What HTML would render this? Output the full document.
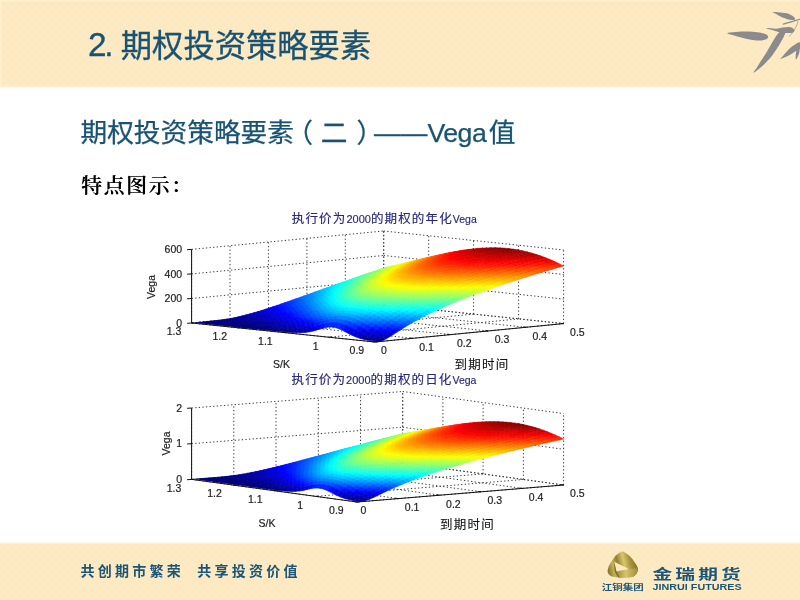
<!DOCTYPE html>
<html lang="zh-CN">
<head>
<meta charset="utf-8">
<title>期权投资策略要素 - Vega值</title>
<style>
html,body{margin:0;padding:0;}
body{width:800px;height:600px;overflow:hidden;background:#fff;position:relative;font-family:"Liberation Sans","Noto Sans CJK SC",sans-serif;}
.abs{position:absolute;white-space:nowrap;line-height:1;}
.hdr{left:0;top:0;width:800px;height:86px;background:#fce9c1;}
.hdr-fade{left:0;top:86px;width:800px;height:2px;background:linear-gradient(#fce9c1,#fff);}
.ftr{left:0;top:543px;width:800px;height:57px;background:#fce9c1;}
.ftr-fade{left:0;top:541.5px;width:800px;height:2px;background:linear-gradient(#fff,#fce9c1);}
.title{left:88px;top:31px;font-size:31.3px;color:#195373;word-spacing:-2px;-webkit-text-stroke:0.3px #195373;}
.sub{left:80.5px;top:119.5px;font-size:26.7px;color:#195373;-webkit-text-stroke:0.25px #195373;}
.sub span{position:relative;}
.feat{left:81px;top:176.3px;font-size:20.8px;letter-spacing:1.7px;color:#000;font-family:"Liberation Serif","Noto Serif CJK SC",serif;font-weight:500;text-shadow:0.55px 0 0 #000;}
.slogan{top:564.4px;font-size:14px;font-weight:700;color:#1b5577;letter-spacing:3.25px;}
.charts{position:absolute;left:0;top:0;}
.pat{position:absolute;left:0;top:0;}
</style>
</head>
<body>
<div class="abs hdr"></div>
<div class="abs hdr-fade"></div>
<div class="abs ftr"></div>
<div class="abs ftr-fade"></div>
<svg class="pat" width="800" height="600" viewBox="0 0 800 600">
<defs>
<pattern id="lat" width="8" height="8" patternUnits="userSpaceOnUse">
<path d="M0 4L4 0L8 4L4 8Z" fill="none" stroke="#fff4d8" stroke-width="0.8" opacity="0.22"/>
</pattern>
</defs>
<rect x="0" y="0" width="800" height="86" fill="url(#lat)"/>
<rect x="0" y="544" width="800" height="56" fill="url(#lat)"/>
<rect x="0" y="0" width="800" height="1.5" fill="#fef1cc" opacity="0.9"/>
<rect x="0" y="0" width="2" height="86" fill="#fef1cc" opacity="0.9"/>
</svg>
<!-- bamboo leaves -->
<svg class="abs" style="left:720px;top:0" width="80" height="80" viewBox="0 0 600 600">
<g fill="#8b8b8e" stroke="none">
<path d="M55 248C58 244 96 242 120 240C144 238 173 237 200 237C227 237 257 239 280 242C303 245 326 250 340 255C354 260 359 267 361 273C363 279 360 287 350 292C340 297 320 303 300 304C280 305 253 302 230 298C207 294 182 288 160 282C138 276 118 270 100 264C82 258 52 252 55 248Z"/>
<path d="M492 238C489 232 470 236 460 238C450 240 448 237 435 252C422 267 400 305 385 330C370 355 358 378 345 400C332 422 316 442 305 460C294 478 287 491 278 505C269 519 248 544 252 545C256 546 284 523 300 510C316 497 330 483 345 468C360 453 377 435 390 418C403 401 414 385 425 368C436 351 446 334 455 318C464 302 474 285 480 272C486 259 495 244 492 238Z"/>
<path d="M395 90C399 88 422 90 440 92C458 94 482 95 500 100C518 105 534 113 545 120C556 127 563 135 563 140C563 145 556 150 545 150C534 150 516 147 500 142C484 137 464 129 450 122C436 115 424 107 415 102C406 97 391 92 395 90Z"/>
<path d="M348 211C353 209 400 216 420 215C440 214 453 208 470 206C487 204 507 202 520 203C533 204 544 210 550 215C556 220 560 227 558 232C556 237 551 242 540 245C529 248 507 249 490 248C473 247 457 244 440 240C423 236 405 230 390 225C375 220 343 213 348 211Z"/>
<path d="M455 442C449 441 469 423 480 410C491 397 507 378 520 365C533 352 547 343 560 335C573 327 593 313 600 318C607 323 607 353 600 365C593 377 574 379 560 388C546 397 532 408 515 417C498 426 461 443 455 442Z"/>
<path d="M592 335C596 337 598 366 597 380C596 394 590 409 585 420C580 431 573 449 570 447C567 445 567 423 568 410C569 397 572 382 576 370C580 358 588 333 592 335Z"/>
</g>
<g fill="none" stroke="#8b8b8e" stroke-width="9" stroke-linecap="round">
<path d="M600 144C560 156 515 170 475 181"/>
<path d="M585 160C578 190 562 225 522 272" stroke-width="5"/>
</g>
</svg>
<div class="abs title" style="left:88px;top:28.2px;font-size:33.4px;letter-spacing:-2.4px">2.</div>
<div class="abs title" style="left:120.8px">期权投资策略要素</div>
<div class="abs sub">期权投资策略要素<span style="left:-7.8px">（</span>二<span style="left:9px">）</span>——<span style="letter-spacing:-0.5px;margin-right:2.4px">Vega</span>值</div>
<div class="abs feat">特点图示：</div>
<svg class="charts" width="800" height="600" viewBox="0 0 800 600">
<defs><filter id="sb" x="-5%" y="-5%" width="110%" height="110%"><feGaussianBlur stdDeviation="0.6"/></filter></defs><style>.c0{fill:#000080;stroke:#000080}.c1{fill:#008;stroke:#008}.c2{fill:#000090;stroke:#000090}.c3{fill:#000098;stroke:#000098}.c4{fill:#0000a0;stroke:#0000a0}.c5{fill:#0000a8;stroke:#0000a8}.c6{fill:#0000b0;stroke:#0000b0}.c7{fill:#0000b8;stroke:#0000b8}.c8{fill:#0000c0;stroke:#0000c0}.c9{fill:#0000c8;stroke:#0000c8}.c10{fill:#0000d0;stroke:#0000d0}.c11{fill:#0000d8;stroke:#0000d8}.c12{fill:#0000e0;stroke:#0000e0}.c13{fill:#0000e8;stroke:#0000e8}.c14{fill:#0000f0;stroke:#0000f0}.c15{fill:#0000f8;stroke:#0000f8}.c16{fill:#0001ff;stroke:#0001ff}.c17{fill:#0009ff;stroke:#0009ff}.c18{fill:#01f;stroke:#01f}.c19{fill:#0019ff;stroke:#0019ff}.c20{fill:#0021ff;stroke:#0021ff}.c21{fill:#0029ff;stroke:#0029ff}.c22{fill:#0031ff;stroke:#0031ff}.c23{fill:#0039ff;stroke:#0039ff}.c24{fill:#0041ff;stroke:#0041ff}.c25{fill:#0049ff;stroke:#0049ff}.c26{fill:#0051ff;stroke:#0051ff}.c27{fill:#0059ff;stroke:#0059ff}.c28{fill:#0061ff;stroke:#0061ff}.c29{fill:#0069ff;stroke:#0069ff}.c30{fill:#0071ff;stroke:#0071ff}.c31{fill:#0079ff;stroke:#0079ff}.c32{fill:#0082ff;stroke:#0082ff}.c33{fill:#008aff;stroke:#008aff}.c34{fill:#0092ff;stroke:#0092ff}.c35{fill:#009aff;stroke:#009aff}.c36{fill:#00a2ff;stroke:#00a2ff}.c37{fill:#0af;stroke:#0af}.c38{fill:#00b2ff;stroke:#00b2ff}.c39{fill:#00baff;stroke:#00baff}.c40{fill:#00c2ff;stroke:#00c2ff}.c41{fill:#00caff;stroke:#00caff}.c42{fill:#00d2ff;stroke:#00d2ff}.c43{fill:#00daff;stroke:#00daff}.c44{fill:#00e2ff;stroke:#00e2ff}.c45{fill:#00eaff;stroke:#00eaff}.c46{fill:#00f2ff;stroke:#00f2ff}.c47{fill:#00faff;stroke:#00faff}.c48{fill:#03fffc;stroke:#03fffc}.c49{fill:#0bfff4;stroke:#0bfff4}.c50{fill:#13ffec;stroke:#13ffec}.c51{fill:#1bffe4;stroke:#1bffe4}.c52{fill:#23ffdc;stroke:#23ffdc}.c53{fill:#2bffd4;stroke:#2bffd4}.c54{fill:#3fc;stroke:#3fc}.c55{fill:#3bffc4;stroke:#3bffc4}.c56{fill:#43ffbc;stroke:#43ffbc}.c57{fill:#4bffb4;stroke:#4bffb4}.c58{fill:#53ffac;stroke:#53ffac}.c59{fill:#5bffa4;stroke:#5bffa4}.c60{fill:#63ff9c;stroke:#63ff9c}.c61{fill:#6bff94;stroke:#6bff94}.c62{fill:#73ff8c;stroke:#73ff8c}.c63{fill:#7bff84;stroke:#7bff84}.c64{fill:#84ff7b;stroke:#84ff7b}.c65{fill:#8cff73;stroke:#8cff73}.c66{fill:#94ff6b;stroke:#94ff6b}.c67{fill:#9cff63;stroke:#9cff63}.c68{fill:#a4ff5b;stroke:#a4ff5b}.c69{fill:#acff53;stroke:#acff53}.c70{fill:#b4ff4b;stroke:#b4ff4b}.c71{fill:#bcff43;stroke:#bcff43}.c72{fill:#c4ff3b;stroke:#c4ff3b}.c73{fill:#cf3;stroke:#cf3}.c74{fill:#d4ff2b;stroke:#d4ff2b}.c75{fill:#dcff23;stroke:#dcff23}.c76{fill:#e4ff1b;stroke:#e4ff1b}.c77{fill:#ecff13;stroke:#ecff13}.c78{fill:#f4ff0b;stroke:#f4ff0b}.c79{fill:#fcff03;stroke:#fcff03}.c80{fill:#fffa00;stroke:#fffa00}.c81{fill:#fff200;stroke:#fff200}.c82{fill:#ffea00;stroke:#ffea00}.c83{fill:#ffe200;stroke:#ffe200}.c84{fill:#ffda00;stroke:#ffda00}.c85{fill:#ffd200;stroke:#ffd200}.c86{fill:#ffca00;stroke:#ffca00}.c87{fill:#ffc200;stroke:#ffc200}.c88{fill:#ffba00;stroke:#ffba00}.c89{fill:#ffb200;stroke:#ffb200}.c90{fill:#fa0;stroke:#fa0}.c91{fill:#ffa200;stroke:#ffa200}.c92{fill:#ff9a00;stroke:#ff9a00}.c93{fill:#ff9200;stroke:#ff9200}.c94{fill:#ff8a00;stroke:#ff8a00}.c95{fill:#ff8200;stroke:#ff8200}.c96{fill:#ff7900;stroke:#ff7900}.c97{fill:#ff7100;stroke:#ff7100}.c98{fill:#ff6900;stroke:#ff6900}.c99{fill:#ff6100;stroke:#ff6100}.c100{fill:#ff5900;stroke:#ff5900}.c101{fill:#ff5100;stroke:#ff5100}.c102{fill:#ff4900;stroke:#ff4900}.c103{fill:#ff4100;stroke:#ff4100}.c104{fill:#ff3900;stroke:#ff3900}.c105{fill:#ff3100;stroke:#ff3100}.c106{fill:#ff2900;stroke:#ff2900}.c107{fill:#ff2100;stroke:#ff2100}.c108{fill:#ff1900;stroke:#ff1900}.c109{fill:#f10;stroke:#f10}.c110{fill:#ff0900;stroke:#ff0900}.c111{fill:#ff0100;stroke:#ff0100}.c112{fill:#f80000;stroke:#f80000}.c113{fill:#f00000;stroke:#f00000}.c114{fill:#e80000;stroke:#e80000}.c115{fill:#e00000;stroke:#e00000}.c116{fill:#d80000;stroke:#d80000}.c117{fill:#d00000;stroke:#d00000}.c118{fill:#c80000;stroke:#c80000}.c119{fill:#c00000;stroke:#c00000}.c120{fill:#b80000;stroke:#b80000}.c121{fill:#b00000;stroke:#b00000}.c122{fill:#a80000;stroke:#a80000}.c123{fill:#a00000;stroke:#a00000}.c124{fill:#980000;stroke:#980000}.c125{fill:#900000;stroke:#900000}.c126{fill:#800;stroke:#800}</style>
<path d="M191.6 323.0L383.7 304.6M383.7 304.6L563.6 323.6M191.6 298.5L383.7 280.1M383.7 280.1L563.6 299.1M191.6 273.9L383.7 255.5M383.7 255.5L563.6 274.5M191.6 249.4L383.7 231.0M383.7 231.0L563.6 250.0M191.6 323.0L191.6 249.4M191.6 323.0L375.0 342.0M230.0 319.3L230.0 245.7M230.0 319.3L412.7 338.3M268.4 315.6L268.4 242.0M268.4 315.6L450.4 334.6M306.9 312.0L306.9 238.4M306.9 312.0L488.2 331.0M345.3 308.3L345.3 234.7M345.3 308.3L525.9 327.3M383.7 304.6L383.7 231.0M383.7 304.6L563.6 323.6M563.6 323.6L563.6 250.0M563.6 323.6L375.0 342.0M518.6 318.9L518.6 245.3M518.6 318.9L329.1 337.2M473.6 314.1L473.6 240.5M473.6 314.1L283.3 332.5M428.7 309.4L428.7 235.8M428.7 309.4L237.5 327.8M383.7 304.6L383.7 231.0M383.7 304.6L191.6 323.0" fill="none" stroke="#383838" stroke-width="1" stroke-dasharray="1.3 2.3"/>
<g stroke-width="0.6" stroke-linejoin="round" filter="url(#sb)"><path class="c68" d="M384.4 268.3l-4.5 1.1 3.8-1.3 4.5-1.1z"/><path class="c70" d="M388.9 267.3l-4.5 1 3.8-1.3 4.5-1z"/><path class="c73" d="M393.4 266.2l-4.5 1.1 3.8-1.3 4.5-1.1z"/><path class="c76" d="M397.9 265.1l-4.5 1.1 3.8-1.3 4.5-1.1z"/><path class="c79" d="M402.4 264l-4.5 1.1 3.8-1.3 4.5-1.1z"/><path class="c82" d="M406.9 262.9l-4.5 1.1 3.8-1.3 4.5-1.1z"/><path class="c85" d="M411.4 261.8l-4.5 1.1 3.8-1.3 4.5-1.1z"/><path class="c88" d="M415.9 260.7l-4.5 1.1 3.8-1.3 4.5-1.1z"/><path class="c90" d="M420.4 259.6l-4.5 1.1 3.8-1.3 4.5-1.1z"/><path class="c93" d="M424.9 258.5l-4.5 1.1 3.8-1.3 4.5-1.1z"/><path class="c96" d="M429.3 257.5l-4.4 1 3.8-1.3 4.5-1z"/><path class="c99" d="M433.8 256.4l-4.5 1.1 3.9-1.3 4.5-1z"/><path class="c102" d="M438.3 255.4l-4.5 1 3.9-1.2 4.5-1z"/><path class="c104" d="M442.8 254.5l-4.5 .9 3.9-1.2 4.5-1z"/><path class="c107" d="M447.3 253.5l-4.5 1 3.9-1.3 4.5-.9z"/><path class="c109" d="M451.8 252.7l-4.5 .8 3.9-1.2 4.5-.8z"/><path class="c112" d="M456.3 251.9l-4.5 .8 3.9-1.2 4.5-.8z"/><path class="c114" d="M460.8 251.2l-4.5 .7 3.9-1.2 4.5-.7z"/><path class="c116" d="M465.3 250.5l-4.5 .7 3.9-1.2 4.5-.6z"/><path class="c118" d="M469.8 250l-4.5 .5 3.9-1.1 4.4-.5z"/><path class="c120" d="M474.3 249.6l-4.5 .4 3.8-1.1 4.5-.5z"/><path class="c121" d="M478.8 249.2l-4.5 .4 3.8-1.2 4.5-.3z"/><path class="c123" d="M483.3 249l-4.5 .2 3.8-1.1 4.5-.2z"/><path class="c124" d="M487.8 248.9l-4.5 .1 3.8-1.1 4.5-.1z"/><path class="c125" d="M492.3 248.9l-4.5 0 3.8-1.1 4.5 0z"/><path class="c126" d="M496.8 249l-4.5-.1 3.8-1.1 4.5 .2zM501.3 249.3l-4.5-.3 3.8-1 4.5 .3zM505.8 249.8l-4.5-.5 3.8-1 4.5 .4zM510.3 250.3l-4.5-.5 3.8-1.1 4.5 .6zM514.8 251.1l-4.5-.8 3.8-1 4.5 .7z"/><path class="c125" d="M519.3 252l-4.5-.9 3.8-1.1 4.5 .9z"/><path class="c124" d="M523.8 253l-4.5-1 3.8-1.1 4.5 1.1z"/><path class="c123" d="M528.3 254.2l-4.5-1.2 3.8-1 4.5 1.2z"/><path class="c122" d="M532.8 255.6l-4.5-1.4 3.8-1 4.5 1.4z"/><path class="c120" d="M537.3 257.1l-4.5-1.5 3.8-1 4.5 1.5z"/><path class="c118" d="M541.8 258.8l-4.5-1.7 3.8-1 4.5 1.7z"/><path class="c115" d="M546.3 260.6l-4.5-1.8 3.8-1 4.5 1.8z"/><path class="c113" d="M550.8 262.6l-4.5-2 3.8-1 4.5 1.9z"/><path class="c110" d="M555.3 264.7l-4.5-2.1 3.8-1.1 4.5 2.2z"/><path class="c107" d="M559.8 267l-4.5-2.3 3.8-1 4.5 2.2z"/><path class="c66" d="M380.5 269.6l-4.5 1.1 3.9-1.3 4.5-1.1z"/><path class="c69" d="M385 268.6l-4.5 1 3.9-1.3 4.5-1z"/><path class="c71" d="M389.5 267.5l-4.5 1.1 3.9-1.3 4.5-1.1z"/><path class="c74" d="M394 266.4l-4.5 1.1 3.9-1.3 4.5-1.1z"/><path class="c77" d="M398.5 265.3l-4.5 1.1 3.9-1.3 4.5-1.1z"/><path class="c80" d="M403 264.2l-4.5 1.1 3.9-1.3 4.5-1.1z"/><path class="c83" d="M407.5 263.1l-4.5 1.1 3.9-1.3 4.5-1.1z"/><path class="c86" d="M412 262l-4.5 1.1 3.9-1.3 4.5-1.1z"/><path class="c89" d="M416.5 260.9l-4.5 1.1 3.9-1.3 4.5-1.1z"/><path class="c92" d="M421 259.8l-4.5 1.1 3.9-1.3 4.5-1.1z"/><path class="c95" d="M425.5 258.7l-4.5 1.1 3.9-1.3 4.4-1z"/><path class="c97" d="M430 257.7l-4.5 1 3.8-1.2 4.5-1.1z"/><path class="c100" d="M434.5 256.7l-4.5 1 3.8-1.3 4.5-1z"/><path class="c103" d="M439 255.7l-4.5 1 3.8-1.3 4.5-.9z"/><path class="c105" d="M443.5 254.8l-4.5 .9 3.8-1.2 4.5-1z"/><path class="c108" d="M448 253.9l-4.5 .9 3.8-1.3 4.5-.8z"/><path class="c110" d="M452.5 253.1l-4.5 .8 3.8-1.2 4.5-.8z"/><path class="c113" d="M457 252.4l-4.5 .7 3.8-1.2 4.5-.7z"/><path class="c115" d="M461.5 251.7l-4.5 .7 3.8-1.2 4.5-.7z"/><path class="c117" d="M466 251.2l-4.5 .5 3.8-1.2 4.5-.5z"/><path class="c118" d="M470.5 250.7l-4.5 .5 3.8-1.2 4.5-.4z"/><path class="c120" d="M475 250.3l-4.5 .4 3.8-1.1 4.5-.4z"/><path class="c121" d="M479.5 250.1l-4.5 .2 3.8-1.1 4.5-.2z"/><path class="c123" d="M484 250l-4.5 .1 3.8-1.1 4.5-.1z"/><path class="c124" d="M488.5 250l-4.5 0 3.8-1.1 4.5 0zM493 250.1l-4.5-.1 3.8-1.1 4.5 .1z"/><path class="c125" d="M497.5 250.4l-4.5-.3 3.8-1.1 4.5 .3zM502 250.8l-4.5-.4 3.8-1.1 4.5 .5zM506.5 251.4l-4.5-.6 3.8-1 4.5 .5zM511 252.1l-4.5-.7 3.8-1.1 4.5 .8z"/><path class="c124" d="M515.5 253l-4.5-.9 3.8-1 4.5 .9z"/><path class="c123" d="M520 254.1l-4.5-1.1 3.8-1 4.5 1z"/><path class="c122" d="M524.5 255.3l-4.5-1.2 3.8-1.1 4.5 1.2z"/><path class="c120" d="M529.1 256.7l-4.6-1.4 3.8-1.1 4.5 1.4z"/><path class="c119" d="M533.6 258.2l-4.5-1.5 3.7-1.1 4.5 1.5z"/><path class="c117" d="M538.1 259.9l-4.5-1.7 3.7-1.1 4.5 1.7z"/><path class="c114" d="M542.6 261.7l-4.5-1.8 3.7-1.1 4.5 1.8z"/><path class="c112" d="M547.1 263.7l-4.5-2 3.7-1.1 4.5 2z"/><path class="c109" d="M551.6 265.8l-4.5-2.1 3.7-1.1 4.5 2.1z"/><path class="c106" d="M556.1 268.1l-4.5-2.3 3.7-1.1 4.5 2.3z"/><path class="c64" d="M376.7 271l-4.5 1 3.8-1.3 4.5-1.1z"/><path class="c67" d="M381.2 269.9l-4.5 1.1 3.8-1.4 4.5-1z"/><path class="c70" d="M385.7 268.8l-4.5 1.1 3.8-1.3 4.5-1.1z"/><path class="c73" d="M390.2 267.8l-4.5 1 3.8-1.3 4.5-1.1z"/><path class="c75" d="M394.7 266.7l-4.5 1.1 3.8-1.4 4.5-1.1z"/><path class="c78" d="M399.2 265.5l-4.5 1.2 3.8-1.4 4.5-1.1z"/><path class="c81" d="M403.7 264.4l-4.5 1.1 3.8-1.3 4.5-1.1z"/><path class="c84" d="M408.2 263.3l-4.5 1.1 3.8-1.3 4.5-1.1z"/><path class="c87" d="M412.7 262.2l-4.5 1.1 3.8-1.3 4.5-1.1z"/><path class="c90" d="M417.2 261.1l-4.5 1.1 3.8-1.3 4.5-1.1z"/><path class="c93" d="M421.7 260l-4.5 1.1 3.8-1.3 4.5-1.1z"/><path class="c96" d="M426.2 259l-4.5 1 3.8-1.3 4.5-1z"/><path class="c98" d="M430.7 257.9l-4.5 1.1 3.8-1.3 4.5-1z"/><path class="c101" d="M435.2 256.9l-4.5 1 3.8-1.2 4.5-1z"/><path class="c104" d="M439.7 256l-4.5 .9 3.8-1.2 4.5-.9z"/><path class="c106" d="M444.2 255.1l-4.5 .9 3.8-1.2 4.5-.9z"/><path class="c109" d="M448.7 254.3l-4.5 .8 3.8-1.2 4.5-.8z"/><path class="c111" d="M453.2 253.6l-4.5 .7 3.8-1.2 4.5-.7z"/><path class="c113" d="M457.7 252.9l-4.5 .7 3.8-1.2 4.5-.7z"/><path class="c115" d="M462.2 252.3l-4.5 .6 3.8-1.2 4.5-.5z"/><path class="c117" d="M466.7 251.9l-4.5 .4 3.8-1.1 4.5-.5z"/><path class="c119" d="M471.2 251.5l-4.5 .4 3.8-1.2 4.5-.4z"/><path class="c120" d="M475.7 251.2l-4.5 .3 3.8-1.2 4.5-.2z"/><path class="c121" d="M480.2 251.1l-4.5 .1 3.8-1.1 4.5-.1z"/><path class="c122" d="M484.7 251.1l-4.5 0 3.8-1.1 4.5 0z"/><path class="c123" d="M489.2 251.2l-4.5-.1 3.8-1.1 4.5 .1z"/><path class="c124" d="M493.7 251.5l-4.5-.3 3.8-1.1 4.5 .3zM498.3 251.9l-4.6-.4 3.8-1.1 4.5 .4zM502.8 252.5l-4.5-.6 3.7-1.1 4.5 .6z"/><path class="c123" d="M507.3 253.2l-4.5-.7 3.7-1.1 4.5 .7zM511.8 254.1l-4.5-.9 3.7-1.1 4.5 .9z"/><path class="c122" d="M516.3 255.1l-4.5-1 3.7-1.1 4.5 1.1z"/><path class="c121" d="M520.8 256.4l-4.5-1.3 3.7-1 4.5 1.2z"/><path class="c119" d="M525.3 257.7l-4.5-1.3 3.7-1.1 4.6 1.4z"/><path class="c117" d="M529.8 259.3l-4.5-1.6 3.8-1 4.5 1.5z"/><path class="c115" d="M534.3 261l-4.5-1.7 3.8-1.1 4.5 1.7z"/><path class="c113" d="M538.8 262.8l-4.5-1.8 3.8-1.1 4.5 1.8z"/><path class="c110" d="M543.3 264.8l-4.5-2 3.8-1.1 4.5 2z"/><path class="c107" d="M547.8 266.9l-4.5-2.1 3.8-1.1 4.5 2.1z"/><path class="c104" d="M552.3 269.2l-4.5-2.3 3.8-1.1 4.5 2.3z"/><path class="c62" d="M372.8 272.3l-4.5 1 3.9-1.3 4.5-1z"/><path class="c65" d="M377.3 271.2l-4.5 1.1 3.9-1.3 4.5-1.1z"/><path class="c68" d="M381.8 270.2l-4.5 1 3.9-1.3 4.5-1.1z"/><path class="c71" d="M386.4 269.1l-4.6 1.1 3.9-1.4 4.5-1z"/><path class="c74" d="M390.9 268l-4.5 1.1 3.8-1.3 4.5-1.1z"/><path class="c77" d="M395.4 266.9l-4.5 1.1 3.8-1.3 4.5-1.2z"/><path class="c80" d="M399.9 265.7l-4.5 1.2 3.8-1.4 4.5-1.1z"/><path class="c82" d="M404.4 264.6l-4.5 1.1 3.8-1.3 4.5-1.1z"/><path class="c85" d="M408.9 263.5l-4.5 1.1 3.8-1.3 4.5-1.1z"/><path class="c88" d="M413.4 262.4l-4.5 1.1 3.8-1.3 4.5-1.1z"/><path class="c91" d="M417.9 261.3l-4.5 1.1 3.8-1.3 4.5-1.1z"/><path class="c94" d="M422.4 260.2l-4.5 1.1 3.8-1.3 4.5-1z"/><path class="c97" d="M426.9 259.2l-4.5 1 3.8-1.2 4.5-1.1z"/><path class="c100" d="M431.4 258.2l-4.5 1 3.8-1.3 4.5-1z"/><path class="c102" d="M435.9 257.3l-4.5 .9 3.8-1.3 4.5-.9z"/><path class="c105" d="M440.4 256.4l-4.5 .9 3.8-1.3 4.5-.9z"/><path class="c107" d="M444.9 255.5l-4.5 .9 3.8-1.3 4.5-.8z"/><path class="c109" d="M449.4 254.8l-4.5 .7 3.8-1.2 4.5-.7z"/><path class="c112" d="M453.9 254.1l-4.5 .7 3.8-1.2 4.5-.7z"/><path class="c114" d="M458.4 253.5l-4.5 .6 3.8-1.2 4.5-.6z"/><path class="c116" d="M462.9 253l-4.5 .5 3.8-1.2 4.5-.4z"/><path class="c117" d="M467.4 252.6l-4.5 .4 3.8-1.1 4.5-.4z"/><path class="c119" d="M471.9 252.4l-4.5 .2 3.8-1.1 4.5-.3z"/><path class="c120" d="M476.4 252.2l-4.5 .2 3.8-1.2 4.5-.1z"/><path class="c121" d="M480.9 252.2l-4.5 0 3.8-1.1 4.5 0z"/><path class="c122" d="M485.4 252.3l-4.5-.1 3.8-1.1 4.5 .1zM490 252.6l-4.6-.3 3.8-1.1 4.5 .3zM494.5 253l-4.5-.4 3.7-1.1 4.6 .4zM499 253.6l-4.5-.6 3.8-1.1 4.5 .6zM503.5 254.3l-4.5-.7 3.8-1.1 4.5 .7z"/><path class="c121" d="M508 255.2l-4.5-.9 3.8-1.1 4.5 .9zM512.5 256.2l-4.5-1 3.8-1.1 4.5 1z"/><path class="c119" d="M517 257.4l-4.5-1.2 3.8-1.1 4.5 1.3z"/><path class="c118" d="M521.5 258.8l-4.5-1.4 3.8-1 4.5 1.3z"/><path class="c116" d="M526 260.3l-4.5-1.5 3.8-1.1 4.5 1.6z"/><path class="c114" d="M530.5 262l-4.5-1.7 3.8-1 4.5 1.7z"/><path class="c112" d="M535 263.9l-4.5-1.9 3.8-1 4.5 1.8z"/><path class="c109" d="M539.5 265.9l-4.5-2 3.8-1.1 4.5 2z"/><path class="c106" d="M544 268l-4.5-2.1 3.8-1.1 4.5 2.1z"/><path class="c103" d="M548.5 270.3l-4.5-2.3 3.8-1.1 4.5 2.3z"/><path class="c61" d="M369 273.6l-4.5 1 3.8-1.3 4.5-1z"/><path class="c63" d="M373.5 272.6l-4.5 1 3.8-1.3 4.5-1.1z"/><path class="c66" d="M378 271.5l-4.5 1.1 3.8-1.4 4.5-1z"/><path class="c69" d="M382.5 270.4l-4.5 1.1 3.8-1.3 4.6-1.1z"/><path class="c72" d="M387 269.3l-4.5 1.1 3.9-1.3 4.5-1.1z"/><path class="c75" d="M391.5 268.2l-4.5 1.1 3.9-1.3 4.5-1.1z"/><path class="c78" d="M396 267.1l-4.5 1.1 3.9-1.3 4.5-1.2z"/><path class="c81" d="M400.5 266l-4.5 1.1 3.9-1.4 4.5-1.1z"/><path class="c84" d="M405 264.8l-4.5 1.2 3.9-1.4 4.5-1.1z"/><path class="c87" d="M409.6 263.7l-4.6 1.1 3.9-1.3 4.5-1.1z"/><path class="c89" d="M414.1 262.6l-4.5 1.1 3.8-1.3 4.5-1.1z"/><path class="c92" d="M418.6 261.5l-4.5 1.1 3.8-1.3 4.5-1.1z"/><path class="c95" d="M423.1 260.5l-4.5 1 3.8-1.3 4.5-1z"/><path class="c98" d="M427.6 259.5l-4.5 1 3.8-1.3 4.5-1z"/><path class="c101" d="M432.1 258.5l-4.5 1 3.8-1.3 4.5-.9z"/><path class="c103" d="M436.6 257.6l-4.5 .9 3.8-1.2 4.5-.9z"/><path class="c106" d="M441.1 256.8l-4.5 .8 3.8-1.2 4.5-.9z"/><path class="c108" d="M445.6 256l-4.5 .8 3.8-1.3 4.5-.7z"/><path class="c110" d="M450.1 255.3l-4.5 .7 3.8-1.2 4.5-.7z"/><path class="c112" d="M454.6 254.7l-4.5 .6 3.8-1.2 4.5-.6z"/><path class="c114" d="M459.1 254.2l-4.5 .5 3.8-1.2 4.5-.5z"/><path class="c116" d="M463.6 253.8l-4.5 .4 3.8-1.2 4.5-.4z"/><path class="c117" d="M468.1 253.5l-4.5 .3 3.8-1.2 4.5-.2z"/><path class="c118" d="M472.6 253.3l-4.5 .2 3.8-1.1 4.5-.2z"/><path class="c120" d="M477.1 253.3l-4.5 0 3.8-1.1 4.5 0zM481.7 253.4l-4.6-.1 3.8-1.1 4.5 .1z"/><path class="c121" d="M486.2 253.7l-4.5-.3 3.7-1.1 4.6 .3zM490.7 254.1l-4.5-.4 3.8-1.1 4.5 .4zM495.2 254.6l-4.5-.5 3.8-1.1 4.5 .6zM499.7 255.4l-4.5-.8 3.8-1 4.5 .7z"/><path class="c120" d="M504.2 256.2l-4.5-.8 3.8-1.1 4.5 .9z"/><path class="c119" d="M508.7 257.3l-4.5-1.1 3.8-1 4.5 1z"/><path class="c118" d="M513.2 258.5l-4.5-1.2 3.8-1.1 4.5 1.2z"/><path class="c117" d="M517.7 259.9l-4.5-1.4 3.8-1.1 4.5 1.4z"/><path class="c115" d="M522.2 261.4l-4.5-1.5 3.8-1.1 4.5 1.5z"/><path class="c113" d="M526.7 263.1l-4.5-1.7 3.8-1.1 4.5 1.7z"/><path class="c110" d="M531.2 265l-4.5-1.9 3.8-1.1 4.5 1.9z"/><path class="c108" d="M535.7 267l-4.5-2 3.8-1.1 4.5 2z"/><path class="c105" d="M540.2 269.1l-4.5-2.1 3.8-1.1 4.5 2.1z"/><path class="c102" d="M544.7 271.4l-4.5-2.3 3.8-1.1 4.5 2.3z"/><path class="c59" d="M365.2 274.9l-4.6 1 3.9-1.3 4.5-1z"/><path class="c62" d="M369.7 273.9l-4.5 1 3.8-1.3 4.5-1z"/><path class="c64" d="M374.2 272.8l-4.5 1.1 3.8-1.3 4.5-1.1z"/><path class="c67" d="M378.7 271.8l-4.5 1 3.8-1.3 4.5-1.1z"/><path class="c70" d="M383.2 270.7l-4.5 1.1 3.8-1.4 4.5-1.1z"/><path class="c73" d="M387.7 269.6l-4.5 1.1 3.8-1.4 4.5-1.1z"/><path class="c76" d="M392.2 268.4l-4.5 1.2 3.8-1.4 4.5-1.1z"/><path class="c79" d="M396.7 267.3l-4.5 1.1 3.8-1.3 4.5-1.1z"/><path class="c82" d="M401.2 266.2l-4.5 1.1 3.8-1.3 4.5-1.2z"/><path class="c85" d="M405.7 265l-4.5 1.2 3.8-1.4 4.6-1.1z"/><path class="c88" d="M410.2 263.9l-4.5 1.1 3.9-1.3 4.5-1.1z"/><path class="c91" d="M414.7 262.9l-4.5 1 3.9-1.3 4.5-1.1z"/><path class="c93" d="M419.3 261.8l-4.6 1.1 3.9-1.4 4.5-1z"/><path class="c96" d="M423.8 260.8l-4.5 1 3.8-1.3 4.5-1z"/><path class="c99" d="M428.3 259.8l-4.5 1 3.8-1.3 4.5-1z"/><path class="c101" d="M432.8 258.9l-4.5 .9 3.8-1.3 4.5-.9z"/><path class="c104" d="M437.3 258l-4.5 .9 3.8-1.3 4.5-.8z"/><path class="c106" d="M441.8 257.2l-4.5 .8 3.8-1.2 4.5-.8z"/><path class="c109" d="M446.3 256.5l-4.5 .7 3.8-1.2 4.5-.7z"/><path class="c111" d="M450.8 255.9l-4.5 .6 3.8-1.2 4.5-.6z"/><path class="c113" d="M455.3 255.4l-4.5 .5 3.8-1.2 4.5-.5z"/><path class="c114" d="M459.8 255l-4.5 .4 3.8-1.2 4.5-.4z"/><path class="c116" d="M464.3 254.7l-4.5 .3 3.8-1.2 4.5-.3z"/><path class="c117" d="M468.8 254.5l-4.5 .2 3.8-1.2 4.5-.2z"/><path class="c118" d="M473.3 254.4l-4.5 .1 3.8-1.2 4.5 0z"/><path class="c119" d="M477.9 254.5l-4.6-.1 3.8-1.1 4.6 .1zM482.4 254.8l-4.5-.3 3.8-1.1 4.5 .3z"/><path class="c120" d="M486.9 255.2l-4.5-.4 3.8-1.1 4.5 .4zM491.4 255.7l-4.5-.5 3.8-1.1 4.5 .5z"/><path class="c119" d="M495.9 256.5l-4.5-.8 3.8-1.1 4.5 .8zM500.4 257.3l-4.5-.8 3.8-1.1 4.5 .8z"/><path class="c118" d="M504.9 258.4l-4.5-1.1 3.8-1.1 4.5 1.1z"/><path class="c117" d="M509.4 259.6l-4.5-1.2 3.8-1.1 4.5 1.2z"/><path class="c115" d="M513.9 261l-4.5-1.4 3.8-1.1 4.5 1.4z"/><path class="c113" d="M518.4 262.5l-4.5-1.5 3.8-1.1 4.5 1.5z"/><path class="c111" d="M522.9 264.2l-4.5-1.7 3.8-1.1 4.5 1.7z"/><path class="c109" d="M527.4 266.1l-4.5-1.9 3.8-1.1 4.5 1.9z"/><path class="c106" d="M532 268.1l-4.6-2 3.8-1.1 4.5 2z"/><path class="c103" d="M536.5 270.3l-4.5-2.2 3.7-1.1 4.5 2.1z"/><path class="c100" d="M541 272.5l-4.5-2.2 3.7-1.2 4.5 2.3z"/><path class="c57" d="M361.3 276.3l-4.5 1 3.8-1.4 4.6-1z"/><path class="c60" d="M365.8 275.2l-4.5 1.1 3.9-1.4 4.5-1z"/><path class="c63" d="M370.3 274.2l-4.5 1 3.9-1.3 4.5-1.1z"/><path class="c65" d="M374.8 273.1l-4.5 1.1 3.9-1.4 4.5-1z"/><path class="c68" d="M379.4 272l-4.6 1.1 3.9-1.3 4.5-1.1z"/><path class="c71" d="M383.9 270.9l-4.5 1.1 3.8-1.3 4.5-1.1z"/><path class="c74" d="M388.4 269.8l-4.5 1.1 3.8-1.3 4.5-1.2z"/><path class="c77" d="M392.9 268.6l-4.5 1.2 3.8-1.4 4.5-1.1z"/><path class="c80" d="M397.4 267.5l-4.5 1.1 3.8-1.3 4.5-1.1z"/><path class="c83" d="M401.9 266.4l-4.5 1.1 3.8-1.3 4.5-1.2z"/><path class="c86" d="M406.4 265.3l-4.5 1.1 3.8-1.4 4.5-1.1z"/><path class="c89" d="M410.9 264.2l-4.5 1.1 3.8-1.4 4.5-1z"/><path class="c92" d="M415.4 263.1l-4.5 1.1 3.8-1.3 4.6-1.1z"/><path class="c94" d="M419.9 262.1l-4.5 1 3.9-1.3 4.5-1z"/><path class="c97" d="M424.5 261.1l-4.6 1 3.9-1.3 4.5-1z"/><path class="c100" d="M429 260.1l-4.5 1 3.8-1.3 4.5-.9z"/><path class="c102" d="M433.5 259.3l-4.5 .8 3.8-1.2 4.5-.9z"/><path class="c105" d="M438 258.5l-4.5 .8 3.8-1.3 4.5-.8z"/><path class="c107" d="M442.5 257.7l-4.5 .8 3.8-1.3 4.5-.7z"/><path class="c109" d="M447 257.1l-4.5 .6 3.8-1.2 4.5-.6z"/><path class="c111" d="M451.5 256.6l-4.5 .5 3.8-1.2 4.5-.5z"/><path class="c113" d="M456 256.1l-4.5 .5 3.8-1.2 4.5-.4z"/><path class="c114" d="M460.5 255.8l-4.5 .3 3.8-1.1 4.5-.3z"/><path class="c116" d="M465 255.6l-4.5 .2 3.8-1.1 4.5-.2z"/><path class="c117" d="M469.5 255.6l-4.5 0 3.8-1.1 4.5-.1z"/><path class="c118" d="M474.1 255.7l-4.6-.1 3.8-1.2 4.6 .1zM478.6 255.9l-4.5-.2 3.8-1.2 4.5 .3zM483.1 256.3l-4.5-.4 3.8-1.1 4.5 .4zM487.6 256.8l-4.5-.5 3.8-1.1 4.5 .5zM492.1 257.6l-4.5-.8 3.8-1.1 4.5 .8zM496.6 258.4l-4.5-.8 3.8-1.1 4.5 .8z"/><path class="c117" d="M501.1 259.5l-4.5-1.1 3.8-1.1 4.5 1.1z"/><path class="c115" d="M505.6 260.7l-4.5-1.2 3.8-1.1 4.5 1.2z"/><path class="c114" d="M510.1 262.1l-4.5-1.4 3.8-1.1 4.5 1.4z"/><path class="c112" d="M514.6 263.6l-4.5-1.5 3.8-1.1 4.5 1.5z"/><path class="c110" d="M519.2 265.3l-4.6-1.7 3.8-1.1 4.5 1.7z"/><path class="c108" d="M523.7 267.2l-4.5-1.9 3.7-1.1 4.5 1.9z"/><path class="c105" d="M528.2 269.2l-4.5-2 3.7-1.1 4.6 2z"/><path class="c102" d="M532.7 271.4l-4.5-2.2 3.8-1.1 4.5 2.2z"/><path class="c99" d="M537.2 273.7l-4.5-2.3 3.8-1.1 4.5 2.2z"/><path class="c55" d="M357.5 277.6l-4.5 1 3.8-1.3 4.5-1z"/><path class="c58" d="M362 276.6l-4.5 1 3.8-1.3 4.5-1.1z"/><path class="c61" d="M366.5 275.6l-4.5 1 3.8-1.4 4.5-1z"/><path class="c64" d="M371 274.5l-4.5 1.1 3.8-1.4 4.5-1.1z"/><path class="c67" d="M375.5 273.4l-4.5 1.1 3.8-1.4 4.6-1.1z"/><path class="c69" d="M380 272.3l-4.5 1.1 3.9-1.4 4.5-1.1z"/><path class="c72" d="M384.5 271.1l-4.5 1.2 3.9-1.4 4.5-1.1z"/><path class="c75" d="M389.1 270l-4.6 1.1 3.9-1.3 4.5-1.2z"/><path class="c78" d="M393.6 268.9l-4.5 1.1 3.8-1.4 4.5-1.1z"/><path class="c81" d="M398.1 267.7l-4.5 1.2 3.8-1.4 4.5-1.1z"/><path class="c84" d="M402.6 266.6l-4.5 1.1 3.8-1.3 4.5-1.1z"/><path class="c87" d="M407.1 265.5l-4.5 1.1 3.8-1.3 4.5-1.1z"/><path class="c90" d="M411.6 264.4l-4.5 1.1 3.8-1.3 4.5-1.1z"/><path class="c93" d="M416.1 263.4l-4.5 1 3.8-1.3 4.5-1z"/><path class="c95" d="M420.6 262.4l-4.5 1 3.8-1.3 4.6-1z"/><path class="c98" d="M425.1 261.4l-4.5 1 3.9-1.3 4.5-1z"/><path class="c101" d="M429.7 260.5l-4.6 .9 3.9-1.3 4.5-.8z"/><path class="c103" d="M434.2 259.7l-4.5 .8 3.8-1.2 4.5-.8z"/><path class="c105" d="M438.7 259l-4.5 .7 3.8-1.2 4.5-.8z"/><path class="c108" d="M443.2 258.3l-4.5 .7 3.8-1.3 4.5-.6z"/><path class="c109" d="M447.7 257.8l-4.5 .5 3.8-1.2 4.5-.5z"/><path class="c111" d="M452.2 257.3l-4.5 .5 3.8-1.2 4.5-.5z"/><path class="c113" d="M456.7 257l-4.5 .3 3.8-1.2 4.5-.3z"/><path class="c114" d="M461.2 256.8l-4.5 .2 3.8-1.2 4.5-.2z"/><path class="c115" d="M465.8 256.7l-4.6 .1 3.8-1.2 4.5 0z"/><path class="c116" d="M470.3 256.8l-4.5-.1 3.7-1.1 4.6 .1z"/><path class="c117" d="M474.8 257l-4.5-.2 3.8-1.1 4.5 .2zM479.3 257.4l-4.5-.4 3.8-1.1 4.5 .4zM483.8 258l-4.5-.6 3.8-1.1 4.5 .5zM488.3 258.7l-4.5-.7 3.8-1.2 4.5 .8z"/><path class="c116" d="M492.8 259.5l-4.5-.8 3.8-1.1 4.5 .8z"/><path class="c115" d="M497.3 260.6l-4.5-1.1 3.8-1.1 4.5 1.1z"/><path class="c114" d="M501.8 261.8l-4.5-1.2 3.8-1.1 4.5 1.2z"/><path class="c113" d="M506.4 263.2l-4.6-1.4 3.8-1.1 4.5 1.4z"/><path class="c111" d="M510.9 264.7l-4.5-1.5 3.7-1.1 4.5 1.5z"/><path class="c109" d="M515.4 266.5l-4.5-1.8 3.7-1.1 4.6 1.7z"/><path class="c106" d="M519.9 268.3l-4.5-1.8 3.8-1.2 4.5 1.9z"/><path class="c103" d="M524.4 270.4l-4.5-2.1 3.8-1.1 4.5 2z"/><path class="c101" d="M528.9 272.5l-4.5-2.1 3.8-1.2 4.5 2.2z"/><path class="c97" d="M533.4 274.8l-4.5-2.3 3.8-1.1 4.5 2.3z"/><path class="c54" d="M353.6 279l-4.5 .9 3.9-1.3 4.5-1z"/><path class="c56" d="M358.1 278l-4.5 1 3.9-1.4 4.5-1z"/><path class="c59" d="M362.7 276.9l-4.6 1.1 3.9-1.4 4.5-1z"/><path class="c62" d="M367.2 275.9l-4.5 1 3.8-1.3 4.5-1.1z"/><path class="c65" d="M371.7 274.8l-4.5 1.1 3.8-1.4 4.5-1.1z"/><path class="c68" d="M376.2 273.7l-4.5 1.1 3.8-1.4 4.5-1.1z"/><path class="c70" d="M380.7 272.5l-4.5 1.2 3.8-1.4 4.5-1.2z"/><path class="c73" d="M385.2 271.4l-4.5 1.1 3.8-1.4 4.6-1.1z"/><path class="c76" d="M389.7 270.2l-4.5 1.2 3.9-1.4 4.5-1.1z"/><path class="c79" d="M394.3 269.1l-4.6 1.1 3.9-1.3 4.5-1.2z"/><path class="c82" d="M398.8 268l-4.5 1.1 3.8-1.4 4.5-1.1z"/><path class="c85" d="M403.3 266.9l-4.5 1.1 3.8-1.4 4.5-1.1z"/><path class="c88" d="M407.8 265.8l-4.5 1.1 3.8-1.4 4.5-1.1z"/><path class="c91" d="M412.3 264.7l-4.5 1.1 3.8-1.4 4.5-1z"/><path class="c94" d="M416.8 263.7l-4.5 1 3.8-1.3 4.5-1z"/><path class="c96" d="M421.3 262.7l-4.5 1 3.8-1.3 4.5-1z"/><path class="c99" d="M425.8 261.8l-4.5 .9 3.8-1.3 4.6-.9z"/><path class="c101" d="M430.4 261l-4.6 .8 3.9-1.3 4.5-.8z"/><path class="c104" d="M434.9 260.2l-4.5 .8 3.8-1.3 4.5-.7z"/><path class="c106" d="M439.4 259.6l-4.5 .6 3.8-1.2 4.5-.7z"/><path class="c108" d="M443.9 259l-4.5 .6 3.8-1.3 4.5-.5z"/><path class="c110" d="M448.4 258.5l-4.5 .5 3.8-1.2 4.5-.5z"/><path class="c111" d="M452.9 258.2l-4.5 .3 3.8-1.2 4.5-.3z"/><path class="c113" d="M457.4 258l-4.5 .2 3.8-1.2 4.5-.2z"/><path class="c114" d="M462 257.9l-4.6 .1 3.8-1.2 4.6-.1z"/><path class="c115" d="M466.5 258l-4.5-.1 3.8-1.2 4.5 .1zM471 258.2l-4.5-.2 3.8-1.2 4.5 .2z"/><path class="c116" d="M475.5 258.5l-4.5-.3 3.8-1.2 4.5 .4zM480 259.1l-4.5-.6 3.8-1.1 4.5 .6z"/><path class="c115" d="M484.5 259.8l-4.5-.7 3.8-1.1 4.5 .7zM489 260.7l-4.5-.9 3.8-1.1 4.5 .8z"/><path class="c114" d="M493.5 261.7l-4.5-1 3.8-1.2 4.5 1.1z"/><path class="c113" d="M498.1 262.9l-4.6-1.2 3.8-1.1 4.5 1.2z"/><path class="c111" d="M502.6 264.3l-4.5-1.4 3.7-1.1 4.6 1.4z"/><path class="c109" d="M507.1 265.9l-4.5-1.6 3.8-1.1 4.5 1.5z"/><path class="c107" d="M511.6 267.6l-4.5-1.7 3.8-1.2 4.5 1.8z"/><path class="c105" d="M516.1 269.5l-4.5-1.9 3.8-1.1 4.5 1.8z"/><path class="c102" d="M520.6 271.5l-4.5-2 3.8-1.2 4.5 2.1z"/><path class="c99" d="M525.1 273.7l-4.5-2.2 3.8-1.1 4.5 2.1z"/><path class="c96" d="M529.7 276l-4.6-2.3 3.8-1.2 4.5 2.3z"/><path class="c52" d="M349.8 280.3l-4.5 1 3.8-1.4 4.5-.9z"/><path class="c54" d="M354.3 279.3l-4.5 1 3.8-1.3 4.5-1z"/><path class="c57" d="M358.8 278.3l-4.5 1 3.8-1.3 4.6-1.1z"/><path class="c60" d="M363.3 277.2l-4.5 1.1 3.9-1.4 4.5-1z"/><path class="c63" d="M367.9 276.2l-4.6 1 3.9-1.3 4.5-1.1z"/><path class="c66" d="M372.4 275l-4.5 1.2 3.8-1.4 4.5-1.1z"/><path class="c69" d="M376.9 273.9l-4.5 1.1 3.8-1.3 4.5-1.2z"/><path class="c72" d="M381.4 272.8l-4.5 1.1 3.8-1.4 4.5-1.1z"/><path class="c75" d="M385.9 271.6l-4.5 1.2 3.8-1.4 4.5-1.2z"/><path class="c78" d="M390.4 270.5l-4.5 1.1 3.8-1.4 4.6-1.1z"/><path class="c80" d="M394.9 269.3l-4.5 1.2 3.9-1.4 4.5-1.1z"/><path class="c83" d="M399.5 268.2l-4.6 1.1 3.9-1.3 4.5-1.1z"/><path class="c86" d="M404 267.1l-4.5 1.1 3.8-1.3 4.5-1.1z"/><path class="c89" d="M408.5 266.1l-4.5 1 3.8-1.3 4.5-1.1z"/><path class="c92" d="M413 265l-4.5 1.1 3.8-1.4 4.5-1z"/><path class="c95" d="M417.5 264l-4.5 1 3.8-1.3 4.5-1z"/><path class="c97" d="M422 263.1l-4.5 .9 3.8-1.3 4.5-.9z"/><path class="c100" d="M426.6 262.3l-4.6 .8 3.8-1.3 4.6-.8z"/><path class="c102" d="M431.1 261.5l-4.5 .8 3.8-1.3 4.5-.8z"/><path class="c104" d="M435.6 260.8l-4.5 .7 3.8-1.3 4.5-.6z"/><path class="c106" d="M440.1 260.2l-4.5 .6 3.8-1.2 4.5-.6z"/><path class="c108" d="M444.6 259.7l-4.5 .5 3.8-1.2 4.5-.5z"/><path class="c110" d="M449.1 259.4l-4.5 .3 3.8-1.2 4.5-.3z"/><path class="c111" d="M453.6 259.2l-4.5 .2 3.8-1.2 4.5-.2z"/><path class="c112" d="M458.2 259.1l-4.6 .1 3.8-1.2 4.6-.1z"/><path class="c113" d="M462.7 259.1l-4.5 0 3.8-1.2 4.5 .1z"/><path class="c114" d="M467.2 259.3l-4.5-.2 3.8-1.1 4.5 .2zM471.7 259.7l-4.5-.4 3.8-1.1 4.5 .3zM476.2 260.2l-4.5-.5 3.8-1.2 4.5 .6zM480.7 260.9l-4.5-.7 3.8-1.1 4.5 .7z"/><path class="c113" d="M485.2 261.8l-4.5-.9 3.8-1.1 4.5 .9zM489.8 262.8l-4.6-1 3.8-1.1 4.5 1z"/><path class="c111" d="M494.3 264l-4.5-1.2 3.7-1.1 4.6 1.2z"/><path class="c110" d="M498.8 265.4l-4.5-1.4 3.8-1.1 4.5 1.4z"/><path class="c108" d="M503.3 267l-4.5-1.6 3.8-1.1 4.5 1.6z"/><path class="c106" d="M507.8 268.7l-4.5-1.7 3.8-1.1 4.5 1.7z"/><path class="c103" d="M512.3 270.6l-4.5-1.9 3.8-1.1 4.5 1.9z"/><path class="c101" d="M516.9 272.7l-4.6-2.1 3.8-1.1 4.5 2z"/><path class="c98" d="M521.4 274.9l-4.6-2.2 3.8-1.2 4.5 2.2z"/><path class="c94" d="M525.9 277.2l-4.5-2.3 3.7-1.2 4.6 2.3z"/><path class="c50" d="M346 281.7l-4.6 .9 3.9-1.3 4.5-1z"/><path class="c53" d="M350.5 280.7l-4.5 1 3.8-1.4 4.5-1z"/><path class="c55" d="M355 279.7l-4.5 1 3.8-1.4 4.5-1z"/><path class="c58" d="M359.5 278.6l-4.5 1.1 3.8-1.4 4.5-1.1z"/><path class="c61" d="M364 277.5l-4.5 1.1 3.8-1.4 4.6-1z"/><path class="c64" d="M368.5 276.4l-4.5 1.1 3.9-1.3 4.5-1.2z"/><path class="c67" d="M373.1 275.3l-4.6 1.1 3.9-1.4 4.5-1.1z"/><path class="c70" d="M377.6 274.2l-4.5 1.1 3.8-1.4 4.5-1.1z"/><path class="c73" d="M382.1 273l-4.5 1.2 3.8-1.4 4.5-1.2z"/><path class="c76" d="M386.6 271.9l-4.5 1.1 3.8-1.4 4.5-1.1z"/><path class="c79" d="M391.1 270.7l-4.5 1.2 3.8-1.4 4.5-1.2z"/><path class="c82" d="M395.6 269.6l-4.5 1.1 3.8-1.4 4.6-1.1z"/><path class="c84" d="M400.2 268.5l-4.6 1.1 3.9-1.4 4.5-1.1z"/><path class="c87" d="M404.7 267.4l-4.5 1.1 3.8-1.4 4.5-1z"/><path class="c90" d="M409.2 266.4l-4.5 1 3.8-1.3 4.5-1.1z"/><path class="c93" d="M413.7 265.4l-4.5 1 3.8-1.4 4.5-1z"/><path class="c96" d="M418.2 264.4l-4.5 1 3.8-1.4 4.5-.9z"/><path class="c98" d="M422.7 263.6l-4.5 .8 3.8-1.3 4.6-.8z"/><path class="c100" d="M427.3 262.8l-4.6 .8 3.9-1.3 4.5-.8z"/><path class="c103" d="M431.8 262.1l-4.5 .7 3.8-1.3 4.5-.7z"/><path class="c105" d="M436.3 261.5l-4.5 .6 3.8-1.3 4.5-.6z"/><path class="c107" d="M440.8 261l-4.5 .5 3.8-1.3 4.5-.5z"/><path class="c108" d="M445.3 260.6l-4.5 .4 3.8-1.3 4.5-.3z"/><path class="c110" d="M449.8 260.4l-4.5 .2 3.8-1.2 4.5-.2z"/><path class="c111" d="M454.4 260.2l-4.6 .2 3.8-1.2 4.6-.1z"/><path class="c112" d="M458.9 260.3l-4.5-.1 3.8-1.1 4.5 0zM463.4 260.5l-4.5-.2 3.8-1.2 4.5 .2z"/><path class="c113" d="M467.9 260.8l-4.5-.3 3.8-1.2 4.5 .4zM472.4 261.4l-4.5-.6 3.8-1.1 4.5 .5zM476.9 262l-4.5-.6 3.8-1.2 4.5 .7z"/><path class="c112" d="M481.5 262.9l-4.6-.9 3.8-1.1 4.5 .9z"/><path class="c111" d="M486 264l-4.5-1.1 3.7-1.1 4.6 1z"/><path class="c110" d="M490.5 265.2l-4.5-1.2 3.8-1.2 4.5 1.2z"/><path class="c108" d="M495 266.6l-4.5-1.4 3.8-1.2 4.5 1.4z"/><path class="c107" d="M499.5 268.1l-4.5-1.5 3.8-1.2 4.5 1.6z"/><path class="c104" d="M504 269.9l-4.5-1.8 3.8-1.1 4.5 1.7z"/><path class="c102" d="M508.6 271.8l-4.6-1.9 3.8-1.2 4.5 1.9z"/><path class="c99" d="M513.1 273.8l-4.5-2 3.7-1.2 4.5 2.1z"/><path class="c96" d="M517.6 276l-4.5-2.2 3.7-1.1 4.6 2.2z"/><path class="c93" d="M522.1 278.4l-4.5-2.4 3.8-1.1 4.5 2.3z"/><path class="c48" d="M342.1 283l-4.5 1 3.8-1.4 4.6-.9z"/><path class="c51" d="M346.6 282.1l-4.5 .9 3.9-1.3 4.5-1z"/><path class="c53" d="M351.2 281.1l-4.6 1 3.9-1.4 4.5-1z"/><path class="c56" d="M355.7 280l-4.5 1.1 3.8-1.4 4.5-1.1z"/><path class="c59" d="M360.2 279l-4.5 1 3.8-1.4 4.5-1.1z"/><path class="c62" d="M364.7 277.9l-4.5 1.1 3.8-1.5 4.5-1.1z"/><path class="c65" d="M369.2 276.7l-4.5 1.2 3.8-1.5 4.6-1.1z"/><path class="c68" d="M373.7 275.6l-4.5 1.1 3.9-1.4 4.5-1.1z"/><path class="c71" d="M378.3 274.4l-4.6 1.2 3.9-1.4 4.5-1.2z"/><path class="c74" d="M382.8 273.3l-4.5 1.1 3.8-1.4 4.5-1.1z"/><path class="c77" d="M387.3 272.1l-4.5 1.2 3.8-1.4 4.5-1.2z"/><path class="c80" d="M391.8 271l-4.5 1.1 3.8-1.4 4.5-1.1z"/><path class="c83" d="M396.3 269.9l-4.5 1.1 3.8-1.4 4.6-1.1z"/><path class="c86" d="M400.9 268.8l-4.6 1.1 3.9-1.4 4.5-1.1z"/><path class="c88" d="M405.4 267.7l-4.5 1.1 3.8-1.4 4.5-1z"/><path class="c91" d="M409.9 266.7l-4.5 1 3.8-1.3 4.5-1z"/><path class="c94" d="M414.4 265.8l-4.5 .9 3.8-1.3 4.5-1z"/><path class="c96" d="M418.9 264.9l-4.5 .9 3.8-1.4 4.5-.8z"/><path class="c99" d="M423.4 264.1l-4.5 .8 3.8-1.3 4.6-.8z"/><path class="c101" d="M428 263.3l-4.6 .8 3.9-1.3 4.5-.7z"/><path class="c103" d="M432.5 262.7l-4.5 .6 3.8-1.2 4.5-.6z"/><path class="c105" d="M437 262.2l-4.5 .5 3.8-1.2 4.5-.5z"/><path class="c107" d="M441.5 261.8l-4.5 .4 3.8-1.2 4.5-.4z"/><path class="c108" d="M446 261.6l-4.5 .2 3.8-1.2 4.5-.2z"/><path class="c109" d="M450.6 261.4l-4.6 .2 3.8-1.2 4.6-.2z"/><path class="c110" d="M455.1 261.5l-4.5-.1 3.8-1.2 4.5 .1z"/><path class="c111" d="M459.6 261.6l-4.5-.1 3.8-1.2 4.5 .2zM464.1 262l-4.5-.4 3.8-1.1 4.5 .3zM468.6 262.5l-4.5-.5 3.8-1.2 4.5 .6zM473.2 263.2l-4.6-.7 3.8-1.1 4.5 .6zM477.7 264.1l-4.5-.9 3.7-1.2 4.6 .9z"/><path class="c110" d="M482.2 265.1l-4.5-1 3.8-1.2 4.5 1.1z"/><path class="c109" d="M486.7 266.3l-4.5-1.2 3.8-1.1 4.5 1.2z"/><path class="c107" d="M491.2 267.7l-4.5-1.4 3.8-1.1 4.5 1.4z"/><path class="c105" d="M495.7 269.3l-4.5-1.6 3.8-1.1 4.5 1.5z"/><path class="c103" d="M500.3 271l-4.6-1.7 3.8-1.2 4.5 1.8z"/><path class="c100" d="M504.8 272.9l-4.5-1.9 3.7-1.1 4.6 1.9z"/><path class="c98" d="M509.3 275l-4.5-2.1 3.8-1.1 4.5 2z"/><path class="c95" d="M513.8 277.2l-4.5-2.2 3.8-1.2 4.5 2.2z"/><path class="c91" d="M518.3 279.6l-4.5-2.4 3.8-1.2 4.5 2.4z"/><path class="c46" d="M338.3 284.4l-4.5 .9 3.8-1.3 4.5-1z"/><path class="c49" d="M342.8 283.5l-4.5 .9 3.8-1.4 4.5-.9z"/><path class="c52" d="M347.3 282.5l-4.5 1 3.8-1.4 4.6-1z"/><path class="c54" d="M351.8 281.4l-4.5 1.1 3.9-1.4 4.5-1.1z"/><path class="c57" d="M356.4 280.4l-4.6 1 3.9-1.4 4.5-1z"/><path class="c60" d="M360.9 279.3l-4.5 1.1 3.8-1.4 4.5-1.1z"/><path class="c63" d="M365.4 278.2l-4.5 1.1 3.8-1.4 4.5-1.2z"/><path class="c66" d="M369.9 277l-4.5 1.2 3.8-1.5 4.5-1.1z"/><path class="c69" d="M374.4 275.9l-4.5 1.1 3.8-1.4 4.6-1.2z"/><path class="c72" d="M379 274.7l-4.6 1.2 3.9-1.5 4.5-1.1z"/><path class="c75" d="M383.5 273.5l-4.5 1.2 3.8-1.4 4.5-1.2z"/><path class="c78" d="M388 272.4l-4.5 1.1 3.8-1.4 4.5-1.1z"/><path class="c81" d="M392.5 271.3l-4.5 1.1 3.8-1.4 4.5-1.1z"/><path class="c84" d="M397 270.2l-4.5 1.1 3.8-1.4 4.6-1.1z"/><path class="c87" d="M401.6 269.1l-4.6 1.1 3.9-1.4 4.5-1.1z"/><path class="c89" d="M406.1 268.1l-4.5 1 3.8-1.4 4.5-1z"/><path class="c92" d="M410.6 267.1l-4.5 1 3.8-1.4 4.5-.9z"/><path class="c95" d="M415.1 266.2l-4.5 .9 3.8-1.3 4.5-.9z"/><path class="c97" d="M419.6 265.4l-4.5 .8 3.8-1.3 4.5-.8z"/><path class="c99" d="M424.2 264.6l-4.6 .8 3.8-1.3 4.6-.8z"/><path class="c101" d="M428.7 264l-4.5 .6 3.8-1.3 4.5-.6z"/><path class="c103" d="M433.2 263.5l-4.5 .5 3.8-1.3 4.5-.5z"/><path class="c105" d="M437.7 263.1l-4.5 .4 3.8-1.3 4.5-.4z"/><path class="c107" d="M442.2 262.8l-4.5 .3 3.8-1.3 4.5-.2z"/><path class="c108" d="M446.8 262.6l-4.6 .2 3.8-1.2 4.6-.2z"/><path class="c109" d="M451.3 262.7l-4.5-.1 3.8-1.2 4.5 .1zM455.8 262.8l-4.5-.1 3.8-1.2 4.5 .1z"/><path class="c110" d="M460.3 263.2l-4.5-.4 3.8-1.2 4.5 .4zM464.8 263.7l-4.5-.5 3.8-1.2 4.5 .5zM469.4 264.3l-4.6-.6 3.8-1.2 4.6 .7z"/><path class="c109" d="M473.9 265.2l-4.5-.9 3.8-1.1 4.5 .9z"/><path class="c108" d="M478.4 266.3l-4.5-1.1 3.8-1.1 4.5 1z"/><path class="c107" d="M482.9 267.5l-4.5-1.2 3.8-1.2 4.5 1.2z"/><path class="c106" d="M487.4 268.9l-4.5-1.4 3.8-1.2 4.5 1.4z"/><path class="c104" d="M492 270.5l-4.6-1.6 3.8-1.2 4.5 1.6z"/><path class="c102" d="M496.5 272.2l-4.5-1.7 3.7-1.2 4.6 1.7z"/><path class="c99" d="M501 274.1l-4.5-1.9 3.8-1.2 4.5 1.9z"/><path class="c96" d="M505.5 276.2l-4.5-2.1 3.8-1.2 4.5 2.1z"/><path class="c93" d="M510 278.4l-4.5-2.2 3.8-1.2 4.5 2.2z"/><path class="c90" d="M514.6 280.8l-4.6-2.4 3.8-1.2 4.5 2.4z"/><path class="c44" d="M334.4 285.8l-4.5 .9 3.9-1.4 4.5-.9z"/><path class="c47" d="M339 284.9l-4.6 .9 3.9-1.4 4.5-.9z"/><path class="c50" d="M343.5 283.9l-4.5 1 3.8-1.4 4.5-1z"/><path class="c52" d="M348 282.9l-4.5 1 3.8-1.4 4.5-1.1z"/><path class="c55" d="M352.5 281.8l-4.5 1.1 3.8-1.5 4.6-1z"/><path class="c58" d="M357 280.7l-4.5 1.1 3.9-1.4 4.5-1.1z"/><path class="c61" d="M361.6 279.6l-4.6 1.1 3.9-1.4 4.5-1.1z"/><path class="c64" d="M366.1 278.5l-4.5 1.1 3.8-1.4 4.5-1.2z"/><path class="c67" d="M370.6 277.3l-4.5 1.2 3.8-1.5 4.5-1.1z"/><path class="c70" d="M375.1 276.1l-4.5 1.2 3.8-1.4 4.6-1.2z"/><path class="c73" d="M379.7 275l-4.6 1.1 3.9-1.4 4.5-1.2z"/><path class="c76" d="M384.2 273.8l-4.5 1.2 3.8-1.5 4.5-1.1z"/><path class="c79" d="M388.7 272.7l-4.5 1.1 3.8-1.4 4.5-1.1z"/><path class="c82" d="M393.2 271.6l-4.5 1.1 3.8-1.4 4.5-1.1z"/><path class="c85" d="M397.7 270.5l-4.5 1.1 3.8-1.4 4.6-1.1z"/><path class="c87" d="M402.3 269.4l-4.6 1.1 3.9-1.4 4.5-1z"/><path class="c90" d="M406.8 268.5l-4.5 .9 3.8-1.3 4.5-1z"/><path class="c93" d="M411.3 267.5l-4.5 1 3.8-1.4 4.5-.9z"/><path class="c95" d="M415.8 266.7l-4.5 .8 3.8-1.3 4.5-.8z"/><path class="c98" d="M420.4 265.9l-4.6 .8 3.8-1.3 4.6-.8z"/><path class="c100" d="M424.9 265.3l-4.5 .6 3.8-1.3 4.5-.6z"/><path class="c102" d="M429.4 264.7l-4.5 .6 3.8-1.3 4.5-.5z"/><path class="c103" d="M433.9 264.3l-4.5 .4 3.8-1.2 4.5-.4z"/><path class="c105" d="M438.4 264l-4.5 .3 3.8-1.2 4.5-.3z"/><path class="c106" d="M443 263.9l-4.6 .1 3.8-1.2 4.6-.2z"/><path class="c107" d="M447.5 263.9l-4.5 0 3.8-1.3 4.5 .1z"/><path class="c108" d="M452 264l-4.5-.1 3.8-1.2 4.5 .1zM456.5 264.3l-4.5-.3 3.8-1.2 4.5 .4zM461 264.8l-4.5-.5 3.8-1.1 4.5 .5zM465.6 265.5l-4.6-.7 3.8-1.1 4.6 .6zM470.1 266.4l-4.5-.9 3.8-1.2 4.5 .9z"/><path class="c107" d="M474.6 267.4l-4.5-1 3.8-1.2 4.5 1.1z"/><path class="c106" d="M479.1 268.6l-4.5-1.2 3.8-1.1 4.5 1.2z"/><path class="c104" d="M483.7 270.1l-4.6-1.5 3.8-1.1 4.5 1.4z"/><path class="c102" d="M488.2 271.6l-4.5-1.5 3.7-1.2 4.6 1.6z"/><path class="c100" d="M492.7 273.4l-4.5-1.8 3.8-1.1 4.5 1.7z"/><path class="c98" d="M497.2 275.3l-4.5-1.9 3.8-1.2 4.5 1.9z"/><path class="c95" d="M501.7 277.4l-4.5-2.1 3.8-1.2 4.5 2.1z"/><path class="c92" d="M506.3 279.6l-4.6-2.2 3.8-1.2 4.5 2.2z"/><path class="c88" d="M510.8 282l-4.5-2.4 3.7-1.2 4.6 2.4z"/><path class="c43" d="M330.6 287.2l-4.5 .9 3.8-1.4 4.5-.9z"/><path class="c45" d="M335.1 286.3l-4.5 .9 3.8-1.4 4.6-.9z"/><path class="c48" d="M339.6 285.3l-4.5 1 3.9-1.4 4.5-1z"/><path class="c50" d="M344.2 284.3l-4.6 1 3.9-1.4 4.5-1z"/><path class="c53" d="M348.7 283.2l-4.5 1.1 3.8-1.4 4.5-1.1z"/><path class="c56" d="M353.2 282.2l-4.5 1 3.8-1.4 4.5-1.1z"/><path class="c59" d="M357.7 281l-4.5 1.2 3.8-1.5 4.6-1.1z"/><path class="c62" d="M362.3 279.9l-4.6 1.1 3.9-1.4 4.5-1.1z"/><path class="c65" d="M366.8 278.8l-4.5 1.1 3.8-1.4 4.5-1.2z"/><path class="c68" d="M371.3 277.6l-4.5 1.2 3.8-1.5 4.5-1.2z"/><path class="c71" d="M375.8 276.4l-4.5 1.2 3.8-1.5 4.6-1.1z"/><path class="c74" d="M380.4 275.3l-4.6 1.1 3.9-1.4 4.5-1.2z"/><path class="c77" d="M384.9 274.1l-4.5 1.2 3.8-1.5 4.5-1.1z"/><path class="c80" d="M389.4 273l-4.5 1.1 3.8-1.4 4.5-1.1z"/><path class="c83" d="M393.9 271.9l-4.5 1.1 3.8-1.4 4.5-1.1z"/><path class="c86" d="M398.5 270.8l-4.6 1.1 3.8-1.4 4.6-1.1z"/><path class="c88" d="M403 269.8l-4.5 1 3.8-1.4 4.5-.9z"/><path class="c91" d="M407.5 268.9l-4.5 .9 3.8-1.3 4.5-1z"/><path class="c93" d="M412 268l-4.5 .9 3.8-1.4 4.5-.8z"/><path class="c96" d="M416.5 267.3l-4.5 .7 3.8-1.3 4.6-.8z"/><path class="c98" d="M421.1 266.6l-4.6 .7 3.9-1.4 4.5-.6z"/><path class="c100" d="M425.6 266l-4.5 .6 3.8-1.3 4.5-.6z"/><path class="c102" d="M430.1 265.6l-4.5 .4 3.8-1.3 4.5-.4z"/><path class="c103" d="M434.6 265.3l-4.5 .3 3.8-1.3 4.5-.3z"/><path class="c105" d="M439.2 265.1l-4.6 .2 3.8-1.3 4.6-.1z"/><path class="c106" d="M443.7 265.1l-4.5 0 3.8-1.2 4.5 0zM448.2 265.2l-4.5-.1 3.8-1.2 4.5 .1z"/><path class="c107" d="M452.7 265.5l-4.5-.3 3.8-1.2 4.5 .3zM457.3 266l-4.6-.5 3.8-1.2 4.5 .5zM461.8 266.7l-4.5-.7 3.7-1.2 4.6 .7z"/><path class="c106" d="M466.3 267.6l-4.5-.9 3.8-1.2 4.5 .9z"/><path class="c105" d="M470.8 268.6l-4.5-1 3.8-1.2 4.5 1z"/><path class="c104" d="M475.4 269.8l-4.6-1.2 3.8-1.2 4.5 1.2z"/><path class="c103" d="M479.9 271.2l-4.5-1.4 3.7-1.2 4.6 1.5z"/><path class="c101" d="M484.4 272.8l-4.5-1.6 3.8-1.1 4.5 1.5z"/><path class="c99" d="M488.9 274.6l-4.5-1.8 3.8-1.2 4.5 1.8z"/><path class="c96" d="M493.4 276.5l-4.5-1.9 3.8-1.2 4.5 1.9z"/><path class="c93" d="M498 278.6l-4.6-2.1 3.8-1.2 4.5 2.1z"/><path class="c90" d="M502.5 280.9l-4.5-2.3 3.7-1.2 4.6 2.2z"/><path class="c87" d="M507 283.2l-4.5-2.3 3.8-1.3 4.5 2.4z"/><path class="c41" d="M326.8 288.6l-4.6 .8 3.9-1.3 4.5-.9z"/><path class="c43" d="M331.3 287.7l-4.5 .9 3.8-1.4 4.5-.9z"/><path class="c46" d="M335.8 286.7l-4.5 1 3.8-1.4 4.5-1z"/><path class="c49" d="M340.3 285.7l-4.5 1 3.8-1.4 4.6-1z"/><path class="c51" d="M344.9 284.7l-4.6 1 3.9-1.4 4.5-1.1z"/><path class="c54" d="M349.4 283.6l-4.5 1.1 3.8-1.5 4.5-1z"/><path class="c57" d="M353.9 282.5l-4.5 1.1 3.8-1.4 4.5-1.2z"/><path class="c60" d="M358.4 281.4l-4.5 1.1 3.8-1.5 4.6-1.1z"/><path class="c63" d="M363 280.2l-4.6 1.2 3.9-1.5 4.5-1.1z"/><path class="c66" d="M367.5 279.1l-4.5 1.1 3.8-1.4 4.5-1.2z"/><path class="c69" d="M372 277.9l-4.5 1.2 3.8-1.5 4.5-1.2z"/><path class="c72" d="M376.5 276.7l-4.5 1.2 3.8-1.5 4.6-1.1z"/><path class="c75" d="M381.1 275.6l-4.6 1.1 3.9-1.4 4.5-1.2z"/><path class="c78" d="M385.6 274.4l-4.5 1.2 3.8-1.5 4.5-1.1z"/><path class="c81" d="M390.1 273.3l-4.5 1.1 3.8-1.4 4.5-1.1z"/><path class="c84" d="M394.6 272.2l-4.5 1.1 3.8-1.4 4.6-1.1z"/><path class="c86" d="M399.2 271.2l-4.6 1 3.9-1.4 4.5-1z"/><path class="c89" d="M403.7 270.3l-4.5 .9 3.8-1.4 4.5-.9z"/><path class="c92" d="M408.2 269.4l-4.5 .9 3.8-1.4 4.5-.9z"/><path class="c94" d="M412.7 268.6l-4.5 .8 3.8-1.4 4.5-.7z"/><path class="c96" d="M417.3 267.9l-4.6 .7 3.8-1.3 4.6-.7z"/><path class="c98" d="M421.8 267.3l-4.5 .6 3.8-1.3 4.5-.6z"/><path class="c100" d="M426.3 266.8l-4.5 .5 3.8-1.3 4.5-.4z"/><path class="c102" d="M430.8 266.5l-4.5 .3 3.8-1.2 4.5-.3z"/><path class="c103" d="M435.4 266.3l-4.6 .2 3.8-1.2 4.6-.2z"/><path class="c104" d="M439.9 266.3l-4.5 0 3.8-1.2 4.5 0z"/><path class="c105" d="M444.4 266.4l-4.5-.1 3.8-1.2 4.5 .1zM448.9 266.7l-4.5-.3 3.8-1.2 4.5 .3zM453.5 267.2l-4.6-.5 3.8-1.2 4.6 .5zM458 267.9l-4.5-.7 3.8-1.2 4.5 .7zM462.5 268.7l-4.5-.8 3.8-1.2 4.5 .9z"/><path class="c104" d="M467 269.8l-4.5-1.1 3.8-1.1 4.5 1z"/><path class="c103" d="M471.6 271l-4.6-1.2 3.8-1.2 4.6 1.2z"/><path class="c101" d="M476.1 272.4l-4.5-1.4 3.8-1.2 4.5 1.4z"/><path class="c99" d="M480.6 274l-4.5-1.6 3.8-1.2 4.5 1.6z"/><path class="c97" d="M485.1 275.8l-4.5-1.8 3.8-1.2 4.5 1.8z"/><path class="c94" d="M489.7 277.8l-4.6-2 3.8-1.2 4.5 1.9z"/><path class="c92" d="M494.2 279.9l-4.5-2.1 3.7-1.3 4.6 2.1z"/><path class="c88" d="M498.7 282.1l-4.5-2.2 3.8-1.3 4.5 2.3z"/><path class="c85" d="M503.2 284.5l-4.5-2.4 3.8-1.2 4.5 2.3z"/><path class="c39" d="M322.9 290l-4.5 .8 3.8-1.4 4.6-.8z"/><path class="c41" d="M327.4 289.1l-4.5 .9 3.9-1.4 4.5-.9z"/><path class="c44" d="M332 288.2l-4.6 .9 3.9-1.4 4.5-1z"/><path class="c47" d="M336.5 287.2l-4.5 1 3.8-1.5 4.5-1z"/><path class="c49" d="M341 286.1l-4.5 1.1 3.8-1.5 4.6-1z"/><path class="c52" d="M345.5 285.1l-4.5 1 3.9-1.4 4.5-1.1z"/><path class="c55" d="M350.1 284l-4.6 1.1 3.9-1.5 4.5-1.1z"/><path class="c58" d="M354.6 282.9l-4.5 1.1 3.8-1.5 4.5-1.1z"/><path class="c61" d="M359.1 281.7l-4.5 1.2 3.8-1.5 4.6-1.2z"/><path class="c64" d="M363.7 280.5l-4.6 1.2 3.9-1.5 4.5-1.1z"/><path class="c67" d="M368.2 279.4l-4.5 1.1 3.8-1.4 4.5-1.2z"/><path class="c70" d="M372.7 278.2l-4.5 1.2 3.8-1.5 4.5-1.2z"/><path class="c73" d="M377.2 277l-4.5 1.2 3.8-1.5 4.6-1.1z"/><path class="c76" d="M381.8 275.9l-4.6 1.1 3.9-1.4 4.5-1.2z"/><path class="c79" d="M386.3 274.7l-4.5 1.2 3.8-1.5 4.5-1.1z"/><path class="c82" d="M390.8 273.7l-4.5 1 3.8-1.4 4.5-1.1z"/><path class="c85" d="M395.3 272.6l-4.5 1.1 3.8-1.5 4.6-1z"/><path class="c87" d="M399.9 271.7l-4.6 .9 3.9-1.4 4.5-.9z"/><path class="c90" d="M404.4 270.8l-4.5 .9 3.8-1.4 4.5-.9z"/><path class="c92" d="M408.9 269.9l-4.5 .9 3.8-1.4 4.5-.8z"/><path class="c95" d="M413.5 269.2l-4.6 .7 3.8-1.3 4.6-.7z"/><path class="c97" d="M418 268.6l-4.5 .6 3.8-1.3 4.5-.6z"/><path class="c98" d="M422.5 268.1l-4.5 .5 3.8-1.3 4.5-.5z"/><path class="c100" d="M427 267.8l-4.5 .3 3.8-1.3 4.5-.3z"/><path class="c101" d="M431.6 267.6l-4.6 .2 3.8-1.3 4.6-.2z"/><path class="c102" d="M436.1 267.5l-4.5 .1 3.8-1.3 4.5 0z"/><path class="c103" d="M440.6 267.7l-4.5-.2 3.8-1.2 4.5 .1z"/><path class="c104" d="M445.1 268l-4.5-.3 3.8-1.3 4.5 .3zM449.7 268.4l-4.6-.4 3.8-1.3 4.6 .5zM454.2 269.1l-4.5-.7 3.8-1.2 4.5 .7z"/><path class="c103" d="M458.7 269.9l-4.5-.8 3.8-1.2 4.5 .8z"/><path class="c102" d="M463.3 271l-4.6-1.1 3.8-1.2 4.5 1.1z"/><path class="c101" d="M467.8 272.2l-4.5-1.2 3.7-1.2 4.6 1.2z"/><path class="c100" d="M472.3 273.6l-4.5-1.4 3.8-1.2 4.5 1.4z"/><path class="c98" d="M476.8 275.2l-4.5-1.6 3.8-1.2 4.5 1.6z"/><path class="c95" d="M481.4 277l-4.6-1.8 3.8-1.2 4.5 1.8z"/><path class="c93" d="M485.9 279l-4.5-2 3.7-1.2 4.6 2z"/><path class="c90" d="M490.4 281.1l-4.5-2.1 3.8-1.2 4.5 2.1z"/><path class="c87" d="M494.9 283.4l-4.5-2.3 3.8-1.2 4.5 2.2z"/><path class="c83" d="M499.5 285.8l-4.6-2.4 3.8-1.3 4.5 2.4z"/><path class="c37" d="M319.1 291.4l-4.6 .8 3.9-1.4 4.5-.8z"/><path class="c39" d="M323.6 290.5l-4.5 .9 3.8-1.4 4.5-.9z"/><path class="c42" d="M328.1 289.6l-4.5 .9 3.8-1.4 4.6-.9z"/><path class="c45" d="M332.7 288.6l-4.6 1 3.9-1.4 4.5-1z"/><path class="c47" d="M337.2 287.6l-4.5 1 3.8-1.4 4.5-1.1z"/><path class="c50" d="M341.7 286.6l-4.5 1 3.8-1.5 4.5-1z"/><path class="c53" d="M346.2 285.5l-4.5 1.1 3.8-1.5 4.6-1.1z"/><path class="c56" d="M350.8 284.4l-4.6 1.1 3.9-1.5 4.5-1.1z"/><path class="c59" d="M355.3 283.2l-4.5 1.2 3.8-1.5 4.5-1.2z"/><path class="c62" d="M359.8 282l-4.5 1.2 3.8-1.5 4.6-1.2z"/><path class="c65" d="M364.4 280.9l-4.6 1.1 3.9-1.5 4.5-1.1z"/><path class="c68" d="M368.9 279.7l-4.5 1.2 3.8-1.5 4.5-1.2z"/><path class="c71" d="M373.4 278.5l-4.5 1.2 3.8-1.5 4.5-1.2z"/><path class="c74" d="M377.9 277.3l-4.5 1.2 3.8-1.5 4.6-1.1z"/><path class="c77" d="M382.5 276.2l-4.5 1.1 3.8-1.4 4.5-1.2z"/><path class="c80" d="M387 275.1l-4.5 1.1 3.8-1.5 4.5-1z"/><path class="c83" d="M391.5 274.1l-4.5 1 3.8-1.4 4.5-1.1z"/><path class="c85" d="M396.1 273.1l-4.6 1 3.8-1.5 4.6-.9z"/><path class="c88" d="M400.6 272.1l-4.5 1 3.8-1.4 4.5-.9z"/><path class="c90" d="M405.1 271.3l-4.5 .8 3.8-1.3 4.5-.9z"/><path class="c93" d="M409.7 270.6l-4.6 .7 3.8-1.4 4.6-.7z"/><path class="c95" d="M414.2 269.9l-4.5 .7 3.8-1.4 4.5-.6z"/><path class="c97" d="M418.7 269.4l-4.5 .5 3.8-1.3 4.5-.5z"/><path class="c98" d="M423.2 269.1l-4.5 .3 3.8-1.3 4.5-.3z"/><path class="c100" d="M427.8 268.9l-4.6 .2 3.8-1.3 4.6-.2z"/><path class="c101" d="M432.3 268.8l-4.5 .1 3.8-1.3 4.5-.1z"/><path class="c102" d="M436.8 268.9l-4.5-.1 3.8-1.3 4.5 .2zM441.4 269.2l-4.6-.3 3.8-1.2 4.5 .3zM445.9 269.7l-4.5-.5 3.7-1.2 4.6 .4zM450.4 270.3l-4.5-.6 3.8-1.3 4.5 .7zM454.9 271.2l-4.5-.9 3.8-1.2 4.5 .8z"/><path class="c101" d="M459.5 272.2l-4.6-1 3.8-1.3 4.6 1.1z"/><path class="c100" d="M464 273.4l-4.5-1.2 3.8-1.2 4.5 1.2z"/><path class="c98" d="M468.5 274.9l-4.5-1.5 3.8-1.2 4.5 1.4z"/><path class="c96" d="M473.1 276.5l-4.6-1.6 3.8-1.3 4.5 1.6z"/><path class="c94" d="M477.6 278.3l-4.5-1.8 3.7-1.3 4.6 1.8z"/><path class="c91" d="M482.1 280.2l-4.5-1.9 3.8-1.3 4.5 2z"/><path class="c88" d="M486.6 282.4l-4.5-2.2 3.8-1.2 4.5 2.1z"/><path class="c85" d="M491.2 284.7l-4.6-2.3 3.8-1.3 4.5 2.3z"/><path class="c82" d="M495.7 287.1l-4.5-2.4 3.7-1.3 4.6 2.4z"/><path class="c35" d="M315.2 292.8l-4.5 .8 3.8-1.4 4.6-.8z"/><path class="c38" d="M319.8 291.9l-4.6 .9 3.9-1.4 4.5-.9z"/><path class="c40" d="M324.3 291l-4.5 .9 3.8-1.4 4.5-.9z"/><path class="c43" d="M328.8 290.1l-4.5 .9 3.8-1.4 4.6-1z"/><path class="c45" d="M333.4 289.1l-4.6 1 3.9-1.5 4.5-1z"/><path class="c48" d="M337.9 288.1l-4.5 1 3.8-1.5 4.5-1z"/><path class="c51" d="M342.4 287l-4.5 1.1 3.8-1.5 4.5-1.1z"/><path class="c54" d="M346.9 285.9l-4.5 1.1 3.8-1.5 4.6-1.1z"/><path class="c57" d="M351.5 284.7l-4.6 1.2 3.9-1.5 4.5-1.2z"/><path class="c60" d="M356 283.6l-4.5 1.1 3.8-1.5 4.5-1.2z"/><path class="c63" d="M360.5 282.4l-4.5 1.2 3.8-1.6 4.6-1.1z"/><path class="c66" d="M365.1 281.2l-4.6 1.2 3.9-1.5 4.5-1.2z"/><path class="c69" d="M369.6 280l-4.5 1.2 3.8-1.5 4.5-1.2z"/><path class="c72" d="M374.1 278.8l-4.5 1.2 3.8-1.5 4.6-1.2z"/><path class="c75" d="M378.7 277.7l-4.6 1.1 3.9-1.5 4.5-1.1z"/><path class="c78" d="M383.2 276.6l-4.5 1.1 3.8-1.5 4.5-1.1z"/><path class="c81" d="M387.7 275.5l-4.5 1.1 3.8-1.5 4.5-1z"/><path class="c83" d="M392.3 274.5l-4.6 1 3.8-1.4 4.6-1z"/><path class="c86" d="M396.8 273.5l-4.5 1 3.8-1.4 4.5-1z"/><path class="c89" d="M401.3 272.7l-4.5 .8 3.8-1.4 4.5-.8z"/><path class="c91" d="M405.8 271.9l-4.5 .8 3.8-1.4 4.6-.7z"/><path class="c93" d="M410.4 271.3l-4.6 .6 3.9-1.3 4.5-.7z"/><path class="c95" d="M414.9 270.8l-4.5 .5 3.8-1.4 4.5-.5z"/><path class="c97" d="M419.4 270.4l-4.5 .4 3.8-1.4 4.5-.3z"/><path class="c98" d="M424 270.1l-4.6 .3 3.8-1.3 4.6-.2z"/><path class="c99" d="M428.5 270.1l-4.5 0 3.8-1.2 4.5-.1z"/><path class="c100" d="M433 270.2l-4.5-.1 3.8-1.3 4.5 .1z"/><path class="c101" d="M437.6 270.4l-4.6-.2 3.8-1.3 4.6 .3zM442.1 270.9l-4.5-.5 3.8-1.2 4.5 .5zM446.6 271.5l-4.5-.6 3.8-1.2 4.5 .6z"/><path class="c100" d="M451.2 272.4l-4.6-.9 3.8-1.2 4.5 .9z"/><path class="c99" d="M455.7 273.4l-4.5-1 3.7-1.2 4.6 1z"/><path class="c98" d="M460.2 274.7l-4.5-1.3 3.8-1.2 4.5 1.2z"/><path class="c96" d="M464.7 276.1l-4.5-1.4 3.8-1.3 4.5 1.5z"/><path class="c95" d="M469.3 277.7l-4.6-1.6 3.8-1.2 4.6 1.6z"/><path class="c92" d="M473.8 279.5l-4.5-1.8 3.8-1.2 4.5 1.8z"/><path class="c90" d="M478.3 281.5l-4.5-2 3.8-1.2 4.5 1.9z"/><path class="c87" d="M482.9 283.7l-4.6-2.2 3.8-1.3 4.5 2.2z"/><path class="c84" d="M487.4 285.9l-4.5-2.2 3.7-1.3 4.6 2.3z"/><path class="c80" d="M491.9 288.4l-4.5-2.5 3.8-1.2 4.5 2.4z"/><path class="c33" d="M311.4 294.2l-4.5 .7 3.8-1.3 4.5-.8z"/><path class="c36" d="M315.9 293.4l-4.5 .8 3.8-1.4 4.6-.9z"/><path class="c38" d="M320.5 292.5l-4.6 .9 3.9-1.5 4.5-.9z"/><path class="c41" d="M325 291.6l-4.5 .9 3.8-1.5 4.5-.9z"/><path class="c43" d="M329.5 290.6l-4.5 1 3.8-1.5 4.6-1z"/><path class="c46" d="M334.1 289.6l-4.6 1 3.9-1.5 4.5-1z"/><path class="c49" d="M338.6 288.5l-4.5 1.1 3.8-1.5 4.5-1.1z"/><path class="c52" d="M343.1 287.4l-4.5 1.1 3.8-1.5 4.5-1.1z"/><path class="c55" d="M347.7 286.2l-4.6 1.2 3.8-1.5 4.6-1.2z"/><path class="c58" d="M352.2 285.1l-4.5 1.1 3.8-1.5 4.5-1.1z"/><path class="c61" d="M356.7 283.9l-4.5 1.2 3.8-1.5 4.5-1.2z"/><path class="c64" d="M361.2 282.7l-4.5 1.2 3.8-1.5 4.6-1.2z"/><path class="c67" d="M365.8 281.5l-4.6 1.2 3.9-1.5 4.5-1.2z"/><path class="c70" d="M370.3 280.3l-4.5 1.2 3.8-1.5 4.5-1.2z"/><path class="c73" d="M374.8 279.2l-4.5 1.1 3.8-1.5 4.6-1.1z"/><path class="c76" d="M379.4 278.1l-4.6 1.1 3.9-1.5 4.5-1.1z"/><path class="c79" d="M383.9 277l-4.5 1.1 3.8-1.5 4.5-1.1z"/><path class="c81" d="M388.4 275.9l-4.5 1.1 3.8-1.5 4.6-1z"/><path class="c84" d="M393 275l-4.6 .9 3.9-1.4 4.5-1z"/><path class="c87" d="M397.5 274.1l-4.5 .9 3.8-1.5 4.5-.8z"/><path class="c89" d="M402 273.3l-4.5 .8 3.8-1.4 4.5-.8z"/><path class="c91" d="M406.6 272.7l-4.6 .6 3.8-1.4 4.6-.6z"/><path class="c93" d="M411.1 272.1l-4.5 .6 3.8-1.4 4.5-.5z"/><path class="c95" d="M415.6 271.7l-4.5 .4 3.8-1.3 4.5-.4z"/><path class="c96" d="M420.2 271.4l-4.6 .3 3.8-1.3 4.6-.3z"/><path class="c98" d="M424.7 271.4l-4.5 0 3.8-1.3 4.5 0zM429.2 271.4l-4.5 0 3.8-1.3 4.5 .1z"/><path class="c99" d="M433.8 271.7l-4.6-.3 3.8-1.2 4.6 .2zM438.3 272.1l-4.5-.4 3.8-1.3 4.5 .5zM442.8 272.8l-4.5-.7 3.8-1.2 4.5 .6zM447.4 273.6l-4.6-.8 3.8-1.3 4.6 .9z"/><path class="c98" d="M451.9 274.7l-4.5-1.1 3.8-1.2 4.5 1z"/><path class="c96" d="M456.4 275.9l-4.5-1.2 3.8-1.3 4.5 1.3z"/><path class="c95" d="M461 277.4l-4.6-1.5 3.8-1.2 4.5 1.4z"/><path class="c93" d="M465.5 279l-4.5-1.6 3.7-1.3 4.6 1.6z"/><path class="c91" d="M470 280.8l-4.5-1.8 3.8-1.3 4.5 1.8z"/><path class="c88" d="M474.6 282.8l-4.6-2 3.8-1.3 4.5 2z"/><path class="c85" d="M479.1 285l-4.5-2.2 3.7-1.3 4.6 2.2z"/><path class="c82" d="M483.6 287.3l-4.5-2.3 3.8-1.3 4.5 2.2z"/><path class="c78" d="M488.2 289.7l-4.6-2.4 3.8-1.4 4.5 2.5z"/><path class="c31" d="M307.6 295.6l-4.6 .7 3.9-1.4 4.5-.7z"/><path class="c34" d="M312.1 294.8l-4.5 .8 3.8-1.4 4.5-.8z"/><path class="c36" d="M316.6 293.9l-4.5 .9 3.8-1.4 4.6-.9z"/><path class="c39" d="M321.2 293l-4.6 .9 3.9-1.4 4.5-.9z"/><path class="c41" d="M325.7 292.1l-4.5 .9 3.8-1.4 4.5-1z"/><path class="c44" d="M330.2 291.1l-4.5 1 3.8-1.5 4.6-1z"/><path class="c47" d="M334.8 290l-4.6 1.1 3.9-1.5 4.5-1.1z"/><path class="c50" d="M339.3 288.9l-4.5 1.1 3.8-1.5 4.5-1.1z"/><path class="c52" d="M343.8 287.8l-4.5 1.1 3.8-1.5 4.6-1.2z"/><path class="c55" d="M348.4 286.6l-4.6 1.2 3.9-1.6 4.5-1.1z"/><path class="c58" d="M352.9 285.5l-4.5 1.1 3.8-1.5 4.5-1.2z"/><path class="c62" d="M357.4 284.3l-4.5 1.2 3.8-1.6 4.5-1.2z"/><path class="c65" d="M362 283.1l-4.6 1.2 3.8-1.6 4.6-1.2z"/><path class="c68" d="M366.5 281.9l-4.5 1.2 3.8-1.6 4.5-1.2z"/><path class="c71" d="M371 280.7l-4.5 1.2 3.8-1.6 4.5-1.1z"/><path class="c74" d="M375.6 279.6l-4.6 1.1 3.8-1.5 4.6-1.1z"/><path class="c77" d="M380.1 278.5l-4.5 1.1 3.8-1.5 4.5-1.1z"/><path class="c79" d="M384.6 277.4l-4.5 1.1 3.8-1.5 4.5-1.1z"/><path class="c82" d="M389.2 276.4l-4.6 1 3.8-1.5 4.6-.9z"/><path class="c85" d="M393.7 275.5l-4.5 .9 3.8-1.4 4.5-.9z"/><path class="c87" d="M398.2 274.7l-4.5 .8 3.8-1.4 4.5-.8z"/><path class="c89" d="M402.8 274l-4.6 .7 3.8-1.4 4.6-.6z"/><path class="c91" d="M407.3 273.5l-4.5 .5 3.8-1.3 4.5-.6z"/><path class="c93" d="M411.8 273l-4.5 .5 3.8-1.4 4.5-.4z"/><path class="c95" d="M416.4 272.8l-4.6 .2 3.8-1.3 4.6-.3z"/><path class="c96" d="M420.9 272.7l-4.5 .1 3.8-1.4 4.5 0z"/><path class="c97" d="M425.4 272.7l-4.5 0 3.8-1.3 4.5 0zM430 273l-4.6-.3 3.8-1.3 4.6 .3z"/><path class="c98" d="M434.5 273.4l-4.5-.4 3.8-1.3 4.5 .4z"/><path class="c97" d="M439 274l-4.5-.6 3.8-1.3 4.5 .7zM443.6 274.9l-4.6-.9 3.8-1.2 4.6 .8z"/><path class="c96" d="M448.1 275.9l-4.5-1 3.8-1.3 4.5 1.1z"/><path class="c95" d="M452.6 277.2l-4.5-1.3 3.8-1.2 4.5 1.2z"/><path class="c93" d="M457.2 278.6l-4.6-1.4 3.8-1.3 4.6 1.5z"/><path class="c91" d="M461.7 280.3l-4.5-1.7 3.8-1.2 4.5 1.6z"/><path class="c89" d="M466.3 282.1l-4.6-1.8 3.8-1.3 4.5 1.8z"/><path class="c86" d="M470.8 284.1l-4.5-2 3.7-1.3 4.6 2z"/><path class="c83" d="M475.3 286.3l-4.5-2.2 3.8-1.3 4.5 2.2z"/><path class="c80" d="M479.9 288.6l-4.6-2.3 3.8-1.3 4.5 2.3z"/><path class="c77" d="M484.4 291l-4.5-2.4 3.7-1.3 4.6 2.4z"/><path class="c30" d="M303.7 297l-4.5 .7 3.8-1.4 4.6-.7z"/><path class="c32" d="M308.2 296.2l-4.5 .8 3.9-1.4 4.5-.8z"/><path class="c34" d="M312.8 295.4l-4.6 .8 3.9-1.4 4.5-.9z"/><path class="c37" d="M317.3 294.5l-4.5 .9 3.8-1.5 4.6-.9z"/><path class="c39" d="M321.9 293.6l-4.6 .9 3.9-1.5 4.5-.9z"/><path class="c42" d="M326.4 292.6l-4.5 1 3.8-1.5 4.5-1z"/><path class="c45" d="M330.9 291.6l-4.5 1 3.8-1.5 4.6-1.1z"/><path class="c47" d="M335.5 290.5l-4.6 1.1 3.9-1.6 4.5-1.1z"/><path class="c50" d="M340 289.4l-4.5 1.1 3.8-1.6 4.5-1.1z"/><path class="c53" d="M344.5 288.2l-4.5 1.2 3.8-1.6 4.6-1.2z"/><path class="c56" d="M349.1 287l-4.6 1.2 3.9-1.6 4.5-1.1z"/><path class="c59" d="M353.6 285.8l-4.5 1.2 3.8-1.5 4.5-1.2z"/><path class="c62" d="M358.1 284.6l-4.5 1.2 3.8-1.5 4.6-1.2z"/><path class="c65" d="M362.7 283.4l-4.6 1.2 3.9-1.5 4.5-1.2z"/><path class="c69" d="M367.2 282.2l-4.5 1.2 3.8-1.5 4.5-1.2z"/><path class="c72" d="M371.8 281.1l-4.6 1.1 3.8-1.5 4.6-1.1z"/><path class="c74" d="M376.3 280l-4.5 1.1 3.8-1.5 4.5-1.1z"/><path class="c77" d="M380.8 278.9l-4.5 1.1 3.8-1.5 4.5-1.1z"/><path class="c80" d="M385.4 277.9l-4.6 1 3.8-1.5 4.6-1z"/><path class="c83" d="M389.9 277l-4.5 .9 3.8-1.5 4.5-.9z"/><path class="c85" d="M394.4 276.2l-4.5 .8 3.8-1.5 4.5-.8z"/><path class="c87" d="M399 275.4l-4.6 .8 3.8-1.5 4.6-.7z"/><path class="c89" d="M403.5 274.9l-4.5 .5 3.8-1.4 4.5-.5z"/><path class="c91" d="M408 274.4l-4.5 .5 3.8-1.4 4.5-.5z"/><path class="c93" d="M412.6 274.1l-4.6 .3 3.8-1.4 4.6-.2z"/><path class="c94" d="M417.1 274l-4.5 .1 3.8-1.3 4.5-.1z"/><path class="c95" d="M421.6 274l-4.5 0 3.8-1.3 4.5 0z"/><path class="c96" d="M426.2 274.3l-4.6-.3 3.8-1.3 4.6 .3zM430.7 274.7l-4.5-.4 3.8-1.3 4.5 .4zM435.3 275.3l-4.6-.6 3.8-1.3 4.5 .6z"/><path class="c95" d="M439.8 276.2l-4.5-.9 3.7-1.3 4.6 .9z"/><path class="c94" d="M444.3 277.2l-4.5-1 3.8-1.3 4.5 1z"/><path class="c93" d="M448.9 278.5l-4.6-1.3 3.8-1.3 4.5 1.3z"/><path class="c92" d="M453.4 279.9l-4.5-1.4 3.7-1.3 4.6 1.4z"/><path class="c90" d="M457.9 281.6l-4.5-1.7 3.8-1.3 4.5 1.7z"/><path class="c87" d="M462.5 283.4l-4.6-1.8 3.8-1.3 4.6 1.8z"/><path class="c85" d="M467 285.4l-4.5-2 3.8-1.3 4.5 2z"/><path class="c82" d="M471.5 287.6l-4.5-2.2 3.8-1.3 4.5 2.2z"/><path class="c78" d="M476.1 289.9l-4.6-2.3 3.8-1.3 4.6 2.3z"/><path class="c75" d="M480.6 292.4l-4.5-2.5 3.8-1.3 4.5 2.4z"/><path class="c28" d="M299.9 298.4l-4.6 .6 3.9-1.3 4.5-.7z"/><path class="c30" d="M304.4 297.6l-4.5 .8 3.8-1.4 4.5-.8z"/><path class="c32" d="M308.9 296.9l-4.5 .7 3.8-1.4 4.6-.8z"/><path class="c35" d="M313.5 296l-4.6 .9 3.9-1.5 4.5-.9z"/><path class="c37" d="M318 295.1l-4.5 .9 3.8-1.5 4.6-.9z"/><path class="c40" d="M322.6 294.1l-4.6 1 3.9-1.5 4.5-1z"/><path class="c42" d="M327.1 293.1l-4.5 1 3.8-1.5 4.5-1z"/><path class="c45" d="M331.6 292l-4.5 1.1 3.8-1.5 4.6-1.1z"/><path class="c48" d="M336.2 290.9l-4.6 1.1 3.9-1.5 4.5-1.1z"/><path class="c51" d="M340.7 289.8l-4.5 1.1 3.8-1.5 4.5-1.2z"/><path class="c54" d="M345.2 288.6l-4.5 1.2 3.8-1.6 4.6-1.2z"/><path class="c57" d="M349.8 287.4l-4.6 1.2 3.9-1.6 4.5-1.2z"/><path class="c60" d="M354.3 286.2l-4.5 1.2 3.8-1.6 4.5-1.2z"/><path class="c63" d="M358.9 285l-4.6 1.2 3.8-1.6 4.6-1.2z"/><path class="c66" d="M363.4 283.8l-4.5 1.2 3.8-1.6 4.5-1.2z"/><path class="c69" d="M367.9 282.6l-4.5 1.2 3.8-1.6 4.6-1.1z"/><path class="c72" d="M372.5 281.5l-4.6 1.1 3.9-1.5 4.5-1.1z"/><path class="c75" d="M377 280.4l-4.5 1.1 3.8-1.5 4.5-1.1z"/><path class="c78" d="M381.6 279.4l-4.6 1 3.8-1.5 4.6-1z"/><path class="c81" d="M386.1 278.5l-4.5 .9 3.8-1.5 4.5-.9z"/><path class="c83" d="M390.6 277.6l-4.5 .9 3.8-1.5 4.5-.8z"/><path class="c85" d="M395.2 276.9l-4.6 .7 3.8-1.4 4.6-.8z"/><path class="c88" d="M399.7 276.3l-4.5 .6 3.8-1.5 4.5-.5z"/><path class="c89" d="M404.2 275.8l-4.5 .5 3.8-1.4 4.5-.5z"/><path class="c91" d="M408.8 275.5l-4.6 .3 3.8-1.4 4.6-.3z"/><path class="c92" d="M413.3 275.3l-4.5 .2 3.8-1.4 4.5-.1z"/><path class="c93" d="M417.9 275.3l-4.6 0 3.8-1.3 4.5 0z"/><path class="c94" d="M422.4 275.6l-4.5-.3 3.7-1.3 4.6 .3zM426.9 276l-4.5-.4 3.8-1.3 4.5 .4zM431.5 276.6l-4.6-.6 3.8-1.3 4.6 .6zM436 277.4l-4.5-.8 3.8-1.3 4.5 .9z"/><path class="c93" d="M440.5 278.5l-4.5-1.1 3.8-1.2 4.5 1z"/><path class="c91" d="M445.1 279.7l-4.6-1.2 3.8-1.3 4.6 1.3z"/><path class="c90" d="M449.6 281.2l-4.5-1.5 3.8-1.2 4.5 1.4z"/><path class="c88" d="M454.2 282.9l-4.6-1.7 3.8-1.3 4.5 1.7z"/><path class="c86" d="M458.7 284.7l-4.5-1.8 3.7-1.3 4.6 1.8z"/><path class="c83" d="M463.2 286.8l-4.5-2.1 3.8-1.3 4.5 2z"/><path class="c80" d="M467.8 289l-4.6-2.2 3.8-1.4 4.5 2.2z"/><path class="c77" d="M472.3 291.3l-4.5-2.3 3.7-1.4 4.6 2.3z"/><path class="c73" d="M476.8 293.8l-4.5-2.5 3.8-1.4 4.5 2.5z"/><path class="c26" d="M296 299.8l-4.5 .6 3.8-1.4 4.6-.6z"/><path class="c28" d="M300.6 299.1l-4.6 .7 3.9-1.4 4.5-.8z"/><path class="c30" d="M305.1 298.3l-4.5 .8 3.8-1.5 4.5-.7z"/><path class="c33" d="M309.6 297.5l-4.5 .8 3.8-1.4 4.6-.9z"/><path class="c35" d="M314.2 296.6l-4.6 .9 3.9-1.5 4.5-.9z"/><path class="c38" d="M318.7 295.7l-4.5 .9 3.8-1.5 4.6-1z"/><path class="c40" d="M323.3 294.7l-4.6 1 3.9-1.6 4.5-1z"/><path class="c43" d="M327.8 293.6l-4.5 1.1 3.8-1.6 4.5-1.1z"/><path class="c46" d="M332.3 292.5l-4.5 1.1 3.8-1.6 4.6-1.1z"/><path class="c49" d="M336.9 291.4l-4.6 1.1 3.9-1.6 4.5-1.1z"/><path class="c52" d="M341.4 290.2l-4.5 1.2 3.8-1.6 4.5-1.2z"/><path class="c55" d="M346 289l-4.6 1.2 3.8-1.6 4.6-1.2z"/><path class="c58" d="M350.5 287.8l-4.5 1.2 3.8-1.6 4.5-1.2z"/><path class="c61" d="M355 286.6l-4.5 1.2 3.8-1.6 4.6-1.2z"/><path class="c64" d="M359.6 285.4l-4.6 1.2 3.9-1.6 4.5-1.2z"/><path class="c67" d="M364.1 284.2l-4.5 1.2 3.8-1.6 4.5-1.2z"/><path class="c70" d="M368.7 283.1l-4.6 1.1 3.8-1.6 4.6-1.1z"/><path class="c73" d="M373.2 282l-4.5 1.1 3.8-1.6 4.5-1.1z"/><path class="c76" d="M377.7 280.9l-4.5 1.1 3.8-1.6 4.6-1z"/><path class="c79" d="M382.3 280l-4.6 .9 3.9-1.5 4.5-.9z"/><path class="c81" d="M386.8 279.1l-4.5 .9 3.8-1.5 4.5-.9z"/><path class="c83" d="M391.4 278.3l-4.6 .8 3.8-1.5 4.6-.7z"/><path class="c86" d="M395.9 277.7l-4.5 .6 3.8-1.4 4.5-.6z"/><path class="c88" d="M400.4 277.2l-4.5 .5 3.8-1.4 4.5-.5z"/><path class="c89" d="M405 276.8l-4.6 .4 3.8-1.4 4.6-.3z"/><path class="c90" d="M409.5 276.7l-4.5 .1 3.8-1.3 4.5-.2z"/><path class="c91" d="M414.1 276.7l-4.6 0 3.8-1.4 4.6 0z"/><path class="c92" d="M418.6 276.9l-4.5-.2 3.8-1.4 4.5 .3zM423.1 277.3l-4.5-.4 3.8-1.3 4.5 .4zM427.7 277.9l-4.6-.6 3.8-1.3 4.6 .6zM432.2 278.8l-4.5-.9 3.8-1.3 4.5 .8z"/><path class="c91" d="M436.8 279.8l-4.6-1 3.8-1.4 4.5 1.1z"/><path class="c90" d="M441.3 281.1l-4.5-1.3 3.7-1.3 4.6 1.2z"/><path class="c88" d="M445.8 282.5l-4.5-1.4 3.8-1.4 4.5 1.5z"/><path class="c86" d="M450.4 284.2l-4.6-1.7 3.8-1.3 4.6 1.7z"/><path class="c84" d="M454.9 286.1l-4.5-1.9 3.8-1.3 4.5 1.8z"/><path class="c81" d="M459.5 288.1l-4.6-2 3.8-1.4 4.5 2.1z"/><path class="c78" d="M464 290.3l-4.5-2.2 3.7-1.3 4.6 2.2z"/><path class="c75" d="M468.5 292.7l-4.5-2.4 3.8-1.3 4.5 2.3z"/><path class="c71" d="M473.1 295.2l-4.6-2.5 3.8-1.4 4.5 2.5z"/><path class="c24" d="M292.2 301.2l-4.6 .5 3.9-1.3 4.5-.6z"/><path class="c26" d="M296.7 300.5l-4.5 .7 3.8-1.4 4.6-.7z"/><path class="c28" d="M301.3 299.8l-4.6 .7 3.9-1.4 4.5-.8z"/><path class="c31" d="M305.8 299l-4.5 .8 3.8-1.5 4.5-.8z"/><path class="c33" d="M310.4 298.1l-4.6 .9 3.8-1.5 4.6-.9z"/><path class="c35" d="M314.9 297.2l-4.5 .9 3.8-1.5 4.5-.9z"/><path class="c38" d="M319.4 296.2l-4.5 1 3.8-1.5 4.6-1z"/><path class="c41" d="M324 295.2l-4.6 1 3.9-1.5 4.5-1.1z"/><path class="c44" d="M328.5 294.1l-4.5 1.1 3.8-1.6 4.5-1.1z"/><path class="c47" d="M333.1 293l-4.6 1.1 3.8-1.6 4.6-1.1z"/><path class="c50" d="M337.6 291.9l-4.5 1.1 3.8-1.6 4.5-1.2z"/><path class="c53" d="M342.1 290.7l-4.5 1.2 3.8-1.7 4.6-1.2z"/><path class="c56" d="M346.7 289.5l-4.6 1.2 3.9-1.7 4.5-1.2z"/><path class="c59" d="M351.2 288.2l-4.5 1.3 3.8-1.7 4.5-1.2z"/><path class="c62" d="M355.8 287l-4.6 1.2 3.8-1.6 4.6-1.2z"/><path class="c65" d="M360.3 285.8l-4.5 1.2 3.8-1.6 4.5-1.2z"/><path class="c68" d="M364.9 284.7l-4.6 1.1 3.8-1.6 4.6-1.1z"/><path class="c71" d="M369.4 283.5l-4.5 1.2 3.8-1.6 4.5-1.1z"/><path class="c74" d="M373.9 282.5l-4.5 1 3.8-1.5 4.5-1.1z"/><path class="c76" d="M378.5 281.5l-4.6 1 3.8-1.6 4.6-.9z"/><path class="c79" d="M383 280.6l-4.5 .9 3.8-1.5 4.5-.9z"/><path class="c81" d="M387.6 279.8l-4.6 .8 3.8-1.5 4.6-.8z"/><path class="c84" d="M392.1 279.1l-4.5 .7 3.8-1.5 4.5-.6z"/><path class="c86" d="M396.6 278.6l-4.5 .5 3.8-1.4 4.5-.5z"/><path class="c87" d="M401.2 278.2l-4.6 .4 3.8-1.4 4.6-.4z"/><path class="c89" d="M405.7 278.1l-4.5 .1 3.8-1.4 4.5-.1z"/><path class="c90" d="M410.3 278.1l-4.6 0 3.8-1.4 4.6 0zM414.8 278.2l-4.5-.1 3.8-1.4 4.5 .2z"/><path class="c91" d="M419.3 278.6l-4.5-.4 3.8-1.3 4.5 .4zM423.9 279.3l-4.6-.7 3.8-1.3 4.6 .6z"/><path class="c90" d="M428.4 280.1l-4.5-.8 3.8-1.4 4.5 .9z"/><path class="c89" d="M433 281.1l-4.6-1 3.8-1.3 4.6 1z"/><path class="c88" d="M437.5 282.4l-4.5-1.3 3.8-1.3 4.5 1.3z"/><path class="c86" d="M442.1 283.9l-4.6-1.5 3.8-1.3 4.5 1.4z"/><path class="c84" d="M446.6 285.6l-4.5-1.7 3.7-1.4 4.6 1.7z"/><path class="c82" d="M451.1 287.4l-4.5-1.8 3.8-1.4 4.5 1.9z"/><path class="c79" d="M455.7 289.5l-4.6-2.1 3.8-1.3 4.6 2z"/><path class="c76" d="M460.2 291.7l-4.5-2.2 3.8-1.4 4.5 2.2z"/><path class="c73" d="M464.8 294.1l-4.6-2.4 3.8-1.4 4.5 2.4z"/><path class="c69" d="M469.3 296.6l-4.5-2.5 3.7-1.4 4.6 2.5z"/><path class="c22" d="M288.4 302.5l-4.6 .6 3.8-1.4 4.6-.5z"/><path class="c24" d="M292.9 301.9l-4.5 .6 3.8-1.3 4.5-.7z"/><path class="c26" d="M297.4 301.2l-4.5 .7 3.8-1.4 4.6-.7z"/><path class="c28" d="M302 300.5l-4.6 .7 3.9-1.4 4.5-.8z"/><path class="c31" d="M306.5 299.7l-4.5 .8 3.8-1.5 4.6-.9z"/><path class="c33" d="M311.1 298.8l-4.6 .9 3.9-1.6 4.5-.9z"/><path class="c36" d="M315.6 297.8l-4.5 1 3.8-1.6 4.5-1z"/><path class="c39" d="M320.2 296.8l-4.6 1 3.8-1.6 4.6-1z"/><path class="c41" d="M324.7 295.8l-4.5 1 3.8-1.6 4.5-1.1z"/><path class="c44" d="M329.2 294.7l-4.5 1.1 3.8-1.7 4.6-1.1z"/><path class="c47" d="M333.8 293.5l-4.6 1.2 3.9-1.7 4.5-1.1z"/><path class="c50" d="M338.3 292.3l-4.5 1.2 3.8-1.6 4.5-1.2z"/><path class="c53" d="M342.9 291.1l-4.6 1.2 3.8-1.6 4.6-1.2z"/><path class="c56" d="M347.4 289.9l-4.5 1.2 3.8-1.6 4.5-1.3z"/><path class="c59" d="M352 288.7l-4.6 1.2 3.8-1.7 4.6-1.2z"/><path class="c63" d="M356.5 287.5l-4.5 1.2 3.8-1.7 4.5-1.2z"/><path class="c66" d="M361 286.3l-4.5 1.2 3.8-1.7 4.6-1.1z"/><path class="c69" d="M365.6 285.1l-4.6 1.2 3.9-1.6 4.5-1.2z"/><path class="c72" d="M370.1 284l-4.5 1.1 3.8-1.6 4.5-1z"/><path class="c74" d="M374.7 283l-4.6 1 3.8-1.5 4.6-1z"/><path class="c77" d="M379.2 282.1l-4.5 .9 3.8-1.5 4.5-.9z"/><path class="c79" d="M383.8 281.3l-4.6 .8 3.8-1.5 4.6-.8z"/><path class="c82" d="M388.3 280.6l-4.5 .7 3.8-1.5 4.5-.7z"/><path class="c84" d="M392.8 280.1l-4.5 .5 3.8-1.5 4.5-.5z"/><path class="c85" d="M397.4 279.7l-4.6 .4 3.8-1.5 4.6-.4z"/><path class="c87" d="M401.9 279.5l-4.5 .2 3.8-1.5 4.5-.1z"/><path class="c88" d="M406.5 279.4l-4.6 .1 3.8-1.4 4.6 0zM411 279.6l-4.5-.2 3.8-1.3 4.5 .1z"/><path class="c89" d="M415.6 280l-4.6-.4 3.8-1.4 4.5 .4zM420.1 280.6l-4.5-.6 3.7-1.4 4.6 .7z"/><path class="c88" d="M424.6 281.4l-4.5-.8 3.8-1.3 4.5 .8z"/><path class="c87" d="M429.2 282.5l-4.6-1.1 3.8-1.3 4.6 1z"/><path class="c86" d="M433.7 283.7l-4.5-1.2 3.8-1.4 4.5 1.3z"/><path class="c85" d="M438.3 285.2l-4.6-1.5 3.8-1.3 4.6 1.5z"/><path class="c83" d="M442.8 286.9l-4.5-1.7 3.8-1.3 4.5 1.7z"/><path class="c80" d="M447.4 288.8l-4.6-1.9 3.8-1.3 4.5 1.8z"/><path class="c77" d="M451.9 290.9l-4.5-2.1 3.7-1.4 4.6 2.1z"/><path class="c74" d="M456.4 293.2l-4.5-2.3 3.8-1.4 4.5 2.2z"/><path class="c71" d="M461 295.6l-4.6-2.4 3.8-1.5 4.6 2.4z"/><path class="c67" d="M465.5 298.1l-4.5-2.5 3.8-1.5 4.5 2.5z"/><path class="c20" d="M284.5 303.9l-4.5 .5 3.8-1.3 4.6-.6z"/><path class="c22" d="M289.1 303.3l-4.6 .6 3.9-1.4 4.5-.6z"/><path class="c24" d="M293.6 302.7l-4.5 .6 3.8-1.4 4.5-.7z"/><path class="c26" d="M298.1 302l-4.5 .7 3.8-1.5 4.6-.7z"/><path class="c29" d="M302.7 301.2l-4.6 .8 3.9-1.5 4.5-.8z"/><path class="c31" d="M307.2 300.3l-4.5 .9 3.8-1.5 4.6-.9z"/><path class="c34" d="M311.8 299.4l-4.6 .9 3.9-1.5 4.5-1z"/><path class="c36" d="M316.3 298.4l-4.5 1 3.8-1.6 4.6-1z"/><path class="c39" d="M320.9 297.4l-4.6 1 3.9-1.6 4.5-1z"/><path class="c42" d="M325.4 296.3l-4.5 1.1 3.8-1.6 4.5-1.1z"/><path class="c45" d="M330 295.2l-4.6 1.1 3.8-1.6 4.6-1.2z"/><path class="c48" d="M334.5 294l-4.5 1.2 3.8-1.7 4.5-1.2z"/><path class="c51" d="M339 292.8l-4.5 1.2 3.8-1.7 4.6-1.2z"/><path class="c54" d="M343.6 291.6l-4.6 1.2 3.9-1.7 4.5-1.2z"/><path class="c57" d="M348.1 290.3l-4.5 1.3 3.8-1.7 4.6-1.2z"/><path class="c60" d="M352.7 289.1l-4.6 1.2 3.9-1.6 4.5-1.2z"/><path class="c63" d="M357.2 287.9l-4.5 1.2 3.8-1.6 4.5-1.2z"/><path class="c66" d="M361.8 286.8l-4.6 1.1 3.8-1.6 4.6-1.2z"/><path class="c69" d="M366.3 285.6l-4.5 1.2 3.8-1.7 4.5-1.1z"/><path class="c72" d="M370.9 284.6l-4.6 1 3.8-1.6 4.6-1z"/><path class="c75" d="M375.4 283.7l-4.5 .9 3.8-1.6 4.5-.9z"/><path class="c77" d="M380 282.8l-4.6 .9 3.8-1.6 4.6-.8z"/><path class="c80" d="M384.5 282.1l-4.5 .7 3.8-1.5 4.5-.7z"/><path class="c82" d="M389 281.5l-4.5 .6 3.8-1.5 4.5-.5z"/><path class="c83" d="M393.6 281.1l-4.6 .4 3.8-1.4 4.6-.4z"/><path class="c85" d="M398.1 280.9l-4.5 .2 3.8-1.4 4.5-.2z"/><path class="c86" d="M402.7 280.8l-4.6 .1 3.8-1.4 4.6-.1z"/><path class="c87" d="M407.2 281l-4.5-.2 3.8-1.4 4.5 .2zM411.8 281.4l-4.6-.4 3.8-1.4 4.6 .4zM416.3 282l-4.5-.6 3.8-1.4 4.5 .6zM420.9 282.8l-4.6-.8 3.8-1.4 4.5 .8z"/><path class="c86" d="M425.4 283.8l-4.5-1 3.7-1.4 4.6 1.1z"/><path class="c84" d="M429.9 285.1l-4.5-1.3 3.8-1.3 4.5 1.2z"/><path class="c83" d="M434.5 286.6l-4.6-1.5 3.8-1.4 4.6 1.5z"/><path class="c81" d="M439 288.3l-4.5-1.7 3.8-1.4 4.5 1.7z"/><path class="c78" d="M443.6 290.3l-4.6-2 3.8-1.4 4.6 1.9z"/><path class="c75" d="M448.1 292.4l-4.5-2.1 3.8-1.5 4.5 2.1z"/><path class="c72" d="M452.7 294.6l-4.6-2.2 3.8-1.5 4.5 2.3z"/><path class="c69" d="M457.2 297l-4.5-2.4 3.7-1.4 4.6 2.4z"/><path class="c65" d="M461.8 299.6l-4.6-2.6 3.8-1.4 4.5 2.5z"/><path class="c19" d="M280.7 305.3l-4.6 .4 3.9-1.3 4.5-.5z"/><path class="c20" d="M285.2 304.7l-4.5 .6 3.8-1.4 4.6-.6z"/><path class="c22" d="M289.8 304.1l-4.6 .6 3.9-1.4 4.5-.6z"/><path class="c24" d="M294.3 303.5l-4.5 .6 3.8-1.4 4.5-.7z"/><path class="c27" d="M298.9 302.7l-4.6 .8 3.8-1.5 4.6-.8z"/><path class="c29" d="M303.4 301.9l-4.5 .8 3.8-1.5 4.5-.9z"/><path class="c31" d="M307.9 301l-4.5 .9 3.8-1.6 4.6-.9z"/><path class="c34" d="M312.5 300.1l-4.6 .9 3.9-1.6 4.5-1z"/><path class="c37" d="M317 299.1l-4.5 1 3.8-1.7 4.6-1z"/><path class="c40" d="M321.6 298l-4.6 1.1 3.9-1.7 4.5-1.1z"/><path class="c42" d="M326.1 296.9l-4.5 1.1 3.8-1.7 4.6-1.1z"/><path class="c45" d="M330.7 295.7l-4.6 1.2 3.9-1.7 4.5-1.2z"/><path class="c48" d="M335.2 294.5l-4.5 1.2 3.8-1.7 4.5-1.2z"/><path class="c52" d="M339.8 293.3l-4.6 1.2 3.8-1.7 4.6-1.2z"/><path class="c55" d="M344.3 292l-4.5 1.3 3.8-1.7 4.5-1.3z"/><path class="c58" d="M348.9 290.8l-4.6 1.2 3.8-1.7 4.6-1.2z"/><path class="c61" d="M353.4 289.6l-4.5 1.2 3.8-1.7 4.5-1.2z"/><path class="c64" d="M358 288.4l-4.6 1.2 3.8-1.7 4.6-1.1z"/><path class="c67" d="M362.5 287.3l-4.5 1.1 3.8-1.6 4.5-1.2z"/><path class="c70" d="M367.1 286.2l-4.6 1.1 3.8-1.7 4.6-1z"/><path class="c73" d="M371.6 285.2l-4.5 1 3.8-1.6 4.5-.9z"/><path class="c75" d="M376.1 284.4l-4.5 .8 3.8-1.5 4.6-.9z"/><path class="c77" d="M380.7 283.6l-4.6 .8 3.9-1.6 4.5-.7z"/><path class="c79" d="M385.2 283l-4.5 .6 3.8-1.5 4.5-.6z"/><path class="c81" d="M389.8 282.6l-4.6 .4 3.8-1.5 4.6-.4z"/><path class="c83" d="M394.3 282.3l-4.5 .3 3.8-1.5 4.5-.2z"/><path class="c84" d="M398.9 282.3l-4.6 0 3.8-1.4 4.6-.1z"/><path class="c85" d="M403.4 282.4l-4.5-.1 3.8-1.5 4.5 .2zM408 282.8l-4.6-.4 3.8-1.4 4.6 .4zM412.5 283.4l-4.5-.6 3.8-1.4 4.5 .6zM417.1 284.2l-4.6-.8 3.8-1.4 4.6 .8z"/><path class="c84" d="M421.6 285.2l-4.5-1 3.8-1.4 4.5 1z"/><path class="c83" d="M426.2 286.5l-4.6-1.3 3.8-1.4 4.5 1.3z"/><path class="c81" d="M430.7 288l-4.5-1.5 3.7-1.4 4.6 1.5z"/><path class="c79" d="M435.3 289.8l-4.6-1.8 3.8-1.4 4.5 1.7z"/><path class="c76" d="M439.8 291.7l-4.5-1.9 3.7-1.5 4.6 2z"/><path class="c73" d="M444.3 293.8l-4.5-2.1 3.8-1.4 4.5 2.1z"/><path class="c70" d="M448.9 296.1l-4.6-2.3 3.8-1.4 4.6 2.2z"/><path class="c67" d="M453.4 298.5l-4.5-2.4 3.8-1.5 4.5 2.4z"/><path class="c63" d="M458 301.1l-4.6-2.6 3.8-1.5 4.6 2.6z"/><path class="c17" d="M276.8 306.6l-4.5 .4 3.8-1.3 4.6-.4z"/><path class="c19" d="M281.4 306.1l-4.6 .5 3.9-1.3 4.5-.6z"/><path class="c20" d="M285.9 305.6l-4.5 .5 3.8-1.4 4.6-.6z"/><path class="c22" d="M290.5 304.9l-4.6 .7 3.9-1.5 4.5-.6z"/><path class="c25" d="M295 304.2l-4.5 .7 3.8-1.4 4.6-.8z"/><path class="c27" d="M299.6 303.5l-4.6 .7 3.9-1.5 4.5-.8z"/><path class="c29" d="M304.1 302.6l-4.5 .9 3.8-1.6 4.5-.9z"/><path class="c32" d="M308.7 301.7l-4.6 .9 3.8-1.6 4.6-.9z"/><path class="c34" d="M313.2 300.7l-4.5 1 3.8-1.6 4.5-1z"/><path class="c37" d="M317.8 299.7l-4.6 1 3.8-1.6 4.6-1.1z"/><path class="c40" d="M322.3 298.6l-4.5 1.1 3.8-1.7 4.5-1.1z"/><path class="c43" d="M326.9 297.4l-4.6 1.2 3.8-1.7 4.6-1.2z"/><path class="c46" d="M331.4 296.2l-4.5 1.2 3.8-1.7 4.5-1.2z"/><path class="c49" d="M336 295l-4.6 1.2 3.8-1.7 4.6-1.2z"/><path class="c52" d="M340.5 293.8l-4.5 1.2 3.8-1.7 4.5-1.3z"/><path class="c55" d="M345.1 292.5l-4.6 1.3 3.8-1.8 4.6-1.2z"/><path class="c58" d="M349.6 291.3l-4.5 1.2 3.8-1.7 4.5-1.2z"/><path class="c62" d="M354.2 290.1l-4.6 1.2 3.8-1.7 4.6-1.2z"/><path class="c65" d="M358.7 289l-4.5 1.1 3.8-1.7 4.5-1.1z"/><path class="c67" d="M363.2 287.9l-4.5 1.1 3.8-1.7 4.6-1.1z"/><path class="c70" d="M367.8 286.9l-4.6 1 3.9-1.7 4.5-1z"/><path class="c73" d="M372.3 286l-4.5 .9 3.8-1.7 4.5-.8z"/><path class="c75" d="M376.9 285.2l-4.6 .8 3.8-1.6 4.6-.8z"/><path class="c77" d="M381.4 284.6l-4.5 .6 3.8-1.6 4.5-.6z"/><path class="c79" d="M386 284.1l-4.6 .5 3.8-1.6 4.6-.4z"/><path class="c81" d="M390.5 283.8l-4.5 .3 3.8-1.5 4.5-.3z"/><path class="c82" d="M395.1 283.7l-4.6 .1 3.8-1.5 4.6 0z"/><path class="c83" d="M399.6 283.8l-4.5-.1 3.8-1.4 4.5 .1zM404.2 284.2l-4.6-.4 3.8-1.4 4.6 .4zM408.7 284.8l-4.5-.6 3.8-1.4 4.5 .6zM413.3 285.6l-4.6-.8 3.8-1.4 4.6 .8z"/><path class="c82" d="M417.8 286.7l-4.5-1.1 3.8-1.4 4.5 1z"/><path class="c81" d="M422.4 287.9l-4.6-1.2 3.8-1.5 4.6 1.3z"/><path class="c79" d="M426.9 289.5l-4.5-1.6 3.8-1.4 4.5 1.5z"/><path class="c77" d="M431.5 291.2l-4.6-1.7 3.8-1.5 4.6 1.8z"/><path class="c74" d="M436 293.2l-4.5-2 3.8-1.4 4.5 1.9z"/><path class="c71" d="M440.6 295.3l-4.6-2.1 3.8-1.5 4.5 2.1z"/><path class="c68" d="M445.1 297.6l-4.5-2.3 3.7-1.5 4.6 2.3z"/><path class="c65" d="M449.7 300.1l-4.6-2.5 3.8-1.5 4.5 2.4z"/><path class="c61" d="M454.2 302.6l-4.5-2.5 3.7-1.6 4.6 2.6z"/><path class="c15" d="M273 307.9l-4.6 .4 3.9-1.3 4.5-.4z"/><path class="c17" d="M277.5 307.5l-4.5 .4 3.8-1.3 4.6-.5z"/><path class="c19" d="M282.1 307l-4.6 .5 3.9-1.4 4.5-.5z"/><path class="c20" d="M286.6 306.4l-4.5 .6 3.8-1.4 4.6-.7z"/><path class="c22" d="M291.2 305.8l-4.6 .6 3.9-1.5 4.5-.7z"/><path class="c25" d="M295.7 305l-4.5 .8 3.8-1.6 4.6-.7z"/><path class="c27" d="M300.3 304.2l-4.6 .8 3.9-1.5 4.5-.9z"/><path class="c29" d="M304.8 303.4l-4.5 .8 3.8-1.6 4.6-.9z"/><path class="c32" d="M309.4 302.4l-4.6 1 3.9-1.7 4.5-1z"/><path class="c35" d="M313.9 301.4l-4.5 1 3.8-1.7 4.6-1z"/><path class="c38" d="M318.5 300.3l-4.6 1.1 3.9-1.7 4.5-1.1z"/><path class="c40" d="M323 299.2l-4.5 1.1 3.8-1.7 4.6-1.2z"/><path class="c43" d="M327.6 298l-4.6 1.2 3.9-1.8 4.5-1.2z"/><path class="c47" d="M332.1 296.8l-4.5 1.2 3.8-1.8 4.6-1.2z"/><path class="c50" d="M336.7 295.5l-4.6 1.3 3.9-1.8 4.5-1.2z"/><path class="c53" d="M341.2 294.3l-4.5 1.2 3.8-1.7 4.6-1.3z"/><path class="c56" d="M345.8 293.1l-4.6 1.2 3.9-1.8 4.5-1.2z"/><path class="c59" d="M350.3 291.8l-4.5 1.3 3.8-1.8 4.6-1.2z"/><path class="c62" d="M354.9 290.7l-4.6 1.1 3.9-1.7 4.5-1.1z"/><path class="c65" d="M359.4 289.6l-4.5 1.1 3.8-1.7 4.5-1.1z"/><path class="c68" d="M364 288.5l-4.6 1.1 3.8-1.7 4.6-1z"/><path class="c71" d="M368.5 287.6l-4.5 .9 3.8-1.6 4.5-.9z"/><path class="c73" d="M373.1 286.8l-4.6 .8 3.8-1.6 4.6-.8z"/><path class="c75" d="M377.6 286.1l-4.5 .7 3.8-1.6 4.5-.6z"/><path class="c77" d="M382.2 285.6l-4.6 .5 3.8-1.5 4.6-.5z"/><path class="c79" d="M386.7 285.3l-4.5 .3 3.8-1.5 4.5-.3z"/><path class="c80" d="M391.3 285.2l-4.6 .1 3.8-1.5 4.6-.1z"/><path class="c81" d="M395.8 285.3l-4.5-.1 3.8-1.5 4.5 .1zM400.4 285.6l-4.6-.3 3.8-1.5 4.6 .4zM404.9 286.2l-4.5-.6 3.8-1.4 4.5 .6zM409.5 287l-4.6-.8 3.8-1.4 4.6 .8z"/><path class="c80" d="M414 288.1l-4.5-1.1 3.8-1.4 4.5 1.1z"/><path class="c79" d="M418.6 289.4l-4.6-1.3 3.8-1.4 4.6 1.2z"/><path class="c77" d="M423.1 290.9l-4.5-1.5 3.8-1.5 4.5 1.6z"/><path class="c75" d="M427.7 292.7l-4.6-1.8 3.8-1.4 4.6 1.7z"/><path class="c72" d="M432.2 294.7l-4.5-2 3.8-1.5 4.5 2z"/><path class="c69" d="M436.8 296.8l-4.6-2.1 3.8-1.5 4.6 2.1z"/><path class="c66" d="M441.3 299.2l-4.5-2.4 3.8-1.5 4.5 2.3z"/><path class="c63" d="M445.9 301.6l-4.6-2.4 3.8-1.6 4.6 2.5z"/><path class="c59" d="M450.4 304.2l-4.5-2.6 3.8-1.5 4.5 2.5z"/><path class="c13" d="M269.1 309.2l-4.5 .3 3.8-1.2 4.6-.4z"/><path class="c15" d="M273.7 308.9l-4.6 .3 3.9-1.3 4.5-.4z"/><path class="c17" d="M278.3 308.4l-4.6 .5 3.8-1.4 4.6-.5z"/><path class="c18" d="M282.8 307.9l-4.5 .5 3.8-1.4 4.5-.6z"/><path class="c20" d="M287.4 307.3l-4.6 .6 3.8-1.5 4.6-.6z"/><path class="c23" d="M291.9 306.6l-4.5 .7 3.8-1.5 4.5-.8z"/><path class="c25" d="M296.5 305.8l-4.6 .8 3.8-1.6 4.6-.8z"/><path class="c27" d="M301 305l-4.5 .8 3.8-1.6 4.5-.8z"/><path class="c30" d="M305.6 304.1l-4.6 .9 3.8-1.6 4.6-1z"/><path class="c32" d="M310.1 303.1l-4.5 1 3.8-1.7 4.5-1z"/><path class="c35" d="M314.7 302.1l-4.6 1 3.8-1.7 4.6-1.1z"/><path class="c38" d="M319.2 301l-4.5 1.1 3.8-1.8 4.5-1.1z"/><path class="c41" d="M323.8 299.8l-4.6 1.2 3.8-1.8 4.6-1.2z"/><path class="c44" d="M328.3 298.6l-4.5 1.2 3.8-1.8 4.5-1.2z"/><path class="c47" d="M332.9 297.3l-4.6 1.3 3.8-1.8 4.6-1.3z"/><path class="c50" d="M337.4 296.1l-4.5 1.2 3.8-1.8 4.5-1.2z"/><path class="c53" d="M342 294.8l-4.6 1.3 3.8-1.8 4.6-1.2z"/><path class="c57" d="M346.5 293.6l-4.5 1.2 3.8-1.7 4.5-1.3z"/><path class="c60" d="M351.1 292.4l-4.6 1.2 3.8-1.8 4.6-1.1z"/><path class="c63" d="M355.6 291.3l-4.5 1.1 3.8-1.7 4.5-1.1z"/><path class="c65" d="M360.2 290.2l-4.6 1.1 3.8-1.7 4.6-1.1z"/><path class="c68" d="M364.7 289.3l-4.5 .9 3.8-1.7 4.5-.9z"/><path class="c71" d="M369.3 288.4l-4.6 .9 3.8-1.7 4.6-.8z"/><path class="c73" d="M373.8 287.7l-4.5 .7 3.8-1.6 4.5-.7z"/><path class="c75" d="M378.4 287.2l-4.6 .5 3.8-1.6 4.6-.5z"/><path class="c77" d="M382.9 286.9l-4.5 .3 3.8-1.6 4.5-.3z"/><path class="c78" d="M387.5 286.7l-4.6 .2 3.8-1.6 4.6-.1z"/><path class="c79" d="M392 286.8l-4.5-.1 3.8-1.5 4.5 .1zM396.6 287.1l-4.6-.3 3.8-1.5 4.6 .3zM401.2 287.7l-4.6-.6 3.8-1.5 4.5 .6zM405.7 288.5l-4.5-.8 3.7-1.5 4.6 .8z"/><path class="c78" d="M410.3 289.6l-4.6-1.1 3.8-1.5 4.5 1.1z"/><path class="c77" d="M414.8 290.9l-4.5-1.3 3.7-1.5 4.6 1.3z"/><path class="c75" d="M419.4 292.4l-4.6-1.5 3.8-1.5 4.5 1.5z"/><path class="c73" d="M423.9 294.2l-4.5-1.8 3.7-1.5 4.6 1.8z"/><path class="c70" d="M428.5 296.2l-4.6-2 3.8-1.5 4.5 2z"/><path class="c67" d="M433 298.4l-4.5-2.2 3.7-1.5 4.6 2.1z"/><path class="c64" d="M437.6 300.7l-4.6-2.3 3.8-1.6 4.5 2.4z"/><path class="c60" d="M442.1 303.2l-4.5-2.5 3.7-1.5 4.6 2.4z"/><path class="c57" d="M446.7 305.8l-4.6-2.6 3.8-1.6 4.5 2.6z"/><path class="c12" d="M265.3 310.5l-4.5 .2 3.8-1.2 4.5-.3z"/><path class="c13" d="M269.9 310.2l-4.6 .3 3.8-1.3 4.6-.3z"/><path class="c15" d="M274.4 309.8l-4.5 .4 3.8-1.3 4.6-.5z"/><path class="c17" d="M279 309.3l-4.6 .5 3.9-1.4 4.5-.5z"/><path class="c18" d="M283.5 308.8l-4.5 .5 3.8-1.4 4.6-.6z"/><path class="c20" d="M288.1 308.2l-4.6 .6 3.9-1.5 4.5-.7z"/><path class="c23" d="M292.6 307.5l-4.5 .7 3.8-1.6 4.6-.8z"/><path class="c25" d="M297.2 306.7l-4.6 .8 3.9-1.7 4.5-.8z"/><path class="c27" d="M301.7 305.8l-4.5 .9 3.8-1.7 4.6-.9z"/><path class="c30" d="M306.3 304.9l-4.6 .9 3.9-1.7 4.5-1z"/><path class="c33" d="M310.8 303.8l-4.5 1.1 3.8-1.8 4.6-1z"/><path class="c35" d="M315.4 302.7l-4.6 1.1 3.9-1.7 4.5-1.1z"/><path class="c38" d="M320 301.6l-4.6 1.1 3.8-1.7 4.6-1.2z"/><path class="c41" d="M324.5 300.4l-4.5 1.2 3.8-1.8 4.5-1.2z"/><path class="c44" d="M329.1 299.2l-4.6 1.2 3.8-1.8 4.6-1.3z"/><path class="c48" d="M333.6 297.9l-4.5 1.3 3.8-1.9 4.5-1.2z"/><path class="c51" d="M338.2 296.7l-4.6 1.2 3.8-1.8 4.6-1.3z"/><path class="c54" d="M342.7 295.4l-4.5 1.3 3.8-1.9 4.5-1.2z"/><path class="c57" d="M347.3 294.2l-4.6 1.2 3.8-1.8 4.6-1.2z"/><path class="c60" d="M351.8 293l-4.5 1.2 3.8-1.8 4.5-1.1z"/><path class="c63" d="M356.4 291.9l-4.6 1.1 3.8-1.7 4.6-1.1z"/><path class="c66" d="M360.9 291l-4.5 .9 3.8-1.7 4.5-.9z"/><path class="c68" d="M365.5 290.1l-4.6 .9 3.8-1.7 4.6-.9z"/><path class="c71" d="M370 289.4l-4.5 .7 3.8-1.7 4.5-.7z"/><path class="c73" d="M374.6 288.8l-4.6 .6 3.8-1.7 4.6-.5z"/><path class="c74" d="M379.1 288.4l-4.5 .4 3.8-1.6 4.5-.3z"/><path class="c76" d="M383.7 288.3l-4.6 .1 3.8-1.5 4.6-.2z"/><path class="c77" d="M388.3 288.3l-4.6 0 3.8-1.6 4.5 .1zM392.8 288.6l-4.5-.3 3.7-1.5 4.6 .3zM397.4 289.2l-4.6-.6 3.8-1.5 4.6 .6zM401.9 290l-4.5-.8 3.8-1.5 4.5 .8z"/><path class="c76" d="M406.5 291.1l-4.6-1.1 3.8-1.5 4.6 1.1z"/><path class="c75" d="M411 292.4l-4.5-1.3 3.8-1.5 4.5 1.3z"/><path class="c73" d="M415.6 294l-4.6-1.6 3.8-1.5 4.6 1.5z"/><path class="c71" d="M420.1 295.8l-4.5-1.8 3.8-1.6 4.5 1.8z"/><path class="c68" d="M424.7 297.8l-4.6-2 3.8-1.6 4.6 2z"/><path class="c65" d="M429.2 300l-4.5-2.2 3.8-1.6 4.5 2.2z"/><path class="c62" d="M433.8 302.4l-4.6-2.4 3.8-1.6 4.6 2.3z"/><path class="c58" d="M438.3 304.9l-4.5-2.5 3.8-1.7 4.5 2.5z"/><path class="c54" d="M442.9 307.5l-4.6-2.6 3.8-1.7 4.6 2.6z"/><path class="c10" d="M261.5 311.7l-4.6 .2 3.9-1.2 4.5-.2z"/><path class="c12" d="M266 311.5l-4.5 .2 3.8-1.2 4.6-.3z"/><path class="c13" d="M270.6 311.2l-4.6 .3 3.9-1.3 4.5-.4z"/><path class="c15" d="M275.1 310.8l-4.5 .4 3.8-1.4 4.6-.5z"/><path class="c16" d="M279.7 310.3l-4.6 .5 3.9-1.5 4.5-.5z"/><path class="c18" d="M284.2 309.7l-4.5 .6 3.8-1.5 4.6-.6z"/><path class="c20" d="M288.8 309.1l-4.6 .6 3.9-1.5 4.5-.7z"/><path class="c22" d="M293.4 308.3l-4.6 .8 3.8-1.6 4.6-.8z"/><path class="c25" d="M297.9 307.5l-4.5 .8 3.8-1.6 4.5-.9z"/><path class="c27" d="M302.5 306.6l-4.6 .9 3.8-1.7 4.6-.9z"/><path class="c30" d="M307 305.6l-4.5 1 3.8-1.7 4.5-1.1z"/><path class="c33" d="M311.6 304.6l-4.6 1 3.8-1.8 4.6-1.1z"/><path class="c36" d="M316.1 303.5l-4.5 1.1 3.8-1.9 4.6-1.1z"/><path class="c39" d="M320.7 302.3l-4.6 1.2 3.9-1.9 4.5-1.2z"/><path class="c42" d="M325.2 301.1l-4.5 1.2 3.8-1.9 4.6-1.2z"/><path class="c45" d="M329.8 299.8l-4.6 1.3 3.9-1.9 4.5-1.3z"/><path class="c48" d="M334.4 298.5l-4.6 1.3 3.8-1.9 4.6-1.2z"/><path class="c51" d="M338.9 297.3l-4.5 1.2 3.8-1.8 4.5-1.3z"/><path class="c54" d="M343.5 296l-4.6 1.3 3.8-1.9 4.6-1.2z"/><path class="c57" d="M348 294.9l-4.5 1.1 3.8-1.8 4.5-1.2z"/><path class="c60" d="M352.6 293.7l-4.6 1.2 3.8-1.9 4.6-1.1z"/><path class="c63" d="M357.1 292.7l-4.5 1 3.8-1.8 4.5-.9z"/><path class="c66" d="M361.7 291.8l-4.6 .9 3.8-1.7 4.6-.9z"/><path class="c68" d="M366.2 291l-4.5 .8 3.8-1.7 4.5-.7z"/><path class="c70" d="M370.8 290.4l-4.6 .6 3.8-1.6 4.6-.6z"/><path class="c72" d="M375.4 290l-4.6 .4 3.8-1.6 4.5-.4z"/><path class="c73" d="M379.9 289.8l-4.5 .2 3.7-1.6 4.6-.1z"/><path class="c74" d="M384.5 289.9l-4.6-.1 3.8-1.5 4.6 0z"/><path class="c75" d="M389 290.2l-4.5-.3 3.8-1.6 4.5 .3zM393.6 290.7l-4.6-.5 3.8-1.6 4.6 .6zM398.1 291.5l-4.5-.8 3.8-1.5 4.5 .8z"/><path class="c74" d="M402.7 292.6l-4.6-1.1 3.8-1.5 4.6 1.1z"/><path class="c72" d="M407.2 293.9l-4.5-1.3 3.8-1.5 4.5 1.3z"/><path class="c71" d="M411.8 295.5l-4.6-1.6 3.8-1.5 4.6 1.6z"/><path class="c68" d="M416.3 297.3l-4.5-1.8 3.8-1.5 4.5 1.8z"/><path class="c66" d="M420.9 299.4l-4.6-2.1 3.8-1.5 4.6 2z"/><path class="c63" d="M425.5 301.6l-4.6-2.2 3.8-1.6 4.5 2.2z"/><path class="c59" d="M430 304l-4.5-2.4 3.7-1.6 4.6 2.4z"/><path class="c56" d="M434.6 306.5l-4.6-2.5 3.8-1.6 4.5 2.5z"/><path class="c52" d="M439.1 309.2l-4.5-2.7 3.7-1.6 4.6 2.6z"/><path class="c9" d="M257.6 312.9l-4.5 .1 3.8-1.1 4.6-.2z"/><path class="c10" d="M262.2 312.7l-4.6 .2 3.9-1.2 4.5-.2z"/><path class="c11" d="M266.7 312.5l-4.5 .2 3.8-1.2 4.6-.3z"/><path class="c13" d="M271.3 312.1l-4.6 .4 3.9-1.3 4.5-.4z"/><path class="c14" d="M275.9 311.7l-4.6 .4 3.8-1.3 4.6-.5z"/><path class="c16" d="M280.4 311.2l-4.5 .5 3.8-1.4 4.5-.6z"/><path class="c18" d="M285 310.6l-4.6 .6 3.8-1.5 4.6-.6z"/><path class="c20" d="M289.5 310l-4.5 .6 3.8-1.5 4.6-.8z"/><path class="c22" d="M294.1 309.2l-4.6 .8 3.9-1.7 4.5-.8z"/><path class="c25" d="M298.6 308.4l-4.5 .8 3.8-1.7 4.6-.9z"/><path class="c27" d="M303.2 307.4l-4.6 1 3.9-1.8 4.5-1z"/><path class="c30" d="M307.8 306.4l-4.6 1 3.8-1.8 4.6-1z"/><path class="c33" d="M312.3 305.3l-4.5 1.1 3.8-1.8 4.5-1.1z"/><path class="c36" d="M316.9 304.2l-4.6 1.1 3.8-1.8 4.6-1.2z"/><path class="c39" d="M321.4 303l-4.5 1.2 3.8-1.9 4.5-1.2z"/><path class="c42" d="M326 301.7l-4.6 1.3 3.8-1.9 4.6-1.3z"/><path class="c45" d="M330.5 300.5l-4.5 1.2 3.8-1.9 4.6-1.3z"/><path class="c48" d="M335.1 299.2l-4.6 1.3 3.9-2 4.5-1.2z"/><path class="c52" d="M339.7 297.9l-4.6 1.3 3.8-1.9 4.6-1.3z"/><path class="c55" d="M344.2 296.7l-4.5 1.2 3.8-1.9 4.5-1.1z"/><path class="c58" d="M348.8 295.6l-4.6 1.1 3.8-1.8 4.6-1.2z"/><path class="c61" d="M353.3 294.5l-4.5 1.1 3.8-1.9 4.5-1z"/><path class="c63" d="M357.9 293.6l-4.6 .9 3.8-1.8 4.6-.9z"/><path class="c66" d="M362.4 292.8l-4.5 .8 3.8-1.8 4.5-.8z"/><path class="c68" d="M367 292.1l-4.6 .7 3.8-1.8 4.6-.6z"/><path class="c70" d="M371.6 291.7l-4.6 .4 3.8-1.7 4.6-.4z"/><path class="c71" d="M376.1 291.5l-4.5 .2 3.8-1.7 4.5-.2z"/><path class="c72" d="M380.7 291.5l-4.6 0 3.8-1.7 4.6 .1z"/><path class="c73" d="M385.2 291.7l-4.5-.2 3.8-1.6 4.5 .3zM389.8 292.3l-4.6-.6 3.8-1.5 4.6 .5zM394.3 293.1l-4.5-.8 3.8-1.6 4.5 .8z"/><path class="c72" d="M398.9 294.2l-4.6-1.1 3.8-1.6 4.6 1.1z"/><path class="c70" d="M403.5 295.5l-4.6-1.3 3.8-1.6 4.5 1.3z"/><path class="c68" d="M408 297.1l-4.5-1.6 3.7-1.6 4.6 1.6z"/><path class="c66" d="M412.6 299l-4.6-1.9 3.8-1.6 4.5 1.8z"/><path class="c64" d="M417.1 301l-4.5-2 3.7-1.7 4.6 2.1z"/><path class="c60" d="M421.7 303.3l-4.6-2.3 3.8-1.6 4.6 2.2z"/><path class="c57" d="M426.2 305.7l-4.5-2.4 3.8-1.7 4.5 2.4z"/><path class="c53" d="M430.8 308.3l-4.6-2.6 3.8-1.7 4.6 2.5z"/><path class="c50" d="M435.4 310.9l-4.6-2.6 3.8-1.8 4.5 2.7z"/><path class="c7" d="M253.8 314.1l-4.6 0 3.9-1.1 4.5-.1z"/><path class="c8" d="M258.3 313.9l-4.5 .2 3.8-1.2 4.6-.2z"/><path class="c10" d="M262.9 313.8l-4.6 .1 3.9-1.2 4.5-.2z"/><path class="c11" d="M267.5 313.5l-4.6 .3 3.8-1.3 4.6-.4z"/><path class="c12" d="M272 313.2l-4.5 .3 3.8-1.4 4.6-.4z"/><path class="c14" d="M276.6 312.7l-4.6 .5 3.9-1.5 4.5-.5z"/><path class="c16" d="M281.1 312.2l-4.5 .5 3.8-1.5 4.6-.6z"/><path class="c18" d="M285.7 311.6l-4.6 .6 3.9-1.6 4.5-.6z"/><path class="c20" d="M290.3 310.9l-4.6 .7 3.8-1.6 4.6-.8z"/><path class="c22" d="M294.8 310.1l-4.5 .8 3.8-1.7 4.5-.8z"/><path class="c25" d="M299.4 309.2l-4.6 .9 3.8-1.7 4.6-1z"/><path class="c27" d="M303.9 308.3l-4.5 .9 3.8-1.8 4.6-1z"/><path class="c30" d="M308.5 307.2l-4.6 1.1 3.9-1.9 4.5-1.1z"/><path class="c33" d="M313.1 306.1l-4.6 1.1 3.8-1.9 4.6-1.1z"/><path class="c36" d="M317.6 304.9l-4.5 1.2 3.8-1.9 4.5-1.2z"/><path class="c39" d="M322.2 303.7l-4.6 1.2 3.8-1.9 4.6-1.3z"/><path class="c42" d="M326.7 302.4l-4.5 1.3 3.8-2 4.5-1.2z"/><path class="c46" d="M331.3 301.1l-4.6 1.3 3.8-1.9 4.6-1.3z"/><path class="c49" d="M335.8 299.9l-4.5 1.2 3.8-1.9 4.6-1.3z"/><path class="c52" d="M340.4 298.6l-4.6 1.3 3.9-2 4.5-1.2z"/><path class="c55" d="M345 297.4l-4.6 1.2 3.8-1.9 4.6-1.1z"/><path class="c58" d="M349.5 296.3l-4.5 1.1 3.8-1.8 4.5-1.1z"/><path class="c61" d="M354.1 295.4l-4.6 .9 3.8-1.8 4.6-.9z"/><path class="c63" d="M358.6 294.5l-4.5 .9 3.8-1.8 4.5-.8z"/><path class="c65" d="M363.2 293.9l-4.6 .6 3.8-1.7 4.6-.7z"/><path class="c67" d="M367.8 293.4l-4.6 .5 3.8-1.8 4.6-.4z"/><path class="c69" d="M372.3 293.1l-4.5 .3 3.8-1.7 4.5-.2z"/><path class="c70" d="M376.9 293.1l-4.6 0 3.8-1.6 4.6 0zM381.4 293.4l-4.5-.3 3.8-1.6 4.5 .2z"/><path class="c71" d="M386 293.9l-4.6-.5 3.8-1.7 4.6 .6z"/><path class="c70" d="M390.6 294.7l-4.6-.8 3.8-1.6 4.5 .8z"/><path class="c69" d="M395.1 295.8l-4.5-1.1 3.7-1.6 4.6 1.1z"/><path class="c68" d="M399.7 297.1l-4.6-1.3 3.8-1.6 4.6 1.3z"/><path class="c66" d="M404.2 298.8l-4.5-1.7 3.8-1.6 4.5 1.6z"/><path class="c64" d="M408.8 300.6l-4.6-1.8 3.8-1.7 4.6 1.9z"/><path class="c61" d="M413.3 302.7l-4.5-2.1 3.8-1.6 4.5 2z"/><path class="c58" d="M417.9 305l-4.6-2.3 3.8-1.7 4.6 2.3z"/><path class="c55" d="M422.5 307.5l-4.6-2.5 3.8-1.7 4.5 2.4z"/><path class="c51" d="M427 310l-4.5-2.5 3.7-1.8 4.6 2.6z"/><path class="c47" d="M431.6 312.7l-4.6-2.7 3.8-1.7 4.6 2.6z"/><path class="c6" d="M249.9 315.2l-4.5-.1 3.8-1 4.6 0z"/><path class="c7" d="M254.5 315.1l-4.6 .1 3.9-1.1 4.5-.2z"/><path class="c8" d="M259.1 315l-4.6 .1 3.8-1.2 4.6-.1z"/><path class="c9" d="M263.6 314.8l-4.5 .2 3.8-1.2 4.6-.3z"/><path class="c11" d="M268.2 314.6l-4.6 .2 3.9-1.3 4.5-.3z"/><path class="c12" d="M272.8 314.2l-4.6 .4 3.8-1.4 4.6-.5z"/><path class="c14" d="M277.3 313.8l-4.5 .4 3.8-1.5 4.5-.5z"/><path class="c16" d="M281.9 313.2l-4.6 .6 3.8-1.6 4.6-.6z"/><path class="c18" d="M286.4 312.6l-4.5 .6 3.8-1.6 4.6-.7z"/><path class="c20" d="M291 311.9l-4.6 .7 3.9-1.7 4.5-.8z"/><path class="c22" d="M295.6 311.1l-4.6 .8 3.8-1.8 4.6-.9z"/><path class="c25" d="M300.1 310.2l-4.5 .9 3.8-1.9 4.5-.9z"/><path class="c27" d="M304.7 309.2l-4.6 1 3.8-1.9 4.6-1.1z"/><path class="c30" d="M309.2 308.1l-4.5 1.1 3.8-2 4.6-1.1z"/><path class="c33" d="M313.8 306.9l-4.6 1.2 3.9-2 4.5-1.2z"/><path class="c36" d="M318.4 305.7l-4.6 1.2 3.8-2 4.6-1.2z"/><path class="c39" d="M322.9 304.4l-4.5 1.3 3.8-2 4.5-1.3z"/><path class="c43" d="M327.5 303.2l-4.6 1.2 3.8-2 4.6-1.3z"/><path class="c46" d="M332 301.9l-4.5 1.3 3.8-2.1 4.5-1.2z"/><path class="c49" d="M336.6 300.6l-4.6 1.3 3.8-2 4.6-1.3z"/><path class="c52" d="M341.2 299.4l-4.6 1.2 3.8-2 4.6-1.2z"/><path class="c55" d="M345.7 298.3l-4.5 1.1 3.8-2 4.5-1.1z"/><path class="c58" d="M350.3 297.2l-4.6 1.1 3.8-2 4.6-.9z"/><path class="c60" d="M354.8 296.3l-4.5 .9 3.8-1.8 4.5-.9z"/><path class="c63" d="M359.4 295.6l-4.6 .7 3.8-1.8 4.6-.6z"/><path class="c65" d="M364 295.1l-4.6 .5 3.8-1.7 4.6-.5z"/><path class="c66" d="M368.5 294.8l-4.5 .3 3.8-1.7 4.5-.3z"/><path class="c67" d="M373.1 294.8l-4.6 0 3.8-1.7 4.6 0z"/><path class="c68" d="M377.6 295l-4.5-.2 3.8-1.7 4.5 .3zM382.2 295.5l-4.6-.5 3.8-1.6 4.6 .5zM386.8 296.3l-4.6-.8 3.8-1.6 4.6 .8z"/><path class="c67" d="M391.3 297.4l-4.5-1.1 3.8-1.6 4.5 1.1z"/><path class="c66" d="M395.9 298.8l-4.6-1.4 3.8-1.6 4.6 1.3z"/><path class="c64" d="M400.4 300.5l-4.5-1.7 3.8-1.7 4.5 1.7z"/><path class="c61" d="M405 302.4l-4.6-1.9 3.8-1.7 4.6 1.8z"/><path class="c59" d="M409.6 304.5l-4.6-2.1 3.8-1.8 4.5 2.1z"/><path class="c55" d="M414.1 306.8l-4.5-2.3 3.7-1.8 4.6 2.3z"/><path class="c52" d="M418.7 309.3l-4.6-2.5 3.8-1.8 4.6 2.5z"/><path class="c48" d="M423.2 311.9l-4.5-2.6 3.8-1.8 4.5 2.5z"/><path class="c44" d="M427.8 314.5l-4.6-2.6 3.8-1.9 4.6 2.7z"/><path class="c5" d="M246.1 316.2l-4.6-.1 3.9-1 4.5 .1z"/><path class="c6" d="M250.7 316.2l-4.6 0 3.8-1 4.6-.1z"/><path class="c7" d="M255.2 316.2l-4.5 0 3.8-1.1 4.6-.1z"/><path class="c8" d="M259.8 316.1l-4.6 .1 3.9-1.2 4.5-.2z"/><path class="c9" d="M264.4 315.9l-4.6 .2 3.8-1.3 4.6-.2z"/><path class="c10" d="M268.9 315.6l-4.5 .3 3.8-1.3 4.6-.4z"/><path class="c12" d="M273.5 315.3l-4.6 .3 3.9-1.4 4.5-.4z"/><path class="c13" d="M278 314.8l-4.5 .5 3.8-1.5 4.6-.6z"/><path class="c15" d="M282.6 314.3l-4.6 .5 3.9-1.6 4.5-.6z"/><path class="c17" d="M287.2 313.6l-4.6 .7 3.8-1.7 4.6-.7z"/><path class="c20" d="M291.7 312.9l-4.5 .7 3.8-1.7 4.6-.8z"/><path class="c22" d="M296.3 312l-4.6 .9 3.9-1.8 4.5-.9z"/><path class="c25" d="M300.9 311.1l-4.6 .9 3.8-1.8 4.6-1z"/><path class="c27" d="M305.4 310.1l-4.5 1 3.8-1.9 4.5-1.1z"/><path class="c30" d="M310 308.9l-4.6 1.2 3.8-2 4.6-1.2z"/><path class="c33" d="M314.5 307.8l-4.5 1.1 3.8-2 4.6-1.2z"/><path class="c36" d="M319.1 306.5l-4.6 1.3 3.9-2.1 4.5-1.3z"/><path class="c39" d="M323.7 305.2l-4.6 1.3 3.8-2.1 4.6-1.2z"/><path class="c43" d="M328.2 303.9l-4.5 1.3 3.8-2 4.5-1.3z"/><path class="c46" d="M332.8 302.6l-4.6 1.3 3.8-2 4.6-1.3z"/><path class="c49" d="M337.4 301.4l-4.6 1.2 3.8-2 4.6-1.2z"/><path class="c52" d="M341.9 300.2l-4.5 1.2 3.8-2 4.5-1.1z"/><path class="c55" d="M346.5 299.2l-4.6 1 3.8-1.9 4.6-1.1z"/><path class="c58" d="M351 298.2l-4.5 1 3.8-2 4.5-.9z"/><path class="c60" d="M355.6 297.5l-4.6 .7 3.8-1.9 4.6-.7z"/><path class="c62" d="M360.2 296.9l-4.6 .6 3.8-1.9 4.6-.5z"/><path class="c64" d="M364.7 296.6l-4.5 .3 3.8-1.8 4.5-.3z"/><path class="c65" d="M369.3 296.5l-4.6 .1 3.8-1.8 4.6 0z"/><path class="c66" d="M373.9 296.7l-4.6-.2 3.8-1.7 4.5 .2zM378.4 297.2l-4.5-.5 3.7-1.7 4.6 .5zM383 298l-4.6-.8 3.8-1.7 4.6 .8z"/><path class="c65" d="M387.5 299.1l-4.5-1.1 3.8-1.7 4.5 1.1z"/><path class="c63" d="M392.1 300.5l-4.6-1.4 3.8-1.7 4.6 1.4z"/><path class="c61" d="M396.7 302.2l-4.6-1.7 3.8-1.7 4.5 1.7z"/><path class="c59" d="M401.2 304.1l-4.5-1.9 3.7-1.7 4.6 1.9z"/><path class="c56" d="M405.8 306.3l-4.6-2.2 3.8-1.7 4.6 2.1z"/><path class="c53" d="M410.3 308.7l-4.5-2.4 3.8-1.8 4.5 2.3z"/><path class="c49" d="M414.9 311.2l-4.6-2.5 3.8-1.9 4.6 2.5z"/><path class="c46" d="M419.5 313.8l-4.6-2.6 3.8-1.9 4.5 2.6z"/><path class="c42" d="M424 316.4l-4.5-2.6 3.7-1.9 4.6 2.6z"/><path class="c4" d="M242.3 317.1l-4.6-.1 3.8-.9 4.6 .1zM246.8 317.3l-4.5-.2 3.8-.9 4.6 0z"/><path class="c5" d="M251.4 317.3l-4.6 0 3.9-1.1 4.5 0z"/><path class="c6" d="M256 317.3l-4.6 0 3.8-1.1 4.6-.1z"/><path class="c7" d="M260.5 317.2l-4.5 .1 3.8-1.2 4.6-.2z"/><path class="c8" d="M265.1 317l-4.6 .2 3.9-1.3 4.5-.3z"/><path class="c10" d="M269.7 316.7l-4.6 .3 3.8-1.4 4.6-.3z"/><path class="c11" d="M274.2 316.4l-4.5 .3 3.8-1.4 4.5-.5z"/><path class="c13" d="M278.8 315.9l-4.6 .5 3.8-1.6 4.6-.5z"/><path class="c15" d="M283.3 315.4l-4.5 .5 3.8-1.6 4.6-.7z"/><path class="c17" d="M287.9 314.7l-4.6 .7 3.9-1.8 4.5-.7z"/><path class="c19" d="M292.5 313.9l-4.6 .8 3.8-1.8 4.6-.9z"/><path class="c22" d="M297 313.1l-4.5 .8 3.8-1.9 4.6-.9z"/><path class="c24" d="M301.6 312.1l-4.6 1 3.9-2 4.5-1z"/><path class="c27" d="M306.2 311l-4.6 1.1 3.8-2 4.6-1.2z"/><path class="c30" d="M310.7 309.9l-4.5 1.1 3.8-2.1 4.5-1.1z"/><path class="c33" d="M315.3 308.6l-4.6 1.3 3.8-2.1 4.6-1.3z"/><path class="c36" d="M319.9 307.4l-4.6 1.2 3.8-2.1 4.6-1.3z"/><path class="c40" d="M324.4 306.1l-4.5 1.3 3.8-2.2 4.5-1.3z"/><path class="c43" d="M329 304.8l-4.6 1.3 3.8-2.2 4.6-1.3z"/><path class="c46" d="M333.5 303.5l-4.5 1.3 3.8-2.2 4.6-1.2z"/><path class="c49" d="M338.1 302.3l-4.6 1.2 3.9-2.1 4.5-1.2z"/><path class="c52" d="M342.7 301.2l-4.6 1.1 3.8-2.1 4.6-1z"/><path class="c55" d="M347.2 300.2l-4.5 1 3.8-2 4.5-1z"/><path class="c57" d="M351.8 299.4l-4.6 .8 3.8-2 4.6-.7z"/><path class="c59" d="M356.4 298.8l-4.6 .6 3.8-1.9 4.6-.6z"/><path class="c61" d="M360.9 298.4l-4.5 .4 3.8-1.9 4.5-.3z"/><path class="c62" d="M365.5 298.3l-4.6 .1 3.8-1.8 4.6-.1z"/><path class="c63" d="M370.1 298.5l-4.6-.2 3.8-1.8 4.6 .2zM374.6 299l-4.5-.5 3.8-1.8 4.5 .5zM379.2 299.8l-4.6-.8 3.8-1.8 4.6 .8z"/><path class="c62" d="M383.8 300.9l-4.6-1.1 3.8-1.8 4.5 1.1z"/><path class="c61" d="M388.3 302.3l-4.5-1.4 3.7-1.8 4.6 1.4z"/><path class="c59" d="M392.9 304l-4.6-1.7 3.8-1.8 4.6 1.7z"/><path class="c56" d="M397.4 306l-4.5-2 3.8-1.8 4.5 1.9z"/><path class="c53" d="M402 308.2l-4.6-2.2 3.8-1.9 4.6 2.2z"/><path class="c50" d="M406.6 310.6l-4.6-2.4 3.8-1.9 4.5 2.4z"/><path class="c47" d="M411.1 313.1l-4.5-2.5 3.7-1.9 4.6 2.5z"/><path class="c43" d="M415.7 315.7l-4.6-2.6 3.8-1.9 4.6 2.6z"/><path class="c39" d="M420.3 318.4l-4.6-2.7 3.8-1.9 4.5 2.6z"/><path class="c3" d="M238.4 318l-4.5-.2 3.8-.8 4.6 .1zM243 318.2l-4.6-.2 3.9-.9 4.5 .2z"/><path class="c4" d="M247.6 318.3l-4.6-.1 3.8-.9 4.6 0z"/><path class="c5" d="M252.1 318.4l-4.5-.1 3.8-1 4.6 0z"/><path class="c6" d="M256.7 318.4l-4.6 0 3.9-1.1 4.5-.1z"/><path class="c7" d="M261.3 318.3l-4.6 .1 3.8-1.2 4.6-.2z"/><path class="c8" d="M265.8 318.1l-4.5 .2 3.8-1.3 4.6-.3z"/><path class="c9" d="M270.4 317.9l-4.6 .2 3.9-1.4 4.5-.3z"/><path class="c11" d="M275 317.5l-4.6 .4 3.8-1.5 4.6-.5z"/><path class="c12" d="M279.5 317.1l-4.5 .4 3.8-1.6 4.5-.5z"/><path class="c14" d="M284.1 316.5l-4.6 .6 3.8-1.7 4.6-.7z"/><path class="c16" d="M288.7 315.8l-4.6 .7 3.8-1.8 4.6-.8z"/><path class="c19" d="M293.2 315l-4.5 .8 3.8-1.9 4.5-.8z"/><path class="c21" d="M297.8 314.1l-4.6 .9 3.8-1.9 4.6-1z"/><path class="c24" d="M302.3 313.1l-4.5 1 3.8-2 4.6-1.1z"/><path class="c27" d="M306.9 312l-4.6 1.1 3.9-2.1 4.5-1.1z"/><path class="c30" d="M311.5 310.8l-4.6 1.2 3.8-2.1 4.6-1.3z"/><path class="c33" d="M316 309.6l-4.5 1.2 3.8-2.2 4.6-1.2z"/><path class="c36" d="M320.6 308.3l-4.6 1.3 3.9-2.2 4.5-1.3z"/><path class="c39" d="M325.2 307l-4.6 1.3 3.8-2.2 4.6-1.3z"/><path class="c43" d="M329.7 305.7l-4.5 1.3 3.8-2.2 4.5-1.3z"/><path class="c46" d="M334.3 304.4l-4.6 1.3 3.8-2.2 4.6-1.2z"/><path class="c49" d="M338.9 303.3l-4.6 1.1 3.8-2.1 4.6-1.1z"/><path class="c52" d="M343.4 302.2l-4.5 1.1 3.8-2.1 4.5-1z"/><path class="c54" d="M348 301.4l-4.6 .8 3.8-2 4.6-.8z"/><path class="c57" d="M352.6 300.7l-4.6 .7 3.8-2 4.6-.6z"/><path class="c58" d="M357.1 300.3l-4.5 .4 3.8-1.9 4.5-.4z"/><path class="c60" d="M361.7 300.2l-4.6 .1 3.8-1.9 4.6-.1z"/><path class="c61" d="M366.3 300.3l-4.6-.1 3.8-1.9 4.6 .2zM370.8 300.8l-4.5-.5 3.8-1.8 4.5 .5zM375.4 301.6l-4.6-.8 3.8-1.8 4.6 .8z"/><path class="c60" d="M380 302.7l-4.6-1.1 3.8-1.8 4.6 1.1z"/><path class="c58" d="M384.5 304.2l-4.5-1.5 3.8-1.8 4.5 1.4z"/><path class="c56" d="M389.1 305.9l-4.6-1.7 3.8-1.9 4.6 1.7z"/><path class="c54" d="M393.7 307.9l-4.6-2 3.8-1.9 4.5 2z"/><path class="c51" d="M398.2 310.1l-4.5-2.2 3.7-1.9 4.6 2.2z"/><path class="c47" d="M402.8 312.6l-4.6-2.5 3.8-1.9 4.6 2.4z"/><path class="c44" d="M407.4 315.1l-4.6-2.5 3.8-2 4.5 2.5z"/><path class="c40" d="M411.9 317.7l-4.5-2.6 3.7-2 4.6 2.6z"/><path class="c36" d="M416.5 320.4l-4.6-2.7 3.8-2 4.6 2.7z"/><path class="c2" d="M234.6 318.8l-4.6-.2 3.9-.8 4.5 .2zM239.2 319.1l-4.6-.3 3.8-.8 4.6 .2z"/><path class="c3" d="M243.7 319.3l-4.5-.2 3.8-.9 4.6 .1z"/><path class="c4" d="M248.3 319.4l-4.6-.1 3.9-1 4.5 .1zM252.9 319.5l-4.6-.1 3.8-1 4.6 0z"/><path class="c5" d="M257.4 319.5l-4.5 0 3.8-1.1 4.6-.1z"/><path class="c6" d="M262 319.5l-4.6 0 3.9-1.2 4.5-.2z"/><path class="c7" d="M266.6 319.3l-4.6 .2 3.8-1.4 4.6-.2z"/><path class="c9" d="M271.1 319.1l-4.5 .2 3.8-1.4 4.6-.4z"/><path class="c10" d="M275.7 318.7l-4.6 .4 3.9-1.6 4.5-.4z"/><path class="c12" d="M280.3 318.3l-4.6 .4 3.8-1.6 4.6-.6z"/><path class="c14" d="M284.8 317.7l-4.5 .6 3.8-1.8 4.6-.7z"/><path class="c16" d="M289.4 317l-4.6 .7 3.9-1.9 4.5-.8z"/><path class="c18" d="M294 316.2l-4.6 .8 3.8-2 4.6-.9z"/><path class="c21" d="M298.5 315.2l-4.5 1 3.8-2.1 4.5-1z"/><path class="c24" d="M303.1 314.2l-4.6 1 3.8-2.1 4.6-1.1z"/><path class="c27" d="M307.7 313.1l-4.6 1.1 3.8-2.2 4.6-1.2z"/><path class="c30" d="M312.2 311.8l-4.5 1.3 3.8-2.3 4.5-1.2z"/><path class="c33" d="M316.8 310.6l-4.6 1.2 3.8-2.2 4.6-1.3z"/><path class="c36" d="M321.4 309.2l-4.6 1.4 3.8-2.3 4.6-1.3z"/><path class="c39" d="M325.9 307.9l-4.5 1.3 3.8-2.2 4.5-1.3z"/><path class="c43" d="M330.5 306.7l-4.6 1.2 3.8-2.2 4.6-1.3z"/><path class="c46" d="M335.1 305.4l-4.6 1.3 3.8-2.3 4.6-1.1z"/><path class="c49" d="M339.6 304.4l-4.5 1 3.8-2.1 4.5-1.1z"/><path class="c51" d="M344.2 303.4l-4.6 1 3.8-2.2 4.6-.8z"/><path class="c54" d="M348.8 302.7l-4.6 .7 3.8-2 4.6-.7z"/><path class="c55" d="M353.3 302.3l-4.5 .4 3.8-2 4.5-.4z"/><path class="c57" d="M357.9 302.1l-4.6 .2 3.8-2 4.6-.1z"/><path class="c58" d="M362.5 302.2l-4.6-.1 3.8-1.9 4.6 .1zM367 302.7l-4.5-.5 3.8-1.9 4.5 .5zM371.6 303.5l-4.6-.8 3.8-1.9 4.6 .8z"/><path class="c57" d="M376.2 304.6l-4.6-1.1 3.8-1.9 4.6 1.1z"/><path class="c55" d="M380.7 306.1l-4.5-1.5 3.8-1.9 4.5 1.5z"/><path class="c53" d="M385.3 307.9l-4.6-1.8 3.8-1.9 4.6 1.7z"/><path class="c51" d="M389.9 309.9l-4.6-2 3.8-2 4.6 2z"/><path class="c48" d="M394.4 312.2l-4.5-2.3 3.8-2 4.5 2.2z"/><path class="c44" d="M399 314.6l-4.6-2.4 3.8-2.1 4.6 2.5z"/><path class="c40" d="M403.6 317.2l-4.6-2.6 3.8-2 4.6 2.5z"/><path class="c37" d="M408.2 319.9l-4.6-2.7 3.8-2.1 4.5 2.6z"/><path class="c33" d="M412.7 322.5l-4.5-2.6 3.7-2.2 4.6 2.7z"/><path class="c1" d="M230.7 319.6l-4.5-.4 3.8-.6 4.6 .2z"/><path class="c2" d="M235.3 319.9l-4.6-.3 3.9-.8 4.6 .3zM239.9 320.1l-4.6-.2 3.9-.8 4.5 .2zM244.5 320.4l-4.6-.3 3.8-.8 4.6 .1z"/><path class="c3" d="M249 320.5l-4.5-.1 3.8-1 4.6 .1z"/><path class="c4" d="M253.6 320.7l-4.6-.2 3.9-1 4.5 0z"/><path class="c5" d="M258.2 320.7l-4.6 0 3.8-1.2 4.6 0z"/><path class="c6" d="M262.7 320.7l-4.5 0 3.8-1.2 4.6-.2z"/><path class="c7" d="M267.3 320.5l-4.6 .2 3.9-1.4 4.5-.2z"/><path class="c8" d="M271.9 320.3l-4.6 .2 3.8-1.4 4.6-.4z"/><path class="c9" d="M276.4 320l-4.5 .3 3.8-1.6 4.6-.4z"/><path class="c11" d="M281 319.5l-4.6 .5 3.9-1.7 4.5-.6z"/><path class="c13" d="M285.6 318.9l-4.6 .6 3.8-1.8 4.6-.7z"/><path class="c15" d="M290.1 318.2l-4.5 .7 3.8-1.9 4.6-.8z"/><path class="c18" d="M294.7 317.4l-4.6 .8 3.9-2 4.5-1z"/><path class="c20" d="M299.3 316.4l-4.6 1 3.8-2.2 4.6-1z"/><path class="c23" d="M303.9 315.4l-4.6 1 3.8-2.2 4.6-1.1z"/><path class="c26" d="M308.4 314.2l-4.5 1.2 3.8-2.3 4.5-1.3z"/><path class="c29" d="M313 312.9l-4.6 1.3 3.8-2.4 4.6-1.2z"/><path class="c32" d="M317.6 311.6l-4.6 1.3 3.8-2.3 4.6-1.4z"/><path class="c36" d="M322.1 310.3l-4.5 1.3 3.8-2.4 4.5-1.3z"/><path class="c39" d="M326.7 309l-4.6 1.3 3.8-2.4 4.6-1.2z"/><path class="c42" d="M331.3 307.7l-4.6 1.3 3.8-2.3 4.6-1.3z"/><path class="c45" d="M335.8 306.6l-4.5 1.1 3.8-2.3 4.5-1z"/><path class="c48" d="M340.4 305.6l-4.6 1 3.8-2.2 4.6-1z"/><path class="c50" d="M345 304.8l-4.6 .8 3.8-2.2 4.6-.7z"/><path class="c52" d="M349.5 304.3l-4.5 .5 3.8-2.1 4.5-.4z"/><path class="c54" d="M354.1 304.1l-4.6 .2 3.8-2 4.6-.2z"/><path class="c55" d="M358.7 304.2l-4.6-.1 3.8-2 4.6 .1zM363.3 304.6l-4.6-.4 3.8-2 4.5 .5zM367.8 305.4l-4.5-.8 3.7-1.9 4.6 .8z"/><path class="c54" d="M372.4 306.6l-4.6-1.2 3.8-1.9 4.6 1.1z"/><path class="c53" d="M377 308.1l-4.6-1.5 3.8-2 4.5 1.5z"/><path class="c50" d="M381.5 309.9l-4.5-1.8 3.7-2 4.6 1.8z"/><path class="c48" d="M386.1 312l-4.6-2.1 3.8-2 4.6 2z"/><path class="c45" d="M390.7 314.3l-4.6-2.3 3.8-2.1 4.5 2.3z"/><path class="c41" d="M395.2 316.8l-4.5-2.5 3.7-2.1 4.6 2.4z"/><path class="c37" d="M399.8 319.4l-4.6-2.6 3.8-2.2 4.6 2.6z"/><path class="c33" d="M404.4 322.1l-4.6-2.7 3.8-2.2 4.6 2.7z"/><path class="c29" d="M408.9 324.7l-4.5-2.6 3.8-2.2 4.5 2.6z"/><path class="c1" d="M226.9 320.2l-4.6-.4 3.9-.6 4.5 .4zM231.5 320.6l-4.6-.4 3.8-.6 4.6 .3zM236 320.9l-4.5-.3 3.8-.7 4.6 .2z"/><path class="c2" d="M240.6 321.2l-4.6-.3 3.9-.8 4.6 .3zM245.2 321.5l-4.6-.3 3.9-.8 4.5 .1z"/><path class="c3" d="M249.8 321.7l-4.6-.2 3.8-1 4.6 .2zM254.3 321.8l-4.5-.1 3.8-1 4.6 0z"/><path class="c4" d="M258.9 321.9l-4.6-.1 3.9-1.1 4.5 0z"/><path class="c5" d="M263.5 321.9l-4.6 0 3.8-1.2 4.6-.2z"/><path class="c6" d="M268 321.8l-4.5 .1 3.8-1.4 4.6-.2z"/><path class="c7" d="M272.6 321.6l-4.6 .2 3.9-1.5 4.5-.3z"/><path class="c9" d="M277.2 321.3l-4.6 .3 3.8-1.6 4.6-.5z"/><path class="c10" d="M281.8 320.8l-4.6 .5 3.8-1.8 4.6-.6z"/><path class="c12" d="M286.3 320.3l-4.5 .5 3.8-1.9 4.5-.7z"/><path class="c15" d="M290.9 319.5l-4.6 .8 3.8-2.1 4.6-.8z"/><path class="c17" d="M295.5 318.7l-4.6 .8 3.8-2.1 4.6-1z"/><path class="c20" d="M300 317.7l-4.5 1 3.8-2.3 4.6-1z"/><path class="c22" d="M304.6 316.6l-4.6 1.1 3.9-2.3 4.5-1.2z"/><path class="c25" d="M309.2 315.4l-4.6 1.2 3.8-2.4 4.6-1.3z"/><path class="c29" d="M313.8 314.1l-4.6 1.3 3.8-2.5 4.6-1.3z"/><path class="c32" d="M318.3 312.8l-4.5 1.3 3.8-2.5 4.5-1.3z"/><path class="c35" d="M322.9 311.5l-4.6 1.3 3.8-2.5 4.6-1.3z"/><path class="c38" d="M327.5 310.2l-4.6 1.3 3.8-2.5 4.6-1.3z"/><path class="c42" d="M332 309l-4.5 1.2 3.8-2.5 4.5-1.1z"/><path class="c44" d="M336.6 307.9l-4.6 1.1 3.8-2.4 4.6-1z"/><path class="c47" d="M341.2 307.1l-4.6 .8 3.8-2.3 4.6-.8z"/><path class="c49" d="M345.8 306.5l-4.6 .6 3.8-2.3 4.5-.5z"/><path class="c51" d="M350.3 306.2l-4.5 .3 3.7-2.2 4.6-.2z"/><path class="c52" d="M354.9 306.2l-4.6 0 3.8-2.1 4.6 .1zM359.5 306.6l-4.6-.4 3.8-2 4.6 .4zM364 307.5l-4.5-.9 3.8-2 4.5 .8z"/><path class="c51" d="M368.6 308.6l-4.6-1.1 3.8-2.1 4.6 1.2z"/><path class="c49" d="M373.2 310.2l-4.6-1.6 3.8-2 4.6 1.5z"/><path class="c47" d="M377.8 312.1l-4.6-1.9 3.8-2.1 4.5 1.8z"/><path class="c44" d="M382.3 314.2l-4.5-2.1 3.7-2.2 4.6 2.1z"/><path class="c41" d="M386.9 316.6l-4.6-2.4 3.8-2.2 4.6 2.3z"/><path class="c38" d="M391.5 319.1l-4.6-2.5 3.8-2.3 4.5 2.5z"/><path class="c34" d="M396 321.7l-4.5-2.6 3.7-2.3 4.6 2.6z"/><path class="c30" d="M400.6 324.4l-4.6-2.7 3.8-2.3 4.6 2.7z"/><path class="c26" d="M405.2 326.9l-4.6-2.5 3.8-2.3 4.5 2.6z"/><path class="c0" d="M223.1 320.7l-4.6-.4 3.8-.5 4.6 .4z"/><path class="c1" d="M227.6 321.1l-4.5-.4 3.8-.5 4.6 .4zM232.2 321.5l-4.6-.4 3.9-.5 4.5 .3zM236.8 321.9l-4.6-.4 3.8-.6 4.6 .3zM241.4 322.2l-4.6-.3 3.8-.7 4.6 .3z"/><path class="c2" d="M245.9 322.5l-4.5-.3 3.8-.7 4.6 .2zM250.5 322.8l-4.6-.3 3.9-.8 4.5 .1z"/><path class="c3" d="M255.1 323l-4.6-.2 3.8-1 4.6 .1zM259.6 323.1l-4.5-.1 3.8-1.1 4.6 0z"/><path class="c4" d="M264.2 323.1l-4.6 0 3.9-1.2 4.5-.1z"/><path class="c5" d="M268.8 323.1l-4.6 0 3.8-1.3 4.6-.2z"/><path class="c6" d="M273.4 322.9l-4.6 .2 3.8-1.5 4.6-.3z"/><path class="c8" d="M277.9 322.6l-4.5 .3 3.8-1.6 4.6-.5z"/><path class="c9" d="M282.5 322.2l-4.6 .4 3.9-1.8 4.5-.5z"/><path class="c11" d="M287.1 321.7l-4.6 .5 3.8-1.9 4.6-.8z"/><path class="c14" d="M291.7 321l-4.6 .7 3.8-2.2 4.6-.8z"/><path class="c16" d="M296.2 320.1l-4.5 .9 3.8-2.3 4.5-1z"/><path class="c19" d="M300.8 319.1l-4.6 1 3.8-2.4 4.6-1.1z"/><path class="c22" d="M305.4 318l-4.6 1.1 3.8-2.5 4.6-1.2z"/><path class="c25" d="M309.9 316.7l-4.5 1.3 3.8-2.6 4.6-1.3z"/><path class="c28" d="M314.5 315.4l-4.6 1.3 3.9-2.6 4.5-1.3z"/><path class="c31" d="M319.1 314.1l-4.6 1.3 3.8-2.6 4.6-1.3z"/><path class="c35" d="M323.7 312.7l-4.6 1.4 3.8-2.6 4.6-1.3z"/><path class="c38" d="M328.2 311.5l-4.5 1.2 3.8-2.5 4.5-1.2z"/><path class="c41" d="M332.8 310.3l-4.6 1.2 3.8-2.5 4.6-1.1z"/><path class="c43" d="M337.4 309.4l-4.6 .9 3.8-2.4 4.6-.8z"/><path class="c46" d="M342 308.7l-4.6 .7 3.8-2.3 4.6-.6z"/><path class="c47" d="M346.5 308.4l-4.5 .3 3.8-2.2 4.5-.3z"/><path class="c49" d="M351.1 308.4l-4.6 0 3.8-2.2 4.6 0zM355.7 308.8l-4.6-.4 3.8-2.2 4.6 .4zM360.2 309.6l-4.5-.8 3.8-2.2 4.5 .9z"/><path class="c48" d="M364.8 310.8l-4.6-1.2 3.8-2.1 4.6 1.1z"/><path class="c46" d="M369.4 312.4l-4.6-1.6 3.8-2.2 4.6 1.6z"/><path class="c44" d="M374 314.4l-4.6-2 3.8-2.2 4.6 1.9z"/><path class="c41" d="M378.5 316.6l-4.5-2.2 3.8-2.3 4.5 2.1z"/><path class="c38" d="M383.1 319l-4.6-2.4 3.8-2.4 4.6 2.4z"/><path class="c34" d="M387.7 321.6l-4.6-2.6 3.8-2.4 4.6 2.5z"/><path class="c30" d="M392.3 324.2l-4.6-2.6 3.8-2.5 4.5 2.6z"/><path class="c26" d="M396.8 326.8l-4.5-2.6 3.7-2.5 4.6 2.7z"/><path class="c22" d="M401.4 329.3l-4.6-2.5 3.8-2.4 4.6 2.5z"/><path class="c0" d="M219.2 321.2l-4.5-.5 3.8-.4 4.6 .4zM223.8 321.6l-4.6-.4 3.9-.5 4.5 .4zM228.4 322.1l-4.6-.5 3.8-.5 4.6 .4zM232.9 322.5l-4.5-.4 3.8-.6 4.6 .4z"/><path class="c1" d="M237.5 322.9l-4.5-.4 3.8-.6 4.6 .3zM242.1 323.3l-4.6-.4 3.9-.7 4.5 .3zM246.7 323.6l-4.6-.3 3.8-.8 4.6 .3z"/><path class="c2" d="M251.2 323.9l-4.5-.3 3.8-.8 4.6 .2zM255.8 324.2l-4.6-.3 3.9-.9 4.5 .1z"/><path class="c3" d="M260.4 324.3l-4.6-.1 3.8-1.1 4.6 0zM265 324.4l-4.6-.1 3.8-1.2 4.6 0z"/><path class="c4" d="M269.5 324.4l-4.5 0 3.8-1.3 4.6-.2z"/><path class="c5" d="M274.1 324.3l-4.6 .1 3.9-1.5 4.5-.3z"/><path class="c7" d="M278.7 324.1l-4.6 .2 3.8-1.7 4.6-.4z"/><path class="c8" d="M283.3 323.7l-4.6 .4 3.8-1.9 4.6-.5z"/><path class="c10" d="M287.8 323.2l-4.5 .5 3.8-2 4.6-.7z"/><path class="c12" d="M292.4 322.5l-4.6 .7 3.9-2.2 4.5-.9z"/><path class="c15" d="M297 321.6l-4.6 .9 3.8-2.4 4.6-1z"/><path class="c18" d="M301.6 320.6l-4.6 1 3.8-2.5 4.6-1.1z"/><path class="c21" d="M306.1 319.5l-4.5 1.1 3.8-2.6 4.5-1.3z"/><path class="c24" d="M310.7 318.2l-4.6 1.3 3.8-2.8 4.6-1.3z"/><path class="c27" d="M315.3 316.9l-4.6 1.3 3.8-2.8 4.6-1.3z"/><path class="c30" d="M319.9 315.5l-4.6 1.4 3.8-2.8 4.6-1.4z"/><path class="c34" d="M324.4 314.2l-4.5 1.3 3.8-2.8 4.5-1.2z"/><path class="c37" d="M329 313l-4.6 1.2 3.8-2.7 4.6-1.2z"/><path class="c40" d="M333.6 312l-4.6 1 3.8-2.7 4.6-.9z"/><path class="c42" d="M338.2 311.2l-4.6 .8 3.8-2.6 4.6-.7z"/><path class="c44" d="M342.7 310.8l-4.5 .4 3.8-2.5 4.5-.3z"/><path class="c45" d="M347.3 310.7l-4.6 .1 3.8-2.4 4.6 0z"/><path class="c46" d="M351.9 311.1l-4.6-.4 3.8-2.3 4.6 .4z"/><path class="c45" d="M356.5 311.9l-4.6-.8 3.8-2.3 4.5 .8z"/><path class="c44" d="M361 313.2l-4.5-1.3 3.7-2.3 4.6 1.2z"/><path class="c43" d="M365.6 314.8l-4.6-1.6 3.8-2.4 4.6 1.6z"/><path class="c40" d="M370.2 316.8l-4.6-2 3.8-2.4 4.6 2z"/><path class="c37" d="M374.8 319.1l-4.6-2.3 3.8-2.4 4.5 2.2z"/><path class="c34" d="M379.3 321.6l-4.5-2.5 3.7-2.5 4.6 2.4z"/><path class="c30" d="M383.9 324.2l-4.6-2.6 3.8-2.6 4.6 2.6z"/><path class="c26" d="M388.5 326.8l-4.6-2.6 3.8-2.6 4.6 2.6z"/><path class="c22" d="M393.1 329.3l-4.6-2.5 3.8-2.6 4.5 2.6z"/><path class="c19" d="M397.6 331.7l-4.5-2.4 3.7-2.5 4.6 2.5z"/><path class="c0" d="M215.4 321.6l-4.6-.5 3.9-.4 4.5 .5zM220 322.1l-4.6-.5 3.8-.4 4.6 .4zM224.5 322.5l-4.5-.4 3.8-.5 4.6 .5zM229.1 323l-4.6-.5 3.9-.4 4.6 .4zM233.7 323.4l-4.6-.4 3.9-.5 4.5 .4zM238.3 323.9l-4.6-.5 3.8-.5 4.6 .4z"/><path class="c1" d="M242.8 324.3l-4.5-.4 3.8-.6 4.6 .3zM247.4 324.7l-4.6-.4 3.9-.7 4.5 .3zM252 325l-4.6-.3 3.8-.8 4.6 .3zM256.6 325.3l-4.6-.3 3.8-.8 4.6 .1z"/><path class="c2" d="M261.1 325.6l-4.5-.3 3.8-1 4.6 .1z"/><path class="c3" d="M265.7 325.7l-4.6-.1 3.9-1.2 4.5 0zM270.3 325.8l-4.6-.1 3.8-1.3 4.6-.1z"/><path class="c4" d="M274.9 325.8l-4.6 0 3.8-1.5 4.6-.2z"/><path class="c6" d="M279.5 325.6l-4.6 .2 3.8-1.7 4.6-.4z"/><path class="c7" d="M284 325.3l-4.5 .3 3.8-1.9 4.5-.5z"/><path class="c9" d="M288.6 324.8l-4.6 .5 3.8-2.1 4.6-.7z"/><path class="c11" d="M293.2 324.2l-4.6 .6 3.8-2.3 4.6-.9z"/><path class="c13" d="M297.8 323.3l-4.6 .9 3.8-2.6 4.6-1z"/><path class="c16" d="M302.3 322.3l-4.5 1 3.8-2.7 4.5-1.1z"/><path class="c19" d="M306.9 321.1l-4.6 1.2 3.8-2.8 4.6-1.3z"/><path class="c22" d="M311.5 319.8l-4.6 1.3 3.8-2.9 4.6-1.3z"/><path class="c26" d="M316.1 318.5l-4.6 1.3 3.8-2.9 4.6-1.4z"/><path class="c29" d="M320.6 317.1l-4.5 1.4 3.8-3 4.5-1.3z"/><path class="c32" d="M325.2 315.8l-4.6 1.3 3.8-2.9 4.6-1.2z"/><path class="c35" d="M329.8 314.7l-4.6 1.1 3.8-2.8 4.6-1z"/><path class="c38" d="M334.4 313.8l-4.6 .9 3.8-2.7 4.6-.8z"/><path class="c40" d="M338.9 313.3l-4.5 .5 3.8-2.6 4.5-.4z"/><path class="c41" d="M343.5 313.2l-4.6 .1 3.8-2.5 4.6-.1z"/><path class="c42" d="M348.1 313.5l-4.6-.3 3.8-2.5 4.6 .4zM352.7 314.4l-4.6-.9 3.8-2.4 4.6 .8z"/><path class="c41" d="M357.2 315.7l-4.5-1.3 3.8-2.5 4.5 1.3z"/><path class="c39" d="M361.8 317.4l-4.6-1.7 3.8-2.5 4.6 1.6z"/><path class="c36" d="M366.4 319.5l-4.6-2.1 3.8-2.6 4.6 2z"/><path class="c33" d="M371 321.9l-4.6-2.4 3.8-2.7 4.6 2.3z"/><path class="c30" d="M375.6 324.4l-4.6-2.5 3.8-2.8 4.5 2.5z"/><path class="c26" d="M380.1 327l-4.5-2.6 3.7-2.8 4.6 2.6z"/><path class="c22" d="M384.7 329.5l-4.6-2.5 3.8-2.8 4.6 2.6z"/><path class="c18" d="M389.3 331.9l-4.6-2.4 3.8-2.7 4.6 2.5z"/><path class="c15" d="M393.9 334.1l-4.6-2.2 3.8-2.6 4.5 2.4z"/><path class="c0" d="M211.5 322l-4.5-.5 3.8-.4 4.6 .5zM216.1 322.5l-4.6-.5 3.9-.4 4.6 .5zM220.7 322.9l-4.6-.4 3.9-.4 4.5 .4zM225.3 323.4l-4.6-.5 3.8-.4 4.6 .5zM229.9 323.9l-4.6-.5 3.8-.4 4.6 .4zM234.4 324.3l-4.5-.4 3.8-.5 4.6 .5zM239 324.8l-4.6-.5 3.9-.4 4.5 .4zM243.6 325.2l-4.6-.4 3.8-.5 4.6 .4zM248.2 325.7l-4.6-.5 3.8-.5 4.6 .3z"/><path class="c1" d="M252.7 326.1l-4.5-.4 3.8-.7 4.6 .3zM257.3 326.4l-4.6-.3 3.9-.8 4.5 .3zM261.9 326.8l-4.6-.4 3.8-.8 4.6 .1z"/><path class="c2" d="M266.5 327l-4.6-.2 3.8-1.1 4.6 .1zM271.1 327.2l-4.6-.2 3.8-1.2 4.6 0z"/><path class="c3" d="M275.6 327.3l-4.5-.1 3.8-1.4 4.6-.2z"/><path class="c4" d="M280.2 327.2l-4.6 .1 3.9-1.7 4.5-.3z"/><path class="c6" d="M284.8 327l-4.6 .2 3.8-1.9 4.6-.5z"/><path class="c7" d="M289.4 326.6l-4.6 .4 3.8-2.2 4.6-.6z"/><path class="c9" d="M293.9 326l-4.5 .6 3.8-2.4 4.6-.9z"/><path class="c12" d="M298.5 325.2l-4.5 .8 3.8-2.7 4.5-1z"/><path class="c14" d="M303.1 324.2l-4.6 1 3.8-2.9 4.6-1.2z"/><path class="c17" d="M307.7 323l-4.6 1.2 3.8-3.1 4.6-1.3z"/><path class="c21" d="M312.3 321.7l-4.6 1.3 3.8-3.2 4.6-1.3z"/><path class="c24" d="M316.8 320.4l-4.5 1.3 3.8-3.2 4.5-1.4z"/><path class="c27" d="M321.4 319l-4.6 1.4 3.8-3.3 4.6-1.3z"/><path class="c31" d="M326 317.8l-4.6 1.2 3.8-3.2 4.6-1.1z"/><path class="c33" d="M330.6 316.8l-4.6 1 3.8-3.1 4.6-.9z"/><path class="c36" d="M335.2 316.1l-4.6 .7 3.8-3 4.5-.5z"/><path class="c37" d="M339.7 315.9l-4.5 .2 3.7-2.8 4.6-.1z"/><path class="c38" d="M344.3 316.2l-4.6-.3 3.8-2.7 4.6 .3zM348.9 317.1l-4.6-.9 3.8-2.7 4.6 .9z"/><path class="c37" d="M353.5 318.4l-4.6-1.3 3.8-2.7 4.5 1.3z"/><path class="c35" d="M358 320.3l-4.5-1.9 3.7-2.7 4.6 1.7z"/><path class="c32" d="M362.6 322.5l-4.6-2.2 3.8-2.9 4.6 2.1z"/><path class="c29" d="M367.2 324.9l-4.6-2.4 3.8-3 4.6 2.4z"/><path class="c25" d="M371.8 327.5l-4.6-2.6 3.8-3 4.6 2.5z"/><path class="c21" d="M376.4 330l-4.6-2.5 3.8-3.1 4.5 2.6z"/><path class="c17" d="M380.9 332.4l-4.5-2.4 3.7-3 4.6 2.5z"/><path class="c14" d="M385.5 334.6l-4.6-2.2 3.8-2.9 4.6 2.4z"/><path class="c11" d="M390.1 336.6l-4.6-2 3.8-2.7 4.6 2.2z"/><path class="c0" d="M207.7 322.4l-4.6-.5 3.9-.4 4.5 .5zM212.3 322.8l-4.6-.4 3.8-.4 4.6 .5zM216.9 323.3l-4.6-.5 3.8-.3 4.6 .4zM221.4 323.8l-4.5-.5 3.8-.4 4.6 .5zM226 324.3l-4.6-.5 3.9-.4 4.6 .5zM230.6 324.7l-4.6-.4 3.9-.4 4.5 .4zM235.2 325.2l-4.6-.5 3.8-.4 4.6 .5zM239.8 325.7l-4.6-.5 3.8-.4 4.6 .4zM244.3 326.1l-4.5-.4 3.8-.5 4.6 .5zM248.9 326.6l-4.6-.5 3.9-.4 4.5 .4zM253.5 327.1l-4.6-.5 3.8-.5 4.6 .3zM258.1 327.5l-4.6-.4 3.8-.7 4.6 .4z"/><path class="c1" d="M262.7 327.9l-4.6-.4 3.8-.7 4.6 .2zM267.2 328.2l-4.5-.3 3.8-.9 4.6 .2zM271.8 328.5l-4.6-.3 3.9-1 4.5 .1z"/><path class="c2" d="M276.4 328.7l-4.6-.2 3.8-1.2 4.6-.1z"/><path class="c3" d="M281 328.8l-4.6-.1 3.8-1.5 4.6-.2z"/><path class="c4" d="M285.6 328.8l-4.6 0 3.8-1.8 4.6-.4z"/><path class="c6" d="M290.1 328.5l-4.5 .3 3.8-2.2 4.6-.6z"/><path class="c7" d="M294.7 328.1l-4.6 .4 3.9-2.5 4.5-.8z"/><path class="c10" d="M299.3 327.4l-4.6 .7 3.8-2.9 4.6-1z"/><path class="c12" d="M303.9 326.5l-4.6 .9 3.8-3.2 4.6-1.2z"/><path class="c15" d="M308.5 325.3l-4.6 1.2 3.8-3.5 4.6-1.3z"/><path class="c18" d="M313 324l-4.5 1.3 3.8-3.6 4.5-1.3z"/><path class="c22" d="M317.6 322.6l-4.6 1.4 3.8-3.6 4.6-1.4z"/><path class="c25" d="M322.2 321.2l-4.6 1.4 3.8-3.6 4.6-1.2z"/><path class="c28" d="M326.8 320.1l-4.6 1.1 3.8-3.4 4.6-1z"/><path class="c31" d="M331.4 319.3l-4.6 .8 3.8-3.3 4.6-.7z"/><path class="c32" d="M335.9 318.9l-4.5 .4 3.8-3.2 4.5-.2z"/><path class="c33" d="M340.5 319.2l-4.6-.3 3.8-3 4.6 .3zM345.1 320.1l-4.6-.9 3.8-3 4.6 .9z"/><path class="c32" d="M349.7 321.5l-4.6-1.4 3.8-3 4.6 1.3z"/><path class="c30" d="M354.3 323.5l-4.6-2 3.8-3.1 4.5 1.9z"/><path class="c27" d="M358.8 325.9l-4.5-2.4 3.7-3.2 4.6 2.2z"/><path class="c23" d="M363.4 328.4l-4.6-2.5 3.8-3.4 4.6 2.4z"/><path class="c20" d="M368 330.9l-4.6-2.5 3.8-3.5 4.6 2.6z"/><path class="c16" d="M372.6 333.3l-4.6-2.4 3.8-3.4 4.6 2.5z"/><path class="c12" d="M377.2 335.5l-4.6-2.2 3.8-3.3 4.5 2.4z"/><path class="c9" d="M381.7 337.3l-4.5-1.8 3.7-3.1 4.6 2.2z"/><path class="c7" d="M386.3 338.8l-4.6-1.5 3.8-2.7 4.6 2z"/><path class="c0" d="M203.9 322.7l-4.6-.4 3.8-.4 4.6 .5zM208.4 323.2l-4.5-.5 3.8-.3 4.6 .4zM213 323.7l-4.6-.5 3.9-.4 4.6 .5zM217.6 324.2l-4.6-.5 3.9-.4 4.5 .5zM222.2 324.6l-4.6-.4 3.8-.4 4.6 .5zM226.8 325.1l-4.6-.5 3.8-.3 4.6 .4zM231.4 325.6l-4.6-.5 3.8-.4 4.6 .5zM235.9 326.1l-4.5-.5 3.8-.4 4.6 .5zM240.5 326.5l-4.6-.4 3.9-.4 4.5 .4zM245.1 327l-4.6-.5 3.8-.4 4.6 .5zM249.7 327.5l-4.6-.5 3.8-.4 4.6 .5zM254.3 328l-4.6-.5 3.8-.4 4.6 .4zM258.8 328.4l-4.5-.4 3.8-.5 4.6 .4zM263.4 328.9l-4.6-.5 3.9-.5 4.5 .3zM268 329.3l-4.6-.4 3.8-.7 4.6 .3z"/><path class="c1" d="M272.6 329.7l-4.6-.4 3.8-.8 4.6 .2zM277.2 330.1l-4.6-.4 3.8-1 4.6 .1z"/><path class="c2" d="M281.8 330.4l-4.6-.3 3.8-1.3 4.6 0zM286.3 330.6l-4.5-.2 3.8-1.6 4.5-.3z"/><path class="c3" d="M290.9 330.6l-4.6 0 3.8-2.1 4.6-.4z"/><path class="c5" d="M295.5 330.4l-4.6 .2 3.8-2.5 4.6-.7z"/><path class="c7" d="M300.1 329.9l-4.6 .5 3.8-3 4.6-.9z"/><path class="c9" d="M304.7 329.2l-4.6 .7 3.8-3.4 4.6-1.2z"/><path class="c12" d="M309.2 328.1l-4.5 1.1 3.8-3.9 4.5-1.3z"/><path class="c15" d="M313.8 326.8l-4.6 1.3 3.8-4.1 4.6-1.4z"/><path class="c19" d="M318.4 325.4l-4.6 1.4 3.8-4.2 4.6-1.4z"/><path class="c22" d="M323 324.1l-4.6 1.3 3.8-4.2 4.6-1.1z"/><path class="c25" d="M327.6 323l-4.6 1.1 3.8-4 4.6-.8z"/><path class="c27" d="M332.1 322.5l-4.5 .5 3.8-3.7 4.5-.4z"/><path class="c28" d="M336.7 322.7l-4.6-.2 3.8-3.6 4.6 .3zM341.3 323.6l-4.6-.9 3.8-3.5 4.6 .9z"/><path class="c26" d="M345.9 325.2l-4.6-1.6 3.8-3.5 4.6 1.4z"/><path class="c24" d="M350.5 327.4l-4.6-2.2 3.8-3.7 4.6 2z"/><path class="c21" d="M355.1 329.9l-4.6-2.5 3.8-3.9 4.5 2.4z"/><path class="c17" d="M359.6 332.4l-4.5-2.5 3.7-4 4.6 2.5z"/><path class="c13" d="M364.2 334.7l-4.6-2.3 3.8-4 4.6 2.5z"/><path class="c10" d="M368.8 336.7l-4.6-2 3.8-3.8 4.6 2.4z"/><path class="c7" d="M373.4 338.4l-4.6-1.7 3.8-3.4 4.6 2.2z"/><path class="c5" d="M378 339.7l-4.6-1.3 3.8-2.9 4.5 1.8z"/><path class="c3" d="M382.5 340.7l-4.5-1 3.7-2.4 4.6 1.5z"/><path class="c0" d="M200 323.1l-4.6-.5 3.9-.3 4.6 .4zM204.6 323.6l-4.6-.5 3.9-.4 4.5 .5zM209.2 324.1l-4.6-.5 3.8-.4 4.6 .5zM213.8 324.5l-4.6-.4 3.8-.4 4.6 .5zM218.4 325l-4.6-.5 3.8-.3 4.6 .4zM222.9 325.5l-4.5-.5 3.8-.4 4.6 .5zM227.5 326l-4.6-.5 3.9-.4 4.6 .5zM232.1 326.4l-4.6-.4 3.9-.4 4.5 .5zM236.7 326.9l-4.6-.5 3.8-.3 4.6 .4zM241.3 327.4l-4.6-.5 3.8-.4 4.6 .5zM245.9 327.9l-4.6-.5 3.8-.4 4.6 .5zM250.4 328.3l-4.5-.4 3.8-.4 4.6 .5zM255 328.8l-4.6-.5 3.9-.3 4.5 .4zM259.6 329.3l-4.6-.5 3.8-.4 4.6 .5zM264.2 329.8l-4.6-.5 3.8-.4 4.6 .4zM268.8 330.2l-4.6-.4 3.8-.5 4.6 .4zM273.4 330.7l-4.6-.5 3.8-.5 4.6 .4zM277.9 331.2l-4.5-.5 3.8-.6 4.6 .3z"/><path class="c1" d="M282.5 331.6l-4.6-.4 3.9-.8 4.5 .2zM287.1 332.1l-4.6-.5 3.8-1 4.6 0zM291.7 332.4l-4.6-.3 3.8-1.5 4.6-.2z"/><path class="c2" d="M296.3 332.7l-4.6-.3 3.8-2 4.6-.5z"/><path class="c4" d="M300.9 332.8l-4.6-.1 3.8-2.8 4.6-.7z"/><path class="c5" d="M305.4 332.5l-4.5 .3 3.8-3.6 4.5-1.1z"/><path class="c8" d="M310 331.8l-4.6 .7 3.8-4.4 4.6-1.3z"/><path class="c11" d="M314.6 330.7l-4.6 1.1 3.8-5 4.6-1.4z"/><path class="c14" d="M319.2 329.3l-4.6 1.4 3.8-5.3 4.6-1.3z"/><path class="c17" d="M323.8 328l-4.6 1.3 3.8-5.2 4.6-1.1z"/><path class="c20" d="M328.4 327.1l-4.6 .9 3.8-5 4.5-.5z"/><path class="c21" d="M332.9 327.1l-4.5 0 3.7-4.6 4.6 .2zM337.5 328.2l-4.6-1.1 3.8-4.4 4.6 .9z"/><path class="c20" d="M342.1 330.1l-4.6-1.9 3.8-4.6 4.6 1.6z"/><path class="c17" d="M346.7 332.6l-4.6-2.5 3.8-4.9 4.6 2.2z"/><path class="c13" d="M351.3 335l-4.6-2.4 3.8-5.2 4.6 2.5z"/><path class="c10" d="M355.9 337l-4.6-2 3.8-5.1 4.5 2.5z"/><path class="c7" d="M360.4 338.6l-4.5-1.6 3.7-4.6 4.6 2.3z"/><path class="c4" d="M365 339.7l-4.6-1.1 3.8-3.9 4.6 2z"/><path class="c3" d="M369.6 340.5l-4.6-.8 3.8-3 4.6 1.7z"/><path class="c2" d="M374.2 341.1l-4.6-.6 3.8-2.1 4.6 1.3z"/><path class="c1" d="M378.8 341.6l-4.6-.5 3.8-1.4 4.5 1z"/></g>
<path d="M191.6 323.0L191.6 249.4M191.6 323.0L375.0 342.0M375.0 342.0L563.6 323.6M191.6 323.0L187.1 323.3M191.6 298.5L187.1 298.8M191.6 273.9L187.1 274.2M191.6 249.4L187.1 249.7M375.0 342.0L378.0 341.7M329.1 337.2L332.1 337.0M283.3 332.5L286.3 332.2M237.5 327.8L240.4 327.5M191.6 323.0L194.6 322.7M375.0 342.0L372.0 341.7M412.7 338.3L409.7 338.0M450.4 334.6L447.5 334.3M488.2 331.0L485.2 330.7M525.9 327.3L522.9 327.0M563.6 323.6L560.6 323.3" fill="none" stroke="#111" stroke-width="1"/>
<g font-family="Liberation Sans, sans-serif" font-size="10.5" fill="#1e1e1e" stroke="#1e1e1e" stroke-width="0.2"><text x="182.1" y="326.6" text-anchor="end">0</text><text x="182.1" y="302.1" text-anchor="end">200</text><text x="182.1" y="277.5" text-anchor="end">400</text><text x="182.1" y="253.0" text-anchor="end">600</text><text x="364.2" y="354.3" text-anchor="end">0.9</text><text x="318.5" y="349.6" text-anchor="end">1</text><text x="272.7" y="344.8" text-anchor="end">1.1</text><text x="227.0" y="340.1" text-anchor="end">1.2</text><text x="181.3" y="335.3" text-anchor="end">1.3</text><text x="381.0" y="354.3">0</text><text x="419.2" y="350.6">0.1</text><text x="456.9" y="346.9">0.2</text><text x="494.7" y="343.3">0.3</text><text x="532.4" y="339.6">0.4</text><text x="570.1" y="335.9">0.5</text><text x="281.5" y="368.3" text-anchor="middle">S/K</text><text transform="translate(154.6 287.0) rotate(-90)" text-anchor="middle">Vega</text></g>
<text x="482.0" y="368.5" font-family="Liberation Sans, Noto Sans CJK SC, sans-serif" font-size="12.5" letter-spacing="1.2" fill="#151515" stroke="#151515" stroke-width="0.12" text-anchor="middle">到期时间</text>
<text x="291.8" y="222.8" font-family="Liberation Sans, Noto Sans CJK SC, sans-serif" font-size="12.5" fill="#27277c" stroke="#27277c" stroke-width="0.15"><tspan letter-spacing="1.15">执行价为</tspan><tspan font-size="11">2000</tspan><tspan letter-spacing="1.15">的期权的年化</tspan><tspan font-size="10.5">Vega</tspan></text>
<path d="M191.6 479.4L402.7 462.9M402.7 462.9L563.6 485.0M191.6 443.7L402.7 427.2M402.7 427.2L563.6 449.3M191.6 408.0L402.7 391.5M402.7 391.5L563.6 413.6M191.6 479.4L191.6 408.0M191.6 479.4L357.0 502.0M233.8 476.1L233.8 404.7M233.8 476.1L398.3 498.6M276.0 472.8L276.0 401.4M276.0 472.8L439.6 495.2M318.3 469.5L318.3 398.1M318.3 469.5L481.0 491.8M360.5 466.2L360.5 394.8M360.5 466.2L522.3 488.4M402.7 462.9L402.7 391.5M402.7 462.9L563.6 485.0M563.6 485.0L563.6 413.6M563.6 485.0L357.0 502.0M523.4 479.5L523.4 408.1M523.4 479.5L315.6 496.4M483.1 473.9L483.1 402.5M483.1 473.9L274.3 490.7M442.9 468.4L442.9 397.0M442.9 468.4L233.0 485.1M402.7 462.9L402.7 391.5M402.7 462.9L191.6 479.4" fill="none" stroke="#383838" stroke-width="1" stroke-dasharray="1.3 2.3"/>
<g stroke-width="0.6" stroke-linejoin="round" filter="url(#sb)"><path class="c68" d="M402.5 434.2l-4 .6 4.2-1 4-.7z"/><path class="c70" d="M406.5 433.5l-4 .7 4.2-1.1 4-.6z"/><path class="c73" d="M410.6 432.9l-4.1 .6 4.2-1 4.1-.7z"/><path class="c76" d="M414.6 432.2l-4 .7 4.2-1.1 4-.7z"/><path class="c79" d="M418.6 431.5l-4 .7 4.2-1.1 4-.7z"/><path class="c82" d="M422.6 430.7l-4 .8 4.2-1.1 4-.7z"/><path class="c85" d="M426.7 430l-4.1 .7 4.2-1 4.1-.7z"/><path class="c88" d="M430.7 429.3l-4 .7 4.2-1 4-.7z"/><path class="c90" d="M434.7 428.6l-4 .7 4.2-1 4-.7z"/><path class="c93" d="M438.7 427.9l-4 .7 4.2-1 4-.7z"/><path class="c96" d="M442.8 427.3l-4.1 .6 4.2-1 4-.7z"/><path class="c99" d="M446.8 426.6l-4 .7 4.1-1.1 4.1-.6z"/><path class="c102" d="M450.8 426l-4 .6 4.2-1 4-.7z"/><path class="c104" d="M454.8 425.4l-4 .6 4.2-1.1 4-.5z"/><path class="c107" d="M458.8 424.8l-4 .6 4.2-1 4-.6z"/><path class="c109" d="M462.9 424.3l-4.1 .5 4.2-1 4.1-.5z"/><path class="c112" d="M466.9 423.9l-4 .4 4.2-1 4-.4z"/><path class="c114" d="M470.9 423.5l-4 .4 4.2-1 4-.4z"/><path class="c116" d="M474.9 423.1l-4 .4 4.2-1 4-.3z"/><path class="c118" d="M479 422.9l-4.1 .2 4.2-.9 4.1-.3z"/><path class="c120" d="M483 422.7l-4 .2 4.2-1 4-.1z"/><path class="c121" d="M487 422.6l-4 .1 4.2-.9 4-.1z"/><path class="c123" d="M491 422.6l-4 0 4.2-.9 4 0z"/><path class="c124" d="M495.1 422.7l-4.1-.1 4.2-.9 4 .1z"/><path class="c125" d="M499.1 422.9l-4-.2 4.1-.9 4.1 .2z"/><path class="c126" d="M503.1 423.2l-4-.3 4.2-.9 4 .3zM507.1 423.6l-4-.4 4.2-.9 4 .4zM511.2 424.1l-4.1-.5 4.2-.9 4 .5zM515.2 424.7l-4-.6 4.1-.9 4.1 .6zM519.2 425.5l-4-.8 4.2-.9 4 .8z"/><path class="c125" d="M523.2 426.4l-4-.9 4.2-.9 4 .9z"/><path class="c124" d="M527.3 427.4l-4.1-1 4.2-.9 4 1z"/><path class="c123" d="M531.3 428.5l-4-1.1 4.1-.9 4 1.1z"/><path class="c122" d="M535.3 429.8l-4-1.3 4.1-.9 4.1 1.3z"/><path class="c120" d="M539.3 431.2l-4-1.4 4.2-.9 4 1.4z"/><path class="c118" d="M543.4 432.7l-4.1-1.5 4.2-.9 4 1.5z"/><path class="c115" d="M547.4 434.3l-4-1.6 4.1-.9 4 1.6z"/><path class="c113" d="M551.4 436.1l-4-1.8 4.1-.9 4.1 1.8z"/><path class="c110" d="M555.4 437.9l-4-1.8 4.2-.9 4 1.8z"/><path class="c107" d="M559.5 439.9l-4.1-2 4.2-.9 4 2z"/><path class="c66" d="M398.3 435.3l-4 .6 4.2-1.1 4-.6z"/><path class="c69" d="M402.3 434.6l-4 .7 4.2-1.1 4-.7z"/><path class="c71" d="M406.3 433.9l-4 .7 4.2-1.1 4.1-.6z"/><path class="c74" d="M410.4 433.2l-4.1 .7 4.3-1 4-.7z"/><path class="c77" d="M414.4 432.5l-4 .7 4.2-1 4-.7z"/><path class="c80" d="M418.4 431.8l-4 .7 4.2-1 4-.8z"/><path class="c83" d="M422.4 431.1l-4 .7 4.2-1.1 4.1-.7z"/><path class="c86" d="M426.5 430.4l-4.1 .7 4.3-1.1 4-.7z"/><path class="c89" d="M430.5 429.7l-4 .7 4.2-1.1 4-.7z"/><path class="c92" d="M434.5 429l-4 .7 4.2-1.1 4-.7z"/><path class="c95" d="M438.6 428.3l-4.1 .7 4.2-1.1 4.1-.6z"/><path class="c97" d="M442.6 427.7l-4 .6 4.2-1 4-.7z"/><path class="c100" d="M446.6 427l-4 .7 4.2-1.1 4-.6z"/><path class="c103" d="M450.6 426.4l-4 .6 4.2-1 4-.6z"/><path class="c105" d="M454.7 425.9l-4.1 .5 4.2-1 4-.6z"/><path class="c108" d="M458.7 425.3l-4 .6 4.1-1.1 4.1-.5z"/><path class="c110" d="M462.7 424.9l-4 .4 4.2-1 4-.4z"/><path class="c113" d="M466.7 424.5l-4 .4 4.2-1 4-.4z"/><path class="c115" d="M470.8 424.1l-4.1 .4 4.2-1 4-.4z"/><path class="c117" d="M474.8 423.8l-4 .3 4.1-1 4.1-.2z"/><path class="c118" d="M478.8 423.7l-4 .1 4.2-.9 4-.2z"/><path class="c120" d="M482.9 423.5l-4.1 .2 4.2-1 4-.1z"/><path class="c121" d="M486.9 423.5l-4.1 0 4.2-.9 4 0z"/><path class="c123" d="M490.9 423.6l-4-.1 4.1-.9 4.1 .1z"/><path class="c124" d="M494.9 423.8l-4-.2 4.2-.9 4 .2zM499 424.1l-4.1-.3 4.2-.9 4 .3z"/><path class="c125" d="M503 424.5l-4-.4 4.1-.9 4 .4zM507 425l-4-.5 4.1-.9 4.1 .5zM511 425.6l-4-.6 4.2-.9 4 .6zM515.1 426.4l-4.1-.8 4.2-.9 4 .8z"/><path class="c124" d="M519.1 427.3l-4-.9 4.1-.9 4 .9z"/><path class="c123" d="M523.1 428.3l-4-1 4.1-.9 4.1 1z"/><path class="c122" d="M527.1 429.4l-4-1.1 4.2-.9 4 1.1z"/><path class="c120" d="M531.2 430.7l-4.1-1.3 4.2-.9 4 1.3z"/><path class="c119" d="M535.2 432.1l-4-1.4 4.1-.9 4 1.4z"/><path class="c117" d="M539.2 433.6l-4-1.5 4.1-.9 4.1 1.5z"/><path class="c114" d="M543.3 435.2l-4.1-1.6 4.2-.9 4 1.6z"/><path class="c112" d="M547.3 437l-4-1.8 4.1-.9 4 1.8z"/><path class="c109" d="M551.3 438.8l-4-1.8 4.1-.9 4 1.8z"/><path class="c106" d="M555.3 440.8l-4-2 4.1-.9 4.1 2z"/><path class="c64" d="M394.1 436.4l-4.1 .6 4.3-1.1 4-.6z"/><path class="c67" d="M398.1 435.7l-4 .7 4.2-1.1 4-.7z"/><path class="c70" d="M402.1 435l-4 .7 4.2-1.1 4-.7z"/><path class="c73" d="M406.2 434.3l-4.1 .7 4.2-1.1 4.1-.7z"/><path class="c75" d="M410.2 433.6l-4 .7 4.2-1.1 4-.7z"/><path class="c78" d="M414.2 432.9l-4 .7 4.2-1.1 4-.7z"/><path class="c81" d="M418.2 432.2l-4 .7 4.2-1.1 4-.7z"/><path class="c84" d="M422.3 431.5l-4.1 .7 4.2-1.1 4.1-.7z"/><path class="c87" d="M426.3 430.8l-4 .7 4.2-1.1 4-.7z"/><path class="c90" d="M430.3 430.1l-4 .7 4.2-1.1 4-.7z"/><path class="c93" d="M434.4 429.4l-4.1 .7 4.2-1.1 4.1-.7z"/><path class="c96" d="M438.4 428.7l-4 .7 4.2-1.1 4-.6z"/><path class="c98" d="M442.4 428.1l-4 .6 4.2-1 4-.7z"/><path class="c101" d="M446.4 427.5l-4 .6 4.2-1.1 4-.6z"/><path class="c104" d="M450.5 426.9l-4.1 .6 4.2-1.1 4.1-.5z"/><path class="c106" d="M454.5 426.4l-4 .5 4.2-1 4-.6z"/><path class="c109" d="M458.5 425.9l-4 .5 4.2-1.1 4-.4z"/><path class="c111" d="M462.6 425.5l-4.1 .4 4.2-1 4-.4z"/><path class="c113" d="M466.6 425.1l-4 .4 4.1-1 4.1-.4z"/><path class="c115" d="M470.6 424.8l-4 .3 4.2-1 4-.3z"/><path class="c117" d="M474.6 424.6l-4 .2 4.2-1 4-.1z"/><path class="c119" d="M478.7 424.5l-4.1 .1 4.2-.9 4-.2z"/><path class="c120" d="M482.7 424.5l-4 0 4.1-1 4.1 0z"/><path class="c121" d="M486.7 424.5l-4 0 4.2-1 4 .1z"/><path class="c122" d="M490.8 424.7l-4.1-.2 4.2-.9 4 .2z"/><path class="c123" d="M494.8 425l-4-.3 4.1-.9 4.1 .3z"/><path class="c124" d="M498.8 425.4l-4-.4 4.2-.9 4 .4zM502.9 425.9l-4.1-.5 4.2-.9 4 .5zM506.9 426.5l-4-.6 4.1-.9 4 .6z"/><path class="c123" d="M510.9 427.3l-4-.8 4.1-.9 4.1 .8zM514.9 428.2l-4-.9 4.2-.9 4 .9z"/><path class="c122" d="M519 429.2l-4.1-1 4.2-.9 4 1z"/><path class="c121" d="M523 430.3l-4-1.1 4.1-.9 4 1.1z"/><path class="c119" d="M527 431.6l-4-1.3 4.1-.9 4.1 1.3z"/><path class="c117" d="M531.1 433l-4.1-1.4 4.2-.9 4 1.4z"/><path class="c115" d="M535.1 434.5l-4-1.5 4.1-.9 4 1.5z"/><path class="c113" d="M539.1 436.1l-4-1.6 4.1-.9 4.1 1.6z"/><path class="c110" d="M543.1 437.9l-4-1.8 4.2-.9 4 1.8z"/><path class="c107" d="M547.2 439.8l-4.1-1.9 4.2-.9 4 1.8z"/><path class="c104" d="M551.2 441.7l-4-1.9 4.1-1 4 2z"/><path class="c62" d="M389.8 437.4l-4 .7 4.2-1.1 4.1-.6z"/><path class="c65" d="M393.9 436.8l-4.1 .6 4.3-1 4-.7z"/><path class="c68" d="M397.9 436.1l-4 .7 4.2-1.1 4-.7z"/><path class="c71" d="M401.9 435.4l-4 .7 4.2-1.1 4.1-.7z"/><path class="c74" d="M406 434.7l-4.1 .7 4.3-1.1 4-.7z"/><path class="c77" d="M410 434l-4 .7 4.2-1.1 4-.7z"/><path class="c80" d="M414 433.3l-4 .7 4.2-1.1 4-.7z"/><path class="c82" d="M418.1 432.6l-4.1 .7 4.2-1.1 4.1-.7z"/><path class="c85" d="M422.1 431.9l-4 .7 4.2-1.1 4-.7z"/><path class="c88" d="M426.1 431.1l-4 .8 4.2-1.1 4-.7z"/><path class="c91" d="M430.2 430.5l-4.1 .6 4.2-1 4.1-.7z"/><path class="c94" d="M434.2 429.8l-4 .7 4.2-1.1 4-.7z"/><path class="c97" d="M438.2 429.1l-4 .7 4.2-1.1 4-.6z"/><path class="c100" d="M442.3 428.5l-4.1 .6 4.2-1 4-.6z"/><path class="c102" d="M446.3 427.9l-4 .6 4.1-1 4.1-.6z"/><path class="c105" d="M450.3 427.4l-4 .5 4.2-1 4-.5z"/><path class="c107" d="M454.3 426.9l-4 .5 4.2-1 4-.5z"/><path class="c109" d="M458.4 426.5l-4.1 .4 4.2-1 4.1-.4z"/><path class="c112" d="M462.4 426.1l-4 .4 4.2-1 4-.4z"/><path class="c114" d="M466.4 425.8l-4 .3 4.2-1 4-.3z"/><path class="c116" d="M470.5 425.6l-4.1 .2 4.2-1 4-.2z"/><path class="c117" d="M474.5 425.5l-4 .1 4.1-1 4.1-.1z"/><path class="c119" d="M478.5 425.4l-4 .1 4.2-1 4 0z"/><path class="c120" d="M482.6 425.5l-4.1-.1 4.2-.9 4 0z"/><path class="c121" d="M486.6 425.6l-4-.1 4.1-1 4.1 .2z"/><path class="c122" d="M490.6 425.9l-4-.3 4.2-.9 4 .3zM494.7 426.3l-4.1-.4 4.2-.9 4 .4zM498.7 426.8l-4-.5 4.1-.9 4.1 .5zM502.7 427.4l-4-.6 4.2-.9 4 .6zM506.8 428.2l-4.1-.8 4.2-.9 4 .8z"/><path class="c121" d="M510.8 429.1l-4-.9 4.1-.9 4 .9zM514.8 430.1l-4-1 4.1-.9 4.1 1z"/><path class="c119" d="M518.9 431.2l-4.1-1.1 4.2-.9 4 1.1z"/><path class="c118" d="M522.9 432.5l-4-1.3 4.1-.9 4 1.3z"/><path class="c116" d="M526.9 433.9l-4-1.4 4.1-.9 4.1 1.4z"/><path class="c114" d="M530.9 435.4l-4-1.5 4.2-.9 4 1.5z"/><path class="c112" d="M535 437l-4.1-1.6 4.2-.9 4 1.6z"/><path class="c109" d="M539 438.8l-4-1.8 4.1-.9 4 1.8z"/><path class="c106" d="M543 440.7l-4-1.9 4.1-.9 4.1 1.9z"/><path class="c103" d="M547.1 442.7l-4.1-2 4.2-.9 4 1.9z"/><path class="c61" d="M385.6 438.5l-4 .7 4.2-1.1 4-.7z"/><path class="c63" d="M389.7 437.9l-4.1 .6 4.2-1.1 4.1-.6z"/><path class="c66" d="M393.7 437.2l-4 .7 4.2-1.1 4-.7z"/><path class="c69" d="M397.7 436.5l-4 .7 4.2-1.1 4-.7z"/><path class="c72" d="M401.8 435.8l-4.1 .7 4.2-1.1 4.1-.7z"/><path class="c75" d="M405.8 435.1l-4 .7 4.2-1.1 4-.7z"/><path class="c78" d="M409.8 434.4l-4 .7 4.2-1.1 4-.7z"/><path class="c81" d="M413.9 433.7l-4.1 .7 4.2-1.1 4.1-.7z"/><path class="c84" d="M417.9 432.9l-4 .8 4.2-1.1 4-.7z"/><path class="c87" d="M421.9 432.2l-4 .7 4.2-1 4-.8z"/><path class="c89" d="M426 431.5l-4.1 .7 4.2-1.1 4.1-.6z"/><path class="c92" d="M430 430.9l-4 .6 4.2-1 4-.7z"/><path class="c95" d="M434 430.2l-4 .7 4.2-1.1 4-.7z"/><path class="c98" d="M438.1 429.6l-4.1 .6 4.2-1.1 4.1-.6z"/><path class="c101" d="M442.1 429l-4 .6 4.2-1.1 4-.6z"/><path class="c103" d="M446.1 428.4l-4 .6 4.2-1.1 4-.5z"/><path class="c106" d="M450.2 427.9l-4.1 .5 4.2-1 4-.5z"/><path class="c108" d="M454.2 427.5l-4 .4 4.1-1 4.1-.4z"/><path class="c110" d="M458.2 427.1l-4 .4 4.2-1 4-.4z"/><path class="c112" d="M462.3 426.8l-4.1 .3 4.2-1 4-.3z"/><path class="c114" d="M466.3 426.6l-4 .2 4.1-1 4.1-.2z"/><path class="c116" d="M470.3 426.4l-4 .2 4.2-1 4-.1z"/><path class="c117" d="M474.4 426.4l-4.1 0 4.2-.9 4-.1z"/><path class="c118" d="M478.4 426.4l-4 0 4.1-1 4.1 .1z"/><path class="c120" d="M482.4 426.6l-4-.2 4.2-.9 4 .1zM486.5 426.8l-4.1-.2 4.2-1 4 .3z"/><path class="c121" d="M490.5 427.2l-4-.4 4.1-.9 4.1 .4zM494.5 427.7l-4-.5 4.2-.9 4 .5zM498.6 428.3l-4.1-.6 4.2-.9 4 .6zM502.6 429.1l-4-.8 4.1-.9 4.1 .8z"/><path class="c120" d="M506.6 430l-4-.9 4.2-.9 4 .9z"/><path class="c119" d="M510.7 431l-4.1-1 4.2-.9 4 1z"/><path class="c118" d="M514.7 432.1l-4-1.1 4.1-.9 4.1 1.1z"/><path class="c117" d="M518.7 433.4l-4-1.3 4.2-.9 4 1.3z"/><path class="c115" d="M522.8 434.8l-4.1-1.4 4.2-.9 4 1.4z"/><path class="c113" d="M526.8 436.3l-4-1.5 4.1-.9 4 1.5z"/><path class="c110" d="M530.8 438l-4-1.7 4.1-.9 4.1 1.6z"/><path class="c108" d="M534.9 439.7l-4.1-1.7 4.2-1 4 1.8z"/><path class="c105" d="M538.9 441.6l-4-1.9 4.1-.9 4 1.9z"/><path class="c102" d="M542.9 443.6l-4-2 4.1-.9 4.1 2z"/><path class="c59" d="M381.4 439.6l-4 .7 4.2-1.1 4-.7z"/><path class="c62" d="M385.4 439l-4 .6 4.2-1.1 4.1-.6z"/><path class="c64" d="M389.5 438.3l-4.1 .7 4.3-1.1 4-.7z"/><path class="c67" d="M393.5 437.6l-4 .7 4.2-1.1 4-.7z"/><path class="c70" d="M397.5 436.9l-4 .7 4.2-1.1 4.1-.7z"/><path class="c73" d="M401.6 436.2l-4.1 .7 4.3-1.1 4-.7z"/><path class="c76" d="M405.6 435.5l-4 .7 4.2-1.1 4-.7z"/><path class="c79" d="M409.7 434.8l-4.1 .7 4.2-1.1 4.1-.7z"/><path class="c82" d="M413.7 434.1l-4 .7 4.2-1.1 4-.8z"/><path class="c85" d="M417.7 433.3l-4 .8 4.2-1.2 4-.7z"/><path class="c88" d="M421.8 432.6l-4.1 .7 4.2-1.1 4.1-.7z"/><path class="c91" d="M425.8 431.9l-4 .7 4.2-1.1 4-.6z"/><path class="c93" d="M429.8 431.3l-4 .6 4.2-1 4-.7z"/><path class="c96" d="M433.9 430.6l-4.1 .7 4.2-1.1 4.1-.6z"/><path class="c99" d="M437.9 430l-4 .6 4.2-1 4-.6z"/><path class="c101" d="M441.9 429.5l-4 .5 4.2-1 4-.6z"/><path class="c104" d="M446 429l-4.1 .5 4.2-1.1 4.1-.5z"/><path class="c106" d="M450 428.5l-4 .5 4.2-1.1 4-.4z"/><path class="c109" d="M454.1 428.1l-4.1 .4 4.2-1 4-.4z"/><path class="c111" d="M458.1 427.8l-4 .3 4.1-1 4.1-.3z"/><path class="c113" d="M462.1 427.5l-4 .3 4.2-1 4-.2z"/><path class="c114" d="M466.2 427.4l-4.1 .1 4.2-.9 4-.2z"/><path class="c116" d="M470.2 427.3l-4 .1 4.1-1 4.1 0z"/><path class="c117" d="M474.2 427.4l-4-.1 4.2-.9 4 0z"/><path class="c118" d="M478.3 427.5l-4.1-.1 4.2-1 4 .2z"/><path class="c119" d="M482.3 427.8l-4-.3 4.1-.9 4.1 .2zM486.3 428.1l-4-.3 4.2-1 4 .4z"/><path class="c120" d="M490.4 428.6l-4.1-.5 4.2-.9 4 .5zM494.4 429.2l-4-.6 4.1-.9 4.1 .6z"/><path class="c119" d="M498.4 430l-4-.8 4.2-.9 4 .8zM502.5 430.9l-4.1-.9 4.2-.9 4 .9z"/><path class="c118" d="M506.5 431.9l-4-1 4.1-.9 4.1 1z"/><path class="c117" d="M510.6 433l-4.1-1.1 4.2-.9 4 1.1z"/><path class="c115" d="M514.6 434.3l-4-1.3 4.1-.9 4 1.3z"/><path class="c113" d="M518.6 435.7l-4-1.4 4.1-.9 4.1 1.4z"/><path class="c111" d="M522.7 437.2l-4.1-1.5 4.2-.9 4 1.5z"/><path class="c109" d="M526.7 438.9l-4-1.7 4.1-.9 4 1.7z"/><path class="c106" d="M530.7 440.7l-4-1.8 4.1-.9 4.1 1.7z"/><path class="c103" d="M534.8 442.6l-4.1-1.9 4.2-1 4 1.9z"/><path class="c100" d="M538.8 444.6l-4-2 4.1-1 4 2z"/><path class="c57" d="M377.2 440.7l-4.1 .6 4.3-1 4-.7z"/><path class="c60" d="M381.2 440.1l-4 .6 4.2-1.1 4-.6z"/><path class="c63" d="M385.3 439.4l-4.1 .7 4.2-1.1 4.1-.7z"/><path class="c65" d="M389.3 438.8l-4 .6 4.2-1.1 4-.7z"/><path class="c68" d="M393.3 438.1l-4 .7 4.2-1.2 4-.7z"/><path class="c71" d="M397.4 437.3l-4.1 .8 4.2-1.2 4.1-.7z"/><path class="c74" d="M401.4 436.6l-4 .7 4.2-1.1 4-.7z"/><path class="c77" d="M405.5 435.9l-4.1 .7 4.2-1.1 4.1-.7z"/><path class="c80" d="M409.5 435.2l-4 .7 4.2-1.1 4-.7z"/><path class="c83" d="M413.5 434.4l-4 .8 4.2-1.1 4-.8z"/><path class="c86" d="M417.6 433.7l-4.1 .7 4.2-1.1 4.1-.7z"/><path class="c89" d="M421.6 433l-4 .7 4.2-1.1 4-.7z"/><path class="c92" d="M425.6 432.4l-4 .6 4.2-1.1 4-.6z"/><path class="c94" d="M429.7 431.7l-4.1 .7 4.2-1.1 4.1-.7z"/><path class="c97" d="M433.7 431.1l-4 .6 4.2-1.1 4-.6z"/><path class="c100" d="M437.8 430.5l-4.1 .6 4.2-1.1 4-.5z"/><path class="c102" d="M441.8 430l-4 .5 4.1-1 4.1-.5z"/><path class="c105" d="M445.8 429.5l-4 .5 4.2-1 4-.5z"/><path class="c107" d="M449.9 429.1l-4.1 .4 4.2-1 4.1-.4z"/><path class="c109" d="M453.9 428.8l-4 .3 4.2-1 4-.3z"/><path class="c111" d="M457.9 428.5l-4 .3 4.2-1 4-.3z"/><path class="c113" d="M462 428.4l-4.1 .1 4.2-1 4.1-.1z"/><path class="c114" d="M466 428.3l-4 .1 4.2-1 4-.1z"/><path class="c116" d="M470.1 428.3l-4.1 0 4.2-1 4 .1z"/><path class="c117" d="M474.1 428.5l-4-.2 4.1-.9 4.1 .1z"/><path class="c118" d="M478.1 428.7l-4-.2 4.2-1 4 .3zM482.2 429.1l-4.1-.4 4.2-.9 4 .3zM486.2 429.6l-4-.5 4.1-1 4.1 .5zM490.3 430.2l-4.1-.6 4.2-1 4 .6zM494.3 430.9l-4-.7 4.1-1 4 .8zM498.3 431.8l-4-.9 4.1-.9 4.1 .9z"/><path class="c117" d="M502.4 432.8l-4.1-1 4.2-.9 4 1z"/><path class="c115" d="M506.4 433.9l-4-1.1 4.1-.9 4.1 1.1z"/><path class="c114" d="M510.4 435.2l-4-1.3 4.2-.9 4 1.3z"/><path class="c112" d="M514.5 436.6l-4.1-1.4 4.2-.9 4 1.4z"/><path class="c110" d="M518.5 438.2l-4-1.6 4.1-.9 4.1 1.5z"/><path class="c108" d="M522.6 439.8l-4.1-1.6 4.2-1 4 1.7z"/><path class="c105" d="M526.6 441.6l-4-1.8 4.1-.9 4 1.8z"/><path class="c102" d="M530.6 443.5l-4-1.9 4.1-.9 4.1 1.9z"/><path class="c99" d="M534.7 445.5l-4.1-2 4.2-.9 4 2z"/><path class="c55" d="M373 441.8l-4.1 .6 4.2-1.1 4.1-.6z"/><path class="c58" d="M377 441.2l-4 .6 4.2-1.1 4-.6z"/><path class="c61" d="M381 440.6l-4 .6 4.2-1.1 4.1-.7z"/><path class="c64" d="M385.1 439.9l-4.1 .7 4.3-1.2 4-.6z"/><path class="c67" d="M389.1 439.2l-4 .7 4.2-1.1 4-.7z"/><path class="c69" d="M393.2 438.5l-4.1 .7 4.2-1.1 4.1-.8z"/><path class="c72" d="M397.2 437.8l-4 .7 4.2-1.2 4-.7z"/><path class="c75" d="M401.2 437l-4 .8 4.2-1.2 4.1-.7z"/><path class="c78" d="M405.3 436.3l-4.1 .7 4.3-1.1 4-.7z"/><path class="c81" d="M409.3 435.6l-4 .7 4.2-1.1 4-.8z"/><path class="c84" d="M413.4 434.8l-4.1 .8 4.2-1.2 4.1-.7z"/><path class="c87" d="M417.4 434.1l-4 .7 4.2-1.1 4-.7z"/><path class="c90" d="M421.5 433.5l-4.1 .6 4.2-1.1 4-.6z"/><path class="c93" d="M425.5 432.8l-4 .7 4.1-1.1 4.1-.7z"/><path class="c95" d="M429.5 432.2l-4 .6 4.2-1.1 4-.6z"/><path class="c98" d="M433.6 431.6l-4.1 .6 4.2-1.1 4.1-.6z"/><path class="c101" d="M437.6 431.1l-4 .5 4.2-1.1 4-.5z"/><path class="c103" d="M441.7 430.6l-4.1 .5 4.2-1.1 4-.5z"/><path class="c105" d="M445.7 430.2l-4 .4 4.1-1.1 4.1-.4z"/><path class="c108" d="M449.7 429.8l-4 .4 4.2-1.1 4-.3z"/><path class="c109" d="M453.8 429.5l-4.1 .3 4.2-1 4-.3z"/><path class="c111" d="M457.8 429.4l-4 .1 4.1-1 4.1-.1z"/><path class="c113" d="M461.9 429.3l-4.1 .1 4.2-1 4-.1z"/><path class="c114" d="M465.9 429.3l-4 0 4.1-1 4.1 0z"/><path class="c115" d="M469.9 429.4l-4-.1 4.2-1 4 .2z"/><path class="c116" d="M474 429.7l-4.1-.3 4.2-.9 4 .2z"/><path class="c117" d="M478 430l-4-.3 4.1-1 4.1 .4zM482.1 430.5l-4.1-.5 4.2-.9 4 .5zM486.1 431.1l-4-.6 4.1-.9 4.1 .6zM490.1 431.8l-4-.7 4.2-.9 4 .7z"/><path class="c116" d="M494.2 432.7l-4.1-.9 4.2-.9 4 .9z"/><path class="c115" d="M498.2 433.7l-4-1 4.1-.9 4.1 1z"/><path class="c114" d="M502.3 434.9l-4.1-1.2 4.2-.9 4 1.1z"/><path class="c113" d="M506.3 436.1l-4-1.2 4.1-1 4 1.3z"/><path class="c111" d="M510.3 437.6l-4-1.5 4.1-.9 4.1 1.4z"/><path class="c109" d="M514.4 439.1l-4.1-1.5 4.2-1 4 1.6z"/><path class="c106" d="M518.4 440.8l-4-1.7 4.1-.9 4.1 1.6z"/><path class="c103" d="M522.5 442.6l-4.1-1.8 4.2-1 4 1.8z"/><path class="c101" d="M526.5 444.5l-4-1.9 4.1-1 4 1.9z"/><path class="c97" d="M530.5 446.5l-4-2 4.1-1 4.1 2z"/><path class="c54" d="M368.7 443l-4 .6 4.2-1.2 4.1-.6z"/><path class="c56" d="M372.8 442.3l-4.1 .7 4.3-1.2 4-.6z"/><path class="c59" d="M376.8 441.7l-4 .6 4.2-1.1 4-.6z"/><path class="c62" d="M380.9 441l-4.1 .7 4.2-1.1 4.1-.7z"/><path class="c65" d="M384.9 440.3l-4 .7 4.2-1.1 4-.7z"/><path class="c68" d="M389 439.6l-4.1 .7 4.2-1.1 4.1-.7z"/><path class="c70" d="M393 438.9l-4 .7 4.2-1.1 4-.7z"/><path class="c73" d="M397 438.2l-4 .7 4.2-1.1 4-.8z"/><path class="c76" d="M401.1 437.4l-4.1 .8 4.2-1.2 4.1-.7z"/><path class="c79" d="M405.1 436.7l-4 .7 4.2-1.1 4-.7z"/><path class="c82" d="M409.2 436l-4.1 .7 4.2-1.1 4.1-.8z"/><path class="c85" d="M413.2 435.3l-4 .7 4.2-1.2 4-.7z"/><path class="c88" d="M417.3 434.6l-4.1 .7 4.2-1.2 4.1-.6z"/><path class="c91" d="M421.3 433.9l-4 .7 4.2-1.1 4-.7z"/><path class="c94" d="M425.3 433.3l-4 .6 4.2-1.1 4-.6z"/><path class="c96" d="M429.4 432.7l-4.1 .6 4.2-1.1 4.1-.6z"/><path class="c99" d="M433.4 432.1l-4 .6 4.2-1.1 4-.5z"/><path class="c101" d="M437.5 431.6l-4.1 .5 4.2-1 4.1-.5z"/><path class="c104" d="M441.5 431.2l-4 .4 4.2-1 4-.4z"/><path class="c106" d="M445.6 430.8l-4.1 .4 4.2-1 4-.4z"/><path class="c108" d="M449.6 430.6l-4 .2 4.1-1 4.1-.3z"/><path class="c110" d="M453.6 430.4l-4 .2 4.2-1.1 4-.1z"/><path class="c111" d="M457.7 430.3l-4.1 .1 4.2-1 4.1-.1z"/><path class="c113" d="M461.7 430.3l-4 0 4.2-1 4 0z"/><path class="c114" d="M465.8 430.4l-4.1-.1 4.2-1 4 .1z"/><path class="c115" d="M469.8 430.6l-4-.2 4.1-1 4.1 .3zM473.9 431l-4.1-.4 4.2-.9 4 .3z"/><path class="c116" d="M477.9 431.4l-4-.4 4.1-1 4.1 .5zM481.9 432l-4-.6 4.2-.9 4 .6z"/><path class="c115" d="M486 432.8l-4.1-.8 4.2-.9 4 .7zM490 433.6l-4-.8 4.1-1 4.1 .9z"/><path class="c114" d="M494.1 434.7l-4.1-1.1 4.2-.9 4 1z"/><path class="c113" d="M498.1 435.8l-4-1.1 4.1-1 4.1 1.2z"/><path class="c111" d="M502.2 437.1l-4.1-1.3 4.2-.9 4 1.2z"/><path class="c109" d="M506.2 438.5l-4-1.4 4.1-1 4 1.5z"/><path class="c107" d="M510.2 440.1l-4-1.6 4.1-.9 4.1 1.5z"/><path class="c105" d="M514.3 441.7l-4.1-1.6 4.2-1 4 1.7z"/><path class="c102" d="M518.3 443.5l-4-1.8 4.1-.9 4.1 1.8z"/><path class="c99" d="M522.4 445.4l-4.1-1.9 4.2-.9 4 1.9z"/><path class="c96" d="M526.4 447.5l-4-2.1 4.1-.9 4 2z"/><path class="c52" d="M364.5 444.1l-4 .6 4.2-1.1 4-.6z"/><path class="c54" d="M368.6 443.5l-4.1 .6 4.2-1.1 4.1-.7z"/><path class="c57" d="M372.6 442.8l-4 .7 4.2-1.2 4-.6z"/><path class="c60" d="M376.7 442.2l-4.1 .6 4.2-1.1 4.1-.7z"/><path class="c63" d="M380.7 441.5l-4 .7 4.2-1.2 4-.7z"/><path class="c66" d="M384.8 440.8l-4.1 .7 4.2-1.2 4.1-.7z"/><path class="c69" d="M388.8 440l-4 .8 4.2-1.2 4-.7z"/><path class="c72" d="M392.8 439.3l-4 .7 4.2-1.1 4-.7z"/><path class="c75" d="M396.9 438.6l-4.1 .7 4.2-1.1 4.1-.8z"/><path class="c78" d="M400.9 437.8l-4 .8 4.2-1.2 4-.7z"/><path class="c80" d="M405 437.1l-4.1 .7 4.2-1.1 4.1-.7z"/><path class="c83" d="M409 436.4l-4 .7 4.2-1.1 4-.7z"/><path class="c86" d="M413.1 435.7l-4.1 .7 4.2-1.1 4.1-.7z"/><path class="c89" d="M417.1 435l-4 .7 4.2-1.1 4-.7z"/><path class="c92" d="M421.2 434.4l-4.1 .6 4.2-1.1 4-.6z"/><path class="c95" d="M425.2 433.7l-4 .7 4.1-1.1 4.1-.6z"/><path class="c97" d="M429.2 433.2l-4 .5 4.2-1 4-.6z"/><path class="c100" d="M433.3 432.7l-4.1 .5 4.2-1.1 4.1-.5z"/><path class="c102" d="M437.3 432.2l-4 .5 4.2-1.1 4-.4z"/><path class="c104" d="M441.4 431.9l-4.1 .3 4.2-1 4.1-.4z"/><path class="c106" d="M445.4 431.6l-4 .3 4.2-1.1 4-.2z"/><path class="c108" d="M449.5 431.4l-4.1 .2 4.2-1 4-.2z"/><path class="c110" d="M453.5 431.3l-4 .1 4.1-1 4.1-.1z"/><path class="c111" d="M457.6 431.3l-4.1 0 4.2-1 4 0z"/><path class="c112" d="M461.6 431.4l-4-.1 4.1-1 4.1 .1z"/><path class="c113" d="M465.6 431.6l-4-.2 4.2-1 4 .2z"/><path class="c114" d="M469.7 431.9l-4.1-.3 4.2-1 4.1 .4zM473.7 432.4l-4-.5 4.2-.9 4 .4zM477.8 433l-4.1-.6 4.2-1 4 .6zM481.8 433.7l-4-.7 4.1-1 4.1 .8z"/><path class="c113" d="M485.9 434.6l-4.1-.9 4.2-.9 4 .8zM489.9 435.6l-4-1 4.1-1 4.1 1.1z"/><path class="c111" d="M494 436.7l-4.1-1.1 4.2-.9 4 1.1z"/><path class="c110" d="M498 438l-4-1.3 4.1-.9 4.1 1.3z"/><path class="c108" d="M502.1 439.5l-4.1-1.5 4.2-.9 4 1.4z"/><path class="c106" d="M506.1 441l-4-1.5 4.1-1 4 1.6z"/><path class="c103" d="M510.1 442.7l-4-1.7 4.1-.9 4.1 1.6z"/><path class="c101" d="M514.2 444.5l-4.1-1.8 4.2-1 4 1.8z"/><path class="c98" d="M518.2 446.4l-4-1.9 4.1-1 4.1 1.9z"/><path class="c94" d="M522.3 448.4l-4.1-2 4.2-1 4 2.1z"/><path class="c50" d="M360.3 445.2l-4 .6 4.2-1.1 4-.6z"/><path class="c53" d="M364.4 444.6l-4.1 .6 4.2-1.1 4.1-.6z"/><path class="c55" d="M368.4 444l-4 .6 4.2-1.1 4-.7z"/><path class="c58" d="M372.4 443.3l-4 .7 4.2-1.2 4.1-.6z"/><path class="c61" d="M376.5 442.6l-4.1 .7 4.3-1.1 4-.7z"/><path class="c64" d="M380.5 441.9l-4 .7 4.2-1.1 4.1-.7z"/><path class="c67" d="M384.6 441.2l-4.1 .7 4.3-1.1 4-.8z"/><path class="c70" d="M388.6 440.5l-4 .7 4.2-1.2 4-.7z"/><path class="c73" d="M392.7 439.7l-4.1 .8 4.2-1.2 4.1-.7z"/><path class="c76" d="M396.7 439l-4 .7 4.2-1.1 4-.8z"/><path class="c79" d="M400.8 438.2l-4.1 .8 4.2-1.2 4.1-.7z"/><path class="c82" d="M404.8 437.5l-4 .7 4.2-1.1 4-.7z"/><path class="c84" d="M408.9 436.8l-4.1 .7 4.2-1.1 4.1-.7z"/><path class="c87" d="M412.9 436.1l-4 .7 4.2-1.1 4-.7z"/><path class="c90" d="M417 435.5l-4.1 .6 4.2-1.1 4.1-.6z"/><path class="c93" d="M421 434.8l-4 .7 4.2-1.1 4-.7z"/><path class="c96" d="M425.1 434.3l-4.1 .5 4.2-1.1 4-.5z"/><path class="c98" d="M429.1 433.8l-4 .5 4.1-1.1 4.1-.5z"/><path class="c100" d="M433.2 433.3l-4.1 .5 4.2-1.1 4-.5z"/><path class="c103" d="M437.2 432.9l-4 .4 4.1-1.1 4.1-.3z"/><path class="c105" d="M441.3 432.6l-4.1 .3 4.2-1 4-.3z"/><path class="c107" d="M445.3 432.4l-4 .2 4.1-1 4.1-.2z"/><path class="c108" d="M449.3 432.3l-4 .1 4.2-1 4-.1z"/><path class="c110" d="M453.4 432.3l-4.1 0 4.2-1 4.1 0z"/><path class="c111" d="M457.4 432.3l-4 0 4.2-1 4 .1z"/><path class="c112" d="M461.5 432.6l-4.1-.3 4.2-.9 4 .2zM465.5 432.9l-4-.3 4.1-1 4.1 .3z"/><path class="c113" d="M469.6 433.3l-4.1-.4 4.2-1 4 .5zM473.6 433.9l-4-.6 4.1-.9 4.1 .6zM477.7 434.7l-4.1-.8 4.2-.9 4 .7z"/><path class="c112" d="M481.7 435.5l-4-.8 4.1-1 4.1 .9z"/><path class="c111" d="M485.8 436.5l-4.1-1 4.2-.9 4 1z"/><path class="c110" d="M489.8 437.7l-4-1.2 4.1-.9 4.1 1.1z"/><path class="c108" d="M493.9 439l-4.1-1.3 4.2-1 4 1.3z"/><path class="c107" d="M497.9 440.4l-4-1.4 4.1-1 4.1 1.5z"/><path class="c104" d="M502 442l-4.1-1.6 4.2-.9 4 1.5z"/><path class="c102" d="M506 443.7l-4-1.7 4.1-1 4 1.7z"/><path class="c99" d="M510.1 445.5l-4.1-1.8 4.1-1 4.1 1.8z"/><path class="c96" d="M514.1 447.4l-4-1.9 4.1-1 4 1.9z"/><path class="c93" d="M518.1 449.4l-4-2 4.1-1 4.1 2z"/><path class="c48" d="M356.1 446.3l-4.1 .6 4.3-1.1 4-.6z"/><path class="c51" d="M360.1 445.7l-4 .6 4.2-1.1 4.1-.6z"/><path class="c53" d="M364.2 445.1l-4.1 .6 4.3-1.1 4-.6z"/><path class="c56" d="M368.2 444.5l-4 .6 4.2-1.1 4-.7z"/><path class="c59" d="M372.3 443.8l-4.1 .7 4.2-1.2 4.1-.7z"/><path class="c62" d="M376.3 443.1l-4 .7 4.2-1.2 4-.7z"/><path class="c65" d="M380.4 442.4l-4.1 .7 4.2-1.2 4.1-.7z"/><path class="c68" d="M384.4 441.6l-4 .8 4.2-1.2 4-.7z"/><path class="c71" d="M388.5 440.9l-4.1 .7 4.2-1.1 4.1-.8z"/><path class="c74" d="M392.5 440.1l-4 .8 4.2-1.2 4-.7z"/><path class="c77" d="M396.6 439.4l-4.1 .7 4.2-1.1 4.1-.8z"/><path class="c80" d="M400.6 438.7l-4 .7 4.2-1.2 4-.7z"/><path class="c83" d="M404.7 437.9l-4.1 .8 4.2-1.2 4.1-.7z"/><path class="c86" d="M408.7 437.3l-4 .6 4.2-1.1 4-.7z"/><path class="c88" d="M412.8 436.6l-4.1 .7 4.2-1.2 4.1-.6z"/><path class="c91" d="M416.8 436l-4 .6 4.2-1.1 4-.7z"/><path class="c94" d="M420.9 435.4l-4.1 .6 4.2-1.2 4.1-.5z"/><path class="c96" d="M424.9 434.8l-4 .6 4.2-1.1 4-.5z"/><path class="c99" d="M429 434.4l-4.1 .4 4.2-1 4.1-.5z"/><path class="c101" d="M433 434l-4 .4 4.2-1.1 4-.4z"/><path class="c103" d="M437.1 433.7l-4.1 .3 4.2-1.1 4.1-.3z"/><path class="c105" d="M441.1 433.4l-4 .3 4.2-1.1 4-.2z"/><path class="c107" d="M445.2 433.3l-4.1 .1 4.2-1 4-.1z"/><path class="c108" d="M449.2 433.3l-4 0 4.1-1 4.1 0z"/><path class="c109" d="M453.3 433.3l-4.1 0 4.2-1 4 0z"/><path class="c110" d="M457.3 433.5l-4-.2 4.1-1 4.1 .3z"/><path class="c111" d="M461.4 433.9l-4.1-.4 4.2-.9 4 .3zM465.4 434.3l-4-.4 4.1-1 4.1 .4zM469.5 434.9l-4.1-.6 4.2-1 4 .6zM473.5 435.6l-4-.7 4.1-1 4.1 .8zM477.6 436.5l-4.1-.9 4.2-.9 4 .8z"/><path class="c110" d="M481.6 437.5l-4-1 4.1-1 4.1 1z"/><path class="c109" d="M485.7 438.6l-4.1-1.1 4.2-1 4 1.2z"/><path class="c107" d="M489.7 439.9l-4-1.3 4.1-.9 4.1 1.3z"/><path class="c105" d="M493.8 441.4l-4.1-1.5 4.2-.9 4 1.4z"/><path class="c103" d="M497.8 442.9l-4-1.5 4.1-1 4.1 1.6z"/><path class="c100" d="M501.9 444.6l-4.1-1.7 4.2-.9 4 1.7z"/><path class="c98" d="M505.9 446.5l-4-1.9 4.1-.9 4.1 1.8z"/><path class="c95" d="M510 448.4l-4.1-1.9 4.2-1 4 1.9z"/><path class="c91" d="M514 450.4l-4-2 4.1-1 4 2z"/><path class="c46" d="M351.9 447.5l-4.1 .5 4.2-1.1 4.1-.6z"/><path class="c49" d="M355.9 446.9l-4 .6 4.2-1.2 4-.6z"/><path class="c52" d="M360 446.3l-4.1 .6 4.2-1.2 4.1-.6z"/><path class="c54" d="M364 445.6l-4 .7 4.2-1.2 4-.6z"/><path class="c57" d="M368.1 444.9l-4.1 .7 4.2-1.1 4.1-.7z"/><path class="c60" d="M372.1 444.2l-4 .7 4.2-1.1 4-.7z"/><path class="c63" d="M376.2 443.5l-4.1 .7 4.2-1.1 4.1-.7z"/><path class="c66" d="M380.2 442.8l-4 .7 4.2-1.1 4-.8z"/><path class="c69" d="M384.3 442.1l-4.1 .7 4.2-1.2 4.1-.7z"/><path class="c72" d="M388.3 441.3l-4 .8 4.2-1.2 4-.8z"/><path class="c75" d="M392.4 440.6l-4.1 .7 4.2-1.2 4.1-.7z"/><path class="c78" d="M396.4 439.8l-4 .8 4.2-1.2 4-.7z"/><path class="c81" d="M400.5 439.1l-4.1 .7 4.2-1.1 4.1-.8z"/><path class="c84" d="M404.5 438.4l-4 .7 4.2-1.2 4-.6z"/><path class="c87" d="M408.6 437.7l-4.1 .7 4.2-1.1 4.1-.7z"/><path class="c89" d="M412.6 437.1l-4 .6 4.2-1.1 4-.6z"/><path class="c92" d="M416.7 436.5l-4.1 .6 4.2-1.1 4.1-.6z"/><path class="c95" d="M420.7 435.9l-4 .6 4.2-1.1 4-.6z"/><path class="c97" d="M424.8 435.5l-4.1 .4 4.2-1.1 4.1-.4z"/><path class="c99" d="M428.8 435l-4 .5 4.2-1.1 4-.4z"/><path class="c101" d="M432.9 434.7l-4.1 .3 4.2-1 4.1-.3z"/><path class="c103" d="M437 434.5l-4.1 .2 4.2-1 4-.3z"/><path class="c105" d="M441 434.3l-4 .2 4.1-1.1 4.1-.1z"/><path class="c107" d="M445.1 434.3l-4.1 0 4.2-1 4 0z"/><path class="c108" d="M449.1 434.3l-4 0 4.1-1 4.1 0z"/><path class="c109" d="M453.2 434.5l-4.1-.2 4.2-1 4 .2zM457.2 434.8l-4-.3 4.1-1 4.1 .4z"/><path class="c110" d="M461.3 435.3l-4.1-.5 4.2-.9 4 .4zM465.3 435.9l-4-.6 4.1-1 4.1 .6zM469.4 436.6l-4.1-.7 4.2-1 4 .7z"/><path class="c109" d="M473.4 437.5l-4-.9 4.1-1 4.1 .9z"/><path class="c108" d="M477.5 438.5l-4.1-1 4.2-1 4 1z"/><path class="c107" d="M481.5 439.6l-4-1.1 4.1-1 4.1 1.1z"/><path class="c106" d="M485.6 440.9l-4.1-1.3 4.2-1 4 1.3z"/><path class="c104" d="M489.6 442.4l-4-1.5 4.1-1 4.1 1.5z"/><path class="c102" d="M493.7 443.9l-4.1-1.5 4.2-1 4 1.5z"/><path class="c99" d="M497.7 445.6l-4-1.7 4.1-1 4.1 1.7z"/><path class="c96" d="M501.8 447.5l-4.1-1.9 4.2-1 4 1.9z"/><path class="c93" d="M505.8 449.4l-4-1.9 4.1-1 4.1 1.9z"/><path class="c90" d="M509.9 451.5l-4.1-2.1 4.2-1 4 2z"/><path class="c44" d="M347.6 448.6l-4 .5 4.2-1.1 4.1-.5z"/><path class="c47" d="M351.7 448l-4.1 .6 4.3-1.1 4-.6z"/><path class="c50" d="M355.8 447.4l-4.1 .6 4.2-1.1 4.1-.6z"/><path class="c52" d="M359.8 446.8l-4 .6 4.2-1.1 4-.7z"/><path class="c55" d="M363.9 446.1l-4.1 .7 4.2-1.2 4.1-.7z"/><path class="c58" d="M367.9 445.4l-4 .7 4.2-1.2 4-.7z"/><path class="c61" d="M372 444.7l-4.1 .7 4.2-1.2 4.1-.7z"/><path class="c64" d="M376 444l-4 .7 4.2-1.2 4-.7z"/><path class="c67" d="M380.1 443.2l-4.1 .8 4.2-1.2 4.1-.7z"/><path class="c70" d="M384.1 442.5l-4 .7 4.2-1.1 4-.8z"/><path class="c73" d="M388.2 441.7l-4.1 .8 4.2-1.2 4.1-.7z"/><path class="c76" d="M392.2 441l-4 .7 4.2-1.1 4-.8z"/><path class="c79" d="M396.3 440.3l-4.1 .7 4.2-1.2 4.1-.7z"/><path class="c82" d="M400.3 439.6l-4 .7 4.2-1.2 4-.7z"/><path class="c85" d="M404.4 438.9l-4.1 .7 4.2-1.2 4.1-.7z"/><path class="c87" d="M408.5 438.2l-4.1 .7 4.2-1.2 4-.6z"/><path class="c90" d="M412.5 437.6l-4 .6 4.1-1.1 4.1-.6z"/><path class="c93" d="M416.6 437l-4.1 .6 4.2-1.1 4-.6z"/><path class="c95" d="M420.6 436.6l-4 .4 4.1-1.1 4.1-.4z"/><path class="c98" d="M424.7 436.1l-4.1 .5 4.2-1.1 4-.5z"/><path class="c100" d="M428.7 435.8l-4 .3 4.1-1.1 4.1-.3z"/><path class="c102" d="M432.8 435.5l-4.1 .3 4.2-1.1 4.1-.2z"/><path class="c103" d="M436.8 435.4l-4 .1 4.2-1 4-.2z"/><path class="c105" d="M440.9 435.3l-4.1 .1 4.2-1.1 4.1 0z"/><path class="c106" d="M444.9 435.4l-4-.1 4.2-1 4 0z"/><path class="c107" d="M449 435.5l-4.1-.1 4.2-1.1 4.1 .2z"/><path class="c108" d="M453.1 435.8l-4.1-.3 4.2-1 4 .3zM457.1 436.3l-4.1-.5 4.2-1 4.1 .5zM461.2 436.8l-4.1-.5 4.2-1 4 .6zM465.2 437.6l-4-.8 4.1-.9 4.1 .7zM469.3 438.4l-4.1-.8 4.2-1 4 .9z"/><path class="c107" d="M473.3 439.4l-4-1 4.1-.9 4.1 1z"/><path class="c106" d="M477.4 440.6l-4.1-1.2 4.2-.9 4 1.1z"/><path class="c104" d="M481.4 441.9l-4-1.3 4.1-1 4.1 1.3z"/><path class="c102" d="M485.5 443.3l-4.1-1.4 4.2-1 4 1.5z"/><path class="c100" d="M489.5 444.9l-4-1.6 4.1-.9 4.1 1.5z"/><path class="c98" d="M493.6 446.6l-4.1-1.7 4.2-1 4 1.7z"/><path class="c95" d="M497.6 448.5l-4-1.9 4.1-1 4.1 1.9z"/><path class="c92" d="M501.7 450.4l-4.1-1.9 4.2-1 4 1.9z"/><path class="c88" d="M505.8 452.5l-4.1-2.1 4.1-1 4.1 2.1z"/><path class="c43" d="M343.4 449.7l-4 .6 4.2-1.2 4-.5z"/><path class="c45" d="M347.5 449.2l-4.1 .5 4.2-1.1 4.1-.6z"/><path class="c48" d="M351.5 448.6l-4 .6 4.2-1.2 4.1-.6z"/><path class="c50" d="M355.6 448l-4.1 .6 4.3-1.2 4-.6z"/><path class="c53" d="M359.7 447.3l-4.1 .7 4.2-1.2 4.1-.7z"/><path class="c56" d="M363.7 446.6l-4 .7 4.2-1.2 4-.7z"/><path class="c59" d="M367.8 445.9l-4.1 .7 4.2-1.2 4.1-.7z"/><path class="c62" d="M371.8 445.2l-4 .7 4.2-1.2 4-.7z"/><path class="c65" d="M375.9 444.4l-4.1 .8 4.2-1.2 4.1-.8z"/><path class="c68" d="M379.9 443.7l-4 .7 4.2-1.2 4-.7z"/><path class="c71" d="M384 442.9l-4.1 .8 4.2-1.2 4.1-.8z"/><path class="c74" d="M388 442.2l-4 .7 4.2-1.2 4-.7z"/><path class="c77" d="M392.1 441.4l-4.1 .8 4.2-1.2 4.1-.7z"/><path class="c80" d="M396.2 440.7l-4.1 .7 4.2-1.1 4-.7z"/><path class="c83" d="M400.2 440l-4 .7 4.1-1.1 4.1-.7z"/><path class="c86" d="M404.3 439.4l-4.1 .6 4.2-1.1 4.1-.7z"/><path class="c88" d="M408.3 438.7l-4 .7 4.2-1.2 4-.6z"/><path class="c91" d="M412.4 438.2l-4.1 .5 4.2-1.1 4.1-.6z"/><path class="c93" d="M416.4 437.7l-4 .5 4.2-1.2 4-.4z"/><path class="c96" d="M420.5 437.2l-4.1 .5 4.2-1.1 4.1-.5z"/><path class="c98" d="M424.6 436.9l-4.1 .3 4.2-1.1 4-.3z"/><path class="c100" d="M428.6 436.6l-4 .3 4.1-1.1 4.1-.3z"/><path class="c102" d="M432.7 436.4l-4.1 .2 4.2-1.1 4-.1z"/><path class="c103" d="M436.7 436.3l-4 .1 4.1-1 4.1-.1z"/><path class="c105" d="M440.8 436.4l-4.1-.1 4.2-1 4 .1z"/><path class="c106" d="M444.8 436.5l-4-.1 4.1-1 4.1 .1zM448.9 436.8l-4.1-.3 4.2-1 4 .3z"/><path class="c107" d="M452.9 437.3l-4-.5 4.1-1 4.1 .5zM457 437.8l-4.1-.5 4.2-1 4.1 .5zM461.1 438.6l-4.1-.8 4.2-1 4 .8z"/><path class="c106" d="M465.1 439.4l-4-.8 4.1-1 4.1 .8z"/><path class="c105" d="M469.2 440.4l-4.1-1 4.2-1 4 1z"/><path class="c104" d="M473.2 441.6l-4-1.2 4.1-1 4.1 1.2z"/><path class="c103" d="M477.3 442.9l-4.1-1.3 4.2-1 4 1.3z"/><path class="c101" d="M481.3 444.3l-4-1.4 4.1-1 4.1 1.4z"/><path class="c99" d="M485.4 445.9l-4.1-1.6 4.2-1 4 1.6z"/><path class="c96" d="M489.5 447.6l-4.1-1.7 4.1-1 4.1 1.7z"/><path class="c93" d="M493.5 449.5l-4-1.9 4.1-1 4 1.9z"/><path class="c90" d="M497.6 451.5l-4.1-2 4.1-1 4.1 1.9z"/><path class="c87" d="M501.6 453.5l-4-2 4.1-1.1 4.1 2.1z"/><path class="c41" d="M339.2 450.9l-4.1 .5 4.3-1.1 4-.6z"/><path class="c43" d="M343.3 450.3l-4.1 .6 4.2-1.2 4.1-.5z"/><path class="c46" d="M347.3 449.8l-4 .5 4.2-1.1 4-.6z"/><path class="c49" d="M351.4 449.1l-4.1 .7 4.2-1.2 4.1-.6z"/><path class="c51" d="M355.4 448.5l-4 .6 4.2-1.1 4.1-.7z"/><path class="c54" d="M359.5 447.8l-4.1 .7 4.3-1.2 4-.7z"/><path class="c57" d="M363.6 447.1l-4.1 .7 4.2-1.2 4.1-.7z"/><path class="c60" d="M367.6 446.4l-4 .7 4.2-1.2 4-.7z"/><path class="c63" d="M371.7 445.7l-4.1 .7 4.2-1.2 4.1-.8z"/><path class="c66" d="M375.7 444.9l-4 .8 4.2-1.3 4-.7z"/><path class="c69" d="M379.8 444.1l-4.1 .8 4.2-1.2 4.1-.8z"/><path class="c72" d="M383.8 443.4l-4 .7 4.2-1.2 4-.7z"/><path class="c75" d="M387.9 442.6l-4.1 .8 4.2-1.2 4.1-.8z"/><path class="c78" d="M392 441.9l-4.1 .7 4.2-1.2 4.1-.7z"/><path class="c81" d="M396 441.2l-4 .7 4.2-1.2 4-.7z"/><path class="c84" d="M400.1 440.5l-4.1 .7 4.2-1.2 4.1-.6z"/><path class="c86" d="M404.1 439.9l-4 .6 4.2-1.1 4-.7z"/><path class="c89" d="M408.2 439.3l-4.1 .6 4.2-1.2 4.1-.5z"/><path class="c92" d="M412.3 438.8l-4.1 .5 4.2-1.1 4-.5z"/><path class="c94" d="M416.3 438.3l-4 .5 4.1-1.1 4.1-.5z"/><path class="c96" d="M420.4 437.9l-4.1 .4 4.2-1.1 4.1-.3z"/><path class="c98" d="M424.4 437.7l-4 .2 4.2-1 4-.3z"/><path class="c100" d="M428.5 437.5l-4.1 .2 4.2-1.1 4.1-.2z"/><path class="c102" d="M432.6 437.4l-4.1 .1 4.2-1.1 4-.1z"/><path class="c103" d="M436.6 437.4l-4 0 4.1-1.1 4.1 .1z"/><path class="c104" d="M440.7 437.6l-4.1-.2 4.2-1 4 .1z"/><path class="c105" d="M444.7 437.9l-4-.3 4.1-1.1 4.1 .3zM448.8 438.3l-4.1-.4 4.2-1.1 4 .5zM452.8 438.8l-4-.5 4.1-1 4.1 .5zM456.9 439.5l-4.1-.7 4.2-1 4.1 .8zM461 440.4l-4.1-.9 4.2-.9 4 .8z"/><path class="c104" d="M465 441.4l-4-1 4.1-1 4.1 1z"/><path class="c103" d="M469.1 442.6l-4.1-1.2 4.2-1 4 1.2z"/><path class="c101" d="M473.1 443.9l-4-1.3 4.1-1 4.1 1.3z"/><path class="c99" d="M477.2 445.3l-4.1-1.4 4.2-1 4 1.4z"/><path class="c97" d="M481.3 446.9l-4.1-1.6 4.1-1 4.1 1.6z"/><path class="c94" d="M485.3 448.7l-4-1.8 4.1-1 4.1 1.7z"/><path class="c92" d="M489.4 450.5l-4.1-1.8 4.2-1.1 4 1.9z"/><path class="c88" d="M493.4 452.5l-4-2 4.1-1 4.1 2z"/><path class="c85" d="M497.5 454.6l-4.1-2.1 4.2-1 4 2z"/><path class="c39" d="M335 452l-4.1 .5 4.2-1.1 4.1-.5z"/><path class="c41" d="M339 451.5l-4 .5 4.2-1.1 4.1-.6z"/><path class="c44" d="M343.1 450.9l-4.1 .6 4.3-1.2 4-.5z"/><path class="c47" d="M347.2 450.3l-4.1 .6 4.2-1.1 4.1-.7z"/><path class="c49" d="M351.2 449.7l-4 .6 4.2-1.2 4-.6z"/><path class="c52" d="M355.3 449l-4.1 .7 4.2-1.2 4.1-.7z"/><path class="c55" d="M359.4 448.3l-4.1 .7 4.2-1.2 4.1-.7z"/><path class="c58" d="M363.4 447.6l-4 .7 4.2-1.2 4-.7z"/><path class="c61" d="M367.5 446.9l-4.1 .7 4.2-1.2 4.1-.7z"/><path class="c64" d="M371.5 446.1l-4 .8 4.2-1.2 4-.8z"/><path class="c67" d="M375.6 445.4l-4.1 .7 4.2-1.2 4.1-.8z"/><path class="c70" d="M379.7 444.6l-4.1 .8 4.2-1.3 4-.7z"/><path class="c73" d="M383.7 443.8l-4 .8 4.1-1.2 4.1-.8z"/><path class="c76" d="M387.8 443.1l-4.1 .7 4.2-1.2 4.1-.7z"/><path class="c79" d="M391.8 442.4l-4 .7 4.2-1.2 4-.7z"/><path class="c82" d="M395.9 441.7l-4.1 .7 4.2-1.2 4.1-.7z"/><path class="c85" d="M400 441.1l-4.1 .6 4.2-1.2 4-.6z"/><path class="c87" d="M404 440.5l-4 .6 4.1-1.2 4.1-.6z"/><path class="c90" d="M408.1 439.9l-4.1 .6 4.2-1.2 4.1-.5z"/><path class="c92" d="M412.1 439.4l-4 .5 4.2-1.1 4-.5z"/><path class="c95" d="M416.2 439.1l-4.1 .3 4.2-1.1 4.1-.4z"/><path class="c97" d="M420.3 438.7l-4.1 .4 4.2-1.2 4-.2z"/><path class="c98" d="M424.3 438.5l-4 .2 4.1-1 4.1-.2z"/><path class="c100" d="M428.4 438.4l-4.1 .1 4.2-1 4.1-.1z"/><path class="c101" d="M432.4 438.5l-4-.1 4.2-1 4 0z"/><path class="c102" d="M436.5 438.6l-4.1-.1 4.2-1.1 4.1 .2z"/><path class="c103" d="M440.6 438.9l-4.1-.3 4.2-1 4 .3z"/><path class="c104" d="M444.6 439.3l-4-.4 4.1-1 4.1 .4zM448.7 439.8l-4.1-.5 4.2-1 4 .5zM452.7 440.5l-4-.7 4.1-1 4.1 .7z"/><path class="c103" d="M456.8 441.4l-4.1-.9 4.2-1 4.1 .9z"/><path class="c102" d="M460.9 442.4l-4.1-1 4.2-1 4 1z"/><path class="c101" d="M464.9 443.6l-4-1.2 4.1-1 4.1 1.2z"/><path class="c100" d="M469 444.9l-4.1-1.3 4.2-1 4 1.3z"/><path class="c98" d="M473.1 446.3l-4.1-1.4 4.1-1 4.1 1.4z"/><path class="c95" d="M477.1 448l-4-1.7 4.1-1 4.1 1.6z"/><path class="c93" d="M481.2 449.7l-4.1-1.7 4.2-1.1 4 1.8z"/><path class="c90" d="M485.2 451.6l-4-1.9 4.1-1 4.1 1.8z"/><path class="c87" d="M489.3 453.5l-4.1-1.9 4.2-1.1 4 2z"/><path class="c83" d="M493.4 455.6l-4.1-2.1 4.1-1 4.1 2.1z"/><path class="c37" d="M330.8 453.2l-4.1 .5 4.2-1.2 4.1-.5z"/><path class="c39" d="M334.8 452.7l-4 .5 4.2-1.2 4-.5z"/><path class="c42" d="M338.9 452.1l-4.1 .6 4.2-1.2 4.1-.6z"/><path class="c45" d="M343 451.5l-4.1 .6 4.2-1.2 4.1-.6z"/><path class="c47" d="M347 450.9l-4 .6 4.2-1.2 4-.6z"/><path class="c50" d="M351.1 450.2l-4.1 .7 4.2-1.2 4.1-.7z"/><path class="c53" d="M355.1 449.6l-4 .6 4.2-1.2 4.1-.7z"/><path class="c56" d="M359.2 448.8l-4.1 .8 4.3-1.3 4-.7z"/><path class="c59" d="M363.3 448.1l-4.1 .7 4.2-1.2 4.1-.7z"/><path class="c62" d="M367.3 447.4l-4 .7 4.2-1.2 4-.8z"/><path class="c65" d="M371.4 446.6l-4.1 .8 4.2-1.3 4.1-.7z"/><path class="c68" d="M375.5 445.8l-4.1 .8 4.2-1.2 4.1-.8z"/><path class="c71" d="M379.5 445.1l-4 .7 4.2-1.2 4-.8z"/><path class="c74" d="M383.6 444.3l-4.1 .8 4.2-1.3 4.1-.7z"/><path class="c77" d="M387.6 443.6l-4 .7 4.2-1.2 4-.7z"/><path class="c80" d="M391.7 442.9l-4.1 .7 4.2-1.2 4.1-.7z"/><path class="c83" d="M395.8 442.2l-4.1 .7 4.2-1.2 4.1-.6z"/><path class="c85" d="M399.8 441.6l-4 .6 4.2-1.1 4-.6z"/><path class="c88" d="M403.9 441.1l-4.1 .5 4.2-1.1 4.1-.6z"/><path class="c90" d="M408 440.6l-4.1 .5 4.2-1.2 4-.5z"/><path class="c93" d="M412 440.2l-4 .4 4.1-1.2 4.1-.3z"/><path class="c95" d="M416.1 439.8l-4.1 .4 4.2-1.1 4.1-.4z"/><path class="c97" d="M420.2 439.6l-4.1 .2 4.2-1.1 4-.2z"/><path class="c98" d="M424.2 439.5l-4 .1 4.1-1.1 4.1-.1z"/><path class="c100" d="M428.3 439.5l-4.1 0 4.2-1.1 4 .1z"/><path class="c101" d="M432.3 439.6l-4-.1 4.1-1 4.1 .1z"/><path class="c102" d="M436.4 439.9l-4.1-.3 4.2-1 4.1 .3zM440.5 440.3l-4.1-.4 4.2-1 4 .4zM444.5 440.9l-4-.6 4.1-1 4.1 .5zM448.6 441.6l-4.1-.7 4.2-1.1 4 .7zM452.7 442.4l-4.1-.8 4.1-1.1 4.1 .9z"/><path class="c101" d="M456.7 443.4l-4-1 4.1-1 4.1 1z"/><path class="c100" d="M460.8 444.6l-4.1-1.2 4.2-1 4 1.2z"/><path class="c98" d="M464.8 445.9l-4-1.3 4.1-1 4.1 1.3z"/><path class="c96" d="M468.9 447.4l-4.1-1.5 4.2-1 4.1 1.4z"/><path class="c94" d="M473 449l-4.1-1.6 4.2-1.1 4 1.7z"/><path class="c91" d="M477 450.7l-4-1.7 4.1-1 4.1 1.7z"/><path class="c88" d="M481.1 452.6l-4.1-1.9 4.2-1 4 1.9z"/><path class="c85" d="M485.2 454.6l-4.1-2 4.1-1 4.1 1.9z"/><path class="c82" d="M489.2 456.7l-4-2.1 4.1-1.1 4.1 2.1z"/><path class="c35" d="M326.5 454.3l-4 .5 4.2-1.1 4.1-.5z"/><path class="c38" d="M330.6 453.8l-4.1 .5 4.3-1.1 4-.5z"/><path class="c40" d="M334.7 453.3l-4.1 .5 4.2-1.1 4.1-.6z"/><path class="c43" d="M338.7 452.7l-4 .6 4.2-1.2 4.1-.6z"/><path class="c45" d="M342.8 452.1l-4.1 .6 4.3-1.2 4-.6z"/><path class="c48" d="M346.9 451.5l-4.1 .6 4.2-1.2 4.1-.7z"/><path class="c51" d="M350.9 450.8l-4 .7 4.2-1.3 4-.6z"/><path class="c54" d="M355 450.1l-4.1 .7 4.2-1.2 4.1-.8z"/><path class="c57" d="M359.1 449.4l-4.1 .7 4.2-1.3 4.1-.7z"/><path class="c60" d="M363.1 448.6l-4 .8 4.2-1.3 4-.7z"/><path class="c63" d="M367.2 447.8l-4.1 .8 4.2-1.2 4.1-.8z"/><path class="c66" d="M371.3 447.1l-4.1 .7 4.2-1.2 4.1-.8z"/><path class="c69" d="M375.3 446.3l-4 .8 4.2-1.3 4-.7z"/><path class="c72" d="M379.4 445.5l-4.1 .8 4.2-1.2 4.1-.8z"/><path class="c75" d="M383.5 444.8l-4.1 .7 4.2-1.2 4-.7z"/><path class="c78" d="M387.5 444.1l-4 .7 4.1-1.2 4.1-.7z"/><path class="c81" d="M391.6 443.4l-4.1 .7 4.2-1.2 4.1-.7z"/><path class="c83" d="M395.7 442.8l-4.1 .6 4.2-1.2 4-.6z"/><path class="c86" d="M399.7 442.2l-4 .6 4.1-1.2 4.1-.5z"/><path class="c89" d="M403.8 441.7l-4.1 .5 4.2-1.1 4.1-.5z"/><path class="c91" d="M407.9 441.3l-4.1 .4 4.2-1.1 4-.4z"/><path class="c93" d="M411.9 441l-4 .3 4.1-1.1 4.1-.4z"/><path class="c95" d="M416 440.7l-4.1 .3 4.2-1.2 4.1-.2z"/><path class="c97" d="M420 440.6l-4 .1 4.2-1.1 4-.1z"/><path class="c98" d="M424.1 440.6l-4.1 0 4.2-1.1 4.1 0z"/><path class="c99" d="M428.2 440.7l-4.1-.1 4.2-1.1 4 .1z"/><path class="c100" d="M432.2 441l-4-.3 4.1-1.1 4.1 .3z"/><path class="c101" d="M436.3 441.3l-4.1-.3 4.2-1.1 4.1 .4zM440.4 441.9l-4.1-.6 4.2-1 4 .6zM444.4 442.6l-4-.7 4.1-1 4.1 .7z"/><path class="c100" d="M448.5 443.4l-4.1-.8 4.2-1 4.1 .8z"/><path class="c99" d="M452.6 444.5l-4.1-1.1 4.2-1 4 1z"/><path class="c98" d="M456.6 445.6l-4-1.1 4.1-1.1 4.1 1.2z"/><path class="c96" d="M460.7 446.9l-4.1-1.3 4.2-1 4 1.3z"/><path class="c95" d="M464.8 448.4l-4.1-1.5 4.1-1 4.1 1.5z"/><path class="c92" d="M468.8 450l-4-1.6 4.1-1 4.1 1.6z"/><path class="c90" d="M472.9 451.8l-4.1-1.8 4.2-1 4 1.7z"/><path class="c87" d="M477 453.7l-4.1-1.9 4.1-1.1 4.1 1.9z"/><path class="c84" d="M481 455.7l-4-2 4.1-1.1 4.1 2z"/><path class="c80" d="M485.1 457.8l-4.1-2.1 4.2-1.1 4 2.1z"/><path class="c33" d="M322.3 455.5l-4 .4 4.2-1.1 4-.5z"/><path class="c36" d="M326.4 455l-4.1 .5 4.2-1.2 4.1-.5z"/><path class="c38" d="M330.5 454.5l-4.1 .5 4.2-1.2 4.1-.5z"/><path class="c41" d="M334.5 453.9l-4 .6 4.2-1.2 4-.6z"/><path class="c43" d="M338.6 453.3l-4.1 .6 4.2-1.2 4.1-.6z"/><path class="c46" d="M342.7 452.7l-4.1 .6 4.2-1.2 4.1-.6z"/><path class="c49" d="M346.7 452l-4 .7 4.2-1.2 4-.7z"/><path class="c52" d="M350.8 451.3l-4.1 .7 4.2-1.2 4.1-.7z"/><path class="c55" d="M354.9 450.6l-4.1 .7 4.2-1.2 4.1-.7z"/><path class="c58" d="M358.9 449.9l-4 .7 4.2-1.2 4-.8z"/><path class="c61" d="M363 449.1l-4.1 .8 4.2-1.3 4.1-.8z"/><path class="c64" d="M367.1 448.3l-4.1 .8 4.2-1.3 4.1-.7z"/><path class="c67" d="M371.1 447.6l-4 .7 4.2-1.2 4-.8z"/><path class="c70" d="M375.2 446.8l-4.1 .8 4.2-1.3 4.1-.8z"/><path class="c73" d="M379.3 446l-4.1 .8 4.2-1.3 4.1-.7z"/><path class="c76" d="M383.3 445.3l-4 .7 4.2-1.2 4-.7z"/><path class="c79" d="M387.4 444.6l-4.1 .7 4.2-1.2 4.1-.7z"/><path class="c81" d="M391.5 444l-4.1 .6 4.2-1.2 4.1-.6z"/><path class="c84" d="M395.5 443.4l-4 .6 4.2-1.2 4-.6z"/><path class="c87" d="M399.6 442.9l-4.1 .5 4.2-1.2 4.1-.5z"/><path class="c89" d="M403.7 442.4l-4.1 .5 4.2-1.2 4.1-.4z"/><path class="c91" d="M407.7 442.1l-4 .3 4.2-1.1 4-.3z"/><path class="c93" d="M411.8 441.8l-4.1 .3 4.2-1.1 4.1-.3z"/><path class="c95" d="M415.9 441.7l-4.1 .1 4.2-1.1 4-.1z"/><path class="c96" d="M419.9 441.7l-4 0 4.1-1.1 4.1 0z"/><path class="c98" d="M424 441.8l-4.1-.1 4.2-1.1 4.1 .1zM428.1 442l-4.1-.2 4.2-1.1 4 .3z"/><path class="c99" d="M432.1 442.4l-4-.4 4.1-1 4.1 .3zM436.2 442.9l-4-.5 4.1-1.1 4.1 .6zM440.3 443.6l-4.1-.7 4.2-1 4 .7zM444.4 444.5l-4.1-.9 4.1-1 4.1 .8z"/><path class="c98" d="M448.4 445.5l-4-1 4.1-1.1 4.1 1.1z"/><path class="c96" d="M452.5 446.7l-4.1-1.2 4.2-1 4 1.1z"/><path class="c95" d="M456.6 448l-4.1-1.3 4.1-1.1 4.1 1.3z"/><path class="c93" d="M460.6 449.5l-4-1.5 4.1-1.1 4.1 1.5z"/><path class="c91" d="M464.7 451.1l-4.1-1.6 4.2-1.1 4 1.6z"/><path class="c88" d="M468.8 452.9l-4.1-1.8 4.1-1.1 4.1 1.8z"/><path class="c85" d="M472.8 454.8l-4-1.9 4.1-1.1 4.1 1.9z"/><path class="c82" d="M476.9 456.8l-4.1-2 4.2-1.1 4 2z"/><path class="c78" d="M481 458.9l-4.1-2.1 4.1-1.1 4.1 2.1z"/><path class="c31" d="M318.1 456.7l-4.1 .4 4.3-1.2 4-.4z"/><path class="c34" d="M322.2 456.2l-4.1 .5 4.2-1.2 4.1-.5z"/><path class="c36" d="M326.2 455.7l-4 .5 4.2-1.2 4.1-.5z"/><path class="c39" d="M330.3 455.2l-4.1 .5 4.3-1.2 4-.6z"/><path class="c41" d="M334.4 454.6l-4.1 .6 4.2-1.3 4.1-.6z"/><path class="c44" d="M338.5 454l-4.1 .6 4.2-1.3 4.1-.6z"/><path class="c47" d="M342.5 453.3l-4 .7 4.2-1.3 4-.7z"/><path class="c50" d="M346.6 452.6l-4.1 .7 4.2-1.3 4.1-.7z"/><path class="c52" d="M350.7 451.9l-4.1 .7 4.2-1.3 4.1-.7z"/><path class="c55" d="M354.7 451.1l-4 .8 4.2-1.3 4-.7z"/><path class="c58" d="M358.8 450.4l-4.1 .7 4.2-1.2 4.1-.8z"/><path class="c62" d="M362.9 449.6l-4.1 .8 4.2-1.3 4.1-.8z"/><path class="c65" d="M366.9 448.8l-4 .8 4.2-1.3 4-.7z"/><path class="c68" d="M371 448.1l-4.1 .7 4.2-1.2 4.1-.8z"/><path class="c71" d="M375.1 447.3l-4.1 .8 4.2-1.3 4.1-.8z"/><path class="c74" d="M379.2 446.6l-4.1 .7 4.2-1.3 4-.7z"/><path class="c77" d="M383.2 445.9l-4 .7 4.1-1.3 4.1-.7z"/><path class="c79" d="M387.3 445.2l-4.1 .7 4.2-1.3 4.1-.6z"/><path class="c82" d="M391.4 444.6l-4.1 .6 4.2-1.2 4-.6z"/><path class="c85" d="M395.4 444.1l-4 .5 4.1-1.2 4.1-.5z"/><path class="c87" d="M399.5 443.6l-4.1 .5 4.2-1.2 4.1-.5z"/><path class="c89" d="M403.6 443.2l-4.1 .4 4.2-1.2 4-.3z"/><path class="c91" d="M407.6 443l-4 .2 4.1-1.1 4.1-.3z"/><path class="c93" d="M411.7 442.8l-4.1 .2 4.2-1.2 4.1-.1z"/><path class="c95" d="M415.8 442.8l-4.1 0 4.2-1.1 4 0z"/><path class="c96" d="M419.9 442.9l-4.1-.1 4.1-1.1 4.1 .1z"/><path class="c97" d="M423.9 443.1l-4-.2 4.1-1.1 4.1 .2zM428 443.5l-4.1-.4 4.2-1.1 4.1 .4z"/><path class="c98" d="M432.1 444l-4.1-.5 4.2-1.1 4 .5z"/><path class="c97" d="M436.1 444.7l-4-.7 4.1-1.1 4.1 .7zM440.2 445.5l-4.1-.8 4.2-1.1 4.1 .9z"/><path class="c96" d="M444.3 446.5l-4.1-1 4.2-1 4 1z"/><path class="c95" d="M448.3 447.7l-4-1.2 4.1-1 4.1 1.2z"/><path class="c93" d="M452.4 449l-4.1-1.3 4.2-1 4.1 1.3z"/><path class="c91" d="M456.5 450.5l-4.1-1.5 4.2-1 4 1.5z"/><path class="c89" d="M460.5 452.2l-4-1.7 4.1-1 4.1 1.6z"/><path class="c86" d="M464.6 453.9l-4.1-1.7 4.2-1.1 4.1 1.8z"/><path class="c83" d="M468.7 455.9l-4.1-2 4.2-1 4 1.9z"/><path class="c80" d="M472.8 457.9l-4.1-2 4.1-1.1 4.1 2z"/><path class="c77" d="M476.8 460l-4-2.1 4.1-1.1 4.1 2.1z"/><path class="c30" d="M313.9 457.8l-4.1 .4 4.2-1.1 4.1-.4z"/><path class="c32" d="M318 457.4l-4.1 .4 4.2-1.1 4.1-.5z"/><path class="c34" d="M322 456.9l-4 .5 4.2-1.2 4-.5z"/><path class="c37" d="M326.1 456.4l-4.1 .5 4.2-1.2 4.1-.5z"/><path class="c39" d="M330.2 455.8l-4.1 .6 4.2-1.2 4.1-.6z"/><path class="c42" d="M334.2 455.2l-4 .6 4.2-1.2 4.1-.6z"/><path class="c45" d="M338.3 454.6l-4.1 .6 4.3-1.2 4-.7z"/><path class="c47" d="M342.4 453.9l-4.1 .7 4.2-1.3 4.1-.7z"/><path class="c50" d="M346.5 453.2l-4.1 .7 4.2-1.3 4.1-.7z"/><path class="c53" d="M350.5 452.4l-4 .8 4.2-1.3 4-.8z"/><path class="c56" d="M354.6 451.7l-4.1 .7 4.2-1.3 4.1-.7z"/><path class="c59" d="M358.7 450.9l-4.1 .8 4.2-1.3 4.1-.8z"/><path class="c62" d="M362.8 450.1l-4.1 .8 4.2-1.3 4-.8z"/><path class="c65" d="M366.8 449.3l-4 .8 4.1-1.3 4.1-.7z"/><path class="c69" d="M370.9 448.6l-4.1 .7 4.2-1.2 4.1-.8z"/><path class="c72" d="M375 447.8l-4.1 .8 4.2-1.3 4.1-.7z"/><path class="c74" d="M379 447.1l-4 .7 4.2-1.2 4-.7z"/><path class="c77" d="M383.1 446.4l-4.1 .7 4.2-1.2 4.1-.7z"/><path class="c80" d="M387.2 445.8l-4.1 .6 4.2-1.2 4.1-.6z"/><path class="c83" d="M391.3 445.3l-4.1 .5 4.2-1.2 4-.5z"/><path class="c85" d="M395.3 444.8l-4 .5 4.1-1.2 4.1-.5z"/><path class="c87" d="M399.4 444.4l-4.1 .4 4.2-1.2 4.1-.4z"/><path class="c89" d="M403.5 444.1l-4.1 .3 4.2-1.2 4-.2z"/><path class="c91" d="M407.5 443.9l-4 .2 4.1-1.1 4.1-.2z"/><path class="c93" d="M411.6 443.9l-4.1 0 4.2-1.1 4.1 0z"/><path class="c94" d="M415.7 443.9l-4.1 0 4.2-1.1 4.1 .1z"/><path class="c95" d="M419.8 444.2l-4.1-.3 4.2-1 4 .2z"/><path class="c96" d="M423.8 444.5l-4-.3 4.1-1.1 4.1 .4zM427.9 445.1l-4.1-.6 4.2-1 4.1 .5zM432 445.7l-4.1-.6 4.2-1.1 4 .7z"/><path class="c95" d="M436 446.6l-4-.9 4.1-1 4.1 .8z"/><path class="c94" d="M440.1 447.6l-4.1-1 4.2-1.1 4.1 1z"/><path class="c93" d="M444.2 448.8l-4.1-1.2 4.2-1.1 4 1.2z"/><path class="c92" d="M448.3 450.1l-4.1-1.3 4.1-1.1 4.1 1.3z"/><path class="c90" d="M452.3 451.6l-4-1.5 4.1-1.1 4.1 1.5z"/><path class="c87" d="M456.4 453.3l-4.1-1.7 4.2-1.1 4 1.7z"/><path class="c85" d="M460.5 455l-4.1-1.7 4.1-1.1 4.1 1.7z"/><path class="c82" d="M464.6 457l-4.1-2 4.1-1.1 4.1 2z"/><path class="c78" d="M468.6 459l-4-2 4.1-1.1 4.1 2z"/><path class="c75" d="M472.7 461.1l-4.1-2.1 4.2-1.1 4 2.1z"/><path class="c28" d="M309.7 459l-4.1 .3 4.2-1.1 4.1-.4z"/><path class="c30" d="M313.7 458.6l-4 .4 4.2-1.2 4.1-.4z"/><path class="c32" d="M317.8 458.1l-4.1 .5 4.3-1.2 4-.5z"/><path class="c35" d="M321.9 457.6l-4.1 .5 4.2-1.2 4.1-.5z"/><path class="c37" d="M326 457.1l-4.1 .5 4.2-1.2 4.1-.6z"/><path class="c40" d="M330 456.5l-4 .6 4.2-1.3 4-.6z"/><path class="c42" d="M334.1 455.8l-4.1 .7 4.2-1.3 4.1-.6z"/><path class="c45" d="M338.2 455.2l-4.1 .6 4.2-1.2 4.1-.7z"/><path class="c48" d="M342.3 454.5l-4.1 .7 4.2-1.3 4.1-.7z"/><path class="c51" d="M346.3 453.7l-4 .8 4.2-1.3 4-.8z"/><path class="c54" d="M350.4 453l-4.1 .7 4.2-1.3 4.1-.7z"/><path class="c57" d="M354.5 452.2l-4.1 .8 4.2-1.3 4.1-.8z"/><path class="c60" d="M358.6 451.4l-4.1 .8 4.2-1.3 4.1-.8z"/><path class="c63" d="M362.6 450.6l-4 .8 4.2-1.3 4-.8z"/><path class="c66" d="M366.7 449.9l-4.1 .7 4.2-1.3 4.1-.7z"/><path class="c69" d="M370.8 449.1l-4.1 .8 4.2-1.3 4.1-.8z"/><path class="c72" d="M374.9 448.4l-4.1 .7 4.2-1.3 4-.7z"/><path class="c75" d="M378.9 447.7l-4 .7 4.1-1.3 4.1-.7z"/><path class="c78" d="M383 447.1l-4.1 .6 4.2-1.3 4.1-.6z"/><path class="c81" d="M387.1 446.5l-4.1 .6 4.2-1.3 4.1-.5z"/><path class="c83" d="M391.2 446l-4.1 .5 4.2-1.2 4-.5z"/><path class="c85" d="M395.2 445.6l-4 .4 4.1-1.2 4.1-.4z"/><path class="c88" d="M399.3 445.3l-4.1 .3 4.2-1.2 4.1-.3z"/><path class="c89" d="M403.4 445.1l-4.1 .2 4.2-1.2 4-.2z"/><path class="c91" d="M407.5 445l-4.1 .1 4.1-1.2 4.1 0z"/><path class="c92" d="M411.5 445.1l-4-.1 4.1-1.1 4.1 0z"/><path class="c93" d="M415.6 445.3l-4.1-.2 4.2-1.2 4.1 .3z"/><path class="c94" d="M419.7 445.6l-4.1-.3 4.2-1.1 4 .3zM423.7 446.1l-4-.5 4.1-1.1 4.1 .6zM427.8 446.8l-4.1-.7 4.2-1 4.1 .6zM431.9 447.7l-4.1-.9 4.2-1.1 4 .9z"/><path class="c93" d="M436 448.7l-4.1-1 4.1-1.1 4.1 1z"/><path class="c91" d="M440 449.8l-4-1.1 4.1-1.1 4.1 1.2z"/><path class="c90" d="M444.1 451.2l-4.1-1.4 4.2-1 4.1 1.3z"/><path class="c88" d="M448.2 452.7l-4.1-1.5 4.2-1.1 4 1.5z"/><path class="c86" d="M452.3 454.4l-4.1-1.7 4.1-1.1 4.1 1.7z"/><path class="c83" d="M456.3 456.2l-4-1.8 4.1-1.1 4.1 1.7z"/><path class="c80" d="M460.4 458.1l-4.1-1.9 4.2-1.2 4.1 2z"/><path class="c77" d="M464.5 460.1l-4.1-2 4.2-1.1 4 2z"/><path class="c73" d="M468.6 462.3l-4.1-2.2 4.1-1.1 4.1 2.1z"/><path class="c26" d="M305.4 460.1l-4 .3 4.2-1.1 4.1-.3z"/><path class="c28" d="M309.5 459.7l-4.1 .4 4.3-1.1 4-.4z"/><path class="c30" d="M313.6 459.3l-4.1 .4 4.2-1.1 4.1-.5z"/><path class="c33" d="M317.7 458.8l-4.1 .5 4.2-1.2 4.1-.5z"/><path class="c35" d="M321.8 458.3l-4.1 .5 4.2-1.2 4.1-.5z"/><path class="c38" d="M325.8 457.7l-4 .6 4.2-1.2 4-.6z"/><path class="c40" d="M329.9 457.1l-4.1 .6 4.2-1.2 4.1-.7z"/><path class="c43" d="M334 456.5l-4.1 .6 4.2-1.3 4.1-.6z"/><path class="c46" d="M338.1 455.8l-4.1 .7 4.2-1.3 4.1-.7z"/><path class="c49" d="M342.1 455l-4 .8 4.2-1.3 4-.8z"/><path class="c52" d="M346.2 454.3l-4.1 .7 4.2-1.3 4.1-.7z"/><path class="c55" d="M350.3 453.5l-4.1 .8 4.2-1.3 4.1-.8z"/><path class="c58" d="M354.4 452.7l-4.1 .8 4.2-1.3 4.1-.8z"/><path class="c61" d="M358.4 451.9l-4 .8 4.2-1.3 4-.8z"/><path class="c64" d="M362.5 451.2l-4.1 .7 4.2-1.3 4.1-.7z"/><path class="c67" d="M366.6 450.4l-4.1 .8 4.2-1.3 4.1-.8z"/><path class="c70" d="M370.7 449.7l-4.1 .7 4.2-1.3 4.1-.7z"/><path class="c73" d="M374.7 449l-4 .7 4.2-1.3 4-.7z"/><path class="c76" d="M378.8 448.3l-4.1 .7 4.2-1.3 4.1-.6z"/><path class="c79" d="M382.9 447.7l-4.1 .6 4.2-1.2 4.1-.6z"/><path class="c81" d="M387 447.2l-4.1 .5 4.2-1.2 4.1-.5z"/><path class="c83" d="M391.1 446.8l-4.1 .4 4.2-1.2 4-.4z"/><path class="c86" d="M395.1 446.4l-4 .4 4.1-1.2 4.1-.3z"/><path class="c88" d="M399.2 446.2l-4.1 .2 4.2-1.1 4.1-.2z"/><path class="c89" d="M403.3 446.1l-4.1 .1 4.2-1.1 4.1-.1z"/><path class="c90" d="M407.4 446.2l-4.1-.1 4.2-1.1 4 .1z"/><path class="c91" d="M411.4 446.4l-4-.2 4.1-1.1 4.1 .2z"/><path class="c92" d="M415.5 446.7l-4.1-.3 4.2-1.1 4.1 .3zM419.6 447.2l-4.1-.5 4.2-1.1 4 .5zM423.7 447.9l-4.1-.7 4.1-1.1 4.1 .7zM427.7 448.7l-4-.8 4.1-1.1 4.1 .9z"/><path class="c91" d="M431.8 449.8l-4.1-1.1 4.2-1 4.1 1z"/><path class="c90" d="M435.9 450.9l-4.1-1.1 4.2-1.1 4 1.1z"/><path class="c88" d="M440 452.3l-4.1-1.4 4.1-1.1 4.1 1.4z"/><path class="c86" d="M444 453.8l-4-1.5 4.1-1.1 4.1 1.5z"/><path class="c84" d="M448.1 455.5l-4.1-1.7 4.2-1.1 4.1 1.7z"/><path class="c81" d="M452.2 457.3l-4.1-1.8 4.2-1.1 4 1.8z"/><path class="c78" d="M456.3 459.2l-4.1-1.9 4.1-1.1 4.1 1.9z"/><path class="c75" d="M460.4 461.3l-4.1-2.1 4.1-1.1 4.1 2z"/><path class="c71" d="M464.4 463.5l-4-2.2 4.1-1.2 4.1 2.2z"/><path class="c24" d="M301.2 461.2l-4 .3 4.2-1.1 4-.3z"/><path class="c26" d="M305.3 460.9l-4.1 .3 4.2-1.1 4.1-.4z"/><path class="c28" d="M309.4 460.5l-4.1 .4 4.2-1.2 4.1-.4z"/><path class="c31" d="M313.5 460.1l-4.1 .4 4.2-1.2 4.1-.5z"/><path class="c33" d="M317.5 459.6l-4 .5 4.2-1.3 4.1-.5z"/><path class="c35" d="M321.6 459l-4.1 .6 4.3-1.3 4-.6z"/><path class="c38" d="M325.7 458.4l-4.1 .6 4.2-1.3 4.1-.6z"/><path class="c41" d="M329.8 457.8l-4.1 .6 4.2-1.3 4.1-.6z"/><path class="c44" d="M333.9 457.1l-4.1 .7 4.2-1.3 4.1-.7z"/><path class="c47" d="M337.9 456.4l-4 .7 4.2-1.3 4-.8z"/><path class="c50" d="M342 455.6l-4.1 .8 4.2-1.4 4.1-.7z"/><path class="c53" d="M346.1 454.9l-4.1 .7 4.2-1.3 4.1-.8z"/><path class="c56" d="M350.2 454.1l-4.1 .8 4.2-1.4 4.1-.8z"/><path class="c59" d="M354.3 453.3l-4.1 .8 4.2-1.4 4-.8z"/><path class="c62" d="M358.3 452.5l-4 .8 4.1-1.4 4.1-.7z"/><path class="c65" d="M362.4 451.7l-4.1 .8 4.2-1.3 4.1-.8z"/><path class="c68" d="M366.5 451l-4.1 .7 4.2-1.3 4.1-.7z"/><path class="c71" d="M370.6 450.3l-4.1 .7 4.2-1.3 4-.7z"/><path class="c74" d="M374.6 449.6l-4 .7 4.1-1.3 4.1-.7z"/><path class="c76" d="M378.7 449l-4.1 .6 4.2-1.3 4.1-.6z"/><path class="c79" d="M382.8 448.4l-4.1 .6 4.2-1.3 4.1-.5z"/><path class="c81" d="M386.9 448l-4.1 .4 4.2-1.2 4.1-.4z"/><path class="c84" d="M391 447.6l-4.1 .4 4.2-1.2 4-.4z"/><path class="c86" d="M395 447.4l-4 .2 4.1-1.2 4.1-.2z"/><path class="c87" d="M399.1 447.3l-4.1 .1 4.2-1.2 4.1-.1z"/><path class="c89" d="M403.2 447.3l-4.1 0 4.2-1.2 4.1 .1z"/><path class="c90" d="M407.3 447.5l-4.1-.2 4.2-1.1 4 .2zM411.4 447.8l-4.1-.3 4.1-1.1 4.1 .3z"/><path class="c91" d="M415.4 448.3l-4-.5 4.1-1.1 4.1 .5zM419.5 449l-4.1-.7 4.2-1.1 4.1 .7z"/><path class="c90" d="M423.6 449.8l-4.1-.8 4.2-1.1 4 .8z"/><path class="c89" d="M427.7 450.9l-4.1-1.1 4.1-1.1 4.1 1.1z"/><path class="c88" d="M431.7 452l-4-1.1 4.1-1.1 4.1 1.1z"/><path class="c86" d="M435.8 453.4l-4.1-1.4 4.2-1.1 4.1 1.4z"/><path class="c84" d="M439.9 454.9l-4.1-1.5 4.2-1.1 4 1.5z"/><path class="c82" d="M444 456.6l-4.1-1.7 4.1-1.1 4.1 1.7z"/><path class="c79" d="M448.1 458.4l-4.1-1.8 4.1-1.1 4.1 1.8z"/><path class="c76" d="M452.1 460.4l-4-2 4.1-1.1 4.1 1.9z"/><path class="c73" d="M456.2 462.5l-4.1-2.1 4.2-1.2 4.1 2.1z"/><path class="c69" d="M460.3 464.7l-4.1-2.2 4.2-1.2 4 2.2z"/><path class="c22" d="M297 462.4l-4.1 .2 4.3-1.1 4-.3z"/><path class="c24" d="M301.1 462.1l-4.1 .3 4.2-1.2 4.1-.3z"/><path class="c26" d="M305.2 461.7l-4.1 .4 4.2-1.2 4.1-.4z"/><path class="c28" d="M309.3 461.3l-4.1 .4 4.2-1.2 4.1-.4z"/><path class="c31" d="M313.3 460.8l-4 .5 4.2-1.2 4-.5z"/><path class="c33" d="M317.4 460.3l-4.1 .5 4.2-1.2 4.1-.6z"/><path class="c36" d="M321.5 459.7l-4.1 .6 4.2-1.3 4.1-.6z"/><path class="c39" d="M325.6 459.1l-4.1 .6 4.2-1.3 4.1-.6z"/><path class="c41" d="M329.7 458.4l-4.1 .7 4.2-1.3 4.1-.7z"/><path class="c44" d="M333.7 457.7l-4 .7 4.2-1.3 4-.7z"/><path class="c47" d="M337.8 457l-4.1 .7 4.2-1.3 4.1-.8z"/><path class="c50" d="M341.9 456.2l-4.1 .8 4.2-1.4 4.1-.7z"/><path class="c53" d="M346 455.4l-4.1 .8 4.2-1.3 4.1-.8z"/><path class="c56" d="M350.1 454.6l-4.1 .8 4.2-1.3 4.1-.8z"/><path class="c59" d="M354.1 453.8l-4 .8 4.2-1.3 4-.8z"/><path class="c63" d="M358.2 453.1l-4.1 .7 4.2-1.3 4.1-.8z"/><path class="c66" d="M362.3 452.3l-4.1 .8 4.2-1.4 4.1-.7z"/><path class="c69" d="M366.4 451.6l-4.1 .7 4.2-1.3 4.1-.7z"/><path class="c72" d="M370.5 450.9l-4.1 .7 4.2-1.3 4-.7z"/><path class="c74" d="M374.5 450.3l-4 .6 4.1-1.3 4.1-.6z"/><path class="c77" d="M378.6 449.7l-4.1 .6 4.2-1.3 4.1-.6z"/><path class="c79" d="M382.7 449.2l-4.1 .5 4.2-1.3 4.1-.4z"/><path class="c82" d="M386.8 448.9l-4.1 .3 4.2-1.2 4.1-.4z"/><path class="c84" d="M390.9 448.6l-4.1 .3 4.2-1.3 4-.2z"/><path class="c85" d="M395 448.5l-4.1 .1 4.1-1.2 4.1-.1z"/><path class="c87" d="M399 448.5l-4 0 4.1-1.2 4.1 0z"/><path class="c88" d="M403.1 448.7l-4.1-.2 4.2-1.2 4.1 .2zM407.2 449l-4.1-.3 4.2-1.2 4.1 .3z"/><path class="c89" d="M411.3 449.5l-4.1-.5 4.2-1.2 4 .5zM415.4 450.1l-4.1-.6 4.1-1.2 4.1 .7z"/><path class="c88" d="M419.4 451l-4-.9 4.1-1.1 4.1 .8z"/><path class="c87" d="M423.5 452l-4.1-1 4.2-1.2 4.1 1.1z"/><path class="c86" d="M427.6 453.2l-4.1-1.2 4.2-1.1 4 1.1z"/><path class="c85" d="M431.7 454.5l-4.1-1.3 4.1-1.2 4.1 1.4z"/><path class="c83" d="M435.8 456.1l-4.1-1.6 4.1-1.1 4.1 1.5z"/><path class="c80" d="M439.8 457.8l-4-1.7 4.1-1.2 4.1 1.7z"/><path class="c77" d="M443.9 459.6l-4.1-1.8 4.2-1.2 4.1 1.8z"/><path class="c74" d="M448 461.6l-4.1-2 4.2-1.2 4 2z"/><path class="c71" d="M452.1 463.7l-4.1-2.1 4.1-1.2 4.1 2.1z"/><path class="c67" d="M456.2 465.9l-4.1-2.2 4.1-1.2 4.1 2.2z"/><path class="c20" d="M292.8 463.5l-4.1 .2 4.2-1.1 4.1-.2z"/><path class="c22" d="M296.9 463.2l-4.1 .3 4.2-1.1 4.1-.3z"/><path class="c24" d="M301 462.9l-4.1 .3 4.2-1.1 4.1-.4z"/><path class="c26" d="M305 462.5l-4 .4 4.2-1.2 4.1-.4z"/><path class="c29" d="M309.1 462.1l-4.1 .4 4.3-1.2 4-.5z"/><path class="c31" d="M313.2 461.6l-4.1 .5 4.2-1.3 4.1-.5z"/><path class="c34" d="M317.3 461l-4.1 .6 4.2-1.3 4.1-.6z"/><path class="c36" d="M321.4 460.4l-4.1 .6 4.2-1.3 4.1-.6z"/><path class="c39" d="M325.5 459.8l-4.1 .6 4.2-1.3 4.1-.7z"/><path class="c42" d="M329.5 459.1l-4 .7 4.2-1.4 4-.7z"/><path class="c45" d="M333.6 458.4l-4.1 .7 4.2-1.4 4.1-.7z"/><path class="c48" d="M337.7 457.6l-4.1 .8 4.2-1.4 4.1-.8z"/><path class="c51" d="M341.8 456.8l-4.1 .8 4.2-1.4 4.1-.8z"/><path class="c54" d="M345.9 456l-4.1 .8 4.2-1.4 4.1-.8z"/><path class="c57" d="M350 455.2l-4.1 .8 4.2-1.4 4-.8z"/><path class="c60" d="M354 454.4l-4 .8 4.1-1.4 4.1-.7z"/><path class="c63" d="M358.1 453.7l-4.1 .7 4.2-1.3 4.1-.8z"/><path class="c66" d="M362.2 452.9l-4.1 .8 4.2-1.4 4.1-.7z"/><path class="c69" d="M366.3 452.2l-4.1 .7 4.2-1.3 4.1-.7z"/><path class="c72" d="M370.4 451.6l-4.1 .6 4.2-1.3 4-.6z"/><path class="c75" d="M374.5 451l-4.1 .6 4.1-1.3 4.1-.6z"/><path class="c77" d="M378.5 450.5l-4 .5 4.1-1.3 4.1-.5z"/><path class="c80" d="M382.6 450.1l-4.1 .4 4.2-1.3 4.1-.3z"/><path class="c82" d="M386.7 449.8l-4.1 .3 4.2-1.2 4.1-.3z"/><path class="c83" d="M390.8 449.7l-4.1 .1 4.2-1.2 4.1-.1z"/><path class="c85" d="M394.9 449.7l-4.1 0 4.2-1.2 4 0z"/><path class="c86" d="M399 449.8l-4.1-.1 4.1-1.2 4.1 .2z"/><path class="c87" d="M403 450.1l-4-.3 4.1-1.1 4.1 .3zM407.1 450.6l-4.1-.5 4.2-1.1 4.1 .5zM411.2 451.3l-4.1-.7 4.2-1.1 4.1 .6zM415.3 452.1l-4.1-.8 4.2-1.2 4 .9z"/><path class="c86" d="M419.4 453.1l-4.1-1 4.1-1.1 4.1 1z"/><path class="c84" d="M423.5 454.3l-4.1-1.2 4.1-1.1 4.1 1.2z"/><path class="c83" d="M427.5 455.7l-4-1.4 4.1-1.1 4.1 1.3z"/><path class="c81" d="M431.6 457.2l-4.1-1.5 4.2-1.2 4.1 1.6z"/><path class="c78" d="M435.7 458.9l-4.1-1.7 4.2-1.1 4 1.7z"/><path class="c75" d="M439.8 460.8l-4.1-1.9 4.1-1.1 4.1 1.8z"/><path class="c72" d="M443.9 462.8l-4.1-2 4.1-1.2 4.1 2z"/><path class="c69" d="M448 464.9l-4.1-2.1 4.1-1.2 4.1 2.1z"/><path class="c65" d="M452 467.1l-4-2.2 4.1-1.2 4.1 2.2z"/><path class="c19" d="M288.6 464.6l-4.1 .2 4.2-1.1 4.1-.2z"/><path class="c20" d="M292.7 464.4l-4.1 .2 4.2-1.1 4.1-.3z"/><path class="c22" d="M296.7 464.1l-4 .3 4.2-1.2 4.1-.3z"/><path class="c24" d="M300.8 463.7l-4.1 .4 4.3-1.2 4-.4z"/><path class="c27" d="M304.9 463.3l-4.1 .4 4.2-1.2 4.1-.4z"/><path class="c29" d="M309 462.9l-4.1 .4 4.2-1.2 4.1-.5z"/><path class="c31" d="M313.1 462.3l-4.1 .6 4.2-1.3 4.1-.6z"/><path class="c34" d="M317.2 461.8l-4.1 .5 4.2-1.3 4.1-.6z"/><path class="c37" d="M321.3 461.1l-4.1 .7 4.2-1.4 4.1-.6z"/><path class="c40" d="M325.3 460.5l-4 .6 4.2-1.3 4-.7z"/><path class="c42" d="M329.4 459.7l-4.1 .8 4.2-1.4 4.1-.7z"/><path class="c45" d="M333.5 459l-4.1 .7 4.2-1.3 4.1-.8z"/><path class="c48" d="M337.6 458.2l-4.1 .8 4.2-1.4 4.1-.8z"/><path class="c52" d="M341.7 457.4l-4.1 .8 4.2-1.4 4.1-.8z"/><path class="c55" d="M345.8 456.6l-4.1 .8 4.2-1.4 4.1-.8z"/><path class="c58" d="M349.9 455.8l-4.1 .8 4.2-1.4 4-.8z"/><path class="c61" d="M353.9 455l-4 .8 4.1-1.4 4.1-.7z"/><path class="c64" d="M358 454.3l-4.1 .7 4.2-1.3 4.1-.8z"/><path class="c67" d="M362.1 453.6l-4.1 .7 4.2-1.4 4.1-.7z"/><path class="c70" d="M366.2 452.9l-4.1 .7 4.2-1.4 4.1-.6z"/><path class="c73" d="M370.3 452.3l-4.1 .6 4.2-1.3 4.1-.6z"/><path class="c75" d="M374.4 451.8l-4.1 .5 4.2-1.3 4-.5z"/><path class="c77" d="M378.5 451.4l-4.1 .4 4.1-1.3 4.1-.4z"/><path class="c79" d="M382.5 451.1l-4 .3 4.1-1.3 4.1-.3z"/><path class="c81" d="M386.6 450.9l-4.1 .2 4.2-1.3 4.1-.1z"/><path class="c83" d="M390.7 450.9l-4.1 0 4.2-1.2 4.1 0z"/><path class="c84" d="M394.8 451l-4.1-.1 4.2-1.2 4.1 .1z"/><path class="c85" d="M398.9 451.3l-4.1-.3 4.2-1.2 4 .3zM403 451.8l-4.1-.5 4.1-1.2 4.1 .5zM407 452.4l-4-.6 4.1-1.2 4.1 .7zM411.1 453.2l-4.1-.8 4.2-1.1 4.1 .8z"/><path class="c84" d="M415.2 454.3l-4.1-1.1 4.2-1.1 4.1 1z"/><path class="c83" d="M419.3 455.5l-4.1-1.2 4.2-1.2 4.1 1.2z"/><path class="c81" d="M423.4 456.9l-4.1-1.4 4.2-1.2 4 1.4z"/><path class="c79" d="M427.5 458.4l-4.1-1.5 4.1-1.2 4.1 1.5z"/><path class="c76" d="M431.6 460.1l-4.1-1.7 4.1-1.2 4.1 1.7z"/><path class="c73" d="M435.6 462l-4-1.9 4.1-1.2 4.1 1.9z"/><path class="c70" d="M439.7 464l-4.1-2 4.2-1.2 4.1 2z"/><path class="c67" d="M443.8 466.1l-4.1-2.1 4.2-1.2 4.1 2.1z"/><path class="c63" d="M447.9 468.3l-4.1-2.2 4.2-1.2 4 2.2z"/><path class="c17" d="M284.3 465.7l-4 .2 4.2-1.1 4.1-.2z"/><path class="c19" d="M288.4 465.5l-4.1 .2 4.3-1.1 4.1-.2z"/><path class="c20" d="M292.5 465.3l-4.1 .2 4.3-1.1 4-.3z"/><path class="c22" d="M296.6 465l-4.1 .3 4.2-1.2 4.1-.4z"/><path class="c25" d="M300.7 464.6l-4.1 .4 4.2-1.3 4.1-.4z"/><path class="c27" d="M304.8 464.1l-4.1 .5 4.2-1.3 4.1-.4z"/><path class="c29" d="M308.9 463.7l-4.1 .4 4.2-1.2 4.1-.6z"/><path class="c32" d="M313 463.1l-4.1 .6 4.2-1.4 4.1-.5z"/><path class="c34" d="M317.1 462.5l-4.1 .6 4.2-1.3 4.1-.7z"/><path class="c37" d="M321.1 461.8l-4 .7 4.2-1.4 4-.6z"/><path class="c40" d="M325.2 461.1l-4.1 .7 4.2-1.3 4.1-.8z"/><path class="c43" d="M329.3 460.4l-4.1 .7 4.2-1.4 4.1-.7z"/><path class="c46" d="M333.4 459.6l-4.1 .8 4.2-1.4 4.1-.8z"/><path class="c49" d="M337.5 458.9l-4.1 .7 4.2-1.4 4.1-.8z"/><path class="c52" d="M341.6 458l-4.1 .9 4.2-1.5 4.1-.8z"/><path class="c55" d="M345.7 457.2l-4.1 .8 4.2-1.4 4.1-.8z"/><path class="c58" d="M349.8 456.4l-4.1 .8 4.2-1.4 4-.8z"/><path class="c62" d="M353.8 455.7l-4 .7 4.1-1.4 4.1-.7z"/><path class="c65" d="M357.9 454.9l-4.1 .8 4.2-1.4 4.1-.7z"/><path class="c67" d="M362 454.2l-4.1 .7 4.2-1.3 4.1-.7z"/><path class="c70" d="M366.1 453.6l-4.1 .6 4.2-1.3 4.1-.6z"/><path class="c73" d="M370.2 453.1l-4.1 .5 4.2-1.3 4.1-.5z"/><path class="c75" d="M374.3 452.6l-4.1 .5 4.2-1.3 4.1-.4z"/><path class="c77" d="M378.4 452.3l-4.1 .3 4.2-1.2 4-.3z"/><path class="c79" d="M382.5 452.1l-4.1 .2 4.1-1.2 4.1-.2z"/><path class="c81" d="M386.5 452.1l-4 0 4.1-1.2 4.1 0z"/><path class="c82" d="M390.6 452.2l-4.1-.1 4.2-1.2 4.1 .1z"/><path class="c83" d="M394.7 452.5l-4.1-.3 4.2-1.2 4.1 .3zM398.8 452.9l-4.1-.4 4.2-1.2 4.1 .5zM402.9 453.6l-4.1-.7 4.2-1.1 4 .6zM407 454.4l-4.1-.8 4.1-1.2 4.1 .8z"/><path class="c82" d="M411.1 455.4l-4.1-1 4.1-1.2 4.1 1.1z"/><path class="c81" d="M415.2 456.7l-4.1-1.3 4.1-1.1 4.1 1.2z"/><path class="c79" d="M419.2 458.1l-4-1.4 4.1-1.2 4.1 1.4z"/><path class="c77" d="M423.3 459.6l-4.1-1.5 4.2-1.2 4.1 1.5z"/><path class="c74" d="M427.4 461.4l-4.1-1.8 4.2-1.2 4.1 1.7z"/><path class="c71" d="M431.5 463.2l-4.1-1.8 4.2-1.3 4 1.9z"/><path class="c68" d="M435.6 465.3l-4.1-2.1 4.1-1.2 4.1 2z"/><path class="c65" d="M439.7 467.4l-4.1-2.1 4.1-1.3 4.1 2.1z"/><path class="c61" d="M443.8 469.6l-4.1-2.2 4.1-1.3 4.1 2.2z"/><path class="c15" d="M280.1 466.8l-4.1 .1 4.3-1 4-.2z"/><path class="c17" d="M284.2 466.7l-4.1 .1 4.2-1.1 4.1-.2z"/><path class="c19" d="M288.3 466.5l-4.1 .2 4.2-1.2 4.1-.2z"/><path class="c20" d="M292.4 466.2l-4.1 .3 4.2-1.2 4.1-.3z"/><path class="c22" d="M296.5 465.8l-4.1 .4 4.2-1.2 4.1-.4z"/><path class="c25" d="M300.6 465.4l-4.1 .4 4.2-1.2 4.1-.5z"/><path class="c27" d="M304.7 465l-4.1 .4 4.2-1.3 4.1-.4z"/><path class="c29" d="M308.8 464.5l-4.1 .5 4.2-1.3 4.1-.6z"/><path class="c32" d="M312.9 463.9l-4.1 .6 4.2-1.4 4.1-.6z"/><path class="c35" d="M316.9 463.2l-4.1 .7 4.3-1.4 4-.7z"/><path class="c38" d="M321 462.6l-4.1 .6 4.2-1.4 4.1-.7z"/><path class="c40" d="M325.1 461.8l-4.1 .8 4.2-1.5 4.1-.7z"/><path class="c43" d="M329.2 461.1l-4.1 .7 4.2-1.4 4.1-.8z"/><path class="c47" d="M333.3 460.3l-4.1 .8 4.2-1.5 4.1-.7z"/><path class="c50" d="M337.4 459.5l-4.1 .8 4.2-1.4 4.1-.9z"/><path class="c53" d="M341.5 458.7l-4.1 .8 4.2-1.5 4.1-.8z"/><path class="c56" d="M345.6 457.9l-4.1 .8 4.2-1.5 4.1-.8z"/><path class="c59" d="M349.7 457.1l-4.1 .8 4.2-1.5 4-.7z"/><path class="c62" d="M353.7 456.3l-4 .8 4.1-1.4 4.1-.8z"/><path class="c65" d="M357.8 455.6l-4.1 .7 4.2-1.4 4.1-.7z"/><path class="c68" d="M361.9 455l-4.1 .6 4.2-1.4 4.1-.6z"/><path class="c71" d="M366 454.4l-4.1 .6 4.2-1.4 4.1-.5z"/><path class="c73" d="M370.1 454l-4.1 .4 4.2-1.3 4.1-.5z"/><path class="c75" d="M374.2 453.6l-4.1 .4 4.2-1.4 4.1-.3z"/><path class="c77" d="M378.3 453.4l-4.1 .2 4.2-1.3 4.1-.2z"/><path class="c79" d="M382.4 453.3l-4.1 .1 4.2-1.3 4 0z"/><path class="c80" d="M386.5 453.4l-4.1-.1 4.1-1.2 4.1 .1z"/><path class="c81" d="M390.6 453.7l-4.1-.3 4.1-1.2 4.1 .3zM394.6 454.1l-4-.4 4.1-1.2 4.1 .4zM398.7 454.8l-4.1-.7 4.2-1.2 4.1 .7zM402.8 455.6l-4.1-.8 4.2-1.2 4.1 .8z"/><path class="c80" d="M406.9 456.6l-4.1-1 4.2-1.2 4.1 1z"/><path class="c79" d="M411 457.9l-4.1-1.3 4.2-1.2 4.1 1.3z"/><path class="c77" d="M415.1 459.3l-4.1-1.4 4.2-1.2 4 1.4z"/><path class="c75" d="M419.2 460.9l-4.1-1.6 4.1-1.2 4.1 1.5z"/><path class="c72" d="M423.3 462.6l-4.1-1.7 4.1-1.3 4.1 1.8z"/><path class="c69" d="M427.4 464.5l-4.1-1.9 4.1-1.2 4.1 1.8z"/><path class="c66" d="M431.5 466.5l-4.1-2 4.1-1.3 4.1 2.1z"/><path class="c63" d="M435.6 468.7l-4.1-2.2 4.1-1.2 4.1 2.1z"/><path class="c59" d="M439.6 470.9l-4-2.2 4.1-1.3 4.1 2.2z"/><path class="c13" d="M275.9 467.9l-4.1 .1 4.2-1.1 4.1-.1z"/><path class="c15" d="M280 467.8l-4.1 .1 4.2-1.1 4.1-.1z"/><path class="c17" d="M284.1 467.6l-4.1 .2 4.2-1.1 4.1-.2z"/><path class="c18" d="M288.2 467.4l-4.1 .2 4.2-1.1 4.1-.3z"/><path class="c20" d="M292.3 467.1l-4.1 .3 4.2-1.2 4.1-.4z"/><path class="c23" d="M296.4 466.7l-4.1 .4 4.2-1.3 4.1-.4z"/><path class="c25" d="M300.5 466.3l-4.1 .4 4.2-1.3 4.1-.4z"/><path class="c27" d="M304.6 465.8l-4.1 .5 4.2-1.3 4.1-.5z"/><path class="c30" d="M308.6 465.3l-4 .5 4.2-1.3 4-.6z"/><path class="c32" d="M312.7 464.7l-4.1 .6 4.2-1.4 4.1-.7z"/><path class="c35" d="M316.8 464l-4.1 .7 4.2-1.5 4.1-.6z"/><path class="c38" d="M320.9 463.3l-4.1 .7 4.2-1.4 4.1-.8z"/><path class="c41" d="M325 462.6l-4.1 .7 4.2-1.5 4.1-.7z"/><path class="c44" d="M329.1 461.8l-4.1 .8 4.2-1.5 4.1-.8z"/><path class="c47" d="M333.2 461l-4.1 .8 4.2-1.5 4.1-.8z"/><path class="c50" d="M337.3 460.2l-4.1 .8 4.2-1.5 4.1-.8z"/><path class="c53" d="M341.4 459.3l-4.1 .9 4.2-1.5 4.1-.8z"/><path class="c57" d="M345.5 458.5l-4.1 .8 4.2-1.4 4.1-.8z"/><path class="c60" d="M349.6 457.8l-4.1 .7 4.2-1.4 4-.8z"/><path class="c63" d="M353.7 457l-4.1 .8 4.1-1.5 4.1-.7z"/><path class="c65" d="M357.8 456.4l-4.1 .6 4.1-1.4 4.1-.6z"/><path class="c68" d="M361.8 455.8l-4 .6 4.1-1.4 4.1-.6z"/><path class="c71" d="M365.9 455.3l-4.1 .5 4.2-1.4 4.1-.4z"/><path class="c73" d="M370 454.9l-4.1 .4 4.2-1.3 4.1-.4z"/><path class="c75" d="M374.1 454.7l-4.1 .2 4.2-1.3 4.1-.2z"/><path class="c77" d="M378.2 454.6l-4.1 .1 4.2-1.3 4.1-.1z"/><path class="c78" d="M382.3 454.7l-4.1-.1 4.2-1.3 4.1 .1z"/><path class="c79" d="M386.4 454.9l-4.1-.2 4.2-1.3 4.1 .3zM390.5 455.4l-4.1-.5 4.2-1.2 4 .4zM394.6 456l-4.1-.6 4.1-1.3 4.1 .7zM398.7 456.8l-4.1-.8 4.1-1.2 4.1 .8z"/><path class="c78" d="M402.8 457.9l-4.1-1.1 4.1-1.2 4.1 1z"/><path class="c77" d="M406.9 459.1l-4.1-1.2 4.1-1.3 4.1 1.3z"/><path class="c75" d="M411 460.5l-4.1-1.4 4.1-1.2 4.1 1.4z"/><path class="c73" d="M415 462.1l-4-1.6 4.1-1.2 4.1 1.6z"/><path class="c70" d="M419.1 463.9l-4.1-1.8 4.2-1.2 4.1 1.7z"/><path class="c67" d="M423.2 465.8l-4.1-1.9 4.2-1.3 4.1 1.9z"/><path class="c64" d="M427.3 467.9l-4.1-2.1 4.2-1.3 4.1 2z"/><path class="c60" d="M431.4 470l-4.1-2.1 4.2-1.4 4.1 2.2z"/><path class="c57" d="M435.5 472.3l-4.1-2.3 4.2-1.3 4 2.2z"/><path class="c12" d="M271.7 468.9l-4.1 .1 4.2-1 4.1-.1z"/><path class="c13" d="M275.8 468.9l-4.1 0 4.2-1 4.1-.1z"/><path class="c15" d="M279.9 468.8l-4.1 .1 4.2-1.1 4.1-.2z"/><path class="c17" d="M284 468.6l-4.1 .2 4.2-1.2 4.1-.2z"/><path class="c18" d="M288.1 468.3l-4.1 .3 4.2-1.2 4.1-.3z"/><path class="c20" d="M292.2 468l-4.1 .3 4.2-1.2 4.1-.4z"/><path class="c23" d="M296.3 467.6l-4.1 .4 4.2-1.3 4.1-.4z"/><path class="c25" d="M300.4 467.2l-4.1 .4 4.2-1.3 4.1-.5z"/><path class="c27" d="M304.4 466.7l-4 .5 4.2-1.4 4-.5z"/><path class="c30" d="M308.5 466.1l-4.1 .6 4.2-1.4 4.1-.6z"/><path class="c33" d="M312.6 465.5l-4.1 .6 4.2-1.4 4.1-.7z"/><path class="c35" d="M316.7 464.8l-4.1 .7 4.2-1.5 4.1-.7z"/><path class="c38" d="M320.8 464l-4.1 .8 4.2-1.5 4.1-.7z"/><path class="c41" d="M324.9 463.3l-4.1 .7 4.2-1.4 4.1-.8z"/><path class="c44" d="M329 462.5l-4.1 .8 4.2-1.5 4.1-.8z"/><path class="c48" d="M333.1 461.7l-4.1 .8 4.2-1.5 4.1-.8z"/><path class="c51" d="M337.2 460.8l-4.1 .9 4.2-1.5 4.1-.9z"/><path class="c54" d="M341.3 460l-4.1 .8 4.2-1.5 4.1-.8z"/><path class="c57" d="M345.4 459.2l-4.1 .8 4.2-1.5 4.1-.7z"/><path class="c60" d="M349.5 458.5l-4.1 .7 4.2-1.4 4.1-.8z"/><path class="c63" d="M353.6 457.8l-4.1 .7 4.2-1.5 4.1-.6z"/><path class="c66" d="M357.7 457.2l-4.1 .6 4.2-1.4 4-.6z"/><path class="c68" d="M361.8 456.7l-4.1 .5 4.1-1.4 4.1-.5z"/><path class="c71" d="M365.9 456.3l-4.1 .4 4.1-1.4 4.1-.4z"/><path class="c73" d="M370 456l-4.1 .3 4.1-1.4 4.1-.2z"/><path class="c74" d="M374.1 455.9l-4.1 .1 4.1-1.3 4.1-.1z"/><path class="c76" d="M378.1 456l-4-.1 4.1-1.3 4.1 .1z"/><path class="c77" d="M382.2 456.2l-4.1-.2 4.2-1.3 4.1 .2zM386.3 456.6l-4.1-.4 4.2-1.3 4.1 .5zM390.4 457.2l-4.1-.6 4.2-1.2 4.1 .6zM394.5 458.1l-4.1-.9 4.2-1.2 4.1 .8z"/><path class="c76" d="M398.6 459.1l-4.1-1 4.2-1.3 4.1 1.1z"/><path class="c75" d="M402.7 460.3l-4.1-1.2 4.2-1.2 4.1 1.2z"/><path class="c73" d="M406.8 461.8l-4.1-1.5 4.2-1.2 4.1 1.4z"/><path class="c71" d="M410.9 463.4l-4.1-1.6 4.2-1.3 4 1.6z"/><path class="c68" d="M415 465.2l-4.1-1.8 4.1-1.3 4.1 1.8z"/><path class="c65" d="M419.1 467.1l-4.1-1.9 4.1-1.3 4.1 1.9z"/><path class="c62" d="M423.2 469.2l-4.1-2.1 4.1-1.3 4.1 2.1z"/><path class="c58" d="M427.3 471.4l-4.1-2.2 4.1-1.3 4.1 2.1z"/><path class="c54" d="M431.4 473.6l-4.1-2.2 4.1-1.4 4.1 2.3z"/><path class="c10" d="M267.5 470l-4.1-.1 4.2-.9 4.1-.1z"/><path class="c12" d="M271.6 470l-4.1 0 4.2-1.1 4.1 0z"/><path class="c13" d="M275.7 469.9l-4.1 .1 4.2-1.1 4.1-.1z"/><path class="c15" d="M279.8 469.7l-4.1 .2 4.2-1.1 4.1-.2z"/><path class="c16" d="M283.9 469.5l-4.1 .2 4.2-1.1 4.1-.3z"/><path class="c18" d="M288 469.3l-4.1 .2 4.2-1.2 4.1-.3z"/><path class="c20" d="M292.1 468.9l-4.1 .4 4.2-1.3 4.1-.4z"/><path class="c22" d="M296.1 468.5l-4 .4 4.2-1.3 4.1-.4z"/><path class="c25" d="M300.2 468.1l-4.1 .4 4.3-1.3 4-.5z"/><path class="c27" d="M304.3 467.5l-4.1 .6 4.2-1.4 4.1-.6z"/><path class="c30" d="M308.4 466.9l-4.1 .6 4.2-1.4 4.1-.6z"/><path class="c33" d="M312.5 466.3l-4.1 .6 4.2-1.4 4.1-.7z"/><path class="c36" d="M316.6 465.6l-4.1 .7 4.2-1.5 4.1-.8z"/><path class="c39" d="M320.7 464.8l-4.1 .8 4.2-1.6 4.1-.7z"/><path class="c42" d="M324.8 464l-4.1 .8 4.2-1.5 4.1-.8z"/><path class="c45" d="M328.9 463.2l-4.1 .8 4.2-1.5 4.1-.8z"/><path class="c48" d="M333 462.4l-4.1 .8 4.2-1.5 4.1-.9z"/><path class="c51" d="M337.1 461.5l-4.1 .9 4.2-1.6 4.1-.8z"/><path class="c54" d="M341.2 460.7l-4.1 .8 4.2-1.5 4.1-.8z"/><path class="c57" d="M345.3 460l-4.1 .7 4.2-1.5 4.1-.7z"/><path class="c60" d="M349.4 459.3l-4.1 .7 4.2-1.5 4.1-.7z"/><path class="c63" d="M353.5 458.6l-4.1 .7 4.2-1.5 4.1-.6z"/><path class="c66" d="M357.6 458.1l-4.1 .5 4.2-1.4 4.1-.5z"/><path class="c68" d="M361.7 457.7l-4.1 .4 4.2-1.4 4.1-.4z"/><path class="c70" d="M365.8 457.4l-4.1 .3 4.2-1.4 4.1-.3z"/><path class="c72" d="M369.9 457.2l-4.1 .2 4.2-1.4 4.1-.1z"/><path class="c73" d="M374 457.3l-4.1-.1 4.2-1.3 4 .1z"/><path class="c74" d="M378.1 457.5l-4.1-.2 4.1-1.3 4.1 .2z"/><path class="c75" d="M382.2 457.9l-4.1-.4 4.1-1.3 4.1 .4zM386.3 458.5l-4.1-.6 4.1-1.3 4.1 .6zM390.4 459.3l-4.1-.8 4.1-1.3 4.1 .9z"/><path class="c74" d="M394.5 460.4l-4.1-1.1 4.1-1.2 4.1 1z"/><path class="c72" d="M398.6 461.6l-4.1-1.2 4.1-1.3 4.1 1.2z"/><path class="c71" d="M402.7 463.1l-4.1-1.5 4.1-1.3 4.1 1.5z"/><path class="c68" d="M406.8 464.7l-4.1-1.6 4.1-1.3 4.1 1.6z"/><path class="c66" d="M410.9 466.5l-4.1-1.8 4.1-1.3 4.1 1.8z"/><path class="c63" d="M415 468.5l-4.1-2 4.1-1.3 4.1 1.9z"/><path class="c59" d="M419.1 470.6l-4.1-2.1 4.1-1.4 4.1 2.1z"/><path class="c56" d="M423.1 472.8l-4-2.2 4.1-1.4 4.1 2.2z"/><path class="c52" d="M427.2 475l-4.1-2.2 4.2-1.4 4.1 2.2z"/><path class="c9" d="M263.3 471l-4.1-.1 4.2-1 4.1 .1z"/><path class="c10" d="M267.3 471l-4 0 4.2-1 4.1 0z"/><path class="c11" d="M271.4 471l-4.1 0 4.3-1 4.1-.1z"/><path class="c13" d="M275.5 470.9l-4.1 .1 4.3-1.1 4.1-.2z"/><path class="c14" d="M279.6 470.7l-4.1 .2 4.3-1.2 4.1-.2z"/><path class="c16" d="M283.7 470.5l-4.1 .2 4.3-1.2 4.1-.2z"/><path class="c18" d="M287.8 470.2l-4.1 .3 4.3-1.2 4.1-.4z"/><path class="c20" d="M291.9 469.9l-4.1 .3 4.3-1.3 4-.4z"/><path class="c22" d="M296 469.5l-4.1 .4 4.2-1.4 4.1-.4z"/><path class="c25" d="M300.1 469l-4.1 .5 4.2-1.4 4.1-.6z"/><path class="c27" d="M304.2 468.4l-4.1 .6 4.2-1.5 4.1-.6z"/><path class="c30" d="M308.3 467.8l-4.1 .6 4.2-1.5 4.1-.6z"/><path class="c33" d="M312.4 467.1l-4.1 .7 4.2-1.5 4.1-.7z"/><path class="c36" d="M316.5 466.4l-4.1 .7 4.2-1.5 4.1-.8z"/><path class="c39" d="M320.6 465.6l-4.1 .8 4.2-1.6 4.1-.8z"/><path class="c42" d="M324.7 464.8l-4.1 .8 4.2-1.6 4.1-.8z"/><path class="c45" d="M328.8 463.9l-4.1 .9 4.2-1.6 4.1-.8z"/><path class="c48" d="M332.9 463.1l-4.1 .8 4.2-1.5 4.1-.9z"/><path class="c52" d="M337 462.3l-4.1 .8 4.2-1.6 4.1-.8z"/><path class="c55" d="M341.1 461.5l-4.1 .8 4.2-1.6 4.1-.7z"/><path class="c58" d="M345.2 460.8l-4.1 .7 4.2-1.5 4.1-.7z"/><path class="c61" d="M349.3 460.1l-4.1 .7 4.2-1.5 4.1-.7z"/><path class="c63" d="M353.4 459.5l-4.1 .6 4.2-1.5 4.1-.5z"/><path class="c66" d="M357.5 459.1l-4.1 .4 4.2-1.4 4.1-.4z"/><path class="c68" d="M361.6 458.7l-4.1 .4 4.2-1.4 4.1-.3z"/><path class="c70" d="M365.7 458.6l-4.1 .1 4.2-1.3 4.1-.2z"/><path class="c71" d="M369.8 458.6l-4.1 0 4.2-1.4 4.1 .1z"/><path class="c72" d="M373.9 458.8l-4.1-.2 4.2-1.3 4.1 .2z"/><path class="c73" d="M378 459.2l-4.1-.4 4.2-1.3 4.1 .4zM382.1 459.8l-4.1-.6 4.2-1.3 4.1 .6zM386.2 460.6l-4.1-.8 4.2-1.3 4.1 .8z"/><path class="c72" d="M390.3 461.7l-4.1-1.1 4.2-1.3 4.1 1.1z"/><path class="c70" d="M394.4 462.9l-4.1-1.2 4.2-1.3 4.1 1.2z"/><path class="c68" d="M398.5 464.4l-4.1-1.5 4.2-1.3 4.1 1.5z"/><path class="c66" d="M402.6 466l-4.1-1.6 4.2-1.3 4.1 1.6z"/><path class="c64" d="M406.7 467.9l-4.1-1.9 4.2-1.3 4.1 1.8z"/><path class="c60" d="M410.8 469.8l-4.1-1.9 4.2-1.4 4.1 2z"/><path class="c57" d="M414.9 472l-4.1-2.2 4.2-1.3 4.1 2.1z"/><path class="c53" d="M419 474.2l-4.1-2.2 4.2-1.4 4 2.2z"/><path class="c50" d="M423.1 476.5l-4.1-2.3 4.1-1.4 4.1 2.2z"/><path class="c7" d="M259 471.9l-4.1-.1 4.3-.9 4.1 .1z"/><path class="c8" d="M263.1 472l-4.1-.1 4.3-.9 4 0z"/><path class="c10" d="M267.2 472l-4.1 0 4.2-1 4.1 0z"/><path class="c11" d="M271.3 472l-4.1 0 4.2-1 4.1-.1z"/><path class="c12" d="M275.4 471.9l-4.1 .1 4.2-1.1 4.1-.2z"/><path class="c14" d="M279.5 471.8l-4.1 .1 4.2-1.2 4.1-.2z"/><path class="c16" d="M283.6 471.5l-4.1 .3 4.2-1.3 4.1-.3z"/><path class="c18" d="M287.7 471.2l-4.1 .3 4.2-1.3 4.1-.3z"/><path class="c20" d="M291.8 470.9l-4.1 .3 4.2-1.3 4.1-.4z"/><path class="c22" d="M295.9 470.4l-4.1 .5 4.2-1.4 4.1-.5z"/><path class="c25" d="M300 469.9l-4.1 .5 4.2-1.4 4.1-.6z"/><path class="c27" d="M304.1 469.3l-4.1 .6 4.2-1.5 4.1-.6z"/><path class="c30" d="M308.2 468.6l-4.1 .7 4.2-1.5 4.1-.7z"/><path class="c33" d="M312.3 467.9l-4.1 .7 4.2-1.5 4.1-.7z"/><path class="c36" d="M316.4 467.2l-4.1 .7 4.2-1.5 4.1-.8z"/><path class="c39" d="M320.6 466.4l-4.2 .8 4.2-1.6 4.1-.8z"/><path class="c42" d="M324.7 465.5l-4.1 .9 4.1-1.6 4.1-.9z"/><path class="c46" d="M328.8 464.7l-4.1 .8 4.1-1.6 4.1-.8z"/><path class="c49" d="M332.9 463.9l-4.1 .8 4.1-1.6 4.1-.8z"/><path class="c52" d="M337 463.1l-4.1 .8 4.1-1.6 4.1-.8z"/><path class="c55" d="M341.1 462.3l-4.1 .8 4.1-1.6 4.1-.7z"/><path class="c58" d="M345.2 461.6l-4.1 .7 4.1-1.5 4.1-.7z"/><path class="c61" d="M349.3 461l-4.1 .6 4.1-1.5 4.1-.6z"/><path class="c63" d="M353.4 460.5l-4.1 .5 4.1-1.5 4.1-.4z"/><path class="c65" d="M357.5 460.2l-4.1 .3 4.1-1.4 4.1-.4z"/><path class="c67" d="M361.6 460l-4.1 .2 4.1-1.5 4.1-.1z"/><path class="c69" d="M365.7 460l-4.1 0 4.1-1.4 4.1 0z"/><path class="c70" d="M369.8 460.1l-4.1-.1 4.1-1.4 4.1 .2zM373.9 460.5l-4.1-.4 4.1-1.3 4.1 .4z"/><path class="c71" d="M378 461.1l-4.1-.6 4.1-1.3 4.1 .6z"/><path class="c70" d="M382.1 461.9l-4.1-.8 4.1-1.3 4.1 .8z"/><path class="c69" d="M386.2 463l-4.1-1.1 4.1-1.3 4.1 1.1z"/><path class="c68" d="M390.3 464.3l-4.1-1.3 4.1-1.3 4.1 1.2z"/><path class="c66" d="M394.4 465.7l-4.1-1.4 4.1-1.4 4.1 1.5z"/><path class="c64" d="M398.5 467.4l-4.1-1.7 4.1-1.3 4.1 1.6z"/><path class="c61" d="M402.6 469.3l-4.1-1.9 4.1-1.4 4.1 1.9z"/><path class="c58" d="M406.7 471.3l-4.1-2 4.1-1.4 4.1 1.9z"/><path class="c55" d="M410.8 473.4l-4.1-2.1 4.1-1.5 4.1 2.2z"/><path class="c51" d="M414.9 475.6l-4.1-2.2 4.1-1.4 4.1 2.2z"/><path class="c47" d="M419 477.9l-4.1-2.3 4.1-1.4 4.1 2.3z"/><path class="c6" d="M254.8 472.8l-4.1-.2 4.2-.8 4.1 .1z"/><path class="c7" d="M258.9 473l-4.1-.2 4.2-.9 4.1 .1z"/><path class="c8" d="M263 473.1l-4.1-.1 4.2-1 4.1 0z"/><path class="c9" d="M267.1 473.1l-4.1 0 4.2-1.1 4.1 0z"/><path class="c11" d="M271.2 473.1l-4.1 0 4.2-1.1 4.1-.1z"/><path class="c12" d="M275.3 473l-4.1 .1 4.2-1.2 4.1-.1z"/><path class="c14" d="M279.4 472.8l-4.1 .2 4.2-1.2 4.1-.3z"/><path class="c16" d="M283.5 472.6l-4.1 .2 4.2-1.3 4.1-.3z"/><path class="c18" d="M287.6 472.2l-4.1 .4 4.2-1.4 4.1-.3z"/><path class="c20" d="M291.7 471.9l-4.1 .3 4.2-1.3 4.1-.5z"/><path class="c22" d="M295.8 471.4l-4.1 .5 4.2-1.5 4.1-.5z"/><path class="c25" d="M299.9 470.8l-4.1 .6 4.2-1.5 4.1-.6z"/><path class="c27" d="M304.1 470.2l-4.2 .6 4.2-1.5 4.1-.7z"/><path class="c30" d="M308.2 469.5l-4.1 .7 4.1-1.6 4.1-.7z"/><path class="c33" d="M312.3 468.8l-4.1 .7 4.1-1.6 4.1-.7z"/><path class="c36" d="M316.4 468l-4.1 .8 4.1-1.6 4.2-.8z"/><path class="c39" d="M320.5 467.2l-4.1 .8 4.2-1.6 4.1-.9z"/><path class="c43" d="M324.6 466.4l-4.1 .8 4.2-1.7 4.1-.8z"/><path class="c46" d="M328.7 465.5l-4.1 .9 4.2-1.7 4.1-.8z"/><path class="c49" d="M332.8 464.7l-4.1 .8 4.2-1.6 4.1-.8z"/><path class="c52" d="M336.9 463.9l-4.1 .8 4.2-1.6 4.1-.8z"/><path class="c55" d="M341 463.2l-4.1 .7 4.2-1.6 4.1-.7z"/><path class="c58" d="M345.1 462.5l-4.1 .7 4.2-1.6 4.1-.6z"/><path class="c60" d="M349.2 462l-4.1 .5 4.2-1.5 4.1-.5z"/><path class="c63" d="M353.3 461.6l-4.1 .4 4.2-1.5 4.1-.3z"/><path class="c65" d="M357.4 461.4l-4.1 .2 4.2-1.4 4.1-.2z"/><path class="c66" d="M361.5 461.4l-4.1 0 4.2-1.4 4.1 0z"/><path class="c67" d="M365.6 461.5l-4.1-.1 4.2-1.4 4.1 .1z"/><path class="c68" d="M369.7 461.9l-4.1-.4 4.2-1.4 4.1 .4zM373.8 462.5l-4.1-.6 4.2-1.4 4.1 .6zM377.9 463.3l-4.1-.8 4.2-1.4 4.1 .8z"/><path class="c67" d="M382 464.4l-4.1-1.1 4.2-1.4 4.1 1.1z"/><path class="c66" d="M386.1 465.6l-4.1-1.2 4.2-1.4 4.1 1.3z"/><path class="c64" d="M390.2 467.1l-4.1-1.5 4.2-1.3 4.1 1.4z"/><path class="c61" d="M394.3 468.8l-4.1-1.7 4.2-1.4 4.1 1.7z"/><path class="c59" d="M398.4 470.7l-4.1-1.9 4.2-1.4 4.1 1.9z"/><path class="c55" d="M402.5 472.7l-4.1-2 4.2-1.4 4.1 2z"/><path class="c52" d="M406.6 474.9l-4.1-2.2 4.2-1.4 4.1 2.1z"/><path class="c48" d="M410.7 477.1l-4.1-2.2 4.2-1.5 4.1 2.2z"/><path class="c44" d="M414.8 479.4l-4.1-2.3 4.2-1.5 4.1 2.3z"/><path class="c5" d="M250.6 473.7l-4.1-.3 4.2-.8 4.1 .2z"/><path class="c6" d="M254.7 473.9l-4.1-.2 4.2-.9 4.1 .2z"/><path class="c7" d="M258.8 474l-4.1-.1 4.2-.9 4.1 .1z"/><path class="c8" d="M262.9 474.1l-4.1-.1 4.2-.9 4.1 0z"/><path class="c9" d="M267 474.2l-4.1-.1 4.2-1 4.1 0z"/><path class="c10" d="M271.1 474.1l-4.1 .1 4.2-1.1 4.1-.1z"/><path class="c12" d="M275.2 474.1l-4.1 0 4.2-1.1 4.1-.2z"/><path class="c13" d="M279.3 473.9l-4.1 .2 4.2-1.3 4.1-.2z"/><path class="c15" d="M283.4 473.6l-4.1 .3 4.2-1.3 4.1-.4z"/><path class="c17" d="M287.5 473.3l-4.1 .3 4.2-1.4 4.1-.3z"/><path class="c20" d="M291.6 472.9l-4.1 .4 4.2-1.4 4.1-.5z"/><path class="c22" d="M295.8 472.4l-4.2 .5 4.2-1.5 4.1-.6z"/><path class="c25" d="M299.9 471.8l-4.1 .6 4.1-1.6 4.2-.6z"/><path class="c27" d="M304 471.2l-4.1 .6 4.2-1.6 4.1-.7z"/><path class="c30" d="M308.1 470.5l-4.1 .7 4.2-1.7 4.1-.7z"/><path class="c33" d="M312.2 469.7l-4.1 .8 4.2-1.7 4.1-.8z"/><path class="c36" d="M316.3 468.9l-4.1 .8 4.2-1.7 4.1-.8z"/><path class="c39" d="M320.4 468l-4.1 .9 4.2-1.7 4.1-.8z"/><path class="c43" d="M324.5 467.2l-4.1 .8 4.2-1.6 4.1-.9z"/><path class="c46" d="M328.6 466.4l-4.1 .8 4.2-1.7 4.1-.8z"/><path class="c49" d="M332.7 465.6l-4.1 .8 4.2-1.7 4.1-.8z"/><path class="c52" d="M336.8 464.8l-4.1 .8 4.2-1.7 4.1-.7z"/><path class="c55" d="M340.9 464.1l-4.1 .7 4.2-1.6 4.1-.7z"/><path class="c58" d="M345 463.6l-4.1 .5 4.2-1.6 4.1-.5z"/><path class="c60" d="M349.1 463.1l-4.1 .5 4.2-1.6 4.1-.4z"/><path class="c62" d="M353.2 462.9l-4.1 .2 4.2-1.5 4.1-.2z"/><path class="c64" d="M357.3 462.8l-4.1 .1 4.2-1.5 4.1 0z"/><path class="c65" d="M361.4 462.9l-4.1-.1 4.2-1.4 4.1 .1z"/><path class="c66" d="M365.6 463.3l-4.2-.4 4.2-1.4 4.1 .4zM369.7 463.9l-4.1-.6 4.1-1.4 4.1 .6zM373.8 464.7l-4.1-.8 4.1-1.4 4.1 .8z"/><path class="c65" d="M377.9 465.8l-4.1-1.1 4.1-1.4 4.1 1.1z"/><path class="c63" d="M382 467.1l-4.1-1.3 4.1-1.4 4.1 1.2z"/><path class="c61" d="M386.1 468.6l-4.1-1.5 4.1-1.5 4.1 1.5z"/><path class="c59" d="M390.2 470.3l-4.1-1.7 4.1-1.5 4.1 1.7z"/><path class="c56" d="M394.3 472.2l-4.1-1.9 4.1-1.5 4.1 1.9z"/><path class="c53" d="M398.4 474.3l-4.1-2.1 4.1-1.5 4.1 2z"/><path class="c49" d="M402.5 476.4l-4.1-2.1 4.1-1.6 4.1 2.2z"/><path class="c46" d="M406.6 478.7l-4.1-2.3 4.1-1.5 4.1 2.2z"/><path class="c42" d="M410.7 481l-4.1-2.3 4.1-1.6 4.1 2.3z"/><path class="c4" d="M246.4 474.5l-4.1-.3 4.2-.8 4.1 .3zM250.5 474.7l-4.1-.2 4.2-.8 4.1 .2z"/><path class="c5" d="M254.6 475l-4.1-.3 4.2-.8 4.1 .1z"/><path class="c6" d="M258.7 475.1l-4.1-.1 4.2-1 4.1 .1z"/><path class="c7" d="M262.8 475.2l-4.1-.1 4.2-1 4.1 .1z"/><path class="c8" d="M266.9 475.3l-4.1-.1 4.2-1 4.1-.1z"/><path class="c10" d="M271 475.3l-4.1 0 4.2-1.2 4.1 0z"/><path class="c11" d="M275.1 475.2l-4.1 .1 4.2-1.2 4.1-.2z"/><path class="c13" d="M279.2 475l-4.1 .2 4.2-1.3 4.1-.3z"/><path class="c15" d="M283.3 474.7l-4.1 .3 4.2-1.4 4.1-.3z"/><path class="c17" d="M287.5 474.4l-4.2 .3 4.2-1.4 4.1-.4z"/><path class="c19" d="M291.6 473.9l-4.1 .5 4.1-1.5 4.2-.5z"/><path class="c22" d="M295.7 473.4l-4.1 .5 4.2-1.5 4.1-.6z"/><path class="c24" d="M299.8 472.8l-4.1 .6 4.2-1.6 4.1-.6z"/><path class="c27" d="M303.9 472.2l-4.1 .6 4.2-1.6 4.1-.7z"/><path class="c30" d="M308 471.4l-4.1 .8 4.2-1.7 4.1-.8z"/><path class="c33" d="M312.1 470.6l-4.1 .8 4.2-1.7 4.1-.8z"/><path class="c36" d="M316.2 469.8l-4.1 .8 4.2-1.7 4.1-.9z"/><path class="c40" d="M320.3 468.9l-4.1 .9 4.2-1.8 4.1-.8z"/><path class="c43" d="M324.4 468.1l-4.1 .8 4.2-1.7 4.1-.8z"/><path class="c46" d="M328.5 467.3l-4.1 .8 4.2-1.7 4.1-.8z"/><path class="c49" d="M332.6 466.5l-4.1 .8 4.2-1.7 4.1-.8z"/><path class="c52" d="M336.7 465.8l-4.1 .7 4.2-1.7 4.1-.7z"/><path class="c55" d="M340.9 465.2l-4.2 .6 4.2-1.7 4.1-.5z"/><path class="c57" d="M345 464.7l-4.1 .5 4.1-1.6 4.1-.5z"/><path class="c59" d="M349.1 464.4l-4.1 .3 4.1-1.6 4.1-.2z"/><path class="c61" d="M353.2 464.3l-4.1 .1 4.1-1.5 4.1-.1z"/><path class="c62" d="M357.3 464.4l-4.1-.1 4.1-1.5 4.1 .1z"/><path class="c63" d="M361.4 464.7l-4.1-.3 4.1-1.5 4.2 .4zM365.5 465.3l-4.1-.6 4.2-1.4 4.1 .6zM369.6 466.1l-4.1-.8 4.2-1.4 4.1 .8z"/><path class="c62" d="M373.7 467.2l-4.1-1.1 4.2-1.4 4.1 1.1z"/><path class="c61" d="M377.8 468.5l-4.1-1.3 4.2-1.4 4.1 1.3z"/><path class="c59" d="M381.9 470.1l-4.1-1.6 4.2-1.4 4.1 1.5z"/><path class="c56" d="M386 471.8l-4.1-1.7 4.2-1.5 4.1 1.7z"/><path class="c53" d="M390.2 473.7l-4.2-1.9 4.2-1.5 4.1 1.9z"/><path class="c50" d="M394.3 475.8l-4.1-2.1 4.1-1.5 4.1 2.1z"/><path class="c47" d="M398.4 478l-4.1-2.2 4.1-1.5 4.1 2.1z"/><path class="c43" d="M402.5 480.3l-4.1-2.3 4.1-1.6 4.1 2.3z"/><path class="c39" d="M406.6 482.6l-4.1-2.3 4.1-1.6 4.1 2.3z"/><path class="c3" d="M242.2 475.2l-4.2-.3 4.3-.7 4.1 .3zM246.3 475.5l-4.1-.3 4.2-.7 4.1 .2z"/><path class="c4" d="M250.4 475.8l-4.1-.3 4.2-.8 4.1 .3z"/><path class="c5" d="M254.5 476.1l-4.1-.3 4.2-.8 4.1 .1z"/><path class="c6" d="M258.6 476.2l-4.1-.1 4.2-1 4.1 .1z"/><path class="c7" d="M262.7 476.4l-4.1-.2 4.2-1 4.1 .1z"/><path class="c8" d="M266.8 476.4l-4.1 0 4.2-1.1 4.1 0z"/><path class="c9" d="M270.9 476.4l-4.1 0 4.2-1.1 4.1-.1z"/><path class="c11" d="M275 476.3l-4.1 .1 4.2-1.2 4.1-.2z"/><path class="c12" d="M279.1 476.1l-4.1 .2 4.2-1.3 4.1-.3z"/><path class="c14" d="M283.3 475.8l-4.2 .3 4.2-1.4 4.2-.3z"/><path class="c16" d="M287.4 475.5l-4.1 .3 4.2-1.4 4.1-.5z"/><path class="c19" d="M291.5 475l-4.1 .5 4.2-1.6 4.1-.5z"/><path class="c21" d="M295.6 474.5l-4.1 .5 4.2-1.6 4.1-.6z"/><path class="c24" d="M299.7 473.9l-4.1 .6 4.2-1.7 4.1-.6z"/><path class="c27" d="M303.8 473.2l-4.1 .7 4.2-1.7 4.1-.8z"/><path class="c30" d="M307.9 472.4l-4.1 .8 4.2-1.8 4.1-.8z"/><path class="c33" d="M312 471.6l-4.1 .8 4.2-1.8 4.1-.8z"/><path class="c36" d="M316.1 470.7l-4.1 .9 4.2-1.8 4.1-.9z"/><path class="c39" d="M320.2 469.9l-4.1 .8 4.2-1.8 4.1-.8z"/><path class="c43" d="M324.4 469l-4.2 .9 4.2-1.8 4.1-.8z"/><path class="c46" d="M328.5 468.2l-4.1 .8 4.1-1.7 4.1-.8z"/><path class="c49" d="M332.6 467.5l-4.1 .7 4.1-1.7 4.1-.7z"/><path class="c52" d="M336.7 466.8l-4.1 .7 4.1-1.7 4.2-.6z"/><path class="c54" d="M340.8 466.3l-4.1 .5 4.2-1.6 4.1-.5z"/><path class="c57" d="M344.9 466l-4.1 .3 4.2-1.6 4.1-.3z"/><path class="c58" d="M349 465.8l-4.1 .2 4.2-1.6 4.1-.1z"/><path class="c60" d="M353.1 465.9l-4.1-.1 4.2-1.5 4.1 .1z"/><path class="c61" d="M357.2 466.2l-4.1-.3 4.2-1.5 4.1 .3zM361.3 466.8l-4.1-.6 4.2-1.5 4.1 .6zM365.5 467.6l-4.2-.8 4.2-1.5 4.1 .8z"/><path class="c60" d="M369.6 468.7l-4.1-1.1 4.1-1.5 4.1 1.1z"/><path class="c58" d="M373.7 470l-4.1-1.3 4.1-1.5 4.1 1.3z"/><path class="c56" d="M377.8 471.6l-4.1-1.6 4.1-1.5 4.1 1.6z"/><path class="c54" d="M381.9 473.4l-4.1-1.8 4.1-1.5 4.1 1.7z"/><path class="c51" d="M386 475.4l-4.1-2 4.1-1.6 4.2 1.9z"/><path class="c47" d="M390.1 477.5l-4.1-2.1 4.2-1.7 4.1 2.1z"/><path class="c44" d="M394.2 479.7l-4.1-2.2 4.2-1.7 4.1 2.2z"/><path class="c40" d="M398.3 482l-4.1-2.3 4.2-1.7 4.1 2.3z"/><path class="c36" d="M402.5 484.3l-4.2-2.3 4.2-1.7 4.1 2.3z"/><path class="c2" d="M237.9 475.9l-4.1-.4 4.2-.6 4.2 .3zM242 476.3l-4.1-.4 4.3-.7 4.1 .3z"/><path class="c3" d="M246.2 476.6l-4.2-.3 4.3-.8 4.1 .3z"/><path class="c4" d="M250.3 476.9l-4.1-.3 4.2-.8 4.1 .3zM254.4 477.2l-4.1-.3 4.2-.8 4.1 .1z"/><path class="c5" d="M258.5 477.4l-4.1-.2 4.2-1 4.1 .2z"/><path class="c6" d="M262.6 477.5l-4.1-.1 4.2-1 4.1 0z"/><path class="c7" d="M266.7 477.6l-4.1-.1 4.2-1.1 4.1 0z"/><path class="c9" d="M270.8 477.6l-4.1 0 4.2-1.2 4.1-.1z"/><path class="c10" d="M274.9 477.5l-4.1 .1 4.2-1.3 4.1-.2z"/><path class="c12" d="M279.1 477.3l-4.2 .2 4.2-1.4 4.2-.3z"/><path class="c14" d="M283.2 477l-4.1 .3 4.2-1.5 4.1-.3z"/><path class="c16" d="M287.3 476.6l-4.1 .4 4.2-1.5 4.1-.5z"/><path class="c18" d="M291.4 476.2l-4.1 .4 4.2-1.6 4.1-.5z"/><path class="c21" d="M295.5 475.6l-4.1 .6 4.2-1.7 4.1-.6z"/><path class="c24" d="M299.6 475l-4.1 .6 4.2-1.7 4.1-.7z"/><path class="c27" d="M303.7 474.2l-4.1 .8 4.2-1.8 4.1-.8z"/><path class="c30" d="M307.8 473.4l-4.1 .8 4.2-1.8 4.1-.8z"/><path class="c33" d="M312 472.6l-4.2 .8 4.2-1.8 4.1-.9z"/><path class="c36" d="M316.1 471.7l-4.1 .9 4.1-1.9 4.1-.8z"/><path class="c39" d="M320.2 470.9l-4.1 .8 4.1-1.8 4.2-.9z"/><path class="c43" d="M324.3 470l-4.1 .9 4.2-1.9 4.1-.8z"/><path class="c46" d="M328.4 469.3l-4.1 .7 4.2-1.8 4.1-.7z"/><path class="c49" d="M332.5 468.6l-4.1 .7 4.2-1.8 4.1-.7z"/><path class="c51" d="M336.6 468l-4.1 .6 4.2-1.8 4.1-.5z"/><path class="c54" d="M340.7 467.6l-4.1 .4 4.2-1.7 4.1-.3z"/><path class="c55" d="M344.9 467.5l-4.2 .1 4.2-1.6 4.1-.2z"/><path class="c57" d="M349 467.5l-4.1 0 4.1-1.7 4.1 .1z"/><path class="c58" d="M353.1 467.8l-4.1-.3 4.1-1.6 4.1 .3zM357.2 468.3l-4.1-.5 4.1-1.6 4.1 .6zM361.3 469.1l-4.1-.8 4.1-1.5 4.2 .8z"/><path class="c57" d="M365.4 470.2l-4.1-1.1 4.2-1.5 4.1 1.1z"/><path class="c55" d="M369.5 471.6l-4.1-1.4 4.2-1.5 4.1 1.3z"/><path class="c53" d="M373.6 473.2l-4.1-1.6 4.2-1.6 4.1 1.6z"/><path class="c51" d="M377.8 475l-4.2-1.8 4.2-1.6 4.1 1.8z"/><path class="c48" d="M381.9 477l-4.1-2 4.1-1.6 4.1 2z"/><path class="c44" d="M386 479.2l-4.1-2.2 4.1-1.6 4.1 2.1z"/><path class="c40" d="M390.1 481.4l-4.1-2.2 4.1-1.7 4.1 2.2z"/><path class="c37" d="M394.2 483.7l-4.1-2.3 4.1-1.7 4.1 2.3z"/><path class="c33" d="M398.3 486l-4.1-2.3 4.1-1.7 4.2 2.3z"/><path class="c1" d="M233.7 476.5l-4.1-.5 4.2-.5 4.1 .4z"/><path class="c2" d="M237.8 476.9l-4.1-.4 4.2-.6 4.1 .4zM241.9 477.3l-4.1-.4 4.2-.6 4.2 .3zM246.1 477.7l-4.2-.4 4.3-.7 4.1 .3z"/><path class="c3" d="M250.2 478l-4.1-.3 4.2-.8 4.1 .3z"/><path class="c4" d="M254.3 478.3l-4.1-.3 4.2-.8 4.1 .2z"/><path class="c5" d="M258.4 478.5l-4.1-.2 4.2-.9 4.1 .1z"/><path class="c6" d="M262.5 478.7l-4.1-.2 4.2-1 4.1 .1z"/><path class="c7" d="M266.6 478.8l-4.1-.1 4.2-1.1 4.1 0z"/><path class="c8" d="M270.7 478.8l-4.1 0 4.2-1.2 4.1-.1z"/><path class="c9" d="M274.9 478.7l-4.2 .1 4.2-1.3 4.2-.2z"/><path class="c11" d="M279 478.5l-4.1 .2 4.2-1.4 4.1-.3z"/><path class="c13" d="M283.1 478.2l-4.1 .3 4.2-1.5 4.1-.4z"/><path class="c15" d="M287.2 477.8l-4.1 .4 4.2-1.6 4.1-.4z"/><path class="c18" d="M291.3 477.4l-4.1 .4 4.2-1.6 4.1-.6z"/><path class="c20" d="M295.4 476.8l-4.1 .6 4.2-1.8 4.1-.6z"/><path class="c23" d="M299.5 476.1l-4.1 .7 4.2-1.8 4.1-.8z"/><path class="c26" d="M303.7 475.4l-4.2 .7 4.2-1.9 4.1-.8z"/><path class="c29" d="M307.8 474.5l-4.1 .9 4.1-2 4.2-.8z"/><path class="c32" d="M311.9 473.7l-4.1 .8 4.2-1.9 4.1-.9z"/><path class="c36" d="M316 472.8l-4.1 .9 4.2-2 4.1-.8z"/><path class="c39" d="M320.1 471.9l-4.1 .9 4.2-1.9 4.1-.9z"/><path class="c42" d="M324.2 471.1l-4.1 .8 4.2-1.9 4.1-.7z"/><path class="c45" d="M328.4 470.4l-4.2 .7 4.2-1.8 4.1-.7z"/><path class="c48" d="M332.5 469.8l-4.1 .6 4.1-1.8 4.1-.6z"/><path class="c50" d="M336.6 469.4l-4.1 .4 4.1-1.8 4.1-.4z"/><path class="c52" d="M340.7 469.1l-4.1 .3 4.1-1.8 4.2-.1z"/><path class="c54" d="M344.8 469.1l-4.1 0 4.2-1.6 4.1 0z"/><path class="c55" d="M348.9 469.4l-4.1-.3 4.2-1.6 4.1 .3zM353 469.9l-4.1-.5 4.2-1.6 4.1 .5zM357.2 470.7l-4.2-.8 4.2-1.6 4.1 .8z"/><path class="c54" d="M361.3 471.9l-4.1-1.2 4.1-1.6 4.1 1.1z"/><path class="c53" d="M365.4 473.2l-4.1-1.3 4.1-1.7 4.1 1.4z"/><path class="c50" d="M369.5 474.9l-4.1-1.7 4.1-1.6 4.1 1.6z"/><path class="c48" d="M373.6 476.7l-4.1-1.8 4.1-1.7 4.2 1.8z"/><path class="c45" d="M377.7 478.8l-4.1-2.1 4.2-1.7 4.1 2z"/><path class="c41" d="M381.8 481l-4.1-2.2 4.2-1.8 4.1 2.2z"/><path class="c37" d="M386 483.2l-4.2-2.2 4.2-1.8 4.1 2.2z"/><path class="c33" d="M390.1 485.5l-4.1-2.3 4.1-1.8 4.1 2.3z"/><path class="c29" d="M394.2 487.8l-4.1-2.3 4.1-1.8 4.1 2.3z"/><path class="c1" d="M229.5 477l-4.1-.5 4.2-.5 4.1 .5zM233.6 477.5l-4.1-.5 4.2-.5 4.1 .4zM237.7 478l-4.1-.5 4.2-.6 4.1 .4z"/><path class="c2" d="M241.8 478.4l-4.1-.4 4.2-.7 4.2 .4zM246 478.8l-4.2-.4 4.3-.7 4.1 .3z"/><path class="c3" d="M250.1 479.2l-4.1-.4 4.2-.8 4.1 .3zM254.2 479.5l-4.1-.3 4.2-.9 4.1 .2z"/><path class="c4" d="M258.3 479.7l-4.1-.2 4.2-1 4.1 .2z"/><path class="c5" d="M262.4 479.9l-4.1-.2 4.2-1 4.1 .1z"/><path class="c6" d="M266.5 480l-4.1-.1 4.2-1.1 4.1 0z"/><path class="c7" d="M270.7 480l-4.2 0 4.2-1.2 4.2-.1z"/><path class="c9" d="M274.8 479.9l-4.1 .1 4.2-1.3 4.1-.2z"/><path class="c10" d="M278.9 479.8l-4.1 .1 4.2-1.4 4.1-.3z"/><path class="c12" d="M283 479.5l-4.1 .3 4.2-1.6 4.1-.4z"/><path class="c15" d="M287.1 479.1l-4.1 .4 4.2-1.7 4.1-.4z"/><path class="c17" d="M291.2 478.6l-4.1 .5 4.2-1.7 4.1-.6z"/><path class="c20" d="M295.4 478l-4.2 .6 4.2-1.8 4.1-.7z"/><path class="c22" d="M299.5 477.3l-4.1 .7 4.1-1.9 4.2-.7z"/><path class="c25" d="M303.6 476.6l-4.1 .7 4.2-1.9 4.1-.9z"/><path class="c29" d="M307.7 475.7l-4.1 .9 4.2-2.1 4.1-.8z"/><path class="c32" d="M311.8 474.8l-4.1 .9 4.2-2 4.1-.9z"/><path class="c35" d="M315.9 474l-4.1 .8 4.2-2 4.1-.9z"/><path class="c38" d="M320.1 473.1l-4.1 .9 4.1-2.1 4.1-.8z"/><path class="c42" d="M324.2 472.3l-4.1 .8 4.1-2 4.2-.7z"/><path class="c44" d="M328.3 471.7l-4.1 .6 4.2-1.9 4.1-.6z"/><path class="c47" d="M332.4 471.2l-4.1 .5 4.2-1.9 4.1-.4z"/><path class="c49" d="M336.5 470.9l-4.1 .3 4.2-1.8 4.1-.3z"/><path class="c51" d="M340.7 470.8l-4.2 .1 4.2-1.8 4.1 0z"/><path class="c52" d="M344.8 471.1l-4.1-.3 4.1-1.7 4.1 .3zM348.9 471.6l-4.1-.5 4.1-1.7 4.1 .5zM353 472.4l-4.1-.8 4.1-1.7 4.2 .8z"/><path class="c51" d="M357.1 473.6l-4.1-1.2 4.2-1.7 4.1 1.2z"/><path class="c49" d="M361.2 475l-4.1-1.4 4.2-1.7 4.1 1.3z"/><path class="c47" d="M365.4 476.7l-4.2-1.7 4.2-1.8 4.1 1.7z"/><path class="c44" d="M369.5 478.6l-4.1-1.9 4.1-1.8 4.1 1.8z"/><path class="c41" d="M373.6 480.6l-4.1-2 4.1-1.9 4.1 2.1z"/><path class="c38" d="M377.7 482.8l-4.1-2.2 4.1-1.8 4.1 2.2z"/><path class="c34" d="M381.8 485.1l-4.1-2.3 4.1-1.8 4.2 2.2z"/><path class="c30" d="M385.9 487.4l-4.1-2.3 4.2-1.9 4.1 2.3z"/><path class="c26" d="M390.1 489.6l-4.2-2.2 4.2-1.9 4.1 2.3z"/><path class="c0" d="M225.3 477.5l-4.1-.5 4.2-.5 4.1 .5z"/><path class="c1" d="M229.4 478l-4.1-.5 4.2-.5 4.1 .5zM233.5 478.5l-4.1-.5 4.2-.5 4.1 .5zM237.6 479l-4.1-.5 4.2-.5 4.1 .4zM241.8 479.5l-4.2-.5 4.2-.6 4.2 .4z"/><path class="c2" d="M245.9 479.9l-4.1-.4 4.2-.7 4.1 .4zM250 480.3l-4.1-.4 4.2-.7 4.1 .3z"/><path class="c3" d="M254.1 480.6l-4.1-.3 4.2-.8 4.1 .2zM258.2 480.9l-4.1-.3 4.2-.9 4.1 .2z"/><path class="c4" d="M262.3 481.1l-4.1-.2 4.2-1 4.1 .1z"/><path class="c5" d="M266.5 481.2l-4.2-.1 4.2-1.1 4.2 0z"/><path class="c6" d="M270.6 481.3l-4.1-.1 4.2-1.2 4.1-.1z"/><path class="c8" d="M274.7 481.3l-4.1 0 4.2-1.4 4.1-.1z"/><path class="c9" d="M278.8 481.1l-4.1 .2 4.2-1.5 4.1-.3z"/><path class="c11" d="M282.9 480.8l-4.1 .3 4.2-1.6 4.1-.4z"/><path class="c14" d="M287.1 480.5l-4.2 .3 4.2-1.7 4.1-.5z"/><path class="c16" d="M291.2 480l-4.1 .5 4.1-1.9 4.2-.6z"/><path class="c19" d="M295.3 479.3l-4.1 .7 4.2-2 4.1-.7z"/><path class="c22" d="M299.4 478.6l-4.1 .7 4.2-2 4.1-.7z"/><path class="c25" d="M303.5 477.8l-4.1 .8 4.2-2 4.1-.9z"/><path class="c28" d="M307.7 477l-4.2 .8 4.2-2.1 4.1-.9z"/><path class="c31" d="M311.8 476.1l-4.1 .9 4.1-2.2 4.2-.8z"/><path class="c35" d="M315.9 475.2l-4.1 .9 4.2-2.1 4.1-.9z"/><path class="c38" d="M320 474.4l-4.1 .8 4.2-2.1 4.1-.8z"/><path class="c41" d="M324.1 473.7l-4.1 .7 4.2-2.1 4.1-.6z"/><path class="c43" d="M328.3 473.1l-4.2 .6 4.2-2 4.1-.5z"/><path class="c46" d="M332.4 472.8l-4.1 .3 4.1-1.9 4.1-.3z"/><path class="c47" d="M336.5 472.7l-4.1 .1 4.1-1.9 4.2-.1z"/><path class="c49" d="M340.6 472.9l-4.1-.2 4.2-1.9 4.1 .3zM344.7 473.4l-4.1-.5 4.2-1.8 4.1 .5zM348.9 474.2l-4.2-.8 4.2-1.8 4.1 .8z"/><path class="c48" d="M353 475.3l-4.1-1.1 4.1-1.8 4.1 1.2z"/><path class="c46" d="M357.1 476.8l-4.1-1.5 4.1-1.7 4.1 1.4z"/><path class="c44" d="M361.2 478.5l-4.1-1.7 4.1-1.8 4.2 1.7z"/><path class="c41" d="M365.3 480.5l-4.1-2 4.2-1.8 4.1 1.9z"/><path class="c38" d="M369.4 482.6l-4.1-2.1 4.2-1.9 4.1 2z"/><path class="c34" d="M373.6 484.8l-4.2-2.2 4.2-2 4.1 2.2z"/><path class="c30" d="M377.7 487.1l-4.1-2.3 4.1-2 4.1 2.3z"/><path class="c26" d="M381.8 489.3l-4.1-2.2 4.1-2 4.1 2.3z"/><path class="c22" d="M385.9 491.5l-4.1-2.2 4.1-1.9 4.2 2.2z"/><path class="c0" d="M221.1 477.9l-4.2-.5 4.3-.4 4.1 .5zM225.2 478.5l-4.1-.6 4.2-.4 4.1 .5zM229.3 479l-4.1-.5 4.2-.5 4.1 .5zM233.4 479.5l-4.1-.5 4.2-.5 4.1 .5z"/><path class="c1" d="M237.5 480l-4.1-.5 4.2-.5 4.2 .5zM241.7 480.5l-4.2-.5 4.3-.5 4.1 .4zM245.8 481l-4.1-.5 4.2-.6 4.1 .4z"/><path class="c2" d="M249.9 481.4l-4.1-.4 4.2-.7 4.1 .3zM254 481.8l-4.1-.4 4.2-.8 4.1 .3z"/><path class="c3" d="M258.1 482.1l-4.1-.3 4.2-.9 4.1 .2zM262.3 482.4l-4.2-.3 4.2-1 4.2 .1z"/><path class="c4" d="M266.4 482.5l-4.1-.1 4.2-1.2 4.1 .1z"/><path class="c5" d="M270.5 482.6l-4.1-.1 4.2-1.2 4.1 0z"/><path class="c7" d="M274.6 482.6l-4.1 0 4.2-1.3 4.1-.2z"/><path class="c8" d="M278.8 482.5l-4.2 .1 4.2-1.5 4.1-.3z"/><path class="c10" d="M282.9 482.3l-4.1 .2 4.1-1.7 4.2-.3z"/><path class="c12" d="M287 481.9l-4.1 .4 4.2-1.8 4.1-.5z"/><path class="c15" d="M291.1 481.4l-4.1 .5 4.2-1.9 4.1-.7z"/><path class="c18" d="M295.2 480.8l-4.1 .6 4.2-2.1 4.1-.7z"/><path class="c21" d="M299.4 480.1l-4.2 .7 4.2-2.2 4.1-.8z"/><path class="c24" d="M303.5 479.2l-4.1 .9 4.1-2.3 4.2-.8z"/><path class="c27" d="M307.6 478.3l-4.1 .9 4.2-2.2 4.1-.9z"/><path class="c30" d="M311.7 477.4l-4.1 .9 4.2-2.2 4.1-.9z"/><path class="c34" d="M315.8 476.6l-4.1 .8 4.2-2.2 4.1-.8z"/><path class="c37" d="M320 475.8l-4.2 .8 4.2-2.2 4.1-.7z"/><path class="c40" d="M324.1 475.2l-4.1 .6 4.1-2.1 4.2-.6z"/><path class="c42" d="M328.2 474.8l-4.1 .4 4.2-2.1 4.1-.3z"/><path class="c44" d="M332.3 474.6l-4.1 .2 4.2-2 4.1-.1z"/><path class="c45" d="M336.5 474.7l-4.2-.1 4.2-1.9 4.1 .2z"/><path class="c46" d="M340.6 475.2l-4.1-.5 4.1-1.8 4.1 .5z"/><path class="c45" d="M344.7 476.1l-4.1-.9 4.1-1.8 4.2 .8z"/><path class="c44" d="M348.8 477.2l-4.1-1.1 4.2-1.9 4.1 1.1z"/><path class="c43" d="M352.9 478.8l-4.1-1.6 4.2-1.9 4.1 1.5z"/><path class="c40" d="M357.1 480.5l-4.2-1.7 4.2-2 4.1 1.7z"/><path class="c37" d="M361.2 482.5l-4.1-2 4.1-2 4.1 2z"/><path class="c34" d="M365.3 484.7l-4.1-2.2 4.1-2 4.1 2.1z"/><path class="c30" d="M369.4 487l-4.1-2.3 4.1-2.1 4.2 2.2z"/><path class="c26" d="M373.5 489.2l-4.1-2.2 4.2-2.2 4.1 2.3z"/><path class="c22" d="M377.7 491.4l-4.2-2.2 4.2-2.1 4.1 2.2z"/><path class="c19" d="M381.8 493.5l-4.1-2.1 4.1-2.1 4.1 2.2z"/><path class="c0" d="M216.8 478.3l-4.1-.6 4.2-.3 4.2 .5zM221 478.9l-4.2-.6 4.3-.4 4.1 .6zM225.1 479.4l-4.1-.5 4.2-.4 4.1 .5zM229.2 480l-4.1-.6 4.2-.4 4.1 .5zM233.3 480.5l-4.1-.5 4.2-.5 4.1 .5zM237.5 481l-4.2-.5 4.2-.5 4.2 .5z"/><path class="c1" d="M241.6 481.5l-4.1-.5 4.2-.5 4.1 .5zM245.7 482l-4.1-.5 4.2-.5 4.1 .4zM249.8 482.5l-4.1-.5 4.2-.6 4.1 .4zM253.9 482.9l-4.1-.4 4.2-.7 4.1 .3z"/><path class="c2" d="M258.1 483.3l-4.2-.4 4.2-.8 4.2 .3z"/><path class="c3" d="M262.2 483.6l-4.1-.3 4.2-.9 4.1 .1zM266.3 483.9l-4.1-.3 4.2-1.1 4.1 .1z"/><path class="c4" d="M270.4 484l-4.1-.1 4.2-1.3 4.1 0z"/><path class="c6" d="M274.6 484.1l-4.2-.1 4.2-1.4 4.2-.1z"/><path class="c7" d="M278.7 484l-4.1 .1 4.2-1.6 4.1-.2z"/><path class="c9" d="M282.8 483.8l-4.1 .2 4.2-1.7 4.1-.4z"/><path class="c11" d="M286.9 483.5l-4.1 .3 4.2-1.9 4.1-.5z"/><path class="c13" d="M291.1 483l-4.2 .5 4.2-2.1 4.1-.6z"/><path class="c16" d="M295.2 482.4l-4.1 .6 4.1-2.2 4.2-.7z"/><path class="c19" d="M299.3 481.6l-4.1 .8 4.2-2.3 4.1-.9z"/><path class="c22" d="M303.4 480.8l-4.1 .8 4.2-2.4 4.1-.9z"/><path class="c26" d="M307.6 479.9l-4.2 .9 4.2-2.5 4.1-.9z"/><path class="c29" d="M311.7 479l-4.1 .9 4.1-2.5 4.1-.8z"/><path class="c32" d="M315.8 478.1l-4.1 .9 4.1-2.4 4.2-.8z"/><path class="c35" d="M319.9 477.4l-4.1 .7 4.2-2.3 4.1-.6z"/><path class="c38" d="M324.1 476.9l-4.2 .5 4.2-2.2 4.1-.4z"/><path class="c40" d="M328.2 476.7l-4.1 .2 4.1-2.1 4.1-.2z"/><path class="c41" d="M332.3 476.8l-4.1-.1 4.1-2.1 4.2 .1z"/><path class="c42" d="M336.4 477.2l-4.1-.4 4.2-2.1 4.1 .5zM340.5 478.1l-4.1-.9 4.2-2 4.1 .9z"/><path class="c41" d="M344.7 479.3l-4.2-1.2 4.2-2 4.1 1.1z"/><path class="c39" d="M348.8 480.9l-4.1-1.6 4.1-2.1 4.1 1.6z"/><path class="c36" d="M352.9 482.7l-4.1-1.8 4.1-2.1 4.2 1.7z"/><path class="c33" d="M357 484.8l-4.1-2.1 4.2-2.2 4.1 2z"/><path class="c30" d="M361.2 487l-4.2-2.2 4.2-2.3 4.1 2.2z"/><path class="c26" d="M365.3 489.2l-4.1-2.2 4.1-2.3 4.1 2.3z"/><path class="c22" d="M369.4 491.4l-4.1-2.2 4.1-2.2 4.1 2.2z"/><path class="c18" d="M373.5 493.5l-4.1-2.1 4.1-2.2 4.2 2.2z"/><path class="c15" d="M377.7 495.5l-4.2-2 4.2-2.1 4.1 2.1z"/><path class="c0" d="M212.6 478.6l-4.1-.5 4.2-.4 4.1 .6zM216.7 479.2l-4.1-.6 4.2-.3 4.2 .6zM220.9 479.8l-4.2-.6 4.3-.3 4.1 .5zM225 480.3l-4.1-.5 4.2-.4 4.1 .6zM229.1 480.9l-4.1-.6 4.2-.3 4.1 .5zM233.2 481.4l-4.1-.5 4.2-.4 4.2 .5zM237.4 482l-4.2-.6 4.3-.4 4.1 .5zM241.5 482.5l-4.1-.5 4.2-.5 4.1 .5zM245.6 483l-4.1-.5 4.2-.5 4.1 .5z"/><path class="c1" d="M249.7 483.6l-4.1-.6 4.2-.5 4.1 .4zM253.9 484l-4.2-.4 4.2-.7 4.2 .4zM258 484.5l-4.1-.5 4.2-.7 4.1 .3z"/><path class="c2" d="M262.1 484.9l-4.1-.4 4.2-.9 4.1 .3zM266.3 485.2l-4.2-.3 4.2-1 4.1 .1z"/><path class="c3" d="M270.4 485.4l-4.1-.2 4.1-1.2 4.2 .1z"/><path class="c4" d="M274.5 485.6l-4.1-.2 4.2-1.3 4.1-.1z"/><path class="c6" d="M278.6 485.6l-4.1 0 4.2-1.6 4.1-.2z"/><path class="c7" d="M282.8 485.5l-4.2 .1 4.2-1.8 4.1-.3z"/><path class="c9" d="M286.9 485.2l-4.1 .3 4.1-2 4.2-.5z"/><path class="c12" d="M291 484.7l-4.1 .5 4.2-2.2 4.1-.6z"/><path class="c14" d="M295.1 484.1l-4.1 .6 4.2-2.3 4.1-.8z"/><path class="c17" d="M299.3 483.4l-4.2 .7 4.2-2.5 4.1-.8z"/><path class="c21" d="M303.4 482.5l-4.1 .9 4.1-2.6 4.2-.9z"/><path class="c24" d="M307.5 481.6l-4.1 .9 4.2-2.6 4.1-.9z"/><path class="c27" d="M311.6 480.7l-4.1 .9 4.2-2.6 4.1-.9z"/><path class="c31" d="M315.8 479.9l-4.2 .8 4.2-2.6 4.1-.7z"/><path class="c33" d="M319.9 479.3l-4.1 .6 4.1-2.5 4.2-.5z"/><path class="c36" d="M324 479l-4.1 .3 4.2-2.4 4.1-.2z"/><path class="c37" d="M328.1 479l-4.1 0 4.2-2.3 4.1 .1z"/><path class="c38" d="M332.3 479.4l-4.2-.4 4.2-2.2 4.1 .4zM336.4 480.3l-4.1-.9 4.1-2.2 4.1 .9z"/><path class="c37" d="M340.5 481.5l-4.1-1.2 4.1-2.2 4.2 1.2z"/><path class="c35" d="M344.6 483.2l-4.1-1.7 4.2-2.2 4.1 1.6z"/><path class="c32" d="M348.8 485.1l-4.2-1.9 4.2-2.3 4.1 1.8z"/><path class="c29" d="M352.9 487.3l-4.1-2.2 4.1-2.4 4.1 2.1z"/><path class="c25" d="M357 489.5l-4.1-2.2 4.1-2.5 4.2 2.2z"/><path class="c21" d="M361.1 491.7l-4.1-2.2 4.2-2.5 4.1 2.2z"/><path class="c17" d="M365.3 493.8l-4.1-2.1 4.1-2.5 4.1 2.2z"/><path class="c14" d="M369.4 495.7l-4.1-1.9 4.1-2.4 4.1 2.1z"/><path class="c11" d="M373.5 497.5l-4.1-1.8 4.1-2.2 4.2 2z"/><path class="c0" d="M208.4 479l-4.1-.6 4.2-.3 4.1 .5zM212.5 479.5l-4.1-.5 4.2-.4 4.1 .6zM216.7 480.1l-4.2-.6 4.2-.3 4.2 .6zM220.8 480.7l-4.1-.6 4.2-.3 4.1 .5zM224.9 481.2l-4.1-.5 4.2-.4 4.1 .6zM229 481.8l-4.1-.6 4.2-.3 4.1 .5zM233.2 482.4l-4.2-.6 4.2-.4 4.2 .6zM237.3 482.9l-4.1-.5 4.2-.4 4.1 .5zM241.4 483.5l-4.1-.6 4.2-.4 4.1 .5zM245.5 484l-4.1-.5 4.2-.5 4.1 .6zM249.7 484.6l-4.2-.6 4.2-.4 4.2 .4zM253.8 485.1l-4.1-.5 4.2-.6 4.1 .5z"/><path class="c1" d="M257.9 485.6l-4.1-.5 4.2-.6 4.1 .4zM262.1 486.1l-4.2-.5 4.2-.7 4.2 .3zM266.2 486.5l-4.1-.4 4.2-.9 4.1 .2z"/><path class="c2" d="M270.3 486.8l-4.1-.3 4.2-1.1 4.1 .2z"/><path class="c3" d="M274.4 487.1l-4.1-.3 4.2-1.2 4.1 0z"/><path class="c4" d="M278.6 487.2l-4.2-.1 4.2-1.5 4.2-.1z"/><path class="c6" d="M282.7 487.2l-4.1 0 4.2-1.7 4.1-.3z"/><path class="c7" d="M286.8 487.1l-4.1 .1 4.2-2 4.1-.5z"/><path class="c10" d="M291 486.7l-4.2 .4 4.2-2.4 4.1-.6z"/><path class="c12" d="M295.1 486.1l-4.1 .6 4.1-2.6 4.2-.7z"/><path class="c15" d="M299.2 485.4l-4.1 .7 4.2-2.7 4.1-.9z"/><path class="c18" d="M303.3 484.5l-4.1 .9 4.2-2.9 4.1-.9z"/><path class="c22" d="M307.5 483.6l-4.2 .9 4.2-2.9 4.1-.9z"/><path class="c25" d="M311.6 482.7l-4.1 .9 4.1-2.9 4.2-.8z"/><path class="c28" d="M315.7 482l-4.1 .7 4.2-2.8 4.1-.6z"/><path class="c31" d="M319.9 481.5l-4.2 .5 4.2-2.7 4.1-.3z"/><path class="c32" d="M324 481.4l-4.1 .1 4.1-2.5 4.1 0z"/><path class="c33" d="M328.1 481.8l-4.1-.4 4.1-2.4 4.2 .4zM332.2 482.7l-4.1-.9 4.2-2.4 4.1 .9z"/><path class="c32" d="M336.4 484.1l-4.2-1.4 4.2-2.4 4.1 1.2z"/><path class="c30" d="M340.5 485.8l-4.1-1.7 4.1-2.6 4.1 1.7z"/><path class="c27" d="M344.6 487.9l-4.1-2.1 4.1-2.6 4.2 1.9z"/><path class="c23" d="M348.8 490.1l-4.2-2.2 4.2-2.8 4.1 2.2z"/><path class="c20" d="M352.9 492.3l-4.1-2.2 4.1-2.8 4.1 2.2z"/><path class="c16" d="M357 494.4l-4.1-2.1 4.1-2.8 4.2 2.2z"/><path class="c12" d="M361.1 496.3l-4.1-1.9 4.2-2.7 4.1 2.1z"/><path class="c9" d="M365.3 497.9l-4.2-1.6 4.2-2.5 4.1 1.9z"/><path class="c7" d="M369.4 499.3l-4.1-1.4 4.1-2.2 4.1 1.8z"/><path class="c0" d="M204.2 479.3l-4.2-.6 4.3-.3 4.1 .6zM208.3 479.9l-4.1-.6 4.2-.3 4.1 .5zM212.4 480.4l-4.1-.5 4.2-.4 4.2 .6zM216.6 481l-4.2-.6 4.3-.3 4.1 .6zM220.7 481.6l-4.1-.6 4.2-.3 4.1 .5zM224.8 482.1l-4.1-.5 4.2-.4 4.1 .6zM229 482.7l-4.2-.6 4.2-.3 4.2 .6zM233.1 483.3l-4.1-.6 4.2-.3 4.1 .5zM237.2 483.8l-4.1-.5 4.2-.4 4.1 .6zM241.3 484.4l-4.1-.6 4.2-.3 4.1 .5zM245.5 484.9l-4.2-.5 4.2-.4 4.2 .6zM249.6 485.5l-4.1-.6 4.2-.3 4.1 .5zM253.7 486.1l-4.1-.6 4.2-.4 4.1 .5zM257.9 486.6l-4.2-.5 4.2-.5 4.2 .5zM262 487.2l-4.1-.6 4.2-.5 4.1 .4z"/><path class="c1" d="M266.1 487.7l-4.1-.5 4.2-.7 4.1 .3zM270.3 488.2l-4.2-.5 4.2-.9 4.1 .3z"/><path class="c2" d="M274.4 488.6l-4.1-.4 4.1-1.1 4.2 .1zM278.5 488.9l-4.1-.3 4.2-1.4 4.1 0z"/><path class="c3" d="M282.7 489.1l-4.2-.2 4.2-1.7 4.1-.1z"/><path class="c5" d="M286.8 489.1l-4.1 0 4.1-2 4.2-.4z"/><path class="c7" d="M290.9 488.9l-4.1 .2 4.2-2.4 4.1-.6z"/><path class="c9" d="M295 488.5l-4.1 .4 4.2-2.8 4.1-.7z"/><path class="c12" d="M299.2 487.9l-4.2 .6 4.2-3.1 4.1-.9z"/><path class="c15" d="M303.3 487l-4.1 .9 4.1-3.4 4.2-.9z"/><path class="c19" d="M307.4 486.1l-4.1 .9 4.2-3.4 4.1-.9z"/><path class="c22" d="M311.6 485.2l-4.2 .9 4.2-3.4 4.1-.7z"/><path class="c25" d="M315.7 484.6l-4.1 .6 4.1-3.2 4.2-.5z"/><path class="c27" d="M319.8 484.3l-4.1 .3 4.2-3.1 4.1-.1z"/><path class="c28" d="M324 484.6l-4.2-.3 4.2-2.9 4.1 .4zM328.1 485.6l-4.1-1 4.1-2.8 4.1 .9z"/><path class="c26" d="M332.2 487.1l-4.1-1.5 4.1-2.9 4.2 1.4z"/><path class="c24" d="M336.4 489l-4.2-1.9 4.2-3 4.1 1.7z"/><path class="c21" d="M340.5 491.1l-4.1-2.1 4.1-3.2 4.1 2.1z"/><path class="c17" d="M344.6 493.3l-4.1-2.2 4.1-3.2 4.2 2.2z"/><path class="c13" d="M348.7 495.4l-4.1-2.1 4.2-3.2 4.1 2.2z"/><path class="c10" d="M352.9 497.2l-4.2-1.8 4.2-3.1 4.1 2.1z"/><path class="c7" d="M357 498.7l-4.1-1.5 4.1-2.8 4.1 1.9z"/><path class="c5" d="M361.1 499.9l-4.1-1.2 4.1-2.4 4.2 1.6z"/><path class="c3" d="M365.3 500.8l-4.2-.9 4.2-2 4.1 1.4z"/><path class="c0" d="M200 479.6l-4.2-.5 4.2-.4 4.2 .6zM204.1 480.2l-4.1-.6 4.2-.3 4.1 .6zM208.2 480.8l-4.1-.6 4.2-.3 4.1 .5zM212.4 481.3l-4.2-.5 4.2-.4 4.2 .6zM216.5 481.9l-4.1-.6 4.2-.3 4.1 .6zM220.6 482.5l-4.1-.6 4.2-.3 4.1 .5zM224.8 483l-4.2-.5 4.2-.4 4.2 .6zM228.9 483.6l-4.1-.6 4.2-.3 4.1 .6zM233 484.2l-4.1-.6 4.2-.3 4.1 .5zM237.1 484.7l-4.1-.5 4.2-.4 4.1 .6zM241.3 485.3l-4.2-.6 4.2-.3 4.2 .5zM245.4 485.8l-4.1-.5 4.2-.4 4.1 .6zM249.5 486.4l-4.1-.6 4.2-.3 4.1 .6zM253.7 487l-4.2-.6 4.2-.3 4.2 .5zM257.8 487.5l-4.1-.5 4.2-.4 4.1 .6zM261.9 488.1l-4.1-.6 4.2-.3 4.1 .5zM266.1 488.7l-4.2-.6 4.2-.4 4.2 .5zM270.2 489.2l-4.1-.5 4.2-.5 4.1 .4z"/><path class="c1" d="M274.3 489.8l-4.1-.6 4.2-.6 4.1 .3zM278.5 490.3l-4.2-.5 4.2-.9 4.2 .2zM282.6 490.8l-4.1-.5 4.2-1.2 4.1 0z"/><path class="c2" d="M286.7 491.2l-4.1-.4 4.2-1.7 4.1-.2z"/><path class="c4" d="M290.9 491.4l-4.2-.2 4.2-2.3 4.1-.4z"/><path class="c5" d="M295 491.4l-4.1 0 4.1-2.9 4.2-.6z"/><path class="c8" d="M299.1 491.1l-4.1 .3 4.2-3.5 4.1-.9z"/><path class="c11" d="M303.3 490.4l-4.2 .7 4.2-4.1 4.1-.9z"/><path class="c14" d="M307.4 489.4l-4.1 1 4.1-4.3 4.2-.9z"/><path class="c17" d="M311.5 488.5l-4.1 .9 4.2-4.2 4.1-.6z"/><path class="c20" d="M315.7 488l-4.2 .5 4.2-3.9 4.1-.3z"/><path class="c21" d="M319.8 488.2l-4.1-.2 4.1-3.7 4.2 .3zM323.9 489.2l-4.1-1 4.2-3.6 4.1 1z"/><path class="c20" d="M328.1 491l-4.2-1.8 4.2-3.6 4.1 1.5z"/><path class="c17" d="M332.2 493.1l-4.1-2.1 4.1-3.9 4.2 1.9z"/><path class="c13" d="M336.3 495.2l-4.1-2.1 4.2-4.1 4.1 2.1z"/><path class="c10" d="M340.5 497.1l-4.2-1.9 4.2-4.1 4.1 2.2z"/><path class="c7" d="M344.6 498.5l-4.1-1.4 4.1-3.8 4.1 2.1z"/><path class="c4" d="M348.7 499.6l-4.1-1.1 4.1-3.1 4.2 1.8z"/><path class="c3" d="M352.9 500.4l-4.2-.8 4.2-2.4 4.1 1.5z"/><path class="c2" d="M357 501l-4.1-.6 4.1-1.7 4.1 1.2z"/><path class="c1" d="M361.1 501.6l-4.1-.6 4.1-1.1 4.2 .9z"/></g>
<path d="M191.6 479.4L191.6 408.0M191.6 479.4L357.0 502.0M357.0 502.0L563.6 485.0M191.6 479.4L187.1 479.7M191.6 443.7L187.1 444.0M191.6 408.0L187.1 408.3M357.0 502.0L360.0 501.8M315.6 496.4L318.6 496.1M274.3 490.7L277.3 490.5M233.0 485.1L235.9 484.8M191.6 479.4L194.6 479.2M357.0 502.0L354.0 501.6M398.3 498.6L395.3 498.2M439.6 495.2L436.7 494.8M481.0 491.8L478.0 491.4M522.3 488.4L519.3 488.0M563.6 485.0L560.6 484.6" fill="none" stroke="#111" stroke-width="1"/>
<g font-family="Liberation Sans, sans-serif" font-size="10.5" fill="#1e1e1e" stroke="#1e1e1e" stroke-width="0.2"><text x="182.1" y="483.0" text-anchor="end">0</text><text x="182.1" y="447.3" text-anchor="end">1</text><text x="182.1" y="411.6" text-anchor="end">2</text><text x="343.7" y="514.3" text-anchor="end">0.9</text><text x="303.1" y="508.7" text-anchor="end">1</text><text x="262.5" y="503.0" text-anchor="end">1.1</text><text x="221.9" y="497.4" text-anchor="end">1.2</text><text x="181.3" y="491.7" text-anchor="end">1.3</text><text x="360.5" y="514.3">0</text><text x="404.8" y="510.9">0.1</text><text x="446.1" y="507.5">0.2</text><text x="487.5" y="504.1">0.3</text><text x="528.8" y="500.7">0.4</text><text x="570.1" y="497.3">0.5</text><text x="267.0" y="527.1" text-anchor="middle">S/K</text><text transform="translate(169.6 443.5) rotate(-90)" text-anchor="middle">Vega</text></g>
<text x="467.5" y="529.0" font-family="Liberation Sans, Noto Sans CJK SC, sans-serif" font-size="12.5" letter-spacing="1.2" fill="#151515" stroke="#151515" stroke-width="0.12" text-anchor="middle">到期时间</text>
<text x="291.5" y="383.8" font-family="Liberation Sans, Noto Sans CJK SC, sans-serif" font-size="12.5" fill="#27277c" stroke="#27277c" stroke-width="0.15"><tspan letter-spacing="1.15">执行价为</tspan><tspan font-size="11">2000</tspan><tspan letter-spacing="1.15">的期权的日化</tspan><tspan font-size="10.5">Vega</tspan></text>
</svg>
<div class="abs slogan" style="left:80.5px">共创期市繁荣</div>
<div class="abs slogan" style="left:197.2px">共享投资价值</div>
<!-- logo -->
<svg class="abs" style="left:590px;top:545px" width="190" height="55" viewBox="0 0 190 55">
<defs>
<linearGradient id="gold" x1="0" y1="0.6" x2="1" y2="0.4">
<stop offset="0" stop-color="#8a7a2c"/><stop offset="0.18" stop-color="#c4b25a"/><stop offset="0.34" stop-color="#93812f"/><stop offset="0.55" stop-color="#d8c76c"/><stop offset="0.75" stop-color="#a8943a"/><stop offset="1" stop-color="#7a6a22"/>
</linearGradient>
<linearGradient id="gold2" x1="0" y1="0" x2="1" y2="0">
<stop offset="0" stop-color="#9a8832"/><stop offset="0.45" stop-color="#d6c56c"/><stop offset="1" stop-color="#a08c36"/>
</linearGradient>
</defs>
<path d="M33.3 6.8C35.0 7.5 38.3 9.6 40.2 11.4C42.1 13.2 43.6 15.8 44.8 17.6C46.0 19.4 47.0 20.9 47.5 22.2C48.0 23.4 48.2 24.0 47.9 25.2C47.6 26.5 46.6 28.7 45.6 29.8C44.6 31.0 44.2 31.7 41.7 32.1C39.3 32.6 34.3 32.7 31.0 32.5C27.7 32.4 23.8 31.9 21.8 31.4C19.8 30.8 19.4 30.0 18.7 29.1C18.0 28.2 17.6 27.3 17.6 26.0C17.6 24.7 18.0 23.1 18.7 21.4C19.4 19.7 20.7 17.8 21.8 16.0C23.0 14.2 24.2 12.1 25.6 10.7C27.0 9.2 29.0 7.9 30.2 7.2C31.5 6.6 31.6 6.1 33.3 6.8Z" fill="url(#gold)"/>
<path d="M26 26.6C31 25.4 40 24 47.6 23.2C48.2 25 47.4 27.6 45.6 29.8C44 31.6 42 32.2 38 32.5C34 32.7 31 32.6 29.5 32.3C28 30.5 26.8 28.5 26 26.6Z" fill="url(#gold2)"/>
<path d="M24.3 16.8L26.4 26.4L38.7 23.9Z" fill="#fce9c1"/>
<path d="M24.3 16.8L26.4 26.4C27.2 28.6 28.4 30.6 30.2 32.4L28.6 32.3C26.6 30.4 25.2 28 24.6 26Z" fill="#6e5f1e" opacity="0.75"/>
<g fill="#1b5577" font-family="Liberation Sans, Noto Sans CJK SC, sans-serif" font-weight="700">
<text transform="translate(11.8 45.2) scale(1.4 1)" font-size="7.5">江铜集团</text>
<text transform="translate(62.4 33.5) scale(1.41 1)" font-size="14" letter-spacing="2.24" font-weight="700">金瑞期货</text>
<text transform="translate(62.5 44.9) scale(1.30 1)" font-size="8.3">JINRUI FUTURES</text>
</g>
</svg>
</body>
</html>
